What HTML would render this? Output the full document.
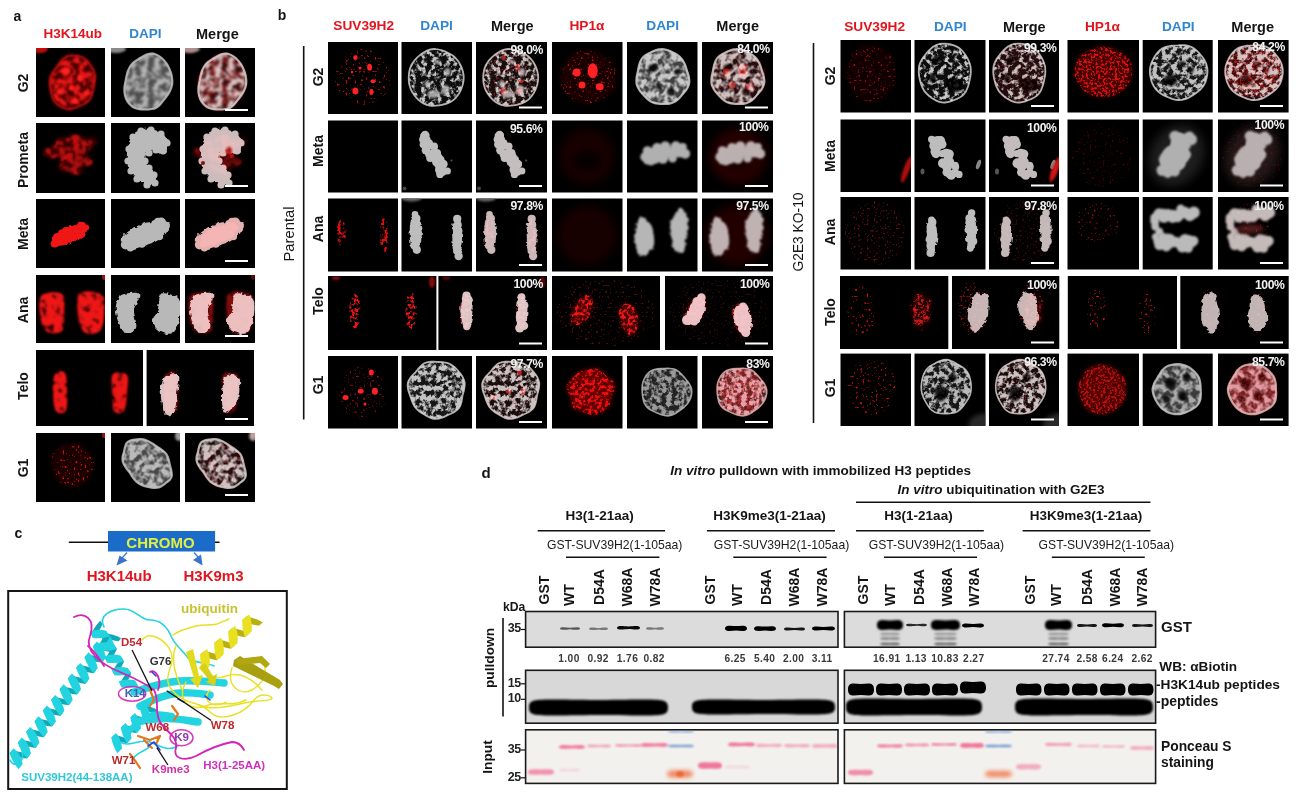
<!DOCTYPE html>
<html><head><meta charset="utf-8"><style>
html,body{margin:0;padding:0;background:#fff;}
#fig{filter:blur(0.35px);position:relative;width:1299px;height:801px;overflow:hidden;background:#fff;font-family:'Liberation Sans', sans-serif;}
.t{position:absolute;white-space:nowrap;line-height:1;}
svg{position:absolute;left:0;top:0;}
</style></head><body><div id="fig">
<svg width="1299" height="801" viewBox="0 0 1299 801">
<defs>
<filter id="b05" x="-20%" y="-20%" width="140%" height="140%"><feGaussianBlur stdDeviation="0.5"/></filter>
<filter id="b1" x="-30%" y="-30%" width="160%" height="160%"><feGaussianBlur stdDeviation="1"/></filter>
<filter id="b2" x="-50%" y="-50%" width="200%" height="200%"><feGaussianBlur stdDeviation="2"/></filter>
<filter id="b3" x="-50%" y="-50%" width="200%" height="200%"><feGaussianBlur stdDeviation="3"/></filter>
<filter id="b5" x="-50%" y="-50%" width="200%" height="200%"><feGaussianBlur stdDeviation="5"/></filter>
<filter id="net1" filterUnits="userSpaceOnUse" x="-20" y="-20" width="160" height="120"><feTurbulence type="fractalNoise" baseFrequency="0.13" numOctaves="3" seed="7" result="n"/><feColorMatrix in="n" type="matrix" values="0 0 0 0 0 0 0 0 0 0 0 0 0 0 0 5 0 0 0 -2.05" result="m"/><feComposite in="SourceGraphic" in2="m" operator="in" result="c"/><feGaussianBlur in="c" stdDeviation="0.45"/></filter>
<filter id="nts1" filterUnits="userSpaceOnUse" x="-20" y="-20" width="160" height="120"><feTurbulence type="fractalNoise" baseFrequency="0.16" numOctaves="2" seed="5" result="n"/><feColorMatrix in="n" type="matrix" values="0 0 0 0 0 0 0 0 0 0 0 0 0 0 0 3.5 0 0 0 -1.2" result="m"/><feComposite in="SourceGraphic" in2="m" operator="in" result="c"/><feGaussianBlur in="c" stdDeviation="0.5"/></filter>
<filter id="spk1" filterUnits="userSpaceOnUse" x="-20" y="-20" width="160" height="120"><feTurbulence type="fractalNoise" baseFrequency="0.45" numOctaves="1" seed="3" result="n"/><feColorMatrix in="n" type="matrix" values="0 0 0 0 0 0 0 0 0 0 0 0 0 0 0 8 0 0 0 -4.9" result="m"/><feComposite in="SourceGraphic" in2="m" operator="in" result="c"/><feGaussianBlur in="c" stdDeviation="0.4"/></filter>
<filter id="spd1" filterUnits="userSpaceOnUse" x="-20" y="-20" width="160" height="120"><feTurbulence type="fractalNoise" baseFrequency="0.3" numOctaves="2" seed="11" result="n"/><feColorMatrix in="n" type="matrix" values="0 0 0 0 0 0 0 0 0 0 0 0 0 0 0 6 0 0 0 -2.8" result="m"/><feComposite in="SourceGraphic" in2="m" operator="in" result="c"/><feGaussianBlur in="c" stdDeviation="0.45"/></filter>
<filter id="nef1" filterUnits="userSpaceOnUse" x="-20" y="-20" width="160" height="120"><feTurbulence type="fractalNoise" baseFrequency="0.2" numOctaves="3" seed="17" result="n"/><feColorMatrix in="n" type="matrix" values="0 0 0 0 0 0 0 0 0 0 0 0 0 0 0 5 0 0 0 -2.0" result="m"/><feComposite in="SourceGraphic" in2="m" operator="in" result="c"/><feGaussianBlur in="c" stdDeviation="0.4"/></filter>
<filter id="nfd1" filterUnits="userSpaceOnUse" x="-20" y="-20" width="160" height="120"><feTurbulence type="fractalNoise" baseFrequency="0.2" numOctaves="3" seed="19" result="n"/><feColorMatrix in="n" type="matrix" values="0 0 0 0 0 0 0 0 0 0 0 0 0 0 0 5 0 0 0 -2.35" result="m"/><feComposite in="SourceGraphic" in2="m" operator="in" result="c"/><feGaussianBlur in="c" stdDeviation="0.4"/></filter>
<filter id="spf1" filterUnits="userSpaceOnUse" x="-20" y="-20" width="160" height="120"><feTurbulence type="fractalNoise" baseFrequency="0.42" numOctaves="2" seed="23" result="n"/><feColorMatrix in="n" type="matrix" values="0 0 0 0 0 0 0 0 0 0 0 0 0 0 0 6 0 0 0 -2.9" result="m"/><feComposite in="SourceGraphic" in2="m" operator="in" result="c"/><feGaussianBlur in="c" stdDeviation="0.4"/></filter>
<filter id="rsm1" filterUnits="userSpaceOnUse" x="-20" y="-20" width="160" height="120"><feTurbulence type="fractalNoise" baseFrequency="0.16" numOctaves="2" seed="29" result="n"/><feColorMatrix in="n" type="matrix" values="0 0 0 0 0 0 0 0 0 0 0 0 0 0 0 4 0 0 0 -1.5" result="m"/><feComposite in="SourceGraphic" in2="m" operator="in" result="c"/><feGaussianBlur in="c" stdDeviation="0.8"/></filter>
<filter id="rsf1" filterUnits="userSpaceOnUse" x="-20" y="-20" width="160" height="120"><feTurbulence type="fractalNoise" baseFrequency="0.16" numOctaves="2" seed="31" result="n"/><feColorMatrix in="n" type="matrix" values="0 0 0 0 0 0 0 0 0 0 0 0 0 0 0 4 0 0 0 -0.9" result="m"/><feComposite in="SourceGraphic" in2="m" operator="in" result="c"/><feGaussianBlur in="c" stdDeviation="0.8"/></filter>
<filter id="net2" filterUnits="userSpaceOnUse" x="-20" y="-20" width="160" height="120"><feTurbulence type="fractalNoise" baseFrequency="0.13" numOctaves="3" seed="14" result="n"/><feColorMatrix in="n" type="matrix" values="0 0 0 0 0 0 0 0 0 0 0 0 0 0 0 5 0 0 0 -2.05" result="m"/><feComposite in="SourceGraphic" in2="m" operator="in" result="c"/><feGaussianBlur in="c" stdDeviation="0.45"/></filter>
<filter id="nts2" filterUnits="userSpaceOnUse" x="-20" y="-20" width="160" height="120"><feTurbulence type="fractalNoise" baseFrequency="0.16" numOctaves="2" seed="10" result="n"/><feColorMatrix in="n" type="matrix" values="0 0 0 0 0 0 0 0 0 0 0 0 0 0 0 3.5 0 0 0 -1.2" result="m"/><feComposite in="SourceGraphic" in2="m" operator="in" result="c"/><feGaussianBlur in="c" stdDeviation="0.5"/></filter>
<filter id="spk2" filterUnits="userSpaceOnUse" x="-20" y="-20" width="160" height="120"><feTurbulence type="fractalNoise" baseFrequency="0.45" numOctaves="1" seed="6" result="n"/><feColorMatrix in="n" type="matrix" values="0 0 0 0 0 0 0 0 0 0 0 0 0 0 0 8 0 0 0 -4.9" result="m"/><feComposite in="SourceGraphic" in2="m" operator="in" result="c"/><feGaussianBlur in="c" stdDeviation="0.4"/></filter>
<filter id="spd2" filterUnits="userSpaceOnUse" x="-20" y="-20" width="160" height="120"><feTurbulence type="fractalNoise" baseFrequency="0.3" numOctaves="2" seed="22" result="n"/><feColorMatrix in="n" type="matrix" values="0 0 0 0 0 0 0 0 0 0 0 0 0 0 0 6 0 0 0 -2.8" result="m"/><feComposite in="SourceGraphic" in2="m" operator="in" result="c"/><feGaussianBlur in="c" stdDeviation="0.45"/></filter>
<filter id="nef2" filterUnits="userSpaceOnUse" x="-20" y="-20" width="160" height="120"><feTurbulence type="fractalNoise" baseFrequency="0.2" numOctaves="3" seed="34" result="n"/><feColorMatrix in="n" type="matrix" values="0 0 0 0 0 0 0 0 0 0 0 0 0 0 0 5 0 0 0 -2.0" result="m"/><feComposite in="SourceGraphic" in2="m" operator="in" result="c"/><feGaussianBlur in="c" stdDeviation="0.4"/></filter>
<filter id="nfd2" filterUnits="userSpaceOnUse" x="-20" y="-20" width="160" height="120"><feTurbulence type="fractalNoise" baseFrequency="0.2" numOctaves="3" seed="38" result="n"/><feColorMatrix in="n" type="matrix" values="0 0 0 0 0 0 0 0 0 0 0 0 0 0 0 5 0 0 0 -2.35" result="m"/><feComposite in="SourceGraphic" in2="m" operator="in" result="c"/><feGaussianBlur in="c" stdDeviation="0.4"/></filter>
<filter id="spf2" filterUnits="userSpaceOnUse" x="-20" y="-20" width="160" height="120"><feTurbulence type="fractalNoise" baseFrequency="0.42" numOctaves="2" seed="46" result="n"/><feColorMatrix in="n" type="matrix" values="0 0 0 0 0 0 0 0 0 0 0 0 0 0 0 6 0 0 0 -2.9" result="m"/><feComposite in="SourceGraphic" in2="m" operator="in" result="c"/><feGaussianBlur in="c" stdDeviation="0.4"/></filter>
<filter id="rsm2" filterUnits="userSpaceOnUse" x="-20" y="-20" width="160" height="120"><feTurbulence type="fractalNoise" baseFrequency="0.16" numOctaves="2" seed="58" result="n"/><feColorMatrix in="n" type="matrix" values="0 0 0 0 0 0 0 0 0 0 0 0 0 0 0 4 0 0 0 -1.5" result="m"/><feComposite in="SourceGraphic" in2="m" operator="in" result="c"/><feGaussianBlur in="c" stdDeviation="0.8"/></filter>
<filter id="rsf2" filterUnits="userSpaceOnUse" x="-20" y="-20" width="160" height="120"><feTurbulence type="fractalNoise" baseFrequency="0.16" numOctaves="2" seed="62" result="n"/><feColorMatrix in="n" type="matrix" values="0 0 0 0 0 0 0 0 0 0 0 0 0 0 0 4 0 0 0 -0.9" result="m"/><feComposite in="SourceGraphic" in2="m" operator="in" result="c"/><feGaussianBlur in="c" stdDeviation="0.8"/></filter>
<filter id="net3" filterUnits="userSpaceOnUse" x="-20" y="-20" width="160" height="120"><feTurbulence type="fractalNoise" baseFrequency="0.13" numOctaves="3" seed="21" result="n"/><feColorMatrix in="n" type="matrix" values="0 0 0 0 0 0 0 0 0 0 0 0 0 0 0 5 0 0 0 -2.05" result="m"/><feComposite in="SourceGraphic" in2="m" operator="in" result="c"/><feGaussianBlur in="c" stdDeviation="0.45"/></filter>
<filter id="nts3" filterUnits="userSpaceOnUse" x="-20" y="-20" width="160" height="120"><feTurbulence type="fractalNoise" baseFrequency="0.16" numOctaves="2" seed="15" result="n"/><feColorMatrix in="n" type="matrix" values="0 0 0 0 0 0 0 0 0 0 0 0 0 0 0 3.5 0 0 0 -1.2" result="m"/><feComposite in="SourceGraphic" in2="m" operator="in" result="c"/><feGaussianBlur in="c" stdDeviation="0.5"/></filter>
<filter id="spk3" filterUnits="userSpaceOnUse" x="-20" y="-20" width="160" height="120"><feTurbulence type="fractalNoise" baseFrequency="0.45" numOctaves="1" seed="9" result="n"/><feColorMatrix in="n" type="matrix" values="0 0 0 0 0 0 0 0 0 0 0 0 0 0 0 8 0 0 0 -4.9" result="m"/><feComposite in="SourceGraphic" in2="m" operator="in" result="c"/><feGaussianBlur in="c" stdDeviation="0.4"/></filter>
<filter id="spd3" filterUnits="userSpaceOnUse" x="-20" y="-20" width="160" height="120"><feTurbulence type="fractalNoise" baseFrequency="0.3" numOctaves="2" seed="33" result="n"/><feColorMatrix in="n" type="matrix" values="0 0 0 0 0 0 0 0 0 0 0 0 0 0 0 6 0 0 0 -2.8" result="m"/><feComposite in="SourceGraphic" in2="m" operator="in" result="c"/><feGaussianBlur in="c" stdDeviation="0.45"/></filter>
<filter id="nef3" filterUnits="userSpaceOnUse" x="-20" y="-20" width="160" height="120"><feTurbulence type="fractalNoise" baseFrequency="0.2" numOctaves="3" seed="51" result="n"/><feColorMatrix in="n" type="matrix" values="0 0 0 0 0 0 0 0 0 0 0 0 0 0 0 5 0 0 0 -2.0" result="m"/><feComposite in="SourceGraphic" in2="m" operator="in" result="c"/><feGaussianBlur in="c" stdDeviation="0.4"/></filter>
<filter id="nfd3" filterUnits="userSpaceOnUse" x="-20" y="-20" width="160" height="120"><feTurbulence type="fractalNoise" baseFrequency="0.2" numOctaves="3" seed="57" result="n"/><feColorMatrix in="n" type="matrix" values="0 0 0 0 0 0 0 0 0 0 0 0 0 0 0 5 0 0 0 -2.35" result="m"/><feComposite in="SourceGraphic" in2="m" operator="in" result="c"/><feGaussianBlur in="c" stdDeviation="0.4"/></filter>
<filter id="spf3" filterUnits="userSpaceOnUse" x="-20" y="-20" width="160" height="120"><feTurbulence type="fractalNoise" baseFrequency="0.42" numOctaves="2" seed="69" result="n"/><feColorMatrix in="n" type="matrix" values="0 0 0 0 0 0 0 0 0 0 0 0 0 0 0 6 0 0 0 -2.9" result="m"/><feComposite in="SourceGraphic" in2="m" operator="in" result="c"/><feGaussianBlur in="c" stdDeviation="0.4"/></filter>
<filter id="rsm3" filterUnits="userSpaceOnUse" x="-20" y="-20" width="160" height="120"><feTurbulence type="fractalNoise" baseFrequency="0.16" numOctaves="2" seed="87" result="n"/><feColorMatrix in="n" type="matrix" values="0 0 0 0 0 0 0 0 0 0 0 0 0 0 0 4 0 0 0 -1.5" result="m"/><feComposite in="SourceGraphic" in2="m" operator="in" result="c"/><feGaussianBlur in="c" stdDeviation="0.8"/></filter>
<filter id="rsf3" filterUnits="userSpaceOnUse" x="-20" y="-20" width="160" height="120"><feTurbulence type="fractalNoise" baseFrequency="0.16" numOctaves="2" seed="93" result="n"/><feColorMatrix in="n" type="matrix" values="0 0 0 0 0 0 0 0 0 0 0 0 0 0 0 4 0 0 0 -0.9" result="m"/><feComposite in="SourceGraphic" in2="m" operator="in" result="c"/><feGaussianBlur in="c" stdDeviation="0.8"/></filter>
<filter id="net4" filterUnits="userSpaceOnUse" x="-20" y="-20" width="160" height="120"><feTurbulence type="fractalNoise" baseFrequency="0.13" numOctaves="3" seed="28" result="n"/><feColorMatrix in="n" type="matrix" values="0 0 0 0 0 0 0 0 0 0 0 0 0 0 0 5 0 0 0 -2.05" result="m"/><feComposite in="SourceGraphic" in2="m" operator="in" result="c"/><feGaussianBlur in="c" stdDeviation="0.45"/></filter>
<filter id="nts4" filterUnits="userSpaceOnUse" x="-20" y="-20" width="160" height="120"><feTurbulence type="fractalNoise" baseFrequency="0.16" numOctaves="2" seed="20" result="n"/><feColorMatrix in="n" type="matrix" values="0 0 0 0 0 0 0 0 0 0 0 0 0 0 0 3.5 0 0 0 -1.2" result="m"/><feComposite in="SourceGraphic" in2="m" operator="in" result="c"/><feGaussianBlur in="c" stdDeviation="0.5"/></filter>
<filter id="spk4" filterUnits="userSpaceOnUse" x="-20" y="-20" width="160" height="120"><feTurbulence type="fractalNoise" baseFrequency="0.45" numOctaves="1" seed="12" result="n"/><feColorMatrix in="n" type="matrix" values="0 0 0 0 0 0 0 0 0 0 0 0 0 0 0 8 0 0 0 -4.9" result="m"/><feComposite in="SourceGraphic" in2="m" operator="in" result="c"/><feGaussianBlur in="c" stdDeviation="0.4"/></filter>
<filter id="spd4" filterUnits="userSpaceOnUse" x="-20" y="-20" width="160" height="120"><feTurbulence type="fractalNoise" baseFrequency="0.3" numOctaves="2" seed="44" result="n"/><feColorMatrix in="n" type="matrix" values="0 0 0 0 0 0 0 0 0 0 0 0 0 0 0 6 0 0 0 -2.8" result="m"/><feComposite in="SourceGraphic" in2="m" operator="in" result="c"/><feGaussianBlur in="c" stdDeviation="0.45"/></filter>
<filter id="nef4" filterUnits="userSpaceOnUse" x="-20" y="-20" width="160" height="120"><feTurbulence type="fractalNoise" baseFrequency="0.2" numOctaves="3" seed="68" result="n"/><feColorMatrix in="n" type="matrix" values="0 0 0 0 0 0 0 0 0 0 0 0 0 0 0 5 0 0 0 -2.0" result="m"/><feComposite in="SourceGraphic" in2="m" operator="in" result="c"/><feGaussianBlur in="c" stdDeviation="0.4"/></filter>
<filter id="nfd4" filterUnits="userSpaceOnUse" x="-20" y="-20" width="160" height="120"><feTurbulence type="fractalNoise" baseFrequency="0.2" numOctaves="3" seed="76" result="n"/><feColorMatrix in="n" type="matrix" values="0 0 0 0 0 0 0 0 0 0 0 0 0 0 0 5 0 0 0 -2.35" result="m"/><feComposite in="SourceGraphic" in2="m" operator="in" result="c"/><feGaussianBlur in="c" stdDeviation="0.4"/></filter>
<filter id="spf4" filterUnits="userSpaceOnUse" x="-20" y="-20" width="160" height="120"><feTurbulence type="fractalNoise" baseFrequency="0.42" numOctaves="2" seed="92" result="n"/><feColorMatrix in="n" type="matrix" values="0 0 0 0 0 0 0 0 0 0 0 0 0 0 0 6 0 0 0 -2.9" result="m"/><feComposite in="SourceGraphic" in2="m" operator="in" result="c"/><feGaussianBlur in="c" stdDeviation="0.4"/></filter>
<filter id="rsm4" filterUnits="userSpaceOnUse" x="-20" y="-20" width="160" height="120"><feTurbulence type="fractalNoise" baseFrequency="0.16" numOctaves="2" seed="116" result="n"/><feColorMatrix in="n" type="matrix" values="0 0 0 0 0 0 0 0 0 0 0 0 0 0 0 4 0 0 0 -1.5" result="m"/><feComposite in="SourceGraphic" in2="m" operator="in" result="c"/><feGaussianBlur in="c" stdDeviation="0.8"/></filter>
<filter id="rsf4" filterUnits="userSpaceOnUse" x="-20" y="-20" width="160" height="120"><feTurbulence type="fractalNoise" baseFrequency="0.16" numOctaves="2" seed="124" result="n"/><feColorMatrix in="n" type="matrix" values="0 0 0 0 0 0 0 0 0 0 0 0 0 0 0 4 0 0 0 -0.9" result="m"/><feComposite in="SourceGraphic" in2="m" operator="in" result="c"/><feGaussianBlur in="c" stdDeviation="0.8"/></filter>
<filter id="net5" filterUnits="userSpaceOnUse" x="-20" y="-20" width="160" height="120"><feTurbulence type="fractalNoise" baseFrequency="0.13" numOctaves="3" seed="35" result="n"/><feColorMatrix in="n" type="matrix" values="0 0 0 0 0 0 0 0 0 0 0 0 0 0 0 5 0 0 0 -2.05" result="m"/><feComposite in="SourceGraphic" in2="m" operator="in" result="c"/><feGaussianBlur in="c" stdDeviation="0.45"/></filter>
<filter id="nts5" filterUnits="userSpaceOnUse" x="-20" y="-20" width="160" height="120"><feTurbulence type="fractalNoise" baseFrequency="0.16" numOctaves="2" seed="25" result="n"/><feColorMatrix in="n" type="matrix" values="0 0 0 0 0 0 0 0 0 0 0 0 0 0 0 3.5 0 0 0 -1.2" result="m"/><feComposite in="SourceGraphic" in2="m" operator="in" result="c"/><feGaussianBlur in="c" stdDeviation="0.5"/></filter>
<filter id="spk5" filterUnits="userSpaceOnUse" x="-20" y="-20" width="160" height="120"><feTurbulence type="fractalNoise" baseFrequency="0.45" numOctaves="1" seed="15" result="n"/><feColorMatrix in="n" type="matrix" values="0 0 0 0 0 0 0 0 0 0 0 0 0 0 0 8 0 0 0 -4.9" result="m"/><feComposite in="SourceGraphic" in2="m" operator="in" result="c"/><feGaussianBlur in="c" stdDeviation="0.4"/></filter>
<filter id="spd5" filterUnits="userSpaceOnUse" x="-20" y="-20" width="160" height="120"><feTurbulence type="fractalNoise" baseFrequency="0.3" numOctaves="2" seed="55" result="n"/><feColorMatrix in="n" type="matrix" values="0 0 0 0 0 0 0 0 0 0 0 0 0 0 0 6 0 0 0 -2.8" result="m"/><feComposite in="SourceGraphic" in2="m" operator="in" result="c"/><feGaussianBlur in="c" stdDeviation="0.45"/></filter>
<filter id="nef5" filterUnits="userSpaceOnUse" x="-20" y="-20" width="160" height="120"><feTurbulence type="fractalNoise" baseFrequency="0.2" numOctaves="3" seed="85" result="n"/><feColorMatrix in="n" type="matrix" values="0 0 0 0 0 0 0 0 0 0 0 0 0 0 0 5 0 0 0 -2.0" result="m"/><feComposite in="SourceGraphic" in2="m" operator="in" result="c"/><feGaussianBlur in="c" stdDeviation="0.4"/></filter>
<filter id="nfd5" filterUnits="userSpaceOnUse" x="-20" y="-20" width="160" height="120"><feTurbulence type="fractalNoise" baseFrequency="0.2" numOctaves="3" seed="95" result="n"/><feColorMatrix in="n" type="matrix" values="0 0 0 0 0 0 0 0 0 0 0 0 0 0 0 5 0 0 0 -2.35" result="m"/><feComposite in="SourceGraphic" in2="m" operator="in" result="c"/><feGaussianBlur in="c" stdDeviation="0.4"/></filter>
<filter id="spf5" filterUnits="userSpaceOnUse" x="-20" y="-20" width="160" height="120"><feTurbulence type="fractalNoise" baseFrequency="0.42" numOctaves="2" seed="115" result="n"/><feColorMatrix in="n" type="matrix" values="0 0 0 0 0 0 0 0 0 0 0 0 0 0 0 6 0 0 0 -2.9" result="m"/><feComposite in="SourceGraphic" in2="m" operator="in" result="c"/><feGaussianBlur in="c" stdDeviation="0.4"/></filter>
<filter id="rsm5" filterUnits="userSpaceOnUse" x="-20" y="-20" width="160" height="120"><feTurbulence type="fractalNoise" baseFrequency="0.16" numOctaves="2" seed="145" result="n"/><feColorMatrix in="n" type="matrix" values="0 0 0 0 0 0 0 0 0 0 0 0 0 0 0 4 0 0 0 -1.5" result="m"/><feComposite in="SourceGraphic" in2="m" operator="in" result="c"/><feGaussianBlur in="c" stdDeviation="0.8"/></filter>
<filter id="rsf5" filterUnits="userSpaceOnUse" x="-20" y="-20" width="160" height="120"><feTurbulence type="fractalNoise" baseFrequency="0.16" numOctaves="2" seed="155" result="n"/><feColorMatrix in="n" type="matrix" values="0 0 0 0 0 0 0 0 0 0 0 0 0 0 0 4 0 0 0 -0.9" result="m"/><feComposite in="SourceGraphic" in2="m" operator="in" result="c"/><feGaussianBlur in="c" stdDeviation="0.8"/></filter>
<filter id="net6" filterUnits="userSpaceOnUse" x="-20" y="-20" width="160" height="120"><feTurbulence type="fractalNoise" baseFrequency="0.13" numOctaves="3" seed="42" result="n"/><feColorMatrix in="n" type="matrix" values="0 0 0 0 0 0 0 0 0 0 0 0 0 0 0 5 0 0 0 -2.05" result="m"/><feComposite in="SourceGraphic" in2="m" operator="in" result="c"/><feGaussianBlur in="c" stdDeviation="0.45"/></filter>
<filter id="nts6" filterUnits="userSpaceOnUse" x="-20" y="-20" width="160" height="120"><feTurbulence type="fractalNoise" baseFrequency="0.16" numOctaves="2" seed="30" result="n"/><feColorMatrix in="n" type="matrix" values="0 0 0 0 0 0 0 0 0 0 0 0 0 0 0 3.5 0 0 0 -1.2" result="m"/><feComposite in="SourceGraphic" in2="m" operator="in" result="c"/><feGaussianBlur in="c" stdDeviation="0.5"/></filter>
<filter id="spk6" filterUnits="userSpaceOnUse" x="-20" y="-20" width="160" height="120"><feTurbulence type="fractalNoise" baseFrequency="0.45" numOctaves="1" seed="18" result="n"/><feColorMatrix in="n" type="matrix" values="0 0 0 0 0 0 0 0 0 0 0 0 0 0 0 8 0 0 0 -4.9" result="m"/><feComposite in="SourceGraphic" in2="m" operator="in" result="c"/><feGaussianBlur in="c" stdDeviation="0.4"/></filter>
<filter id="spd6" filterUnits="userSpaceOnUse" x="-20" y="-20" width="160" height="120"><feTurbulence type="fractalNoise" baseFrequency="0.3" numOctaves="2" seed="66" result="n"/><feColorMatrix in="n" type="matrix" values="0 0 0 0 0 0 0 0 0 0 0 0 0 0 0 6 0 0 0 -2.8" result="m"/><feComposite in="SourceGraphic" in2="m" operator="in" result="c"/><feGaussianBlur in="c" stdDeviation="0.45"/></filter>
<filter id="nef6" filterUnits="userSpaceOnUse" x="-20" y="-20" width="160" height="120"><feTurbulence type="fractalNoise" baseFrequency="0.2" numOctaves="3" seed="102" result="n"/><feColorMatrix in="n" type="matrix" values="0 0 0 0 0 0 0 0 0 0 0 0 0 0 0 5 0 0 0 -2.0" result="m"/><feComposite in="SourceGraphic" in2="m" operator="in" result="c"/><feGaussianBlur in="c" stdDeviation="0.4"/></filter>
<filter id="nfd6" filterUnits="userSpaceOnUse" x="-20" y="-20" width="160" height="120"><feTurbulence type="fractalNoise" baseFrequency="0.2" numOctaves="3" seed="114" result="n"/><feColorMatrix in="n" type="matrix" values="0 0 0 0 0 0 0 0 0 0 0 0 0 0 0 5 0 0 0 -2.35" result="m"/><feComposite in="SourceGraphic" in2="m" operator="in" result="c"/><feGaussianBlur in="c" stdDeviation="0.4"/></filter>
<filter id="spf6" filterUnits="userSpaceOnUse" x="-20" y="-20" width="160" height="120"><feTurbulence type="fractalNoise" baseFrequency="0.42" numOctaves="2" seed="138" result="n"/><feColorMatrix in="n" type="matrix" values="0 0 0 0 0 0 0 0 0 0 0 0 0 0 0 6 0 0 0 -2.9" result="m"/><feComposite in="SourceGraphic" in2="m" operator="in" result="c"/><feGaussianBlur in="c" stdDeviation="0.4"/></filter>
<filter id="rsm6" filterUnits="userSpaceOnUse" x="-20" y="-20" width="160" height="120"><feTurbulence type="fractalNoise" baseFrequency="0.16" numOctaves="2" seed="174" result="n"/><feColorMatrix in="n" type="matrix" values="0 0 0 0 0 0 0 0 0 0 0 0 0 0 0 4 0 0 0 -1.5" result="m"/><feComposite in="SourceGraphic" in2="m" operator="in" result="c"/><feGaussianBlur in="c" stdDeviation="0.8"/></filter>
<filter id="rsf6" filterUnits="userSpaceOnUse" x="-20" y="-20" width="160" height="120"><feTurbulence type="fractalNoise" baseFrequency="0.16" numOctaves="2" seed="186" result="n"/><feColorMatrix in="n" type="matrix" values="0 0 0 0 0 0 0 0 0 0 0 0 0 0 0 4 0 0 0 -0.9" result="m"/><feComposite in="SourceGraphic" in2="m" operator="in" result="c"/><feGaussianBlur in="c" stdDeviation="0.8"/></filter>
<filter id="net7" filterUnits="userSpaceOnUse" x="-20" y="-20" width="160" height="120"><feTurbulence type="fractalNoise" baseFrequency="0.13" numOctaves="3" seed="49" result="n"/><feColorMatrix in="n" type="matrix" values="0 0 0 0 0 0 0 0 0 0 0 0 0 0 0 5 0 0 0 -2.05" result="m"/><feComposite in="SourceGraphic" in2="m" operator="in" result="c"/><feGaussianBlur in="c" stdDeviation="0.45"/></filter>
<filter id="nts7" filterUnits="userSpaceOnUse" x="-20" y="-20" width="160" height="120"><feTurbulence type="fractalNoise" baseFrequency="0.16" numOctaves="2" seed="35" result="n"/><feColorMatrix in="n" type="matrix" values="0 0 0 0 0 0 0 0 0 0 0 0 0 0 0 3.5 0 0 0 -1.2" result="m"/><feComposite in="SourceGraphic" in2="m" operator="in" result="c"/><feGaussianBlur in="c" stdDeviation="0.5"/></filter>
<filter id="spk7" filterUnits="userSpaceOnUse" x="-20" y="-20" width="160" height="120"><feTurbulence type="fractalNoise" baseFrequency="0.45" numOctaves="1" seed="21" result="n"/><feColorMatrix in="n" type="matrix" values="0 0 0 0 0 0 0 0 0 0 0 0 0 0 0 8 0 0 0 -4.9" result="m"/><feComposite in="SourceGraphic" in2="m" operator="in" result="c"/><feGaussianBlur in="c" stdDeviation="0.4"/></filter>
<filter id="spd7" filterUnits="userSpaceOnUse" x="-20" y="-20" width="160" height="120"><feTurbulence type="fractalNoise" baseFrequency="0.3" numOctaves="2" seed="77" result="n"/><feColorMatrix in="n" type="matrix" values="0 0 0 0 0 0 0 0 0 0 0 0 0 0 0 6 0 0 0 -2.8" result="m"/><feComposite in="SourceGraphic" in2="m" operator="in" result="c"/><feGaussianBlur in="c" stdDeviation="0.45"/></filter>
<filter id="nef7" filterUnits="userSpaceOnUse" x="-20" y="-20" width="160" height="120"><feTurbulence type="fractalNoise" baseFrequency="0.2" numOctaves="3" seed="119" result="n"/><feColorMatrix in="n" type="matrix" values="0 0 0 0 0 0 0 0 0 0 0 0 0 0 0 5 0 0 0 -2.0" result="m"/><feComposite in="SourceGraphic" in2="m" operator="in" result="c"/><feGaussianBlur in="c" stdDeviation="0.4"/></filter>
<filter id="nfd7" filterUnits="userSpaceOnUse" x="-20" y="-20" width="160" height="120"><feTurbulence type="fractalNoise" baseFrequency="0.2" numOctaves="3" seed="133" result="n"/><feColorMatrix in="n" type="matrix" values="0 0 0 0 0 0 0 0 0 0 0 0 0 0 0 5 0 0 0 -2.35" result="m"/><feComposite in="SourceGraphic" in2="m" operator="in" result="c"/><feGaussianBlur in="c" stdDeviation="0.4"/></filter>
<filter id="spf7" filterUnits="userSpaceOnUse" x="-20" y="-20" width="160" height="120"><feTurbulence type="fractalNoise" baseFrequency="0.42" numOctaves="2" seed="161" result="n"/><feColorMatrix in="n" type="matrix" values="0 0 0 0 0 0 0 0 0 0 0 0 0 0 0 6 0 0 0 -2.9" result="m"/><feComposite in="SourceGraphic" in2="m" operator="in" result="c"/><feGaussianBlur in="c" stdDeviation="0.4"/></filter>
<filter id="rsm7" filterUnits="userSpaceOnUse" x="-20" y="-20" width="160" height="120"><feTurbulence type="fractalNoise" baseFrequency="0.16" numOctaves="2" seed="203" result="n"/><feColorMatrix in="n" type="matrix" values="0 0 0 0 0 0 0 0 0 0 0 0 0 0 0 4 0 0 0 -1.5" result="m"/><feComposite in="SourceGraphic" in2="m" operator="in" result="c"/><feGaussianBlur in="c" stdDeviation="0.8"/></filter>
<filter id="rsf7" filterUnits="userSpaceOnUse" x="-20" y="-20" width="160" height="120"><feTurbulence type="fractalNoise" baseFrequency="0.16" numOctaves="2" seed="217" result="n"/><feColorMatrix in="n" type="matrix" values="0 0 0 0 0 0 0 0 0 0 0 0 0 0 0 4 0 0 0 -0.9" result="m"/><feComposite in="SourceGraphic" in2="m" operator="in" result="c"/><feGaussianBlur in="c" stdDeviation="0.8"/></filter>
<filter id="net8" filterUnits="userSpaceOnUse" x="-20" y="-20" width="160" height="120"><feTurbulence type="fractalNoise" baseFrequency="0.13" numOctaves="3" seed="56" result="n"/><feColorMatrix in="n" type="matrix" values="0 0 0 0 0 0 0 0 0 0 0 0 0 0 0 5 0 0 0 -2.05" result="m"/><feComposite in="SourceGraphic" in2="m" operator="in" result="c"/><feGaussianBlur in="c" stdDeviation="0.45"/></filter>
<filter id="nts8" filterUnits="userSpaceOnUse" x="-20" y="-20" width="160" height="120"><feTurbulence type="fractalNoise" baseFrequency="0.16" numOctaves="2" seed="40" result="n"/><feColorMatrix in="n" type="matrix" values="0 0 0 0 0 0 0 0 0 0 0 0 0 0 0 3.5 0 0 0 -1.2" result="m"/><feComposite in="SourceGraphic" in2="m" operator="in" result="c"/><feGaussianBlur in="c" stdDeviation="0.5"/></filter>
<filter id="spk8" filterUnits="userSpaceOnUse" x="-20" y="-20" width="160" height="120"><feTurbulence type="fractalNoise" baseFrequency="0.45" numOctaves="1" seed="24" result="n"/><feColorMatrix in="n" type="matrix" values="0 0 0 0 0 0 0 0 0 0 0 0 0 0 0 8 0 0 0 -4.9" result="m"/><feComposite in="SourceGraphic" in2="m" operator="in" result="c"/><feGaussianBlur in="c" stdDeviation="0.4"/></filter>
<filter id="spd8" filterUnits="userSpaceOnUse" x="-20" y="-20" width="160" height="120"><feTurbulence type="fractalNoise" baseFrequency="0.3" numOctaves="2" seed="88" result="n"/><feColorMatrix in="n" type="matrix" values="0 0 0 0 0 0 0 0 0 0 0 0 0 0 0 6 0 0 0 -2.8" result="m"/><feComposite in="SourceGraphic" in2="m" operator="in" result="c"/><feGaussianBlur in="c" stdDeviation="0.45"/></filter>
<filter id="nef8" filterUnits="userSpaceOnUse" x="-20" y="-20" width="160" height="120"><feTurbulence type="fractalNoise" baseFrequency="0.2" numOctaves="3" seed="136" result="n"/><feColorMatrix in="n" type="matrix" values="0 0 0 0 0 0 0 0 0 0 0 0 0 0 0 5 0 0 0 -2.0" result="m"/><feComposite in="SourceGraphic" in2="m" operator="in" result="c"/><feGaussianBlur in="c" stdDeviation="0.4"/></filter>
<filter id="nfd8" filterUnits="userSpaceOnUse" x="-20" y="-20" width="160" height="120"><feTurbulence type="fractalNoise" baseFrequency="0.2" numOctaves="3" seed="152" result="n"/><feColorMatrix in="n" type="matrix" values="0 0 0 0 0 0 0 0 0 0 0 0 0 0 0 5 0 0 0 -2.35" result="m"/><feComposite in="SourceGraphic" in2="m" operator="in" result="c"/><feGaussianBlur in="c" stdDeviation="0.4"/></filter>
<filter id="spf8" filterUnits="userSpaceOnUse" x="-20" y="-20" width="160" height="120"><feTurbulence type="fractalNoise" baseFrequency="0.42" numOctaves="2" seed="184" result="n"/><feColorMatrix in="n" type="matrix" values="0 0 0 0 0 0 0 0 0 0 0 0 0 0 0 6 0 0 0 -2.9" result="m"/><feComposite in="SourceGraphic" in2="m" operator="in" result="c"/><feGaussianBlur in="c" stdDeviation="0.4"/></filter>
<filter id="rsm8" filterUnits="userSpaceOnUse" x="-20" y="-20" width="160" height="120"><feTurbulence type="fractalNoise" baseFrequency="0.16" numOctaves="2" seed="232" result="n"/><feColorMatrix in="n" type="matrix" values="0 0 0 0 0 0 0 0 0 0 0 0 0 0 0 4 0 0 0 -1.5" result="m"/><feComposite in="SourceGraphic" in2="m" operator="in" result="c"/><feGaussianBlur in="c" stdDeviation="0.8"/></filter>
<filter id="rsf8" filterUnits="userSpaceOnUse" x="-20" y="-20" width="160" height="120"><feTurbulence type="fractalNoise" baseFrequency="0.16" numOctaves="2" seed="248" result="n"/><feColorMatrix in="n" type="matrix" values="0 0 0 0 0 0 0 0 0 0 0 0 0 0 0 4 0 0 0 -0.9" result="m"/><feComposite in="SourceGraphic" in2="m" operator="in" result="c"/><feGaussianBlur in="c" stdDeviation="0.8"/></filter>
<filter id="lump1" x="-30%" y="-30%" width="160%" height="160%"><feTurbulence type="fractalNoise" baseFrequency="0.22" numOctaves="2" seed="13" result="n"/><feDisplacementMap in="SourceGraphic" in2="n" scale="5" xChannelSelector="R" yChannelSelector="G" result="d"/><feGaussianBlur in="d" stdDeviation="0.5"/></filter>
<filter id="lump2" x="-30%" y="-30%" width="160%" height="160%"><feTurbulence type="fractalNoise" baseFrequency="0.22" numOctaves="2" seed="26" result="n"/><feDisplacementMap in="SourceGraphic" in2="n" scale="5" xChannelSelector="R" yChannelSelector="G" result="d"/><feGaussianBlur in="d" stdDeviation="0.5"/></filter>
<filter id="lump3" x="-30%" y="-30%" width="160%" height="160%"><feTurbulence type="fractalNoise" baseFrequency="0.22" numOctaves="2" seed="39" result="n"/><feDisplacementMap in="SourceGraphic" in2="n" scale="5" xChannelSelector="R" yChannelSelector="G" result="d"/><feGaussianBlur in="d" stdDeviation="0.5"/></filter>
<filter id="lump4" x="-30%" y="-30%" width="160%" height="160%"><feTurbulence type="fractalNoise" baseFrequency="0.22" numOctaves="2" seed="52" result="n"/><feDisplacementMap in="SourceGraphic" in2="n" scale="5" xChannelSelector="R" yChannelSelector="G" result="d"/><feGaussianBlur in="d" stdDeviation="0.5"/></filter>
</defs>
<line x1="303.7" y1="46.0" x2="303.7" y2="419.5" stroke="#111" stroke-width="1.6"/>
<line x1="813.5" y1="43.0" x2="813.5" y2="423.0" stroke="#111" stroke-width="1.6"/>
<line x1="68.8" y1="542.3" x2="219.6" y2="542.3" stroke="#111" stroke-width="1.6"/>
<rect x="108.0" y="531.0" width="107.1" height="20.5" fill="#1a6cc8" />
<rect x="8.2" y="591.0" width="278.6" height="198.0" fill="none" stroke="#151515" stroke-width="2"/>
<line x1="856.0" y1="502.3" x2="1150.4" y2="502.3" stroke="#111" stroke-width="1.6"/>
<line x1="537.7" y1="530.7" x2="665.0" y2="530.7" stroke="#111" stroke-width="1.6"/>
<line x1="707.0" y1="530.7" x2="835.0" y2="530.7" stroke="#111" stroke-width="1.6"/>
<line x1="856.0" y1="530.7" x2="983.8" y2="530.7" stroke="#111" stroke-width="1.6"/>
<line x1="1022.6" y1="530.7" x2="1150.4" y2="530.7" stroke="#111" stroke-width="1.6"/>
<line x1="566.0" y1="557.2" x2="659.4" y2="557.2" stroke="#111" stroke-width="1.6"/>
<line x1="733.3" y1="557.2" x2="826.6" y2="557.2" stroke="#111" stroke-width="1.6"/>
<line x1="884.0" y1="557.2" x2="977.0" y2="557.2" stroke="#111" stroke-width="1.6"/>
<line x1="1051.9" y1="557.2" x2="1144.8" y2="557.2" stroke="#111" stroke-width="1.6"/>
<rect x="525.6" y="611.5" width="312.4" height="35.7" fill="#dcdcdc" stroke="#1a1a1a" stroke-width="1.6"/>
<rect x="525.6" y="670.3" width="312.4" height="52.9" fill="#d8d8d8" stroke="#1a1a1a" stroke-width="1.6"/>
<rect x="525.6" y="729.8" width="312.4" height="53.6" fill="#f3f1ee" stroke="#1a1a1a" stroke-width="1.6"/>
<rect x="844.4" y="611.5" width="311.2" height="35.7" fill="#dcdcdc" stroke="#1a1a1a" stroke-width="1.6"/>
<rect x="844.4" y="670.3" width="311.2" height="52.9" fill="#d8d8d8" stroke="#1a1a1a" stroke-width="1.6"/>
<rect x="844.4" y="729.8" width="311.2" height="53.6" fill="#f3f1ee" stroke="#1a1a1a" stroke-width="1.6"/>
<line x1="521.0" y1="629.5" x2="525.0" y2="629.5" stroke="#111" stroke-width="1.2"/>
<line x1="521.0" y1="683.8" x2="525.0" y2="683.8" stroke="#111" stroke-width="1.2"/>
<line x1="521.0" y1="699.3" x2="525.0" y2="699.3" stroke="#111" stroke-width="1.2"/>
<line x1="521.0" y1="750.0" x2="525.0" y2="750.0" stroke="#111" stroke-width="1.2"/>
<line x1="521.0" y1="777.8" x2="525.0" y2="777.8" stroke="#111" stroke-width="1.2"/>
<line x1="503.0" y1="618.0" x2="503.0" y2="716.4" stroke="#111" stroke-width="1.6"/>
<rect x="36.0" y="48.0" width="69.0" height="69.0" fill="#000"/>
<clipPath id="q1"><rect x="0" y="0" width="69.0" height="69.0"/></clipPath>
<g transform="translate(36.0,48.0)"><g clip-path="url(#q1)">
<ellipse cx="4.0" cy="1.0" rx="8.0" ry="4.0" transform="rotate(0 4.0 1.0)" fill="#c01010" filter="url(#b1)"/>
<path d="M57.3,40.1C56.9,42.0 56.7,44.1 56.0,46.1C55.4,48.0 54.6,50.2 53.4,51.7C52.2,53.3 50.5,54.5 48.9,55.5C47.4,56.5 45.6,57.0 44.0,57.7C42.4,58.4 40.9,59.1 39.3,59.7C37.7,60.2 36.1,60.9 34.4,61.0C32.8,61.2 31.1,61.0 29.5,60.6C27.9,60.2 26.4,59.4 25.0,58.7C23.5,57.9 22.0,57.0 20.7,55.8C19.5,54.7 18.3,53.2 17.4,51.6C16.6,50.0 16.1,48.1 15.6,46.2C15.2,44.4 14.9,42.5 14.6,40.6C14.3,38.7 13.9,36.7 13.9,34.8C13.9,32.8 14.1,30.6 14.8,28.7C15.4,26.8 16.6,25.0 17.7,23.4C18.8,21.7 20.0,20.4 21.2,18.8C22.3,17.3 23.2,15.6 24.4,14.1C25.6,12.6 27.0,10.9 28.5,9.8C30.0,8.8 31.8,8.1 33.5,7.8C35.2,7.4 36.9,7.5 38.6,7.7C40.3,7.8 41.9,8.0 43.5,8.4C45.1,8.9 46.7,9.4 48.0,10.3C49.4,11.2 50.6,12.5 51.8,13.8C52.9,15.1 53.9,16.5 54.9,18.0C55.8,19.4 56.9,20.9 57.6,22.6C58.3,24.3 58.8,26.3 58.9,28.2C59.1,30.2 58.7,32.3 58.4,34.3C58.2,36.2 57.7,38.1 57.3,40.1Z" fill="#700000" filter="url(#b2)" opacity="0.6" />
<path d="M57.3,40.1C56.9,42.0 56.7,44.1 56.0,46.1C55.4,48.0 54.6,50.2 53.4,51.7C52.2,53.3 50.5,54.5 48.9,55.5C47.4,56.5 45.6,57.0 44.0,57.7C42.4,58.4 40.9,59.1 39.3,59.7C37.7,60.2 36.1,60.9 34.4,61.0C32.8,61.2 31.1,61.0 29.5,60.6C27.9,60.2 26.4,59.4 25.0,58.7C23.5,57.9 22.0,57.0 20.7,55.8C19.5,54.7 18.3,53.2 17.4,51.6C16.6,50.0 16.1,48.1 15.6,46.2C15.2,44.4 14.9,42.5 14.6,40.6C14.3,38.7 13.9,36.7 13.9,34.8C13.9,32.8 14.1,30.6 14.8,28.7C15.4,26.8 16.6,25.0 17.7,23.4C18.8,21.7 20.0,20.4 21.2,18.8C22.3,17.3 23.2,15.6 24.4,14.1C25.6,12.6 27.0,10.9 28.5,9.8C30.0,8.8 31.8,8.1 33.5,7.8C35.2,7.4 36.9,7.5 38.6,7.7C40.3,7.8 41.9,8.0 43.5,8.4C45.1,8.9 46.7,9.4 48.0,10.3C49.4,11.2 50.6,12.5 51.8,13.8C52.9,15.1 53.9,16.5 54.9,18.0C55.8,19.4 56.9,20.9 57.6,22.6C58.3,24.3 58.8,26.3 58.9,28.2C59.1,30.2 58.7,32.3 58.4,34.3C58.2,36.2 57.7,38.1 57.3,40.1Z" fill="#e81414" filter="url(#rsm1)" />
<ellipse cx="30.0" cy="23.0" rx="4.5" ry="4.0" transform="rotate(0 30.0 23.0)" fill="#ff2020" filter="url(#b1)"/>
<ellipse cx="44.0" cy="30.0" rx="3.0" ry="3.5" transform="rotate(0 44.0 30.0)" fill="#ff2020" filter="url(#b1)"/>
<ellipse cx="24.0" cy="44.0" rx="3.0" ry="3.0" transform="rotate(0 24.0 44.0)" fill="#ff2020" filter="url(#b1)"/>
<ellipse cx="39.0" cy="53.0" rx="3.0" ry="2.5" transform="rotate(0 39.0 53.0)" fill="#ff2020" filter="url(#b1)"/>
<ellipse cx="50.0" cy="45.0" rx="2.5" ry="2.0" transform="rotate(0 50.0 45.0)" fill="#ff2020" filter="url(#b1)"/>
<ellipse cx="35.0" cy="40.0" rx="2.5" ry="2.5" transform="rotate(0 35.0 40.0)" fill="#ff2020" filter="url(#b1)"/>
<path d="M57.3,40.1C56.9,42.0 56.7,44.1 56.0,46.1C55.4,48.0 54.6,50.2 53.4,51.7C52.2,53.3 50.5,54.5 48.9,55.5C47.4,56.5 45.6,57.0 44.0,57.7C42.4,58.4 40.9,59.1 39.3,59.7C37.7,60.2 36.1,60.9 34.4,61.0C32.8,61.2 31.1,61.0 29.5,60.6C27.9,60.2 26.4,59.4 25.0,58.7C23.5,57.9 22.0,57.0 20.7,55.8C19.5,54.7 18.3,53.2 17.4,51.6C16.6,50.0 16.1,48.1 15.6,46.2C15.2,44.4 14.9,42.5 14.6,40.6C14.3,38.7 13.9,36.7 13.9,34.8C13.9,32.8 14.1,30.6 14.8,28.7C15.4,26.8 16.6,25.0 17.7,23.4C18.8,21.7 20.0,20.4 21.2,18.8C22.3,17.3 23.2,15.6 24.4,14.1C25.6,12.6 27.0,10.9 28.5,9.8C30.0,8.8 31.8,8.1 33.5,7.8C35.2,7.4 36.9,7.5 38.6,7.7C40.3,7.8 41.9,8.0 43.5,8.4C45.1,8.9 46.7,9.4 48.0,10.3C49.4,11.2 50.6,12.5 51.8,13.8C52.9,15.1 53.9,16.5 54.9,18.0C55.8,19.4 56.9,20.9 57.6,22.6C58.3,24.3 58.8,26.3 58.9,28.2C59.1,30.2 58.7,32.3 58.4,34.3C58.2,36.2 57.7,38.1 57.3,40.1Z" fill="none" filter="url(#b1)" stroke="#c81010" stroke-width="2"/>
</g></g>
<rect x="111.0" y="48.0" width="69.0" height="69.0" fill="#000"/>
<clipPath id="q2"><rect x="0" y="0" width="69.0" height="69.0"/></clipPath>
<g transform="translate(111.0,48.0)"><g clip-path="url(#q2)">
<ellipse cx="5.0" cy="1.0" rx="10.0" ry="4.0" transform="rotate(0 5.0 1.0)" fill="#8a8a8a" filter="url(#b1)"/>
<path d="M59.1,42.5C58.2,44.5 56.9,46.2 55.7,48.0C54.5,49.7 53.3,51.3 52.0,52.9C50.7,54.5 49.5,56.3 47.9,57.6C46.4,58.9 44.6,60.0 42.9,60.6C41.2,61.3 39.3,61.4 37.6,61.5C35.8,61.6 34.2,61.4 32.5,61.4C30.8,61.3 29.1,61.3 27.4,60.9C25.7,60.6 24.0,60.1 22.5,59.3C20.9,58.4 19.5,57.2 18.3,55.8C17.1,54.4 16.1,52.8 15.3,51.0C14.5,49.2 13.9,47.2 13.6,45.2C13.4,43.2 13.4,41.0 13.6,39.0C13.8,36.9 14.3,34.9 14.7,32.9C15.0,30.8 15.3,28.8 15.9,26.8C16.4,24.8 16.9,22.6 17.9,20.7C18.8,18.8 20.1,17.0 21.5,15.5C22.9,14.1 24.7,13.0 26.3,11.9C27.9,10.8 29.5,9.9 31.2,9.0C32.9,8.0 34.6,7.0 36.4,6.4C38.2,5.8 40.1,5.5 41.9,5.6C43.6,5.8 45.3,6.5 46.9,7.4C48.4,8.2 49.8,9.4 51.1,10.5C52.4,11.7 53.6,13.0 54.6,14.4C55.7,15.8 56.7,17.3 57.5,18.9C58.3,20.6 59.0,22.3 59.6,24.1C60.2,26.0 60.8,27.9 61.0,29.9C61.3,31.9 61.4,34.2 61.1,36.3C60.8,38.4 60.0,40.6 59.1,42.5Z" fill="#505050" filter="url(#b05)" />
<path d="M59.1,42.5C58.2,44.5 56.9,46.2 55.7,48.0C54.5,49.7 53.3,51.3 52.0,52.9C50.7,54.5 49.5,56.3 47.9,57.6C46.4,58.9 44.6,60.0 42.9,60.6C41.2,61.3 39.3,61.4 37.6,61.5C35.8,61.6 34.2,61.4 32.5,61.4C30.8,61.3 29.1,61.3 27.4,60.9C25.7,60.6 24.0,60.1 22.5,59.3C20.9,58.4 19.5,57.2 18.3,55.8C17.1,54.4 16.1,52.8 15.3,51.0C14.5,49.2 13.9,47.2 13.6,45.2C13.4,43.2 13.4,41.0 13.6,39.0C13.8,36.9 14.3,34.9 14.7,32.9C15.0,30.8 15.3,28.8 15.9,26.8C16.4,24.8 16.9,22.6 17.9,20.7C18.8,18.8 20.1,17.0 21.5,15.5C22.9,14.1 24.7,13.0 26.3,11.9C27.9,10.8 29.5,9.9 31.2,9.0C32.9,8.0 34.6,7.0 36.4,6.4C38.2,5.8 40.1,5.5 41.9,5.6C43.6,5.8 45.3,6.5 46.9,7.4C48.4,8.2 49.8,9.4 51.1,10.5C52.4,11.7 53.6,13.0 54.6,14.4C55.7,15.8 56.7,17.3 57.5,18.9C58.3,20.6 59.0,22.3 59.6,24.1C60.2,26.0 60.8,27.9 61.0,29.9C61.3,31.9 61.4,34.2 61.1,36.3C60.8,38.4 60.0,40.6 59.1,42.5Z" fill="#b4b4b4" filter="url(#rsm2)" />
<path d="M59.1,42.5C58.2,44.5 56.9,46.2 55.7,48.0C54.5,49.7 53.3,51.3 52.0,52.9C50.7,54.5 49.5,56.3 47.9,57.6C46.4,58.9 44.6,60.0 42.9,60.6C41.2,61.3 39.3,61.4 37.6,61.5C35.8,61.6 34.2,61.4 32.5,61.4C30.8,61.3 29.1,61.3 27.4,60.9C25.7,60.6 24.0,60.1 22.5,59.3C20.9,58.4 19.5,57.2 18.3,55.8C17.1,54.4 16.1,52.8 15.3,51.0C14.5,49.2 13.9,47.2 13.6,45.2C13.4,43.2 13.4,41.0 13.6,39.0C13.8,36.9 14.3,34.9 14.7,32.9C15.0,30.8 15.3,28.8 15.9,26.8C16.4,24.8 16.9,22.6 17.9,20.7C18.8,18.8 20.1,17.0 21.5,15.5C22.9,14.1 24.7,13.0 26.3,11.9C27.9,10.8 29.5,9.9 31.2,9.0C32.9,8.0 34.6,7.0 36.4,6.4C38.2,5.8 40.1,5.5 41.9,5.6C43.6,5.8 45.3,6.5 46.9,7.4C48.4,8.2 49.8,9.4 51.1,10.5C52.4,11.7 53.6,13.0 54.6,14.4C55.7,15.8 56.7,17.3 57.5,18.9C58.3,20.6 59.0,22.3 59.6,24.1C60.2,26.0 60.8,27.9 61.0,29.9C61.3,31.9 61.4,34.2 61.1,36.3C60.8,38.4 60.0,40.6 59.1,42.5Z" fill="none" filter="url(#b05)" stroke="#c0c0c0" stroke-width="2.2" opacity="0.85"/>
</g></g>
<rect x="185.0" y="48.0" width="70.0" height="69.0" fill="#000"/>
<clipPath id="q3"><rect x="0" y="0" width="70.0" height="69.0"/></clipPath>
<g transform="translate(185.0,48.0)"><g clip-path="url(#q3)">
<ellipse cx="5.0" cy="1.0" rx="10.0" ry="4.0" transform="rotate(0 5.0 1.0)" fill="#8a8a8a" filter="url(#b1)"/>
<path d="M59.1,42.5C58.2,44.5 56.9,46.2 55.7,48.0C54.5,49.7 53.3,51.3 52.0,52.9C50.7,54.5 49.5,56.3 47.9,57.6C46.4,58.9 44.6,60.0 42.9,60.6C41.2,61.3 39.3,61.4 37.6,61.5C35.8,61.6 34.2,61.4 32.5,61.4C30.8,61.3 29.1,61.3 27.4,60.9C25.7,60.6 24.0,60.1 22.5,59.3C20.9,58.4 19.5,57.2 18.3,55.8C17.1,54.4 16.1,52.8 15.3,51.0C14.5,49.2 13.9,47.2 13.6,45.2C13.4,43.2 13.4,41.0 13.6,39.0C13.8,36.9 14.3,34.9 14.7,32.9C15.0,30.8 15.3,28.8 15.9,26.8C16.4,24.8 16.9,22.6 17.9,20.7C18.8,18.8 20.1,17.0 21.5,15.5C22.9,14.1 24.7,13.0 26.3,11.9C27.9,10.8 29.5,9.9 31.2,9.0C32.9,8.0 34.6,7.0 36.4,6.4C38.2,5.8 40.1,5.5 41.9,5.6C43.6,5.8 45.3,6.5 46.9,7.4C48.4,8.2 49.8,9.4 51.1,10.5C52.4,11.7 53.6,13.0 54.6,14.4C55.7,15.8 56.7,17.3 57.5,18.9C58.3,20.6 59.0,22.3 59.6,24.1C60.2,26.0 60.8,27.9 61.0,29.9C61.3,31.9 61.4,34.2 61.1,36.3C60.8,38.4 60.0,40.6 59.1,42.5Z" fill="#141010" filter="url(#b05)" />
<path d="M59.1,42.5C58.2,44.5 56.9,46.2 55.7,48.0C54.5,49.7 53.3,51.3 52.0,52.9C50.7,54.5 49.5,56.3 47.9,57.6C46.4,58.9 44.6,60.0 42.9,60.6C41.2,61.3 39.3,61.4 37.6,61.5C35.8,61.6 34.2,61.4 32.5,61.4C30.8,61.3 29.1,61.3 27.4,60.9C25.7,60.6 24.0,60.1 22.5,59.3C20.9,58.4 19.5,57.2 18.3,55.8C17.1,54.4 16.1,52.8 15.3,51.0C14.5,49.2 13.9,47.2 13.6,45.2C13.4,43.2 13.4,41.0 13.6,39.0C13.8,36.9 14.3,34.9 14.7,32.9C15.0,30.8 15.3,28.8 15.9,26.8C16.4,24.8 16.9,22.6 17.9,20.7C18.8,18.8 20.1,17.0 21.5,15.5C22.9,14.1 24.7,13.0 26.3,11.9C27.9,10.8 29.5,9.9 31.2,9.0C32.9,8.0 34.6,7.0 36.4,6.4C38.2,5.8 40.1,5.5 41.9,5.6C43.6,5.8 45.3,6.5 46.9,7.4C48.4,8.2 49.8,9.4 51.1,10.5C52.4,11.7 53.6,13.0 54.6,14.4C55.7,15.8 56.7,17.3 57.5,18.9C58.3,20.6 59.0,22.3 59.6,24.1C60.2,26.0 60.8,27.9 61.0,29.9C61.3,31.9 61.4,34.2 61.1,36.3C60.8,38.4 60.0,40.6 59.1,42.5Z" fill="#ccc0c0" filter="url(#rsm2)" />
<path d="M59.1,42.5C58.2,44.5 56.9,46.2 55.7,48.0C54.5,49.7 53.3,51.3 52.0,52.9C50.7,54.5 49.5,56.3 47.9,57.6C46.4,58.9 44.6,60.0 42.9,60.6C41.2,61.3 39.3,61.4 37.6,61.5C35.8,61.6 34.2,61.4 32.5,61.4C30.8,61.3 29.1,61.3 27.4,60.9C25.7,60.6 24.0,60.1 22.5,59.3C20.9,58.4 19.5,57.2 18.3,55.8C17.1,54.4 16.1,52.8 15.3,51.0C14.5,49.2 13.9,47.2 13.6,45.2C13.4,43.2 13.4,41.0 13.6,39.0C13.8,36.9 14.3,34.9 14.7,32.9C15.0,30.8 15.3,28.8 15.9,26.8C16.4,24.8 16.9,22.6 17.9,20.7C18.8,18.8 20.1,17.0 21.5,15.5C22.9,14.1 24.7,13.0 26.3,11.9C27.9,10.8 29.5,9.9 31.2,9.0C32.9,8.0 34.6,7.0 36.4,6.4C38.2,5.8 40.1,5.5 41.9,5.6C43.6,5.8 45.3,6.5 46.9,7.4C48.4,8.2 49.8,9.4 51.1,10.5C52.4,11.7 53.6,13.0 54.6,14.4C55.7,15.8 56.7,17.3 57.5,18.9C58.3,20.6 59.0,22.3 59.6,24.1C60.2,26.0 60.8,27.9 61.0,29.9C61.3,31.9 61.4,34.2 61.1,36.3C60.8,38.4 60.0,40.6 59.1,42.5Z" fill="none" filter="url(#b05)" stroke="#d8cccc" stroke-width="2.2" opacity="0.85"/>
<g style="mix-blend-mode:screen" opacity="0.45">
<ellipse cx="4.0" cy="1.0" rx="8.0" ry="4.0" transform="rotate(0 4.0 1.0)" fill="#c01010" filter="url(#b1)"/>
<path d="M57.3,40.1C56.9,42.0 56.7,44.1 56.0,46.1C55.4,48.0 54.6,50.2 53.4,51.7C52.2,53.3 50.5,54.5 48.9,55.5C47.4,56.5 45.6,57.0 44.0,57.7C42.4,58.4 40.9,59.1 39.3,59.7C37.7,60.2 36.1,60.9 34.4,61.0C32.8,61.2 31.1,61.0 29.5,60.6C27.9,60.2 26.4,59.4 25.0,58.7C23.5,57.9 22.0,57.0 20.7,55.8C19.5,54.7 18.3,53.2 17.4,51.6C16.6,50.0 16.1,48.1 15.6,46.2C15.2,44.4 14.9,42.5 14.6,40.6C14.3,38.7 13.9,36.7 13.9,34.8C13.9,32.8 14.1,30.6 14.8,28.7C15.4,26.8 16.6,25.0 17.7,23.4C18.8,21.7 20.0,20.4 21.2,18.8C22.3,17.3 23.2,15.6 24.4,14.1C25.6,12.6 27.0,10.9 28.5,9.8C30.0,8.8 31.8,8.1 33.5,7.8C35.2,7.4 36.9,7.5 38.6,7.7C40.3,7.8 41.9,8.0 43.5,8.4C45.1,8.9 46.7,9.4 48.0,10.3C49.4,11.2 50.6,12.5 51.8,13.8C52.9,15.1 53.9,16.5 54.9,18.0C55.8,19.4 56.9,20.9 57.6,22.6C58.3,24.3 58.8,26.3 58.9,28.2C59.1,30.2 58.7,32.3 58.4,34.3C58.2,36.2 57.7,38.1 57.3,40.1Z" fill="#700000" filter="url(#b2)" opacity="0.6" />
<path d="M57.3,40.1C56.9,42.0 56.7,44.1 56.0,46.1C55.4,48.0 54.6,50.2 53.4,51.7C52.2,53.3 50.5,54.5 48.9,55.5C47.4,56.5 45.6,57.0 44.0,57.7C42.4,58.4 40.9,59.1 39.3,59.7C37.7,60.2 36.1,60.9 34.4,61.0C32.8,61.2 31.1,61.0 29.5,60.6C27.9,60.2 26.4,59.4 25.0,58.7C23.5,57.9 22.0,57.0 20.7,55.8C19.5,54.7 18.3,53.2 17.4,51.6C16.6,50.0 16.1,48.1 15.6,46.2C15.2,44.4 14.9,42.5 14.6,40.6C14.3,38.7 13.9,36.7 13.9,34.8C13.9,32.8 14.1,30.6 14.8,28.7C15.4,26.8 16.6,25.0 17.7,23.4C18.8,21.7 20.0,20.4 21.2,18.8C22.3,17.3 23.2,15.6 24.4,14.1C25.6,12.6 27.0,10.9 28.5,9.8C30.0,8.8 31.8,8.1 33.5,7.8C35.2,7.4 36.9,7.5 38.6,7.7C40.3,7.8 41.9,8.0 43.5,8.4C45.1,8.9 46.7,9.4 48.0,10.3C49.4,11.2 50.6,12.5 51.8,13.8C52.9,15.1 53.9,16.5 54.9,18.0C55.8,19.4 56.9,20.9 57.6,22.6C58.3,24.3 58.8,26.3 58.9,28.2C59.1,30.2 58.7,32.3 58.4,34.3C58.2,36.2 57.7,38.1 57.3,40.1Z" fill="#e81414" filter="url(#rsm1)" />
<ellipse cx="30.0" cy="23.0" rx="4.5" ry="4.0" transform="rotate(0 30.0 23.0)" fill="#ff2020" filter="url(#b1)"/>
<ellipse cx="44.0" cy="30.0" rx="3.0" ry="3.5" transform="rotate(0 44.0 30.0)" fill="#ff2020" filter="url(#b1)"/>
<ellipse cx="24.0" cy="44.0" rx="3.0" ry="3.0" transform="rotate(0 24.0 44.0)" fill="#ff2020" filter="url(#b1)"/>
<ellipse cx="39.0" cy="53.0" rx="3.0" ry="2.5" transform="rotate(0 39.0 53.0)" fill="#ff2020" filter="url(#b1)"/>
<ellipse cx="50.0" cy="45.0" rx="2.5" ry="2.0" transform="rotate(0 50.0 45.0)" fill="#ff2020" filter="url(#b1)"/>
<ellipse cx="35.0" cy="40.0" rx="2.5" ry="2.5" transform="rotate(0 35.0 40.0)" fill="#ff2020" filter="url(#b1)"/>
<path d="M57.3,40.1C56.9,42.0 56.7,44.1 56.0,46.1C55.4,48.0 54.6,50.2 53.4,51.7C52.2,53.3 50.5,54.5 48.9,55.5C47.4,56.5 45.6,57.0 44.0,57.7C42.4,58.4 40.9,59.1 39.3,59.7C37.7,60.2 36.1,60.9 34.4,61.0C32.8,61.2 31.1,61.0 29.5,60.6C27.9,60.2 26.4,59.4 25.0,58.7C23.5,57.9 22.0,57.0 20.7,55.8C19.5,54.7 18.3,53.2 17.4,51.6C16.6,50.0 16.1,48.1 15.6,46.2C15.2,44.4 14.9,42.5 14.6,40.6C14.3,38.7 13.9,36.7 13.9,34.8C13.9,32.8 14.1,30.6 14.8,28.7C15.4,26.8 16.6,25.0 17.7,23.4C18.8,21.7 20.0,20.4 21.2,18.8C22.3,17.3 23.2,15.6 24.4,14.1C25.6,12.6 27.0,10.9 28.5,9.8C30.0,8.8 31.8,8.1 33.5,7.8C35.2,7.4 36.9,7.5 38.6,7.7C40.3,7.8 41.9,8.0 43.5,8.4C45.1,8.9 46.7,9.4 48.0,10.3C49.4,11.2 50.6,12.5 51.8,13.8C52.9,15.1 53.9,16.5 54.9,18.0C55.8,19.4 56.9,20.9 57.6,22.6C58.3,24.3 58.8,26.3 58.9,28.2C59.1,30.2 58.7,32.3 58.4,34.3C58.2,36.2 57.7,38.1 57.3,40.1Z" fill="none" filter="url(#b1)" stroke="#c81010" stroke-width="2"/>
</g>
</g></g>
<rect x="36.0" y="123.0" width="69.0" height="70.0" fill="#000"/>
<clipPath id="q4"><rect x="0" y="0" width="69.0" height="70.0"/></clipPath>
<g transform="translate(36.0,123.0)"><g clip-path="url(#q4)">
<path d="M48.8,30.0C48.6,31.2 51.6,32.0 52.9,33.5C54.2,35.0 56.7,37.5 56.7,39.0C56.7,40.5 54.4,41.5 53.0,42.3C51.6,43.1 49.5,42.9 48.3,44.0C47.1,45.0 46.9,47.0 45.8,48.3C44.6,49.6 43.1,51.5 41.5,51.8C39.9,52.1 37.7,50.7 36.0,50.2C34.3,49.6 33.0,48.7 31.4,48.4C29.7,48.1 27.6,49.0 26.2,48.4C24.9,47.7 23.4,46.2 23.2,44.5C23.0,42.8 24.8,39.6 24.8,38.1C24.8,36.6 25.1,36.2 23.1,35.6C21.2,35.0 16.0,35.6 13.3,34.7C10.6,33.8 7.1,31.6 6.8,30.0C6.6,28.4 9.9,26.3 11.9,25.0C13.9,23.8 17.5,23.6 18.8,22.5C20.2,21.5 19.6,20.0 20.2,18.6C20.7,17.2 20.9,15.0 22.1,14.2C23.3,13.5 25.9,14.0 27.5,14.1C29.2,14.2 30.7,15.1 32.1,14.7C33.6,14.4 34.6,12.7 36.0,12.2C37.4,11.6 39.3,11.0 40.7,11.3C42.1,11.6 43.0,13.5 44.5,14.1C45.9,14.7 47.2,14.8 49.4,14.8C51.6,14.9 55.7,13.7 57.7,14.4C59.6,15.1 61.5,17.1 61.0,19.1C60.4,21.1 56.2,24.4 54.2,26.2C52.2,28.1 49.1,28.8 48.8,30.0Z" fill="#500000" filter="url(#b2)" opacity="0.7" />
<path d="M48.8,30.0C48.6,31.2 51.6,32.0 52.9,33.5C54.2,35.0 56.7,37.5 56.7,39.0C56.7,40.5 54.4,41.5 53.0,42.3C51.6,43.1 49.5,42.9 48.3,44.0C47.1,45.0 46.9,47.0 45.8,48.3C44.6,49.6 43.1,51.5 41.5,51.8C39.9,52.1 37.7,50.7 36.0,50.2C34.3,49.6 33.0,48.7 31.4,48.4C29.7,48.1 27.6,49.0 26.2,48.4C24.9,47.7 23.4,46.2 23.2,44.5C23.0,42.8 24.8,39.6 24.8,38.1C24.8,36.6 25.1,36.2 23.1,35.6C21.2,35.0 16.0,35.6 13.3,34.7C10.6,33.8 7.1,31.6 6.8,30.0C6.6,28.4 9.9,26.3 11.9,25.0C13.9,23.8 17.5,23.6 18.8,22.5C20.2,21.5 19.6,20.0 20.2,18.6C20.7,17.2 20.9,15.0 22.1,14.2C23.3,13.5 25.9,14.0 27.5,14.1C29.2,14.2 30.7,15.1 32.1,14.7C33.6,14.4 34.6,12.7 36.0,12.2C37.4,11.6 39.3,11.0 40.7,11.3C42.1,11.6 43.0,13.5 44.5,14.1C45.9,14.7 47.2,14.8 49.4,14.8C51.6,14.9 55.7,13.7 57.7,14.4C59.6,15.1 61.5,17.1 61.0,19.1C60.4,21.1 56.2,24.4 54.2,26.2C52.2,28.1 49.1,28.8 48.8,30.0Z" fill="#c01010" filter="url(#rsm3)" />
</g></g>
<rect x="111.0" y="123.0" width="69.0" height="70.0" fill="#000"/>
<clipPath id="q5"><rect x="0" y="0" width="69.0" height="70.0"/></clipPath>
<g transform="translate(111.0,123.0)"><g clip-path="url(#q5)">
<path d="M19,17 C22,7 34,4 42,6 C52,9 58,15 57,24 C57,30 52,32 47,29 C43,26 39,26 37,29 C33,34 33,40 38,44 C44,48 46,56 42,61 C36,63 26,58 21,50 C14,40 15,27 19,17Z" fill="#bababa" filter="url(#lump2)" />
<ellipse cx="22.0" cy="14.0" rx="3.6" ry="3.6" transform="rotate(0 22.0 14.0)" fill="#bababa" filter="url(#b05)"/>
<ellipse cx="30.0" cy="8.0" rx="3.6" ry="3.6" transform="rotate(0 30.0 8.0)" fill="#bababa" filter="url(#b05)"/>
<ellipse cx="40.0" cy="7.0" rx="3.6" ry="3.6" transform="rotate(0 40.0 7.0)" fill="#bababa" filter="url(#b05)"/>
<ellipse cx="50.0" cy="11.0" rx="3.6" ry="3.6" transform="rotate(0 50.0 11.0)" fill="#bababa" filter="url(#b05)"/>
<ellipse cx="56.0" cy="20.0" rx="3.6" ry="3.6" transform="rotate(0 56.0 20.0)" fill="#bababa" filter="url(#b05)"/>
<ellipse cx="52.0" cy="28.0" rx="3.6" ry="3.6" transform="rotate(0 52.0 28.0)" fill="#bababa" filter="url(#b05)"/>
<ellipse cx="45.0" cy="27.0" rx="3.6" ry="3.6" transform="rotate(0 45.0 27.0)" fill="#bababa" filter="url(#b05)"/>
<ellipse cx="38.0" cy="30.0" rx="3.6" ry="3.6" transform="rotate(0 38.0 30.0)" fill="#bababa" filter="url(#b05)"/>
<ellipse cx="34.0" cy="38.0" rx="3.6" ry="3.6" transform="rotate(0 34.0 38.0)" fill="#bababa" filter="url(#b05)"/>
<ellipse cx="38.0" cy="45.0" rx="3.6" ry="3.6" transform="rotate(0 38.0 45.0)" fill="#bababa" filter="url(#b05)"/>
<ellipse cx="43.0" cy="52.0" rx="3.6" ry="3.6" transform="rotate(0 43.0 52.0)" fill="#bababa" filter="url(#b05)"/>
<ellipse cx="44.0" cy="60.0" rx="3.6" ry="3.6" transform="rotate(0 44.0 60.0)" fill="#bababa" filter="url(#b05)"/>
<ellipse cx="36.0" cy="62.0" rx="3.6" ry="3.6" transform="rotate(0 36.0 62.0)" fill="#bababa" filter="url(#b05)"/>
<ellipse cx="26.0" cy="56.0" rx="3.6" ry="3.6" transform="rotate(0 26.0 56.0)" fill="#bababa" filter="url(#b05)"/>
<ellipse cx="20.0" cy="48.0" rx="3.6" ry="3.6" transform="rotate(0 20.0 48.0)" fill="#bababa" filter="url(#b05)"/>
<ellipse cx="17.0" cy="38.0" rx="3.6" ry="3.6" transform="rotate(0 17.0 38.0)" fill="#bababa" filter="url(#b05)"/>
<ellipse cx="18.0" cy="26.0" rx="3.6" ry="3.6" transform="rotate(0 18.0 26.0)" fill="#bababa" filter="url(#b05)"/>
</g></g>
<rect x="185.0" y="123.0" width="70.0" height="70.0" fill="#000"/>
<clipPath id="q6"><rect x="0" y="0" width="70.0" height="70.0"/></clipPath>
<g transform="translate(185.0,123.0)"><g clip-path="url(#q6)">
<path d="M19,17 C22,7 34,4 42,6 C52,9 58,15 57,24 C57,30 52,32 47,29 C43,26 39,26 37,29 C33,34 33,40 38,44 C44,48 46,56 42,61 C36,63 26,58 21,50 C14,40 15,27 19,17Z" fill="#ccbcbc" filter="url(#lump2)" />
<ellipse cx="22.0" cy="14.0" rx="3.6" ry="3.6" transform="rotate(0 22.0 14.0)" fill="#ccbcbc" filter="url(#b05)"/>
<ellipse cx="30.0" cy="8.0" rx="3.6" ry="3.6" transform="rotate(0 30.0 8.0)" fill="#ccbcbc" filter="url(#b05)"/>
<ellipse cx="40.0" cy="7.0" rx="3.6" ry="3.6" transform="rotate(0 40.0 7.0)" fill="#ccbcbc" filter="url(#b05)"/>
<ellipse cx="50.0" cy="11.0" rx="3.6" ry="3.6" transform="rotate(0 50.0 11.0)" fill="#ccbcbc" filter="url(#b05)"/>
<ellipse cx="56.0" cy="20.0" rx="3.6" ry="3.6" transform="rotate(0 56.0 20.0)" fill="#ccbcbc" filter="url(#b05)"/>
<ellipse cx="52.0" cy="28.0" rx="3.6" ry="3.6" transform="rotate(0 52.0 28.0)" fill="#ccbcbc" filter="url(#b05)"/>
<ellipse cx="45.0" cy="27.0" rx="3.6" ry="3.6" transform="rotate(0 45.0 27.0)" fill="#ccbcbc" filter="url(#b05)"/>
<ellipse cx="38.0" cy="30.0" rx="3.6" ry="3.6" transform="rotate(0 38.0 30.0)" fill="#ccbcbc" filter="url(#b05)"/>
<ellipse cx="34.0" cy="38.0" rx="3.6" ry="3.6" transform="rotate(0 34.0 38.0)" fill="#ccbcbc" filter="url(#b05)"/>
<ellipse cx="38.0" cy="45.0" rx="3.6" ry="3.6" transform="rotate(0 38.0 45.0)" fill="#ccbcbc" filter="url(#b05)"/>
<ellipse cx="43.0" cy="52.0" rx="3.6" ry="3.6" transform="rotate(0 43.0 52.0)" fill="#ccbcbc" filter="url(#b05)"/>
<ellipse cx="44.0" cy="60.0" rx="3.6" ry="3.6" transform="rotate(0 44.0 60.0)" fill="#ccbcbc" filter="url(#b05)"/>
<ellipse cx="36.0" cy="62.0" rx="3.6" ry="3.6" transform="rotate(0 36.0 62.0)" fill="#ccbcbc" filter="url(#b05)"/>
<ellipse cx="26.0" cy="56.0" rx="3.6" ry="3.6" transform="rotate(0 26.0 56.0)" fill="#ccbcbc" filter="url(#b05)"/>
<ellipse cx="20.0" cy="48.0" rx="3.6" ry="3.6" transform="rotate(0 20.0 48.0)" fill="#ccbcbc" filter="url(#b05)"/>
<ellipse cx="17.0" cy="38.0" rx="3.6" ry="3.6" transform="rotate(0 17.0 38.0)" fill="#ccbcbc" filter="url(#b05)"/>
<ellipse cx="18.0" cy="26.0" rx="3.6" ry="3.6" transform="rotate(0 18.0 26.0)" fill="#ccbcbc" filter="url(#b05)"/>
<ellipse cx="44.0" cy="28.0" rx="3.0" ry="4.0" transform="rotate(0 44.0 28.0)" fill="#901010" filter="url(#b1)"/>
<ellipse cx="47.0" cy="33.0" rx="2.5" ry="2.0" transform="rotate(0 47.0 33.0)" fill="#901010" filter="url(#b05)"/>
<ellipse cx="18.0" cy="40.0" rx="2.0" ry="2.0" transform="rotate(0 18.0 40.0)" fill="#901010" filter="url(#b05)"/>
<g style="mix-blend-mode:screen" opacity="0.65">
<path d="M48.8,30.0C48.6,31.2 51.6,32.0 52.9,33.5C54.2,35.0 56.7,37.5 56.7,39.0C56.7,40.5 54.4,41.5 53.0,42.3C51.6,43.1 49.5,42.9 48.3,44.0C47.1,45.0 46.9,47.0 45.8,48.3C44.6,49.6 43.1,51.5 41.5,51.8C39.9,52.1 37.7,50.7 36.0,50.2C34.3,49.6 33.0,48.7 31.4,48.4C29.7,48.1 27.6,49.0 26.2,48.4C24.9,47.7 23.4,46.2 23.2,44.5C23.0,42.8 24.8,39.6 24.8,38.1C24.8,36.6 25.1,36.2 23.1,35.6C21.2,35.0 16.0,35.6 13.3,34.7C10.6,33.8 7.1,31.6 6.8,30.0C6.6,28.4 9.9,26.3 11.9,25.0C13.9,23.8 17.5,23.6 18.8,22.5C20.2,21.5 19.6,20.0 20.2,18.6C20.7,17.2 20.9,15.0 22.1,14.2C23.3,13.5 25.9,14.0 27.5,14.1C29.2,14.2 30.7,15.1 32.1,14.7C33.6,14.4 34.6,12.7 36.0,12.2C37.4,11.6 39.3,11.0 40.7,11.3C42.1,11.6 43.0,13.5 44.5,14.1C45.9,14.7 47.2,14.8 49.4,14.8C51.6,14.9 55.7,13.7 57.7,14.4C59.6,15.1 61.5,17.1 61.0,19.1C60.4,21.1 56.2,24.4 54.2,26.2C52.2,28.1 49.1,28.8 48.8,30.0Z" fill="#500000" filter="url(#b2)" opacity="0.7" />
<path d="M48.8,30.0C48.6,31.2 51.6,32.0 52.9,33.5C54.2,35.0 56.7,37.5 56.7,39.0C56.7,40.5 54.4,41.5 53.0,42.3C51.6,43.1 49.5,42.9 48.3,44.0C47.1,45.0 46.9,47.0 45.8,48.3C44.6,49.6 43.1,51.5 41.5,51.8C39.9,52.1 37.7,50.7 36.0,50.2C34.3,49.6 33.0,48.7 31.4,48.4C29.7,48.1 27.6,49.0 26.2,48.4C24.9,47.7 23.4,46.2 23.2,44.5C23.0,42.8 24.8,39.6 24.8,38.1C24.8,36.6 25.1,36.2 23.1,35.6C21.2,35.0 16.0,35.6 13.3,34.7C10.6,33.8 7.1,31.6 6.8,30.0C6.6,28.4 9.9,26.3 11.9,25.0C13.9,23.8 17.5,23.6 18.8,22.5C20.2,21.5 19.6,20.0 20.2,18.6C20.7,17.2 20.9,15.0 22.1,14.2C23.3,13.5 25.9,14.0 27.5,14.1C29.2,14.2 30.7,15.1 32.1,14.7C33.6,14.4 34.6,12.7 36.0,12.2C37.4,11.6 39.3,11.0 40.7,11.3C42.1,11.6 43.0,13.5 44.5,14.1C45.9,14.7 47.2,14.8 49.4,14.8C51.6,14.9 55.7,13.7 57.7,14.4C59.6,15.1 61.5,17.1 61.0,19.1C60.4,21.1 56.2,24.4 54.2,26.2C52.2,28.1 49.1,28.8 48.8,30.0Z" fill="#c01010" filter="url(#rsm3)" />
</g>
</g></g>
<rect x="36.0" y="199.0" width="69.0" height="69.0" fill="#000"/>
<clipPath id="q7"><rect x="0" y="0" width="69.0" height="69.0"/></clipPath>
<g transform="translate(36.0,199.0)"><g clip-path="url(#q7)">
<path d="M52.1,27.9C52.4,28.4 52.5,29.0 52.4,29.6C52.4,30.2 52.2,30.8 52.0,31.5C51.7,32.1 51.4,32.8 51.0,33.5C50.6,34.2 50.1,35.0 49.4,35.7C48.8,36.4 48.0,37.2 47.1,37.9C46.2,38.6 45.1,39.3 44.0,39.9C42.9,40.5 41.6,41.1 40.5,41.6C39.4,42.1 38.2,42.5 37.1,42.9C36.0,43.4 34.9,43.8 33.8,44.2C32.7,44.6 31.6,45.0 30.5,45.3C29.4,45.7 28.2,46.1 27.1,46.3C26.0,46.5 24.9,46.7 23.9,46.7C23.0,46.7 22.1,46.6 21.4,46.4C20.7,46.2 20.2,45.9 19.7,45.6C19.2,45.3 18.8,44.9 18.4,44.6C18.0,44.2 17.6,43.9 17.2,43.5C16.9,43.1 16.5,42.7 16.3,42.2C16.1,41.7 15.9,41.1 16.0,40.5C16.2,39.9 16.4,39.2 16.9,38.5C17.4,37.8 18.0,37.0 18.8,36.3C19.5,35.6 20.3,34.9 21.2,34.2C22.1,33.4 23.0,32.7 24.0,32.1C25.0,31.4 26.0,30.7 27.1,30.1C28.2,29.5 29.4,28.9 30.6,28.4C31.8,27.9 33.1,27.5 34.2,27.2C35.3,26.9 36.5,26.8 37.5,26.7C38.5,26.6 39.4,26.6 40.3,26.6C41.2,26.6 42.0,26.6 42.9,26.6C43.7,26.5 44.6,26.5 45.5,26.4C46.4,26.4 47.4,26.3 48.3,26.4C49.2,26.5 50.0,26.6 50.7,26.8C51.3,27.1 51.8,27.5 52.1,27.9Z" fill="#f01818" filter="url(#lump4)" />
<g filter="url(#b05)" opacity="1">
<circle cx="18.4" cy="44.7" r="3.7" fill="#f01818"/>
<circle cx="19.4" cy="44.5" r="3.8" fill="#f01818"/>
<circle cx="20.6" cy="37.8" r="3.5" fill="#f01818"/>
<circle cx="23.1" cy="40.9" r="3.9" fill="#f01818"/>
<circle cx="24.3" cy="39.6" r="3.9" fill="#f01818"/>
<circle cx="25.6" cy="37.1" r="3.0" fill="#f01818"/>
<circle cx="25.7" cy="33.8" r="3.4" fill="#f01818"/>
<circle cx="30.0" cy="36.8" r="3.8" fill="#f01818"/>
<circle cx="32.8" cy="37.2" r="3.5" fill="#f01818"/>
<circle cx="29.9" cy="32.0" r="4.0" fill="#f01818"/>
<circle cx="32.9" cy="32.7" r="3.8" fill="#f01818"/>
<circle cx="35.4" cy="30.4" r="3.0" fill="#f01818"/>
<circle cx="36.5" cy="31.9" r="2.5" fill="#f01818"/>
<circle cx="39.2" cy="31.1" r="3.1" fill="#f01818"/>
<circle cx="39.0" cy="28.6" r="2.5" fill="#f01818"/>
<circle cx="45.7" cy="34.0" r="3.3" fill="#f01818"/>
<circle cx="42.5" cy="27.6" r="2.7" fill="#f01818"/>
<circle cx="44.3" cy="25.6" r="2.9" fill="#f01818"/>
<circle cx="46.4" cy="26.4" r="3.5" fill="#f01818"/>
<circle cx="50.2" cy="28.4" r="3.0" fill="#f01818"/>
</g>
</g></g>
<rect x="111.0" y="199.0" width="69.0" height="69.0" fill="#000"/>
<clipPath id="q8"><rect x="0" y="0" width="69.0" height="69.0"/></clipPath>
<g transform="translate(111.0,199.0)"><g clip-path="url(#q8)">
<path d="M58.6,24.5C59.0,25.2 58.9,26.2 58.6,27.1C58.4,28.0 57.7,29.1 57.0,30.1C56.4,31.0 55.6,32.0 54.9,32.9C54.2,33.9 53.6,34.8 52.8,35.7C52.0,36.6 51.3,37.6 50.3,38.5C49.3,39.4 48.1,40.4 46.9,41.2C45.6,42.0 44.1,42.8 42.6,43.4C41.2,44.0 39.6,44.5 38.2,45.0C36.8,45.5 35.5,45.8 34.1,46.3C32.7,46.8 31.4,47.2 30.0,47.7C28.6,48.2 27.1,48.8 25.6,49.2C24.1,49.5 22.6,49.9 21.3,50.0C20.0,50.0 18.7,49.9 17.8,49.6C16.9,49.2 16.4,48.6 15.9,48.1C15.3,47.5 15.2,46.8 14.8,46.3C14.4,45.7 14.0,45.2 13.5,44.6C13.0,44.1 12.3,43.6 11.8,43.0C11.3,42.4 10.7,41.8 10.6,41.0C10.4,40.2 10.5,39.3 11.0,38.3C11.5,37.4 12.4,36.3 13.5,35.3C14.5,34.3 16.0,33.3 17.3,32.4C18.6,31.5 20.0,30.7 21.4,29.9C22.7,29.1 24.0,28.3 25.4,27.6C26.7,26.8 28.1,26.1 29.5,25.5C30.9,24.8 32.5,24.2 33.9,23.9C35.3,23.5 36.8,23.3 38.0,23.2C39.3,23.1 40.4,23.2 41.5,23.3C42.6,23.3 43.5,23.4 44.6,23.4C45.7,23.4 46.8,23.3 48.1,23.2C49.4,23.1 50.9,22.8 52.3,22.8C53.6,22.8 55.2,22.8 56.3,23.1C57.3,23.3 58.2,23.9 58.6,24.5Z" fill="#b8b8b8" filter="url(#lump1)" />
<g filter="url(#b05)" opacity="1">
<circle cx="14.5" cy="45.7" r="4.7" fill="#b8b8b8"/>
<circle cx="19.4" cy="48.7" r="3.7" fill="#b8b8b8"/>
<circle cx="18.5" cy="41.1" r="3.6" fill="#b8b8b8"/>
<circle cx="18.6" cy="42.6" r="3.3" fill="#b8b8b8"/>
<circle cx="21.7" cy="42.9" r="4.6" fill="#b8b8b8"/>
<circle cx="21.5" cy="33.8" r="3.1" fill="#b8b8b8"/>
<circle cx="25.1" cy="40.4" r="4.7" fill="#b8b8b8"/>
<circle cx="30.9" cy="44.5" r="4.2" fill="#b8b8b8"/>
<circle cx="28.2" cy="34.4" r="3.6" fill="#b8b8b8"/>
<circle cx="30.6" cy="37.7" r="4.2" fill="#b8b8b8"/>
<circle cx="32.5" cy="34.3" r="3.8" fill="#b8b8b8"/>
<circle cx="36.3" cy="40.0" r="4.2" fill="#b8b8b8"/>
<circle cx="39.6" cy="38.5" r="3.6" fill="#b8b8b8"/>
<circle cx="36.3" cy="30.7" r="4.8" fill="#b8b8b8"/>
<circle cx="40.9" cy="30.8" r="4.6" fill="#b8b8b8"/>
<circle cx="44.6" cy="37.2" r="3.2" fill="#b8b8b8"/>
<circle cx="48.3" cy="37.5" r="3.8" fill="#b8b8b8"/>
<circle cx="43.9" cy="24.6" r="3.6" fill="#b8b8b8"/>
<circle cx="46.3" cy="26.5" r="3.1" fill="#b8b8b8"/>
<circle cx="47.1" cy="22.7" r="4.0" fill="#b8b8b8"/>
<circle cx="50.2" cy="23.5" r="4.9" fill="#b8b8b8"/>
<circle cx="53.8" cy="27.2" r="4.8" fill="#b8b8b8"/>
</g>
</g></g>
<rect x="185.0" y="199.0" width="70.0" height="69.0" fill="#000"/>
<clipPath id="q9"><rect x="0" y="0" width="70.0" height="69.0"/></clipPath>
<g transform="translate(185.0,199.0)"><g clip-path="url(#q9)">
<path d="M58.6,24.5C59.0,25.2 58.9,26.2 58.6,27.1C58.4,28.0 57.7,29.1 57.0,30.1C56.4,31.0 55.6,32.0 54.9,32.9C54.2,33.9 53.6,34.8 52.8,35.7C52.0,36.6 51.3,37.6 50.3,38.5C49.3,39.4 48.1,40.4 46.9,41.2C45.6,42.0 44.1,42.8 42.6,43.4C41.2,44.0 39.6,44.5 38.2,45.0C36.8,45.5 35.5,45.8 34.1,46.3C32.7,46.8 31.4,47.2 30.0,47.7C28.6,48.2 27.1,48.8 25.6,49.2C24.1,49.5 22.6,49.9 21.3,50.0C20.0,50.0 18.7,49.9 17.8,49.6C16.9,49.2 16.4,48.6 15.9,48.1C15.3,47.5 15.2,46.8 14.8,46.3C14.4,45.7 14.0,45.2 13.5,44.6C13.0,44.1 12.3,43.6 11.8,43.0C11.3,42.4 10.7,41.8 10.6,41.0C10.4,40.2 10.5,39.3 11.0,38.3C11.5,37.4 12.4,36.3 13.5,35.3C14.5,34.3 16.0,33.3 17.3,32.4C18.6,31.5 20.0,30.7 21.4,29.9C22.7,29.1 24.0,28.3 25.4,27.6C26.7,26.8 28.1,26.1 29.5,25.5C30.9,24.8 32.5,24.2 33.9,23.9C35.3,23.5 36.8,23.3 38.0,23.2C39.3,23.1 40.4,23.2 41.5,23.3C42.6,23.3 43.5,23.4 44.6,23.4C45.7,23.4 46.8,23.3 48.1,23.2C49.4,23.1 50.9,22.8 52.3,22.8C53.6,22.8 55.2,22.8 56.3,23.1C57.3,23.3 58.2,23.9 58.6,24.5Z" fill="#e4b0b0" filter="url(#lump1)" />
<g filter="url(#b05)" opacity="1">
<circle cx="14.5" cy="45.7" r="4.7" fill="#e4b0b0"/>
<circle cx="19.4" cy="48.7" r="3.7" fill="#e4b0b0"/>
<circle cx="18.5" cy="41.1" r="3.6" fill="#e4b0b0"/>
<circle cx="18.6" cy="42.6" r="3.3" fill="#e4b0b0"/>
<circle cx="21.7" cy="42.9" r="4.6" fill="#e4b0b0"/>
<circle cx="21.5" cy="33.8" r="3.1" fill="#e4b0b0"/>
<circle cx="25.1" cy="40.4" r="4.7" fill="#e4b0b0"/>
<circle cx="30.9" cy="44.5" r="4.2" fill="#e4b0b0"/>
<circle cx="28.2" cy="34.4" r="3.6" fill="#e4b0b0"/>
<circle cx="30.6" cy="37.7" r="4.2" fill="#e4b0b0"/>
<circle cx="32.5" cy="34.3" r="3.8" fill="#e4b0b0"/>
<circle cx="36.3" cy="40.0" r="4.2" fill="#e4b0b0"/>
<circle cx="39.6" cy="38.5" r="3.6" fill="#e4b0b0"/>
<circle cx="36.3" cy="30.7" r="4.8" fill="#e4b0b0"/>
<circle cx="40.9" cy="30.8" r="4.6" fill="#e4b0b0"/>
<circle cx="44.6" cy="37.2" r="3.2" fill="#e4b0b0"/>
<circle cx="48.3" cy="37.5" r="3.8" fill="#e4b0b0"/>
<circle cx="43.9" cy="24.6" r="3.6" fill="#e4b0b0"/>
<circle cx="46.3" cy="26.5" r="3.1" fill="#e4b0b0"/>
<circle cx="47.1" cy="22.7" r="4.0" fill="#e4b0b0"/>
<circle cx="50.2" cy="23.5" r="4.9" fill="#e4b0b0"/>
<circle cx="53.8" cy="27.2" r="4.8" fill="#e4b0b0"/>
</g>
<g style="mix-blend-mode:screen" opacity="0.65">
<path d="M52.1,27.9C52.4,28.4 52.5,29.0 52.4,29.6C52.4,30.2 52.2,30.8 52.0,31.5C51.7,32.1 51.4,32.8 51.0,33.5C50.6,34.2 50.1,35.0 49.4,35.7C48.8,36.4 48.0,37.2 47.1,37.9C46.2,38.6 45.1,39.3 44.0,39.9C42.9,40.5 41.6,41.1 40.5,41.6C39.4,42.1 38.2,42.5 37.1,42.9C36.0,43.4 34.9,43.8 33.8,44.2C32.7,44.6 31.6,45.0 30.5,45.3C29.4,45.7 28.2,46.1 27.1,46.3C26.0,46.5 24.9,46.7 23.9,46.7C23.0,46.7 22.1,46.6 21.4,46.4C20.7,46.2 20.2,45.9 19.7,45.6C19.2,45.3 18.8,44.9 18.4,44.6C18.0,44.2 17.6,43.9 17.2,43.5C16.9,43.1 16.5,42.7 16.3,42.2C16.1,41.7 15.9,41.1 16.0,40.5C16.2,39.9 16.4,39.2 16.9,38.5C17.4,37.8 18.0,37.0 18.8,36.3C19.5,35.6 20.3,34.9 21.2,34.2C22.1,33.4 23.0,32.7 24.0,32.1C25.0,31.4 26.0,30.7 27.1,30.1C28.2,29.5 29.4,28.9 30.6,28.4C31.8,27.9 33.1,27.5 34.2,27.2C35.3,26.9 36.5,26.8 37.5,26.7C38.5,26.6 39.4,26.6 40.3,26.6C41.2,26.6 42.0,26.6 42.9,26.6C43.7,26.5 44.6,26.5 45.5,26.4C46.4,26.4 47.4,26.3 48.3,26.4C49.2,26.5 50.0,26.6 50.7,26.8C51.3,27.1 51.8,27.5 52.1,27.9Z" fill="#f01818" filter="url(#lump4)" />
<g filter="url(#b05)" opacity="1">
<circle cx="18.4" cy="44.7" r="3.7" fill="#f01818"/>
<circle cx="19.4" cy="44.5" r="3.8" fill="#f01818"/>
<circle cx="20.6" cy="37.8" r="3.5" fill="#f01818"/>
<circle cx="23.1" cy="40.9" r="3.9" fill="#f01818"/>
<circle cx="24.3" cy="39.6" r="3.9" fill="#f01818"/>
<circle cx="25.6" cy="37.1" r="3.0" fill="#f01818"/>
<circle cx="25.7" cy="33.8" r="3.4" fill="#f01818"/>
<circle cx="30.0" cy="36.8" r="3.8" fill="#f01818"/>
<circle cx="32.8" cy="37.2" r="3.5" fill="#f01818"/>
<circle cx="29.9" cy="32.0" r="4.0" fill="#f01818"/>
<circle cx="32.9" cy="32.7" r="3.8" fill="#f01818"/>
<circle cx="35.4" cy="30.4" r="3.0" fill="#f01818"/>
<circle cx="36.5" cy="31.9" r="2.5" fill="#f01818"/>
<circle cx="39.2" cy="31.1" r="3.1" fill="#f01818"/>
<circle cx="39.0" cy="28.6" r="2.5" fill="#f01818"/>
<circle cx="45.7" cy="34.0" r="3.3" fill="#f01818"/>
<circle cx="42.5" cy="27.6" r="2.7" fill="#f01818"/>
<circle cx="44.3" cy="25.6" r="2.9" fill="#f01818"/>
<circle cx="46.4" cy="26.4" r="3.5" fill="#f01818"/>
<circle cx="50.2" cy="28.4" r="3.0" fill="#f01818"/>
</g>
</g>
</g></g>
<rect x="36.0" y="275.0" width="69.0" height="68.0" fill="#000"/>
<clipPath id="q10"><rect x="0" y="0" width="69.0" height="68.0"/></clipPath>
<g transform="translate(36.0,275.0)"><g clip-path="url(#q10)">
<ellipse cx="16.0" cy="38.0" rx="12.0" ry="19.0" transform="rotate(0 16.0 38.0)" fill="#600000" opacity="0.6" filter="url(#b2)"/>
<ellipse cx="55.0" cy="37.0" rx="14.0" ry="20.0" transform="rotate(0 55.0 37.0)" fill="#600000" opacity="0.6" filter="url(#b2)"/>
<path d="M6.0,20.0C9.7,16.8 22.3,16.0 26.0,19.0C29.7,22.0 28.0,31.8 28.0,38.0C28.0,44.2 29.0,53.0 26.0,56.0C23.0,59.0 13.7,59.0 10.0,56.0C6.3,53.0 4.7,44.0 4.0,38.0C3.3,32.0 2.3,23.2 6.0,20.0Z" fill="#f01818" filter="url(#rsf1)" />
<path d="M44.0,18.0C48.0,15.0 62.0,16.7 66.0,20.0C70.0,23.3 68.3,32.0 68.0,38.0C67.7,44.0 67.3,52.8 64.0,56.0C60.7,59.2 51.7,60.0 48.0,57.0C44.3,54.0 42.7,44.5 42.0,38.0C41.3,31.5 40.0,21.0 44.0,18.0Z" fill="#f01818" filter="url(#rsf2)" />
<ellipse cx="68.0" cy="2.0" rx="2.0" ry="3.0" transform="rotate(0 68.0 2.0)" fill="#a01010"/>
</g></g>
<rect x="111.0" y="275.0" width="69.0" height="68.0" fill="#000"/>
<clipPath id="q11"><rect x="0" y="0" width="69.0" height="68.0"/></clipPath>
<g transform="translate(111.0,275.0)"><g clip-path="url(#q11)">
<path d="M9.0,21.0C12.8,18.0 25.7,16.7 28.0,19.0C30.3,21.3 23.5,29.3 23.0,35.0C22.5,40.7 26.7,49.3 25.0,53.0C23.3,56.7 16.3,59.7 13.0,57.0C9.7,54.3 5.7,43.0 5.0,37.0C4.3,31.0 5.2,24.0 9.0,21.0Z" fill="#b8b8b8" filter="url(#lump1)" />
<path d="M49.0,19.0C52.3,17.0 63.7,19.7 67.0,23.0C70.3,26.3 69.7,33.3 69.0,39.0C68.3,44.7 66.3,54.0 63.0,57.0C59.7,60.0 52.7,58.7 49.0,57.0C45.3,55.3 41.3,50.7 41.0,47.0C40.7,43.3 45.7,39.7 47.0,35.0C48.3,30.3 45.7,21.0 49.0,19.0Z" fill="#b8b8b8" filter="url(#lump2)" />
</g></g>
<rect x="185.0" y="275.0" width="70.0" height="68.0" fill="#000"/>
<clipPath id="q12"><rect x="0" y="0" width="70.0" height="68.0"/></clipPath>
<g transform="translate(185.0,275.0)"><g clip-path="url(#q12)">
<path d="M9.0,21.0C12.8,18.0 25.7,16.7 28.0,19.0C30.3,21.3 23.5,29.3 23.0,35.0C22.5,40.7 26.7,49.3 25.0,53.0C23.3,56.7 16.3,59.7 13.0,57.0C9.7,54.3 5.7,43.0 5.0,37.0C4.3,31.0 5.2,24.0 9.0,21.0Z" fill="#dcbcbc" filter="url(#lump1)" />
<path d="M49.0,19.0C52.3,17.0 63.7,19.7 67.0,23.0C70.3,26.3 69.7,33.3 69.0,39.0C68.3,44.7 66.3,54.0 63.0,57.0C59.7,60.0 52.7,58.7 49.0,57.0C45.3,55.3 41.3,50.7 41.0,47.0C40.7,43.3 45.7,39.7 47.0,35.0C48.3,30.3 45.7,21.0 49.0,19.0Z" fill="#dcbcbc" filter="url(#lump2)" />
<g style="mix-blend-mode:screen" opacity="0.55">
<ellipse cx="16.0" cy="38.0" rx="12.0" ry="19.0" transform="rotate(0 16.0 38.0)" fill="#600000" opacity="0.6" filter="url(#b2)"/>
<ellipse cx="55.0" cy="37.0" rx="14.0" ry="20.0" transform="rotate(0 55.0 37.0)" fill="#600000" opacity="0.6" filter="url(#b2)"/>
<path d="M6.0,20.0C9.7,16.8 22.3,16.0 26.0,19.0C29.7,22.0 28.0,31.8 28.0,38.0C28.0,44.2 29.0,53.0 26.0,56.0C23.0,59.0 13.7,59.0 10.0,56.0C6.3,53.0 4.7,44.0 4.0,38.0C3.3,32.0 2.3,23.2 6.0,20.0Z" fill="#f01818" filter="url(#rsf1)" />
<path d="M44.0,18.0C48.0,15.0 62.0,16.7 66.0,20.0C70.0,23.3 68.3,32.0 68.0,38.0C67.7,44.0 67.3,52.8 64.0,56.0C60.7,59.2 51.7,60.0 48.0,57.0C44.3,54.0 42.7,44.5 42.0,38.0C41.3,31.5 40.0,21.0 44.0,18.0Z" fill="#f01818" filter="url(#rsf2)" />
<ellipse cx="68.0" cy="2.0" rx="2.0" ry="3.0" transform="rotate(0 68.0 2.0)" fill="#a01010"/>
</g>
</g></g>
<rect x="36.0" y="350.0" width="107.0" height="76.0" fill="#000"/>
<clipPath id="q13"><rect x="0" y="0" width="107.0" height="76.0"/></clipPath>
<g transform="translate(36.0,350.0)"><g clip-path="url(#q13)">
<ellipse cx="24.0" cy="42.0" rx="6.0" ry="18.0" transform="rotate(0 24.0 42.0)" fill="#500000" opacity="0.6" filter="url(#b2)"/>
<ellipse cx="84.0" cy="42.0" rx="7.0" ry="18.0" transform="rotate(0 84.0 42.0)" fill="#500000" opacity="0.6" filter="url(#b2)"/>
<path d="M19.0,24.0C21.0,20.8 27.0,20.0 29.0,23.0C31.0,26.0 30.8,35.7 31.0,42.0C31.2,48.3 31.8,57.8 30.0,61.0C28.2,64.2 22.2,64.2 20.0,61.0C17.8,57.8 17.2,48.2 17.0,42.0C16.8,35.8 17.0,27.2 19.0,24.0Z" fill="#f01818" filter="url(#rsf3)" />
<path d="M77.0,24.0C79.5,21.2 88.7,22.0 91.0,25.0C93.3,28.0 91.5,36.0 91.0,42.0C90.5,48.0 90.2,57.8 88.0,61.0C85.8,64.2 80.0,64.2 78.0,61.0C76.0,57.8 76.2,48.2 76.0,42.0C75.8,35.8 74.5,26.8 77.0,24.0Z" fill="#f01818" filter="url(#rsf4)" />
</g></g>
<rect x="146.6" y="350.0" width="107.4" height="76.0" fill="#000"/>
<clipPath id="q14"><rect x="0" y="0" width="107.4" height="76.0"/></clipPath>
<g transform="translate(146.6,350.0)"><g clip-path="url(#q14)">
<path d="M23.4,24.0C26.4,22.3 31.2,22.7 32.4,26.0C33.6,29.3 31.2,38.0 30.4,44.0C29.6,50.0 29.6,58.8 27.4,62.0C25.2,65.2 19.6,67.3 17.4,63.0C15.2,58.7 13.4,42.5 14.4,36.0C15.4,29.5 20.4,25.7 23.4,24.0Z" fill="#dcc0c0" filter="url(#lump3)" />
<path d="M79.4,26.0C82.1,23.3 89.1,25.0 91.4,28.0C93.7,31.0 94.4,39.0 93.4,44.0C92.4,49.0 88.1,54.8 85.4,58.0C82.7,61.2 79.1,65.3 77.4,63.0C75.7,60.7 75.1,50.2 75.4,44.0C75.7,37.8 76.7,28.7 79.4,26.0Z" fill="#dcc0c0" filter="url(#lump4)" />
<g style="mix-blend-mode:screen" opacity="0.5">
<ellipse cx="24.0" cy="42.0" rx="6.0" ry="18.0" transform="rotate(0 24.0 42.0)" fill="#500000" opacity="0.6" filter="url(#b2)"/>
<ellipse cx="84.0" cy="42.0" rx="7.0" ry="18.0" transform="rotate(0 84.0 42.0)" fill="#500000" opacity="0.6" filter="url(#b2)"/>
<path d="M19.0,24.0C21.0,20.8 27.0,20.0 29.0,23.0C31.0,26.0 30.8,35.7 31.0,42.0C31.2,48.3 31.8,57.8 30.0,61.0C28.2,64.2 22.2,64.2 20.0,61.0C17.8,57.8 17.2,48.2 17.0,42.0C16.8,35.8 17.0,27.2 19.0,24.0Z" fill="#f01818" filter="url(#rsf3)" />
<path d="M77.0,24.0C79.5,21.2 88.7,22.0 91.0,25.0C93.3,28.0 91.5,36.0 91.0,42.0C90.5,48.0 90.2,57.8 88.0,61.0C85.8,64.2 80.0,64.2 78.0,61.0C76.0,57.8 76.2,48.2 76.0,42.0C75.8,35.8 74.5,26.8 77.0,24.0Z" fill="#f01818" filter="url(#rsf4)" />
</g>
</g></g>
<rect x="36.0" y="433.0" width="69.0" height="69.0" fill="#000"/>
<clipPath id="q15"><rect x="0" y="0" width="69.0" height="69.0"/></clipPath>
<g transform="translate(36.0,433.0)"><g clip-path="url(#q15)">
<path d="M52.8,20.2C53.9,21.5 55.1,22.7 56.0,24.1C56.8,25.6 57.7,27.2 58.0,28.8C58.3,30.4 58.0,32.3 57.6,33.8C57.3,35.4 56.5,36.9 56.0,38.4C55.4,39.9 54.9,41.3 54.3,42.7C53.6,44.1 53.0,45.6 52.0,46.8C51.1,48.0 49.9,49.1 48.6,50.0C47.3,50.9 45.9,51.6 44.5,52.2C43.0,52.9 41.5,53.5 40.0,53.8C38.4,54.1 36.7,54.2 35.1,54.0C33.5,53.8 32.0,53.1 30.4,52.5C28.9,52.0 27.5,51.2 26.1,50.5C24.7,49.7 23.1,49.0 21.8,48.0C20.5,47.0 19.3,45.7 18.4,44.3C17.6,42.9 17.2,41.2 16.8,39.6C16.4,38.0 16.3,36.5 16.0,34.9C15.7,33.3 15.2,31.8 15.0,30.2C14.8,28.6 14.5,26.8 14.8,25.2C15.0,23.6 15.8,22.0 16.6,20.7C17.4,19.3 18.6,18.1 19.8,17.0C20.9,15.9 22.1,14.8 23.4,14.0C24.7,13.1 26.1,12.3 27.5,11.7C29.0,11.2 30.6,11.0 32.2,10.9C33.7,10.7 35.3,10.7 36.8,10.8C38.4,10.9 40.1,10.9 41.6,11.2C43.2,11.6 44.8,12.2 46.1,13.1C47.5,14.0 48.6,15.3 49.7,16.5C50.9,17.7 51.8,18.9 52.8,20.2Z" fill="#500000" filter="url(#b2)" opacity="0.35" />
<path d="M52.8,20.2C53.9,21.5 55.1,22.7 56.0,24.1C56.8,25.6 57.7,27.2 58.0,28.8C58.3,30.4 58.0,32.3 57.6,33.8C57.3,35.4 56.5,36.9 56.0,38.4C55.4,39.9 54.9,41.3 54.3,42.7C53.6,44.1 53.0,45.6 52.0,46.8C51.1,48.0 49.9,49.1 48.6,50.0C47.3,50.9 45.9,51.6 44.5,52.2C43.0,52.9 41.5,53.5 40.0,53.8C38.4,54.1 36.7,54.2 35.1,54.0C33.5,53.8 32.0,53.1 30.4,52.5C28.9,52.0 27.5,51.2 26.1,50.5C24.7,49.7 23.1,49.0 21.8,48.0C20.5,47.0 19.3,45.7 18.4,44.3C17.6,42.9 17.2,41.2 16.8,39.6C16.4,38.0 16.3,36.5 16.0,34.9C15.7,33.3 15.2,31.8 15.0,30.2C14.8,28.6 14.5,26.8 14.8,25.2C15.0,23.6 15.8,22.0 16.6,20.7C17.4,19.3 18.6,18.1 19.8,17.0C20.9,15.9 22.1,14.8 23.4,14.0C24.7,13.1 26.1,12.3 27.5,11.7C29.0,11.2 30.6,11.0 32.2,10.9C33.7,10.7 35.3,10.7 36.8,10.8C38.4,10.9 40.1,10.9 41.6,11.2C43.2,11.6 44.8,12.2 46.1,13.1C47.5,14.0 48.6,15.3 49.7,16.5C50.9,17.7 51.8,18.9 52.8,20.2Z" fill="#e01010" filter="url(#spk8)" />
<ellipse cx="68.0" cy="2.0" rx="2.0" ry="3.0" transform="rotate(0 68.0 2.0)" fill="#a01010"/>
</g></g>
<rect x="111.0" y="433.0" width="69.0" height="69.0" fill="#000"/>
<clipPath id="q16"><rect x="0" y="0" width="69.0" height="69.0"/></clipPath>
<g transform="translate(111.0,433.0)"><g clip-path="url(#q16)">
<ellipse cx="68.0" cy="3.0" rx="4.0" ry="5.0" transform="rotate(0 68.0 3.0)" fill="#999" filter="url(#b1)"/>
<path d="M50.2,16.3C51.9,17.6 53.7,19.1 55.0,20.7C56.2,22.4 57.0,24.5 57.6,26.3C58.2,28.1 58.3,29.9 58.8,31.8C59.2,33.6 59.8,35.3 60.2,37.1C60.5,38.9 61.0,41.0 60.8,42.6C60.6,44.2 59.8,45.7 58.8,46.9C57.9,48.1 56.4,48.8 55.2,49.7C54.0,50.6 52.9,51.5 51.7,52.3C50.4,53.1 49.2,54.0 47.7,54.4C46.2,54.8 44.4,54.9 42.7,54.8C40.9,54.7 39.1,54.3 37.3,53.9C35.5,53.5 33.6,53.1 31.7,52.4C29.9,51.6 27.9,50.7 26.3,49.4C24.6,48.1 23.2,46.2 21.9,44.6C20.6,42.9 19.7,41.1 18.6,39.5C17.4,37.8 16.0,36.3 14.9,34.6C13.8,32.9 12.5,31.0 12.0,29.2C11.4,27.4 11.4,25.5 11.6,23.8C11.7,22.1 12.5,20.7 12.9,19.2C13.3,17.7 13.5,16.1 13.9,14.6C14.4,13.1 14.7,11.3 15.6,10.1C16.5,8.9 17.9,8.0 19.4,7.4C20.8,6.8 22.6,6.7 24.3,6.5C25.9,6.3 27.6,6.1 29.3,6.2C31.1,6.3 32.9,6.5 34.7,7.1C36.5,7.6 38.3,8.7 40.0,9.7C41.8,10.7 43.3,11.9 45.0,13.0C46.7,14.1 48.6,15.0 50.2,16.3Z" fill="#484848" filter="url(#b05)" />
<path d="M50.2,16.3C51.9,17.6 53.7,19.1 55.0,20.7C56.2,22.4 57.0,24.5 57.6,26.3C58.2,28.1 58.3,29.9 58.8,31.8C59.2,33.6 59.8,35.3 60.2,37.1C60.5,38.9 61.0,41.0 60.8,42.6C60.6,44.2 59.8,45.7 58.8,46.9C57.9,48.1 56.4,48.8 55.2,49.7C54.0,50.6 52.9,51.5 51.7,52.3C50.4,53.1 49.2,54.0 47.7,54.4C46.2,54.8 44.4,54.9 42.7,54.8C40.9,54.7 39.1,54.3 37.3,53.9C35.5,53.5 33.6,53.1 31.7,52.4C29.9,51.6 27.9,50.7 26.3,49.4C24.6,48.1 23.2,46.2 21.9,44.6C20.6,42.9 19.7,41.1 18.6,39.5C17.4,37.8 16.0,36.3 14.9,34.6C13.8,32.9 12.5,31.0 12.0,29.2C11.4,27.4 11.4,25.5 11.6,23.8C11.7,22.1 12.5,20.7 12.9,19.2C13.3,17.7 13.5,16.1 13.9,14.6C14.4,13.1 14.7,11.3 15.6,10.1C16.5,8.9 17.9,8.0 19.4,7.4C20.8,6.8 22.6,6.7 24.3,6.5C25.9,6.3 27.6,6.1 29.3,6.2C31.1,6.3 32.9,6.5 34.7,7.1C36.5,7.6 38.3,8.7 40.0,9.7C41.8,10.7 43.3,11.9 45.0,13.0C46.7,14.1 48.6,15.0 50.2,16.3Z" fill="#bababa" filter="url(#nts2)" />
<path d="M50.2,16.3C51.9,17.6 53.7,19.1 55.0,20.7C56.2,22.4 57.0,24.5 57.6,26.3C58.2,28.1 58.3,29.9 58.8,31.8C59.2,33.6 59.8,35.3 60.2,37.1C60.5,38.9 61.0,41.0 60.8,42.6C60.6,44.2 59.8,45.7 58.8,46.9C57.9,48.1 56.4,48.8 55.2,49.7C54.0,50.6 52.9,51.5 51.7,52.3C50.4,53.1 49.2,54.0 47.7,54.4C46.2,54.8 44.4,54.9 42.7,54.8C40.9,54.7 39.1,54.3 37.3,53.9C35.5,53.5 33.6,53.1 31.7,52.4C29.9,51.6 27.9,50.7 26.3,49.4C24.6,48.1 23.2,46.2 21.9,44.6C20.6,42.9 19.7,41.1 18.6,39.5C17.4,37.8 16.0,36.3 14.9,34.6C13.8,32.9 12.5,31.0 12.0,29.2C11.4,27.4 11.4,25.5 11.6,23.8C11.7,22.1 12.5,20.7 12.9,19.2C13.3,17.7 13.5,16.1 13.9,14.6C14.4,13.1 14.7,11.3 15.6,10.1C16.5,8.9 17.9,8.0 19.4,7.4C20.8,6.8 22.6,6.7 24.3,6.5C25.9,6.3 27.6,6.1 29.3,6.2C31.1,6.3 32.9,6.5 34.7,7.1C36.5,7.6 38.3,8.7 40.0,9.7C41.8,10.7 43.3,11.9 45.0,13.0C46.7,14.1 48.6,15.0 50.2,16.3Z" fill="none" filter="url(#b05)" stroke="#c4c4c4" stroke-width="2.2" opacity="0.85"/>
</g></g>
<rect x="185.0" y="433.0" width="70.0" height="69.0" fill="#000"/>
<clipPath id="q17"><rect x="0" y="0" width="70.0" height="69.0"/></clipPath>
<g transform="translate(185.0,433.0)"><g clip-path="url(#q17)">
<ellipse cx="68.0" cy="3.0" rx="4.0" ry="5.0" transform="rotate(0 68.0 3.0)" fill="#a99" filter="url(#b1)"/>
<path d="M50.2,16.3C51.9,17.6 53.7,19.1 55.0,20.7C56.2,22.4 57.0,24.5 57.6,26.3C58.2,28.1 58.3,29.9 58.8,31.8C59.2,33.6 59.8,35.3 60.2,37.1C60.5,38.9 61.0,41.0 60.8,42.6C60.6,44.2 59.8,45.7 58.8,46.9C57.9,48.1 56.4,48.8 55.2,49.7C54.0,50.6 52.9,51.5 51.7,52.3C50.4,53.1 49.2,54.0 47.7,54.4C46.2,54.8 44.4,54.9 42.7,54.8C40.9,54.7 39.1,54.3 37.3,53.9C35.5,53.5 33.6,53.1 31.7,52.4C29.9,51.6 27.9,50.7 26.3,49.4C24.6,48.1 23.2,46.2 21.9,44.6C20.6,42.9 19.7,41.1 18.6,39.5C17.4,37.8 16.0,36.3 14.9,34.6C13.8,32.9 12.5,31.0 12.0,29.2C11.4,27.4 11.4,25.5 11.6,23.8C11.7,22.1 12.5,20.7 12.9,19.2C13.3,17.7 13.5,16.1 13.9,14.6C14.4,13.1 14.7,11.3 15.6,10.1C16.5,8.9 17.9,8.0 19.4,7.4C20.8,6.8 22.6,6.7 24.3,6.5C25.9,6.3 27.6,6.1 29.3,6.2C31.1,6.3 32.9,6.5 34.7,7.1C36.5,7.6 38.3,8.7 40.0,9.7C41.8,10.7 43.3,11.9 45.0,13.0C46.7,14.1 48.6,15.0 50.2,16.3Z" fill="#141010" filter="url(#b05)" />
<path d="M50.2,16.3C51.9,17.6 53.7,19.1 55.0,20.7C56.2,22.4 57.0,24.5 57.6,26.3C58.2,28.1 58.3,29.9 58.8,31.8C59.2,33.6 59.8,35.3 60.2,37.1C60.5,38.9 61.0,41.0 60.8,42.6C60.6,44.2 59.8,45.7 58.8,46.9C57.9,48.1 56.4,48.8 55.2,49.7C54.0,50.6 52.9,51.5 51.7,52.3C50.4,53.1 49.2,54.0 47.7,54.4C46.2,54.8 44.4,54.9 42.7,54.8C40.9,54.7 39.1,54.3 37.3,53.9C35.5,53.5 33.6,53.1 31.7,52.4C29.9,51.6 27.9,50.7 26.3,49.4C24.6,48.1 23.2,46.2 21.9,44.6C20.6,42.9 19.7,41.1 18.6,39.5C17.4,37.8 16.0,36.3 14.9,34.6C13.8,32.9 12.5,31.0 12.0,29.2C11.4,27.4 11.4,25.5 11.6,23.8C11.7,22.1 12.5,20.7 12.9,19.2C13.3,17.7 13.5,16.1 13.9,14.6C14.4,13.1 14.7,11.3 15.6,10.1C16.5,8.9 17.9,8.0 19.4,7.4C20.8,6.8 22.6,6.7 24.3,6.5C25.9,6.3 27.6,6.1 29.3,6.2C31.1,6.3 32.9,6.5 34.7,7.1C36.5,7.6 38.3,8.7 40.0,9.7C41.8,10.7 43.3,11.9 45.0,13.0C46.7,14.1 48.6,15.0 50.2,16.3Z" fill="#ccc0c0" filter="url(#nts2)" />
<path d="M50.2,16.3C51.9,17.6 53.7,19.1 55.0,20.7C56.2,22.4 57.0,24.5 57.6,26.3C58.2,28.1 58.3,29.9 58.8,31.8C59.2,33.6 59.8,35.3 60.2,37.1C60.5,38.9 61.0,41.0 60.8,42.6C60.6,44.2 59.8,45.7 58.8,46.9C57.9,48.1 56.4,48.8 55.2,49.7C54.0,50.6 52.9,51.5 51.7,52.3C50.4,53.1 49.2,54.0 47.7,54.4C46.2,54.8 44.4,54.9 42.7,54.8C40.9,54.7 39.1,54.3 37.3,53.9C35.5,53.5 33.6,53.1 31.7,52.4C29.9,51.6 27.9,50.7 26.3,49.4C24.6,48.1 23.2,46.2 21.9,44.6C20.6,42.9 19.7,41.1 18.6,39.5C17.4,37.8 16.0,36.3 14.9,34.6C13.8,32.9 12.5,31.0 12.0,29.2C11.4,27.4 11.4,25.5 11.6,23.8C11.7,22.1 12.5,20.7 12.9,19.2C13.3,17.7 13.5,16.1 13.9,14.6C14.4,13.1 14.7,11.3 15.6,10.1C16.5,8.9 17.9,8.0 19.4,7.4C20.8,6.8 22.6,6.7 24.3,6.5C25.9,6.3 27.6,6.1 29.3,6.2C31.1,6.3 32.9,6.5 34.7,7.1C36.5,7.6 38.3,8.7 40.0,9.7C41.8,10.7 43.3,11.9 45.0,13.0C46.7,14.1 48.6,15.0 50.2,16.3Z" fill="none" filter="url(#b05)" stroke="#d8cccc" stroke-width="2.2" opacity="0.85"/>
<g style="mix-blend-mode:screen" opacity="0.65">
<path d="M52.8,20.2C53.9,21.5 55.1,22.7 56.0,24.1C56.8,25.6 57.7,27.2 58.0,28.8C58.3,30.4 58.0,32.3 57.6,33.8C57.3,35.4 56.5,36.9 56.0,38.4C55.4,39.9 54.9,41.3 54.3,42.7C53.6,44.1 53.0,45.6 52.0,46.8C51.1,48.0 49.9,49.1 48.6,50.0C47.3,50.9 45.9,51.6 44.5,52.2C43.0,52.9 41.5,53.5 40.0,53.8C38.4,54.1 36.7,54.2 35.1,54.0C33.5,53.8 32.0,53.1 30.4,52.5C28.9,52.0 27.5,51.2 26.1,50.5C24.7,49.7 23.1,49.0 21.8,48.0C20.5,47.0 19.3,45.7 18.4,44.3C17.6,42.9 17.2,41.2 16.8,39.6C16.4,38.0 16.3,36.5 16.0,34.9C15.7,33.3 15.2,31.8 15.0,30.2C14.8,28.6 14.5,26.8 14.8,25.2C15.0,23.6 15.8,22.0 16.6,20.7C17.4,19.3 18.6,18.1 19.8,17.0C20.9,15.9 22.1,14.8 23.4,14.0C24.7,13.1 26.1,12.3 27.5,11.7C29.0,11.2 30.6,11.0 32.2,10.9C33.7,10.7 35.3,10.7 36.8,10.8C38.4,10.9 40.1,10.9 41.6,11.2C43.2,11.6 44.8,12.2 46.1,13.1C47.5,14.0 48.6,15.3 49.7,16.5C50.9,17.7 51.8,18.9 52.8,20.2Z" fill="#500000" filter="url(#b2)" opacity="0.35" />
<path d="M52.8,20.2C53.9,21.5 55.1,22.7 56.0,24.1C56.8,25.6 57.7,27.2 58.0,28.8C58.3,30.4 58.0,32.3 57.6,33.8C57.3,35.4 56.5,36.9 56.0,38.4C55.4,39.9 54.9,41.3 54.3,42.7C53.6,44.1 53.0,45.6 52.0,46.8C51.1,48.0 49.9,49.1 48.6,50.0C47.3,50.9 45.9,51.6 44.5,52.2C43.0,52.9 41.5,53.5 40.0,53.8C38.4,54.1 36.7,54.2 35.1,54.0C33.5,53.8 32.0,53.1 30.4,52.5C28.9,52.0 27.5,51.2 26.1,50.5C24.7,49.7 23.1,49.0 21.8,48.0C20.5,47.0 19.3,45.7 18.4,44.3C17.6,42.9 17.2,41.2 16.8,39.6C16.4,38.0 16.3,36.5 16.0,34.9C15.7,33.3 15.2,31.8 15.0,30.2C14.8,28.6 14.5,26.8 14.8,25.2C15.0,23.6 15.8,22.0 16.6,20.7C17.4,19.3 18.6,18.1 19.8,17.0C20.9,15.9 22.1,14.8 23.4,14.0C24.7,13.1 26.1,12.3 27.5,11.7C29.0,11.2 30.6,11.0 32.2,10.9C33.7,10.7 35.3,10.7 36.8,10.8C38.4,10.9 40.1,10.9 41.6,11.2C43.2,11.6 44.8,12.2 46.1,13.1C47.5,14.0 48.6,15.3 49.7,16.5C50.9,17.7 51.8,18.9 52.8,20.2Z" fill="#e01010" filter="url(#spk8)" />
<ellipse cx="68.0" cy="2.0" rx="2.0" ry="3.0" transform="rotate(0 68.0 2.0)" fill="#a01010"/>
</g>
</g></g>
<rect x="328.0" y="42.0" width="70.0" height="72.0" fill="#000"/>
<clipPath id="q18"><rect x="0" y="0" width="70.0" height="72.0"/></clipPath>
<g transform="translate(328.0,42.0)"><g clip-path="url(#q18)">
<path d="M62.4,35.0C62.5,37.1 63.0,39.2 62.8,41.4C62.7,43.5 62.4,45.8 61.4,47.7C60.5,49.6 58.8,51.3 57.2,52.7C55.6,54.1 53.7,55.1 51.9,56.2C50.2,57.3 48.6,58.5 46.8,59.5C45.0,60.5 43.2,61.6 41.2,62.1C39.2,62.7 37.1,63.0 35.0,63.0C32.9,63.0 30.8,62.7 28.8,62.3C26.7,61.9 24.6,61.4 22.7,60.6C20.7,59.8 18.8,58.7 17.2,57.3C15.7,55.9 14.4,54.1 13.2,52.4C12.0,50.7 11.1,48.8 10.1,47.0C9.1,45.2 7.9,43.3 7.3,41.3C6.7,39.3 6.2,37.1 6.4,35.0C6.5,32.9 7.5,30.8 8.2,28.9C9.0,27.0 10.1,25.3 11.0,23.4C11.8,21.6 12.4,19.6 13.4,17.8C14.4,16.0 15.5,13.9 17.0,12.4C18.5,11.0 20.5,9.8 22.5,9.0C24.4,8.2 26.6,7.9 28.7,7.5C30.8,7.2 32.9,7.0 35.0,7.0C37.1,7.0 39.2,7.2 41.2,7.7C43.2,8.2 45.1,9.2 47.0,10.2C48.8,11.1 50.5,12.3 52.1,13.5C53.8,14.7 55.6,15.9 57.0,17.5C58.4,19.0 59.7,20.8 60.5,22.7C61.3,24.6 61.6,26.8 61.9,28.9C62.2,30.9 62.2,32.9 62.4,35.0Z" fill="#c01010" filter="url(#spk1)" />
<ellipse cx="27.4" cy="15.6" rx="2.2" ry="2.5" transform="rotate(0 27.4 15.6)" fill="#ff2020" filter="url(#b05)"/>
<ellipse cx="41.6" cy="25.2" rx="2.5" ry="3.5" transform="rotate(0 41.6 25.2)" fill="#ff2020" filter="url(#b05)"/>
<ellipse cx="45.0" cy="39.3" rx="2.5" ry="2.0" transform="rotate(0 45.0 39.3)" fill="#ff2020" filter="url(#b05)"/>
<ellipse cx="27.4" cy="49.0" rx="3.0" ry="3.5" transform="rotate(0 27.4 49.0)" fill="#ff2020" filter="url(#b05)"/>
<ellipse cx="43.3" cy="50.0" rx="2.0" ry="3.0" transform="rotate(0 43.3 50.0)" fill="#ff2020" filter="url(#b05)"/>
<ellipse cx="32.0" cy="26.0" rx="1.5" ry="1.5" transform="rotate(0 32.0 26.0)" fill="#ff2020" filter="url(#b05)"/>
<ellipse cx="24.0" cy="30.0" rx="1.2" ry="1.2" transform="rotate(0 24.0 30.0)" fill="#ff2020" filter="url(#b05)"/>
</g></g>
<rect x="401.5" y="42.0" width="70.5" height="72.0" fill="#000"/>
<clipPath id="q19"><rect x="0" y="0" width="70.5" height="72.0"/></clipPath>
<g transform="translate(401.5,42.0)"><g clip-path="url(#q19)">
<path d="M62.2,35.8C62.2,37.9 61.9,40.1 61.4,42.1C60.9,44.2 60.1,46.2 59.3,48.1C58.4,50.0 57.4,51.9 56.1,53.5C54.9,55.2 53.4,56.9 51.8,58.1C50.2,59.4 48.3,60.4 46.4,61.2C44.5,61.9 42.5,62.4 40.5,62.8C38.5,63.2 36.5,63.5 34.5,63.7C32.5,63.8 30.4,63.9 28.3,63.6C26.3,63.3 24.2,62.7 22.4,61.7C20.5,60.8 18.8,59.5 17.2,58.1C15.7,56.7 14.2,55.1 13.0,53.5C11.7,51.8 10.6,50.0 9.7,48.1C8.8,46.2 8.2,44.1 7.7,42.1C7.3,40.0 7.2,37.9 7.2,35.8C7.2,33.7 7.4,31.6 7.8,29.5C8.2,27.5 8.8,25.4 9.7,23.5C10.6,21.6 11.8,19.9 13.1,18.2C14.4,16.6 15.9,15.2 17.5,13.9C19.1,12.5 20.7,11.2 22.5,10.2C24.3,9.1 26.2,8.1 28.2,7.6C30.2,7.1 32.4,6.9 34.5,7.1C36.6,7.2 38.6,7.8 40.6,8.4C42.5,9.1 44.4,9.8 46.2,10.7C48.1,11.6 49.9,12.6 51.5,13.8C53.1,15.1 54.7,16.6 56.0,18.2C57.3,19.8 58.3,21.6 59.2,23.5C60.1,25.4 60.9,27.4 61.4,29.5C61.9,31.5 62.2,33.7 62.2,35.8Z" fill="#101010" filter="url(#b05)" />
<path d="M62.2,35.8C62.2,37.9 61.9,40.1 61.4,42.1C60.9,44.2 60.1,46.2 59.3,48.1C58.4,50.0 57.4,51.9 56.1,53.5C54.9,55.2 53.4,56.9 51.8,58.1C50.2,59.4 48.3,60.4 46.4,61.2C44.5,61.9 42.5,62.4 40.5,62.8C38.5,63.2 36.5,63.5 34.5,63.7C32.5,63.8 30.4,63.9 28.3,63.6C26.3,63.3 24.2,62.7 22.4,61.7C20.5,60.8 18.8,59.5 17.2,58.1C15.7,56.7 14.2,55.1 13.0,53.5C11.7,51.8 10.6,50.0 9.7,48.1C8.8,46.2 8.2,44.1 7.7,42.1C7.3,40.0 7.2,37.9 7.2,35.8C7.2,33.7 7.4,31.6 7.8,29.5C8.2,27.5 8.8,25.4 9.7,23.5C10.6,21.6 11.8,19.9 13.1,18.2C14.4,16.6 15.9,15.2 17.5,13.9C19.1,12.5 20.7,11.2 22.5,10.2C24.3,9.1 26.2,8.1 28.2,7.6C30.2,7.1 32.4,6.9 34.5,7.1C36.6,7.2 38.6,7.8 40.6,8.4C42.5,9.1 44.4,9.8 46.2,10.7C48.1,11.6 49.9,12.6 51.5,13.8C53.1,15.1 54.7,16.6 56.0,18.2C57.3,19.8 58.3,21.6 59.2,23.5C60.1,25.4 60.9,27.4 61.4,29.5C61.9,31.5 62.2,33.7 62.2,35.8Z" fill="#c4c4c4" filter="url(#nfd1)" />
<path d="M62.2,35.8C62.2,37.9 61.9,40.1 61.4,42.1C60.9,44.2 60.1,46.2 59.3,48.1C58.4,50.0 57.4,51.9 56.1,53.5C54.9,55.2 53.4,56.9 51.8,58.1C50.2,59.4 48.3,60.4 46.4,61.2C44.5,61.9 42.5,62.4 40.5,62.8C38.5,63.2 36.5,63.5 34.5,63.7C32.5,63.8 30.4,63.9 28.3,63.6C26.3,63.3 24.2,62.7 22.4,61.7C20.5,60.8 18.8,59.5 17.2,58.1C15.7,56.7 14.2,55.1 13.0,53.5C11.7,51.8 10.6,50.0 9.7,48.1C8.8,46.2 8.2,44.1 7.7,42.1C7.3,40.0 7.2,37.9 7.2,35.8C7.2,33.7 7.4,31.6 7.8,29.5C8.2,27.5 8.8,25.4 9.7,23.5C10.6,21.6 11.8,19.9 13.1,18.2C14.4,16.6 15.9,15.2 17.5,13.9C19.1,12.5 20.7,11.2 22.5,10.2C24.3,9.1 26.2,8.1 28.2,7.6C30.2,7.1 32.4,6.9 34.5,7.1C36.6,7.2 38.6,7.8 40.6,8.4C42.5,9.1 44.4,9.8 46.2,10.7C48.1,11.6 49.9,12.6 51.5,13.8C53.1,15.1 54.7,16.6 56.0,18.2C57.3,19.8 58.3,21.6 59.2,23.5C60.1,25.4 60.9,27.4 61.4,29.5C61.9,31.5 62.2,33.7 62.2,35.8Z" fill="none" filter="url(#b05)" stroke="#cfcfcf" stroke-width="1.8" opacity="0.85"/>
<ellipse cx="32.0" cy="52.0" rx="6.0" ry="4.0" transform="rotate(0 32.0 52.0)" fill="#c8c8c8" opacity="0.8" filter="url(#b1)"/>
<ellipse cx="44.0" cy="48.0" rx="4.0" ry="5.0" transform="rotate(0 44.0 48.0)" fill="#c8c8c8" opacity="0.8" filter="url(#b1)"/>
<ellipse cx="26.0" cy="42.0" rx="3.0" ry="3.0" transform="rotate(0 26.0 42.0)" fill="#c8c8c8" opacity="0.8" filter="url(#b1)"/>
<ellipse cx="46.0" cy="30.0" rx="3.0" ry="4.0" transform="rotate(0 46.0 30.0)" fill="#c8c8c8" opacity="0.8" filter="url(#b1)"/>
<ellipse cx="36.0" cy="20.0" rx="3.0" ry="2.0" transform="rotate(0 36.0 20.0)" fill="#c8c8c8" opacity="0.8" filter="url(#b1)"/>
</g></g>
<rect x="476.0" y="42.0" width="71.0" height="72.0" fill="#000"/>
<clipPath id="q20"><rect x="0" y="0" width="71.0" height="72.0"/></clipPath>
<g transform="translate(476.0,42.0)"><g clip-path="url(#q20)">
<path d="M62.2,35.8C62.2,37.9 61.9,40.1 61.4,42.1C60.9,44.2 60.1,46.2 59.3,48.1C58.4,50.0 57.4,51.9 56.1,53.5C54.9,55.2 53.4,56.9 51.8,58.1C50.2,59.4 48.3,60.4 46.4,61.2C44.5,61.9 42.5,62.4 40.5,62.8C38.5,63.2 36.5,63.5 34.5,63.7C32.5,63.8 30.4,63.9 28.3,63.6C26.3,63.3 24.2,62.7 22.4,61.7C20.5,60.8 18.8,59.5 17.2,58.1C15.7,56.7 14.2,55.1 13.0,53.5C11.7,51.8 10.6,50.0 9.7,48.1C8.8,46.2 8.2,44.1 7.7,42.1C7.3,40.0 7.2,37.9 7.2,35.8C7.2,33.7 7.4,31.6 7.8,29.5C8.2,27.5 8.8,25.4 9.7,23.5C10.6,21.6 11.8,19.9 13.1,18.2C14.4,16.6 15.9,15.2 17.5,13.9C19.1,12.5 20.7,11.2 22.5,10.2C24.3,9.1 26.2,8.1 28.2,7.6C30.2,7.1 32.4,6.9 34.5,7.1C36.6,7.2 38.6,7.8 40.6,8.4C42.5,9.1 44.4,9.8 46.2,10.7C48.1,11.6 49.9,12.6 51.5,13.8C53.1,15.1 54.7,16.6 56.0,18.2C57.3,19.8 58.3,21.6 59.2,23.5C60.1,25.4 60.9,27.4 61.4,29.5C61.9,31.5 62.2,33.7 62.2,35.8Z" fill="#141010" filter="url(#b05)" />
<path d="M62.2,35.8C62.2,37.9 61.9,40.1 61.4,42.1C60.9,44.2 60.1,46.2 59.3,48.1C58.4,50.0 57.4,51.9 56.1,53.5C54.9,55.2 53.4,56.9 51.8,58.1C50.2,59.4 48.3,60.4 46.4,61.2C44.5,61.9 42.5,62.4 40.5,62.8C38.5,63.2 36.5,63.5 34.5,63.7C32.5,63.8 30.4,63.9 28.3,63.6C26.3,63.3 24.2,62.7 22.4,61.7C20.5,60.8 18.8,59.5 17.2,58.1C15.7,56.7 14.2,55.1 13.0,53.5C11.7,51.8 10.6,50.0 9.7,48.1C8.8,46.2 8.2,44.1 7.7,42.1C7.3,40.0 7.2,37.9 7.2,35.8C7.2,33.7 7.4,31.6 7.8,29.5C8.2,27.5 8.8,25.4 9.7,23.5C10.6,21.6 11.8,19.9 13.1,18.2C14.4,16.6 15.9,15.2 17.5,13.9C19.1,12.5 20.7,11.2 22.5,10.2C24.3,9.1 26.2,8.1 28.2,7.6C30.2,7.1 32.4,6.9 34.5,7.1C36.6,7.2 38.6,7.8 40.6,8.4C42.5,9.1 44.4,9.8 46.2,10.7C48.1,11.6 49.9,12.6 51.5,13.8C53.1,15.1 54.7,16.6 56.0,18.2C57.3,19.8 58.3,21.6 59.2,23.5C60.1,25.4 60.9,27.4 61.4,29.5C61.9,31.5 62.2,33.7 62.2,35.8Z" fill="#ccc0c0" filter="url(#nfd1)" />
<path d="M62.2,35.8C62.2,37.9 61.9,40.1 61.4,42.1C60.9,44.2 60.1,46.2 59.3,48.1C58.4,50.0 57.4,51.9 56.1,53.5C54.9,55.2 53.4,56.9 51.8,58.1C50.2,59.4 48.3,60.4 46.4,61.2C44.5,61.9 42.5,62.4 40.5,62.8C38.5,63.2 36.5,63.5 34.5,63.7C32.5,63.8 30.4,63.9 28.3,63.6C26.3,63.3 24.2,62.7 22.4,61.7C20.5,60.8 18.8,59.5 17.2,58.1C15.7,56.7 14.2,55.1 13.0,53.5C11.7,51.8 10.6,50.0 9.7,48.1C8.8,46.2 8.2,44.1 7.7,42.1C7.3,40.0 7.2,37.9 7.2,35.8C7.2,33.7 7.4,31.6 7.8,29.5C8.2,27.5 8.8,25.4 9.7,23.5C10.6,21.6 11.8,19.9 13.1,18.2C14.4,16.6 15.9,15.2 17.5,13.9C19.1,12.5 20.7,11.2 22.5,10.2C24.3,9.1 26.2,8.1 28.2,7.6C30.2,7.1 32.4,6.9 34.5,7.1C36.6,7.2 38.6,7.8 40.6,8.4C42.5,9.1 44.4,9.8 46.2,10.7C48.1,11.6 49.9,12.6 51.5,13.8C53.1,15.1 54.7,16.6 56.0,18.2C57.3,19.8 58.3,21.6 59.2,23.5C60.1,25.4 60.9,27.4 61.4,29.5C61.9,31.5 62.2,33.7 62.2,35.8Z" fill="none" filter="url(#b05)" stroke="#d8cccc" stroke-width="1.8" opacity="0.85"/>
<ellipse cx="32.0" cy="52.0" rx="6.0" ry="4.0" transform="rotate(0 32.0 52.0)" fill="#d8c8c8" opacity="0.8" filter="url(#b1)"/>
<ellipse cx="44.0" cy="48.0" rx="4.0" ry="5.0" transform="rotate(0 44.0 48.0)" fill="#d8c8c8" opacity="0.8" filter="url(#b1)"/>
<ellipse cx="26.0" cy="42.0" rx="3.0" ry="3.0" transform="rotate(0 26.0 42.0)" fill="#d8c8c8" opacity="0.8" filter="url(#b1)"/>
<ellipse cx="46.0" cy="30.0" rx="3.0" ry="4.0" transform="rotate(0 46.0 30.0)" fill="#d8c8c8" opacity="0.8" filter="url(#b1)"/>
<ellipse cx="36.0" cy="20.0" rx="3.0" ry="2.0" transform="rotate(0 36.0 20.0)" fill="#d8c8c8" opacity="0.8" filter="url(#b1)"/>
<g style="mix-blend-mode:screen" opacity="0.65">
<path d="M62.4,35.0C62.5,37.1 63.0,39.2 62.8,41.4C62.7,43.5 62.4,45.8 61.4,47.7C60.5,49.6 58.8,51.3 57.2,52.7C55.6,54.1 53.7,55.1 51.9,56.2C50.2,57.3 48.6,58.5 46.8,59.5C45.0,60.5 43.2,61.6 41.2,62.1C39.2,62.7 37.1,63.0 35.0,63.0C32.9,63.0 30.8,62.7 28.8,62.3C26.7,61.9 24.6,61.4 22.7,60.6C20.7,59.8 18.8,58.7 17.2,57.3C15.7,55.9 14.4,54.1 13.2,52.4C12.0,50.7 11.1,48.8 10.1,47.0C9.1,45.2 7.9,43.3 7.3,41.3C6.7,39.3 6.2,37.1 6.4,35.0C6.5,32.9 7.5,30.8 8.2,28.9C9.0,27.0 10.1,25.3 11.0,23.4C11.8,21.6 12.4,19.6 13.4,17.8C14.4,16.0 15.5,13.9 17.0,12.4C18.5,11.0 20.5,9.8 22.5,9.0C24.4,8.2 26.6,7.9 28.7,7.5C30.8,7.2 32.9,7.0 35.0,7.0C37.1,7.0 39.2,7.2 41.2,7.7C43.2,8.2 45.1,9.2 47.0,10.2C48.8,11.1 50.5,12.3 52.1,13.5C53.8,14.7 55.6,15.9 57.0,17.5C58.4,19.0 59.7,20.8 60.5,22.7C61.3,24.6 61.6,26.8 61.9,28.9C62.2,30.9 62.2,32.9 62.4,35.0Z" fill="#c01010" filter="url(#spk1)" />
<ellipse cx="27.4" cy="15.6" rx="2.2" ry="2.5" transform="rotate(0 27.4 15.6)" fill="#ff2020" filter="url(#b05)"/>
<ellipse cx="41.6" cy="25.2" rx="2.5" ry="3.5" transform="rotate(0 41.6 25.2)" fill="#ff2020" filter="url(#b05)"/>
<ellipse cx="45.0" cy="39.3" rx="2.5" ry="2.0" transform="rotate(0 45.0 39.3)" fill="#ff2020" filter="url(#b05)"/>
<ellipse cx="27.4" cy="49.0" rx="3.0" ry="3.5" transform="rotate(0 27.4 49.0)" fill="#ff2020" filter="url(#b05)"/>
<ellipse cx="43.3" cy="50.0" rx="2.0" ry="3.0" transform="rotate(0 43.3 50.0)" fill="#ff2020" filter="url(#b05)"/>
<ellipse cx="32.0" cy="26.0" rx="1.5" ry="1.5" transform="rotate(0 32.0 26.0)" fill="#ff2020" filter="url(#b05)"/>
<ellipse cx="24.0" cy="30.0" rx="1.2" ry="1.2" transform="rotate(0 24.0 30.0)" fill="#ff2020" filter="url(#b05)"/>
</g>
</g></g>
<rect x="552.0" y="42.0" width="70.5" height="72.0" fill="#000"/>
<clipPath id="q21"><rect x="0" y="0" width="70.5" height="72.0"/></clipPath>
<g transform="translate(552.0,42.0)"><g clip-path="url(#q21)">
<path d="M63.4,35.0C63.5,37.0 64.0,39.0 63.8,41.0C63.7,43.0 63.4,45.3 62.4,47.0C61.5,48.8 59.8,50.4 58.2,51.8C56.6,53.1 54.7,54.0 52.9,55.1C51.2,56.2 49.6,57.2 47.8,58.2C46.0,59.1 44.2,60.1 42.2,60.7C40.2,61.2 38.1,61.5 36.0,61.5C33.9,61.5 31.8,61.2 29.8,60.8C27.7,60.5 25.6,60.0 23.7,59.2C21.7,58.5 19.8,57.4 18.2,56.1C16.7,54.8 15.4,53.1 14.2,51.4C13.0,49.8 12.1,48.1 11.1,46.4C10.1,44.6 8.9,42.9 8.3,41.0C7.7,39.1 7.2,37.0 7.4,35.0C7.5,33.0 8.5,31.0 9.2,29.2C10.0,27.4 11.1,25.8 12.0,24.0C12.8,22.3 13.4,20.5 14.4,18.7C15.4,17.0 16.5,15.0 18.0,13.6C19.5,12.3 21.5,11.2 23.5,10.4C25.4,9.6 27.6,9.3 29.7,9.0C31.8,8.7 33.9,8.5 36.0,8.5C38.1,8.5 40.2,8.7 42.2,9.2C44.2,9.7 46.1,10.6 48.0,11.5C49.8,12.4 51.5,13.5 53.1,14.7C54.8,15.8 56.6,16.9 58.0,18.4C59.4,19.8 60.7,21.6 61.5,23.4C62.3,25.2 62.6,27.3 62.9,29.2C63.2,31.1 63.2,33.0 63.4,35.0Z" fill="#300000" filter="url(#b2)" opacity="0.5" />
<path d="M63.4,35.0C63.5,37.0 64.0,39.0 63.8,41.0C63.7,43.0 63.4,45.3 62.4,47.0C61.5,48.8 59.8,50.4 58.2,51.8C56.6,53.1 54.7,54.0 52.9,55.1C51.2,56.2 49.6,57.2 47.8,58.2C46.0,59.1 44.2,60.1 42.2,60.7C40.2,61.2 38.1,61.5 36.0,61.5C33.9,61.5 31.8,61.2 29.8,60.8C27.7,60.5 25.6,60.0 23.7,59.2C21.7,58.5 19.8,57.4 18.2,56.1C16.7,54.8 15.4,53.1 14.2,51.4C13.0,49.8 12.1,48.1 11.1,46.4C10.1,44.6 8.9,42.9 8.3,41.0C7.7,39.1 7.2,37.0 7.4,35.0C7.5,33.0 8.5,31.0 9.2,29.2C10.0,27.4 11.1,25.8 12.0,24.0C12.8,22.3 13.4,20.5 14.4,18.7C15.4,17.0 16.5,15.0 18.0,13.6C19.5,12.3 21.5,11.2 23.5,10.4C25.4,9.6 27.6,9.3 29.7,9.0C31.8,8.7 33.9,8.5 36.0,8.5C38.1,8.5 40.2,8.7 42.2,9.2C44.2,9.7 46.1,10.6 48.0,11.5C49.8,12.4 51.5,13.5 53.1,14.7C54.8,15.8 56.6,16.9 58.0,18.4C59.4,19.8 60.7,21.6 61.5,23.4C62.3,25.2 62.6,27.3 62.9,29.2C63.2,31.1 63.2,33.0 63.4,35.0Z" fill="#c01010" filter="url(#spk2)" />
<ellipse cx="40.7" cy="28.7" rx="5.0" ry="7.5" transform="rotate(0 40.7 28.7)" fill="#ff2020" filter="url(#b05)"/>
<ellipse cx="24.7" cy="30.5" rx="4.0" ry="4.0" transform="rotate(0 24.7 30.5)" fill="#ff2020" filter="url(#b05)"/>
<ellipse cx="30.0" cy="43.0" rx="3.5" ry="3.5" transform="rotate(0 30.0 43.0)" fill="#ff2020" filter="url(#b05)"/>
<ellipse cx="47.7" cy="44.7" rx="4.0" ry="3.5" transform="rotate(0 47.7 44.7)" fill="#ff2020" filter="url(#b05)"/>
</g></g>
<rect x="627.0" y="42.0" width="70.5" height="72.0" fill="#000"/>
<clipPath id="q22"><rect x="0" y="0" width="70.5" height="72.0"/></clipPath>
<g transform="translate(627.0,42.0)"><g clip-path="url(#q22)">
<path d="M59.9,28.5C60.5,30.4 61.3,32.3 61.7,34.3C62.1,36.4 62.5,38.7 62.3,40.7C62.0,42.7 61.0,44.8 60.1,46.5C59.1,48.3 57.6,49.8 56.4,51.3C55.1,52.8 53.9,54.3 52.6,55.7C51.2,57.1 49.8,58.6 48.1,59.6C46.4,60.5 44.5,61.2 42.6,61.6C40.7,62.0 38.8,61.9 36.8,62.0C34.9,62.0 33.0,62.0 31.0,61.7C29.1,61.4 27.1,61.0 25.3,60.2C23.5,59.4 21.8,58.1 20.3,56.8C18.8,55.5 17.4,54.0 16.1,52.5C14.7,51.0 13.2,49.5 12.2,47.7C11.1,45.9 10.1,43.9 9.6,41.9C9.2,39.9 9.4,37.7 9.6,35.6C9.8,33.6 10.4,31.7 10.8,29.8C11.2,27.8 11.4,25.9 11.9,23.9C12.4,22.0 12.9,19.9 13.9,18.2C14.9,16.4 16.4,14.9 17.9,13.7C19.5,12.5 21.3,11.6 23.1,10.8C24.8,9.9 26.5,9.0 28.4,8.4C30.2,7.8 32.2,7.2 34.1,7.2C36.1,7.1 38.1,7.5 40.0,8.0C41.9,8.5 43.7,9.4 45.5,10.3C47.3,11.1 49.1,12.0 50.7,13.2C52.3,14.3 53.9,15.7 55.1,17.3C56.3,18.9 57.2,20.9 58.0,22.8C58.8,24.6 59.2,26.5 59.9,28.5Z" fill="#404040" filter="url(#b05)" />
<path d="M59.9,28.5C60.5,30.4 61.3,32.3 61.7,34.3C62.1,36.4 62.5,38.7 62.3,40.7C62.0,42.7 61.0,44.8 60.1,46.5C59.1,48.3 57.6,49.8 56.4,51.3C55.1,52.8 53.9,54.3 52.6,55.7C51.2,57.1 49.8,58.6 48.1,59.6C46.4,60.5 44.5,61.2 42.6,61.6C40.7,62.0 38.8,61.9 36.8,62.0C34.9,62.0 33.0,62.0 31.0,61.7C29.1,61.4 27.1,61.0 25.3,60.2C23.5,59.4 21.8,58.1 20.3,56.8C18.8,55.5 17.4,54.0 16.1,52.5C14.7,51.0 13.2,49.5 12.2,47.7C11.1,45.9 10.1,43.9 9.6,41.9C9.2,39.9 9.4,37.7 9.6,35.6C9.8,33.6 10.4,31.7 10.8,29.8C11.2,27.8 11.4,25.9 11.9,23.9C12.4,22.0 12.9,19.9 13.9,18.2C14.9,16.4 16.4,14.9 17.9,13.7C19.5,12.5 21.3,11.6 23.1,10.8C24.8,9.9 26.5,9.0 28.4,8.4C30.2,7.8 32.2,7.2 34.1,7.2C36.1,7.1 38.1,7.5 40.0,8.0C41.9,8.5 43.7,9.4 45.5,10.3C47.3,11.1 49.1,12.0 50.7,13.2C52.3,14.3 53.9,15.7 55.1,17.3C56.3,18.9 57.2,20.9 58.0,22.8C58.8,24.6 59.2,26.5 59.9,28.5Z" fill="#c8c8c8" filter="url(#nts2)" />
<ellipse cx="26.0" cy="26.0" rx="5.0" ry="4.0" transform="rotate(0 26.0 26.0)" fill="#000" opacity="0.85" filter="url(#b1)"/>
<ellipse cx="44.0" cy="50.0" rx="4.0" ry="4.0" transform="rotate(0 44.0 50.0)" fill="#000" opacity="0.85" filter="url(#b1)"/>
<ellipse cx="32.0" cy="44.0" rx="3.0" ry="3.0" transform="rotate(0 32.0 44.0)" fill="#000" opacity="0.85" filter="url(#b1)"/>
<ellipse cx="50.0" cy="30.0" rx="3.0" ry="3.0" transform="rotate(0 50.0 30.0)" fill="#000" opacity="0.85" filter="url(#b1)"/>
<path d="M59.9,28.5C60.5,30.4 61.3,32.3 61.7,34.3C62.1,36.4 62.5,38.7 62.3,40.7C62.0,42.7 61.0,44.8 60.1,46.5C59.1,48.3 57.6,49.8 56.4,51.3C55.1,52.8 53.9,54.3 52.6,55.7C51.2,57.1 49.8,58.6 48.1,59.6C46.4,60.5 44.5,61.2 42.6,61.6C40.7,62.0 38.8,61.9 36.8,62.0C34.9,62.0 33.0,62.0 31.0,61.7C29.1,61.4 27.1,61.0 25.3,60.2C23.5,59.4 21.8,58.1 20.3,56.8C18.8,55.5 17.4,54.0 16.1,52.5C14.7,51.0 13.2,49.5 12.2,47.7C11.1,45.9 10.1,43.9 9.6,41.9C9.2,39.9 9.4,37.7 9.6,35.6C9.8,33.6 10.4,31.7 10.8,29.8C11.2,27.8 11.4,25.9 11.9,23.9C12.4,22.0 12.9,19.9 13.9,18.2C14.9,16.4 16.4,14.9 17.9,13.7C19.5,12.5 21.3,11.6 23.1,10.8C24.8,9.9 26.5,9.0 28.4,8.4C30.2,7.8 32.2,7.2 34.1,7.2C36.1,7.1 38.1,7.5 40.0,8.0C41.9,8.5 43.7,9.4 45.5,10.3C47.3,11.1 49.1,12.0 50.7,13.2C52.3,14.3 53.9,15.7 55.1,17.3C56.3,18.9 57.2,20.9 58.0,22.8C58.8,24.6 59.2,26.5 59.9,28.5Z" fill="none" filter="url(#b05)" stroke="#cfcfcf" stroke-width="2.2" opacity="0.85"/>
</g></g>
<rect x="702.0" y="42.0" width="71.0" height="72.0" fill="#000"/>
<clipPath id="q23"><rect x="0" y="0" width="71.0" height="72.0"/></clipPath>
<g transform="translate(702.0,42.0)"><g clip-path="url(#q23)">
<path d="M59.9,28.5C60.5,30.4 61.3,32.3 61.7,34.3C62.1,36.4 62.5,38.7 62.3,40.7C62.0,42.7 61.0,44.8 60.1,46.5C59.1,48.3 57.6,49.8 56.4,51.3C55.1,52.8 53.9,54.3 52.6,55.7C51.2,57.1 49.8,58.6 48.1,59.6C46.4,60.5 44.5,61.2 42.6,61.6C40.7,62.0 38.8,61.9 36.8,62.0C34.9,62.0 33.0,62.0 31.0,61.7C29.1,61.4 27.1,61.0 25.3,60.2C23.5,59.4 21.8,58.1 20.3,56.8C18.8,55.5 17.4,54.0 16.1,52.5C14.7,51.0 13.2,49.5 12.2,47.7C11.1,45.9 10.1,43.9 9.6,41.9C9.2,39.9 9.4,37.7 9.6,35.6C9.8,33.6 10.4,31.7 10.8,29.8C11.2,27.8 11.4,25.9 11.9,23.9C12.4,22.0 12.9,19.9 13.9,18.2C14.9,16.4 16.4,14.9 17.9,13.7C19.5,12.5 21.3,11.6 23.1,10.8C24.8,9.9 26.5,9.0 28.4,8.4C30.2,7.8 32.2,7.2 34.1,7.2C36.1,7.1 38.1,7.5 40.0,8.0C41.9,8.5 43.7,9.4 45.5,10.3C47.3,11.1 49.1,12.0 50.7,13.2C52.3,14.3 53.9,15.7 55.1,17.3C56.3,18.9 57.2,20.9 58.0,22.8C58.8,24.6 59.2,26.5 59.9,28.5Z" fill="#141010" filter="url(#b05)" />
<path d="M59.9,28.5C60.5,30.4 61.3,32.3 61.7,34.3C62.1,36.4 62.5,38.7 62.3,40.7C62.0,42.7 61.0,44.8 60.1,46.5C59.1,48.3 57.6,49.8 56.4,51.3C55.1,52.8 53.9,54.3 52.6,55.7C51.2,57.1 49.8,58.6 48.1,59.6C46.4,60.5 44.5,61.2 42.6,61.6C40.7,62.0 38.8,61.9 36.8,62.0C34.9,62.0 33.0,62.0 31.0,61.7C29.1,61.4 27.1,61.0 25.3,60.2C23.5,59.4 21.8,58.1 20.3,56.8C18.8,55.5 17.4,54.0 16.1,52.5C14.7,51.0 13.2,49.5 12.2,47.7C11.1,45.9 10.1,43.9 9.6,41.9C9.2,39.9 9.4,37.7 9.6,35.6C9.8,33.6 10.4,31.7 10.8,29.8C11.2,27.8 11.4,25.9 11.9,23.9C12.4,22.0 12.9,19.9 13.9,18.2C14.9,16.4 16.4,14.9 17.9,13.7C19.5,12.5 21.3,11.6 23.1,10.8C24.8,9.9 26.5,9.0 28.4,8.4C30.2,7.8 32.2,7.2 34.1,7.2C36.1,7.1 38.1,7.5 40.0,8.0C41.9,8.5 43.7,9.4 45.5,10.3C47.3,11.1 49.1,12.0 50.7,13.2C52.3,14.3 53.9,15.7 55.1,17.3C56.3,18.9 57.2,20.9 58.0,22.8C58.8,24.6 59.2,26.5 59.9,28.5Z" fill="#ccc0c0" filter="url(#nts2)" />
<ellipse cx="26.0" cy="26.0" rx="5.0" ry="4.0" transform="rotate(0 26.0 26.0)" fill="#000" opacity="0.85" filter="url(#b1)"/>
<ellipse cx="44.0" cy="50.0" rx="4.0" ry="4.0" transform="rotate(0 44.0 50.0)" fill="#000" opacity="0.85" filter="url(#b1)"/>
<ellipse cx="32.0" cy="44.0" rx="3.0" ry="3.0" transform="rotate(0 32.0 44.0)" fill="#000" opacity="0.85" filter="url(#b1)"/>
<ellipse cx="50.0" cy="30.0" rx="3.0" ry="3.0" transform="rotate(0 50.0 30.0)" fill="#000" opacity="0.85" filter="url(#b1)"/>
<path d="M59.9,28.5C60.5,30.4 61.3,32.3 61.7,34.3C62.1,36.4 62.5,38.7 62.3,40.7C62.0,42.7 61.0,44.8 60.1,46.5C59.1,48.3 57.6,49.8 56.4,51.3C55.1,52.8 53.9,54.3 52.6,55.7C51.2,57.1 49.8,58.6 48.1,59.6C46.4,60.5 44.5,61.2 42.6,61.6C40.7,62.0 38.8,61.9 36.8,62.0C34.9,62.0 33.0,62.0 31.0,61.7C29.1,61.4 27.1,61.0 25.3,60.2C23.5,59.4 21.8,58.1 20.3,56.8C18.8,55.5 17.4,54.0 16.1,52.5C14.7,51.0 13.2,49.5 12.2,47.7C11.1,45.9 10.1,43.9 9.6,41.9C9.2,39.9 9.4,37.7 9.6,35.6C9.8,33.6 10.4,31.7 10.8,29.8C11.2,27.8 11.4,25.9 11.9,23.9C12.4,22.0 12.9,19.9 13.9,18.2C14.9,16.4 16.4,14.9 17.9,13.7C19.5,12.5 21.3,11.6 23.1,10.8C24.8,9.9 26.5,9.0 28.4,8.4C30.2,7.8 32.2,7.2 34.1,7.2C36.1,7.1 38.1,7.5 40.0,8.0C41.9,8.5 43.7,9.4 45.5,10.3C47.3,11.1 49.1,12.0 50.7,13.2C52.3,14.3 53.9,15.7 55.1,17.3C56.3,18.9 57.2,20.9 58.0,22.8C58.8,24.6 59.2,26.5 59.9,28.5Z" fill="none" filter="url(#b05)" stroke="#d8cccc" stroke-width="2.2" opacity="0.85"/>
<g style="mix-blend-mode:screen" opacity="0.65">
<path d="M63.4,35.0C63.5,37.0 64.0,39.0 63.8,41.0C63.7,43.0 63.4,45.3 62.4,47.0C61.5,48.8 59.8,50.4 58.2,51.8C56.6,53.1 54.7,54.0 52.9,55.1C51.2,56.2 49.6,57.2 47.8,58.2C46.0,59.1 44.2,60.1 42.2,60.7C40.2,61.2 38.1,61.5 36.0,61.5C33.9,61.5 31.8,61.2 29.8,60.8C27.7,60.5 25.6,60.0 23.7,59.2C21.7,58.5 19.8,57.4 18.2,56.1C16.7,54.8 15.4,53.1 14.2,51.4C13.0,49.8 12.1,48.1 11.1,46.4C10.1,44.6 8.9,42.9 8.3,41.0C7.7,39.1 7.2,37.0 7.4,35.0C7.5,33.0 8.5,31.0 9.2,29.2C10.0,27.4 11.1,25.8 12.0,24.0C12.8,22.3 13.4,20.5 14.4,18.7C15.4,17.0 16.5,15.0 18.0,13.6C19.5,12.3 21.5,11.2 23.5,10.4C25.4,9.6 27.6,9.3 29.7,9.0C31.8,8.7 33.9,8.5 36.0,8.5C38.1,8.5 40.2,8.7 42.2,9.2C44.2,9.7 46.1,10.6 48.0,11.5C49.8,12.4 51.5,13.5 53.1,14.7C54.8,15.8 56.6,16.9 58.0,18.4C59.4,19.8 60.7,21.6 61.5,23.4C62.3,25.2 62.6,27.3 62.9,29.2C63.2,31.1 63.2,33.0 63.4,35.0Z" fill="#300000" filter="url(#b2)" opacity="0.5" />
<path d="M63.4,35.0C63.5,37.0 64.0,39.0 63.8,41.0C63.7,43.0 63.4,45.3 62.4,47.0C61.5,48.8 59.8,50.4 58.2,51.8C56.6,53.1 54.7,54.0 52.9,55.1C51.2,56.2 49.6,57.2 47.8,58.2C46.0,59.1 44.2,60.1 42.2,60.7C40.2,61.2 38.1,61.5 36.0,61.5C33.9,61.5 31.8,61.2 29.8,60.8C27.7,60.5 25.6,60.0 23.7,59.2C21.7,58.5 19.8,57.4 18.2,56.1C16.7,54.8 15.4,53.1 14.2,51.4C13.0,49.8 12.1,48.1 11.1,46.4C10.1,44.6 8.9,42.9 8.3,41.0C7.7,39.1 7.2,37.0 7.4,35.0C7.5,33.0 8.5,31.0 9.2,29.2C10.0,27.4 11.1,25.8 12.0,24.0C12.8,22.3 13.4,20.5 14.4,18.7C15.4,17.0 16.5,15.0 18.0,13.6C19.5,12.3 21.5,11.2 23.5,10.4C25.4,9.6 27.6,9.3 29.7,9.0C31.8,8.7 33.9,8.5 36.0,8.5C38.1,8.5 40.2,8.7 42.2,9.2C44.2,9.7 46.1,10.6 48.0,11.5C49.8,12.4 51.5,13.5 53.1,14.7C54.8,15.8 56.6,16.9 58.0,18.4C59.4,19.8 60.7,21.6 61.5,23.4C62.3,25.2 62.6,27.3 62.9,29.2C63.2,31.1 63.2,33.0 63.4,35.0Z" fill="#c01010" filter="url(#spk2)" />
<ellipse cx="40.7" cy="28.7" rx="5.0" ry="7.5" transform="rotate(0 40.7 28.7)" fill="#ff2020" filter="url(#b05)"/>
<ellipse cx="24.7" cy="30.5" rx="4.0" ry="4.0" transform="rotate(0 24.7 30.5)" fill="#ff2020" filter="url(#b05)"/>
<ellipse cx="30.0" cy="43.0" rx="3.5" ry="3.5" transform="rotate(0 30.0 43.0)" fill="#ff2020" filter="url(#b05)"/>
<ellipse cx="47.7" cy="44.7" rx="4.0" ry="3.5" transform="rotate(0 47.7 44.7)" fill="#ff2020" filter="url(#b05)"/>
</g>
</g></g>
<rect x="328.0" y="120.5" width="70.0" height="72.0" fill="#000"/>
<clipPath id="q24"><rect x="0" y="0" width="70.0" height="72.0"/></clipPath>
<g transform="translate(328.0,120.5)"><g clip-path="url(#q24)">
</g></g>
<rect x="401.5" y="120.5" width="70.5" height="72.0" fill="#000"/>
<clipPath id="q25"><rect x="0" y="0" width="70.5" height="72.0"/></clipPath>
<g transform="translate(401.5,120.5)"><g clip-path="url(#q25)">
<g filter="url(#b05)" opacity="1">
<circle cx="23.6" cy="14.5" r="4.3" fill="#bdbdbd"/>
<circle cx="22.4" cy="15.9" r="3.9" fill="#bdbdbd"/>
<circle cx="24.3" cy="15.3" r="3.7" fill="#bdbdbd"/>
<circle cx="21.3" cy="19.1" r="3.7" fill="#bdbdbd"/>
<circle cx="25.5" cy="18.9" r="3.5" fill="#bdbdbd"/>
<circle cx="21.7" cy="24.1" r="3.6" fill="#bdbdbd"/>
<circle cx="27.4" cy="22.8" r="4.1" fill="#bdbdbd"/>
<circle cx="25.2" cy="23.9" r="3.7" fill="#bdbdbd"/>
<circle cx="25.4" cy="27.7" r="3.3" fill="#bdbdbd"/>
<circle cx="27.5" cy="25.6" r="3.5" fill="#bdbdbd"/>
<circle cx="24.4" cy="29.6" r="4.3" fill="#bdbdbd"/>
<circle cx="32.5" cy="25.9" r="4.0" fill="#bdbdbd"/>
<circle cx="27.6" cy="33.8" r="4.0" fill="#bdbdbd"/>
<circle cx="31.3" cy="32.6" r="3.8" fill="#bdbdbd"/>
<circle cx="35.4" cy="32.4" r="4.0" fill="#bdbdbd"/>
<circle cx="35.5" cy="33.6" r="4.1" fill="#bdbdbd"/>
<circle cx="28.8" cy="37.4" r="4.1" fill="#bdbdbd"/>
<circle cx="33.2" cy="37.6" r="4.4" fill="#bdbdbd"/>
<circle cx="36.9" cy="36.8" r="4.0" fill="#bdbdbd"/>
<circle cx="38.9" cy="39.3" r="4.1" fill="#bdbdbd"/>
<circle cx="34.5" cy="41.8" r="3.8" fill="#bdbdbd"/>
<circle cx="37.1" cy="44.0" r="4.4" fill="#bdbdbd"/>
<circle cx="41.5" cy="43.2" r="4.3" fill="#bdbdbd"/>
<circle cx="41.9" cy="44.0" r="3.9" fill="#bdbdbd"/>
<circle cx="42.7" cy="43.6" r="3.3" fill="#bdbdbd"/>
<circle cx="36.8" cy="49.2" r="3.3" fill="#bdbdbd"/>
<circle cx="38.0" cy="51.0" r="3.6" fill="#bdbdbd"/>
<circle cx="41.2" cy="51.3" r="4.1" fill="#bdbdbd"/>
<circle cx="38.5" cy="53.9" r="3.7" fill="#bdbdbd"/>
<circle cx="45.9" cy="50.4" r="3.5" fill="#bdbdbd"/>
</g>
<ellipse cx="3.0" cy="68.0" rx="2.0" ry="2.0" transform="rotate(0 3.0 68.0)" fill="#444"/>
<ellipse cx="50.0" cy="40.0" rx="1.0" ry="1.0" transform="rotate(0 50.0 40.0)" fill="#555"/>
</g></g>
<rect x="476.0" y="120.5" width="71.0" height="72.0" fill="#000"/>
<clipPath id="q26"><rect x="0" y="0" width="71.0" height="72.0"/></clipPath>
<g transform="translate(476.0,120.5)"><g clip-path="url(#q26)">
<g filter="url(#b05)" opacity="1">
<circle cx="23.6" cy="14.5" r="4.3" fill="#c4bebe"/>
<circle cx="22.4" cy="15.9" r="3.9" fill="#c4bebe"/>
<circle cx="24.3" cy="15.3" r="3.7" fill="#c4bebe"/>
<circle cx="21.3" cy="19.1" r="3.7" fill="#c4bebe"/>
<circle cx="25.5" cy="18.9" r="3.5" fill="#c4bebe"/>
<circle cx="21.7" cy="24.1" r="3.6" fill="#c4bebe"/>
<circle cx="27.4" cy="22.8" r="4.1" fill="#c4bebe"/>
<circle cx="25.2" cy="23.9" r="3.7" fill="#c4bebe"/>
<circle cx="25.4" cy="27.7" r="3.3" fill="#c4bebe"/>
<circle cx="27.5" cy="25.6" r="3.5" fill="#c4bebe"/>
<circle cx="24.4" cy="29.6" r="4.3" fill="#c4bebe"/>
<circle cx="32.5" cy="25.9" r="4.0" fill="#c4bebe"/>
<circle cx="27.6" cy="33.8" r="4.0" fill="#c4bebe"/>
<circle cx="31.3" cy="32.6" r="3.8" fill="#c4bebe"/>
<circle cx="35.4" cy="32.4" r="4.0" fill="#c4bebe"/>
<circle cx="35.5" cy="33.6" r="4.1" fill="#c4bebe"/>
<circle cx="28.8" cy="37.4" r="4.1" fill="#c4bebe"/>
<circle cx="33.2" cy="37.6" r="4.4" fill="#c4bebe"/>
<circle cx="36.9" cy="36.8" r="4.0" fill="#c4bebe"/>
<circle cx="38.9" cy="39.3" r="4.1" fill="#c4bebe"/>
<circle cx="34.5" cy="41.8" r="3.8" fill="#c4bebe"/>
<circle cx="37.1" cy="44.0" r="4.4" fill="#c4bebe"/>
<circle cx="41.5" cy="43.2" r="4.3" fill="#c4bebe"/>
<circle cx="41.9" cy="44.0" r="3.9" fill="#c4bebe"/>
<circle cx="42.7" cy="43.6" r="3.3" fill="#c4bebe"/>
<circle cx="36.8" cy="49.2" r="3.3" fill="#c4bebe"/>
<circle cx="38.0" cy="51.0" r="3.6" fill="#c4bebe"/>
<circle cx="41.2" cy="51.3" r="4.1" fill="#c4bebe"/>
<circle cx="38.5" cy="53.9" r="3.7" fill="#c4bebe"/>
<circle cx="45.9" cy="50.4" r="3.5" fill="#c4bebe"/>
</g>
<ellipse cx="3.0" cy="68.0" rx="2.0" ry="2.0" transform="rotate(0 3.0 68.0)" fill="#444"/>
<ellipse cx="50.0" cy="40.0" rx="1.0" ry="1.0" transform="rotate(0 50.0 40.0)" fill="#555"/>
<g style="mix-blend-mode:screen" opacity="0.65">
</g>
</g></g>
<rect x="552.0" y="120.5" width="70.5" height="72.0" fill="#000"/>
<clipPath id="q27"><rect x="0" y="0" width="70.5" height="72.0"/></clipPath>
<g transform="translate(552.0,120.5)"><g clip-path="url(#q27)">
<ellipse cx="35.0" cy="36.0" rx="27.0" ry="28.0" transform="rotate(0 35.0 36.0)" fill="#300000" opacity="0.5" filter="url(#b5)"/>
<ellipse cx="35.0" cy="40.0" rx="14.0" ry="10.0" transform="rotate(0 35.0 40.0)" fill="#000" opacity="0.7" filter="url(#b3)"/>
</g></g>
<rect x="627.0" y="120.5" width="70.5" height="72.0" fill="#000"/>
<clipPath id="q28"><rect x="0" y="0" width="70.5" height="72.0"/></clipPath>
<g transform="translate(627.0,120.5)"><g clip-path="url(#q28)">
<g filter="url(#b1)" opacity="1">
<circle cx="18.2" cy="36.4" r="4.9" fill="#b0b0b0"/>
<circle cx="21.0" cy="39.2" r="5.1" fill="#b0b0b0"/>
<circle cx="20.5" cy="30.4" r="4.7" fill="#b0b0b0"/>
<circle cx="24.0" cy="39.8" r="5.1" fill="#b0b0b0"/>
<circle cx="25.4" cy="31.7" r="4.3" fill="#b0b0b0"/>
<circle cx="28.4" cy="38.9" r="4.3" fill="#b0b0b0"/>
<circle cx="29.1" cy="31.2" r="4.9" fill="#b0b0b0"/>
<circle cx="30.1" cy="27.5" r="5.0" fill="#b0b0b0"/>
<circle cx="32.8" cy="34.9" r="5.4" fill="#b0b0b0"/>
<circle cx="35.9" cy="38.1" r="5.2" fill="#b0b0b0"/>
<circle cx="35.5" cy="29.4" r="5.0" fill="#b0b0b0"/>
<circle cx="38.3" cy="26.0" r="5.2" fill="#b0b0b0"/>
<circle cx="41.2" cy="31.4" r="4.8" fill="#b0b0b0"/>
<circle cx="41.8" cy="32.8" r="4.2" fill="#b0b0b0"/>
<circle cx="45.6" cy="37.6" r="4.3" fill="#b0b0b0"/>
<circle cx="45.9" cy="32.8" r="5.3" fill="#b0b0b0"/>
<circle cx="47.3" cy="30.3" r="4.9" fill="#b0b0b0"/>
<circle cx="48.8" cy="25.9" r="5.1" fill="#b0b0b0"/>
<circle cx="52.7" cy="32.3" r="4.8" fill="#b0b0b0"/>
<circle cx="52.9" cy="30.9" r="4.7" fill="#b0b0b0"/>
<circle cx="55.7" cy="26.6" r="4.1" fill="#b0b0b0"/>
<circle cx="58.2" cy="33.3" r="5.0" fill="#b0b0b0"/>
</g>
</g></g>
<rect x="702.0" y="120.5" width="71.0" height="72.0" fill="#000"/>
<clipPath id="q29"><rect x="0" y="0" width="71.0" height="72.0"/></clipPath>
<g transform="translate(702.0,120.5)"><g clip-path="url(#q29)">
<ellipse cx="37.0" cy="36.0" rx="30.0" ry="28.0" transform="rotate(0 37.0 36.0)" fill="#280000" opacity="0.6" filter="url(#b5)"/>
<g filter="url(#b1)" opacity="1">
<circle cx="18.2" cy="36.4" r="4.9" fill="#b8b0b0"/>
<circle cx="21.0" cy="39.2" r="5.1" fill="#b8b0b0"/>
<circle cx="20.5" cy="30.4" r="4.7" fill="#b8b0b0"/>
<circle cx="24.0" cy="39.8" r="5.1" fill="#b8b0b0"/>
<circle cx="25.4" cy="31.7" r="4.3" fill="#b8b0b0"/>
<circle cx="28.4" cy="38.9" r="4.3" fill="#b8b0b0"/>
<circle cx="29.1" cy="31.2" r="4.9" fill="#b8b0b0"/>
<circle cx="30.1" cy="27.5" r="5.0" fill="#b8b0b0"/>
<circle cx="32.8" cy="34.9" r="5.4" fill="#b8b0b0"/>
<circle cx="35.9" cy="38.1" r="5.2" fill="#b8b0b0"/>
<circle cx="35.5" cy="29.4" r="5.0" fill="#b8b0b0"/>
<circle cx="38.3" cy="26.0" r="5.2" fill="#b8b0b0"/>
<circle cx="41.2" cy="31.4" r="4.8" fill="#b8b0b0"/>
<circle cx="41.8" cy="32.8" r="4.2" fill="#b8b0b0"/>
<circle cx="45.6" cy="37.6" r="4.3" fill="#b8b0b0"/>
<circle cx="45.9" cy="32.8" r="5.3" fill="#b8b0b0"/>
<circle cx="47.3" cy="30.3" r="4.9" fill="#b8b0b0"/>
<circle cx="48.8" cy="25.9" r="5.1" fill="#b8b0b0"/>
<circle cx="52.7" cy="32.3" r="4.8" fill="#b8b0b0"/>
<circle cx="52.9" cy="30.9" r="4.7" fill="#b8b0b0"/>
<circle cx="55.7" cy="26.6" r="4.1" fill="#b8b0b0"/>
<circle cx="58.2" cy="33.3" r="5.0" fill="#b8b0b0"/>
</g>
<g style="mix-blend-mode:screen" opacity="0.65">
<ellipse cx="35.0" cy="36.0" rx="27.0" ry="28.0" transform="rotate(0 35.0 36.0)" fill="#300000" opacity="0.5" filter="url(#b5)"/>
<ellipse cx="35.0" cy="40.0" rx="14.0" ry="10.0" transform="rotate(0 35.0 40.0)" fill="#000" opacity="0.7" filter="url(#b3)"/>
</g>
</g></g>
<rect x="328.0" y="198.5" width="70.0" height="73.0" fill="#000"/>
<clipPath id="q30"><rect x="0" y="0" width="70.0" height="73.0"/></clipPath>
<g transform="translate(328.0,198.5)"><g clip-path="url(#q30)">
<path d="M18.2,34.0C18.1,35.0 17.9,36.0 17.8,36.9C17.7,37.9 17.6,38.7 17.4,39.7C17.3,40.6 17.3,41.7 17.1,42.6C16.9,43.4 16.7,44.3 16.4,44.8C16.1,45.3 15.7,45.4 15.4,45.7C15.1,45.9 14.7,46.0 14.4,46.2C14.1,46.5 13.8,46.9 13.5,47.1C13.2,47.4 12.8,47.6 12.5,47.6C12.1,47.5 11.8,47.3 11.4,46.8C11.1,46.4 10.8,45.8 10.5,45.2C10.3,44.5 10.0,43.6 9.9,42.7C9.7,41.8 9.6,40.7 9.6,39.7C9.5,38.7 9.5,37.7 9.4,36.8C9.4,35.8 9.3,35.0 9.2,34.0C9.1,33.0 9.0,31.9 9.0,30.9C9.0,29.9 9.2,28.8 9.3,28.0C9.5,27.1 9.8,26.5 10.1,25.8C10.3,25.0 10.5,24.4 10.8,23.7C11.0,23.0 11.2,22.0 11.5,21.3C11.7,20.7 12.1,20.1 12.4,19.9C12.8,19.7 13.2,19.9 13.5,20.1C13.8,20.4 14.2,20.9 14.5,21.3C14.8,21.7 15.1,22.1 15.3,22.5C15.6,23.0 15.9,23.5 16.1,24.0C16.4,24.6 16.6,25.2 16.9,25.9C17.2,26.5 17.4,27.2 17.7,28.0C17.9,28.8 18.1,29.8 18.2,30.8C18.3,31.8 18.3,33.0 18.2,34.0Z" fill="#e01010" filter="url(#spd3)" />
<path d="M61.3,37.0C61.3,38.3 61.1,39.7 61.0,41.0C60.8,42.2 60.7,43.4 60.5,44.5C60.4,45.7 60.2,46.9 60.0,47.9C59.8,48.9 59.5,49.7 59.2,50.4C59.0,51.0 58.6,51.4 58.3,51.9C58.1,52.5 57.8,53.2 57.5,53.8C57.2,54.3 56.8,55.1 56.5,55.3C56.2,55.4 55.8,55.1 55.5,54.6C55.2,54.1 54.9,53.1 54.6,52.4C54.3,51.7 54.0,51.2 53.7,50.5C53.4,49.9 53.0,49.4 52.8,48.5C52.6,47.5 52.4,46.2 52.3,44.9C52.2,43.6 52.3,42.1 52.3,40.8C52.3,39.4 52.3,38.3 52.3,37.0C52.3,35.7 52.2,34.4 52.2,33.2C52.2,31.9 52.3,30.5 52.4,29.4C52.5,28.2 52.8,27.1 53.0,26.1C53.2,25.0 53.4,24.0 53.6,23.0C53.9,22.0 54.1,20.9 54.4,20.4C54.8,19.8 55.1,19.7 55.5,19.6C55.8,19.6 56.2,20.1 56.5,20.3C56.8,20.4 57.1,20.4 57.5,20.5C57.8,20.6 58.2,20.4 58.5,20.8C58.8,21.3 59.1,22.2 59.3,23.2C59.6,24.1 59.7,25.5 59.8,26.6C60.0,27.7 60.2,28.7 60.4,29.7C60.6,30.8 60.9,31.8 61.0,33.0C61.2,34.2 61.3,35.7 61.3,37.0Z" fill="#e01010" filter="url(#spd4)" />
</g></g>
<rect x="401.5" y="198.5" width="70.5" height="73.0" fill="#000"/>
<clipPath id="q31"><rect x="0" y="0" width="70.5" height="73.0"/></clipPath>
<g transform="translate(401.5,198.5)"><g clip-path="url(#q31)">
<ellipse cx="10.0" cy="0.0" rx="10.0" ry="3.0" transform="rotate(0 10.0 0.0)" fill="#666" filter="url(#b1)"/>
<path d="M20.3,33.5C20.4,34.7 20.3,36.0 20.3,37.2C20.2,38.5 20.0,39.7 19.9,40.8C19.7,41.9 19.5,43.0 19.3,44.0C19.0,45.1 18.8,46.0 18.4,46.8C18.1,47.6 17.8,48.4 17.4,48.9C17.1,49.4 16.7,49.7 16.3,49.9C15.9,50.1 15.5,50.1 15.1,50.1C14.7,50.1 14.4,50.0 14.0,50.0C13.6,50.0 13.3,50.0 12.9,49.9C12.5,49.9 12.1,49.9 11.8,49.8C11.4,49.6 10.9,49.4 10.6,48.9C10.2,48.5 9.8,47.8 9.5,47.0C9.2,46.1 9.0,45.0 8.8,43.9C8.6,42.9 8.5,41.6 8.4,40.4C8.3,39.3 8.3,38.1 8.3,36.9C8.2,35.8 8.2,34.6 8.2,33.5C8.2,32.4 8.2,31.2 8.3,30.1C8.3,28.9 8.4,27.8 8.5,26.7C8.6,25.6 8.8,24.5 9.0,23.5C9.2,22.5 9.5,21.5 9.7,20.7C10.0,19.8 10.3,19.0 10.6,18.3C10.9,17.5 11.3,16.8 11.6,16.2C12.0,15.6 12.4,15.1 12.8,14.7C13.2,14.4 13.6,14.2 14.0,14.3C14.4,14.4 14.8,14.8 15.2,15.3C15.6,15.8 15.9,16.6 16.2,17.4C16.5,18.1 16.8,19.1 17.0,19.9C17.3,20.7 17.5,21.5 17.8,22.2C18.0,23.0 18.3,23.6 18.5,24.4C18.8,25.2 19.1,25.9 19.4,26.8C19.6,27.8 19.9,28.8 20.0,29.9C20.2,31.0 20.3,32.3 20.3,33.5Z" fill="#bdbdbd" filter="url(#lump4)" />
<path d="M61.6,38.7C61.7,39.9 61.6,41.3 61.5,42.5C61.4,43.7 61.2,44.9 61.1,45.9C60.9,47.0 60.6,47.9 60.4,48.9C60.2,49.9 60.0,50.9 59.8,52.0C59.6,53.0 59.5,54.3 59.2,55.3C59.0,56.4 58.7,57.6 58.4,58.3C58.0,59.1 57.6,59.7 57.2,59.8C56.8,60.0 56.4,59.7 56.0,59.2C55.6,58.8 55.3,57.9 54.9,57.1C54.6,56.4 54.4,55.5 54.1,54.8C53.8,54.1 53.5,53.5 53.3,52.9C53.0,52.2 52.7,51.8 52.4,51.1C52.2,50.4 51.9,49.6 51.7,48.7C51.4,47.8 51.3,46.7 51.1,45.7C51.0,44.6 51.0,43.4 50.9,42.2C50.9,41.0 50.8,39.9 50.8,38.7C50.7,37.5 50.7,36.3 50.6,35.0C50.6,33.7 50.5,32.3 50.6,30.9C50.6,29.5 50.7,28.0 50.8,26.8C51.0,25.5 51.3,24.3 51.6,23.5C51.9,22.6 52.3,22.1 52.7,21.8C53.1,21.4 53.5,21.4 53.9,21.3C54.3,21.2 54.6,21.3 55.0,21.1C55.3,21.0 55.7,20.8 56.0,20.6C56.3,20.5 56.7,20.2 57.1,20.2C57.4,20.2 57.8,20.4 58.1,20.8C58.5,21.2 58.8,22.0 59.1,22.8C59.3,23.7 59.5,24.8 59.7,25.8C59.9,26.8 60.1,27.9 60.2,28.9C60.4,29.9 60.6,30.9 60.8,31.9C60.9,32.9 61.2,33.9 61.3,35.1C61.4,36.2 61.6,37.5 61.6,38.7Z" fill="#bdbdbd" filter="url(#lump1)" />
<g filter="url(#b05)" opacity="1">
<circle cx="13.5" cy="15.9" r="3.3" fill="#bdbdbd"/>
<circle cx="14.9" cy="20.1" r="4.1" fill="#bdbdbd"/>
<circle cx="13.9" cy="24.5" r="3.3" fill="#bdbdbd"/>
<circle cx="13.4" cy="28.2" r="3.8" fill="#bdbdbd"/>
<circle cx="14.2" cy="34.2" r="3.7" fill="#bdbdbd"/>
<circle cx="15.0" cy="36.9" r="3.3" fill="#bdbdbd"/>
<circle cx="13.9" cy="41.0" r="3.8" fill="#bdbdbd"/>
<circle cx="13.0" cy="46.9" r="4.0" fill="#bdbdbd"/>
<circle cx="15.3" cy="51.3" r="4.1" fill="#bdbdbd"/>
</g>
<g filter="url(#b05)" opacity="1">
<circle cx="55.7" cy="20.4" r="4.1" fill="#bdbdbd"/>
<circle cx="56.3" cy="26.4" r="4.0" fill="#bdbdbd"/>
<circle cx="54.4" cy="31.1" r="3.2" fill="#bdbdbd"/>
<circle cx="56.9" cy="35.6" r="4.0" fill="#bdbdbd"/>
<circle cx="55.7" cy="37.7" r="3.6" fill="#bdbdbd"/>
<circle cx="55.1" cy="43.8" r="4.0" fill="#bdbdbd"/>
<circle cx="54.9" cy="48.7" r="3.8" fill="#bdbdbd"/>
<circle cx="55.3" cy="52.3" r="3.8" fill="#bdbdbd"/>
<circle cx="57.1" cy="57.6" r="4.2" fill="#bdbdbd"/>
</g>
</g></g>
<rect x="476.0" y="198.5" width="71.0" height="73.0" fill="#000"/>
<clipPath id="q32"><rect x="0" y="0" width="71.0" height="73.0"/></clipPath>
<g transform="translate(476.0,198.5)"><g clip-path="url(#q32)">
<ellipse cx="10.0" cy="0.0" rx="10.0" ry="3.0" transform="rotate(0 10.0 0.0)" fill="#666" filter="url(#b1)"/>
<path d="M20.3,33.5C20.4,34.7 20.3,36.0 20.3,37.2C20.2,38.5 20.0,39.7 19.9,40.8C19.7,41.9 19.5,43.0 19.3,44.0C19.0,45.1 18.8,46.0 18.4,46.8C18.1,47.6 17.8,48.4 17.4,48.9C17.1,49.4 16.7,49.7 16.3,49.9C15.9,50.1 15.5,50.1 15.1,50.1C14.7,50.1 14.4,50.0 14.0,50.0C13.6,50.0 13.3,50.0 12.9,49.9C12.5,49.9 12.1,49.9 11.8,49.8C11.4,49.6 10.9,49.4 10.6,48.9C10.2,48.5 9.8,47.8 9.5,47.0C9.2,46.1 9.0,45.0 8.8,43.9C8.6,42.9 8.5,41.6 8.4,40.4C8.3,39.3 8.3,38.1 8.3,36.9C8.2,35.8 8.2,34.6 8.2,33.5C8.2,32.4 8.2,31.2 8.3,30.1C8.3,28.9 8.4,27.8 8.5,26.7C8.6,25.6 8.8,24.5 9.0,23.5C9.2,22.5 9.5,21.5 9.7,20.7C10.0,19.8 10.3,19.0 10.6,18.3C10.9,17.5 11.3,16.8 11.6,16.2C12.0,15.6 12.4,15.1 12.8,14.7C13.2,14.4 13.6,14.2 14.0,14.3C14.4,14.4 14.8,14.8 15.2,15.3C15.6,15.8 15.9,16.6 16.2,17.4C16.5,18.1 16.8,19.1 17.0,19.9C17.3,20.7 17.5,21.5 17.8,22.2C18.0,23.0 18.3,23.6 18.5,24.4C18.8,25.2 19.1,25.9 19.4,26.8C19.6,27.8 19.9,28.8 20.0,29.9C20.2,31.0 20.3,32.3 20.3,33.5Z" fill="#ccb8b8" filter="url(#lump4)" />
<path d="M61.6,38.7C61.7,39.9 61.6,41.3 61.5,42.5C61.4,43.7 61.2,44.9 61.1,45.9C60.9,47.0 60.6,47.9 60.4,48.9C60.2,49.9 60.0,50.9 59.8,52.0C59.6,53.0 59.5,54.3 59.2,55.3C59.0,56.4 58.7,57.6 58.4,58.3C58.0,59.1 57.6,59.7 57.2,59.8C56.8,60.0 56.4,59.7 56.0,59.2C55.6,58.8 55.3,57.9 54.9,57.1C54.6,56.4 54.4,55.5 54.1,54.8C53.8,54.1 53.5,53.5 53.3,52.9C53.0,52.2 52.7,51.8 52.4,51.1C52.2,50.4 51.9,49.6 51.7,48.7C51.4,47.8 51.3,46.7 51.1,45.7C51.0,44.6 51.0,43.4 50.9,42.2C50.9,41.0 50.8,39.9 50.8,38.7C50.7,37.5 50.7,36.3 50.6,35.0C50.6,33.7 50.5,32.3 50.6,30.9C50.6,29.5 50.7,28.0 50.8,26.8C51.0,25.5 51.3,24.3 51.6,23.5C51.9,22.6 52.3,22.1 52.7,21.8C53.1,21.4 53.5,21.4 53.9,21.3C54.3,21.2 54.6,21.3 55.0,21.1C55.3,21.0 55.7,20.8 56.0,20.6C56.3,20.5 56.7,20.2 57.1,20.2C57.4,20.2 57.8,20.4 58.1,20.8C58.5,21.2 58.8,22.0 59.1,22.8C59.3,23.7 59.5,24.8 59.7,25.8C59.9,26.8 60.1,27.9 60.2,28.9C60.4,29.9 60.6,30.9 60.8,31.9C60.9,32.9 61.2,33.9 61.3,35.1C61.4,36.2 61.6,37.5 61.6,38.7Z" fill="#ccb8b8" filter="url(#lump1)" />
<g filter="url(#b05)" opacity="1">
<circle cx="13.5" cy="15.9" r="3.3" fill="#ccb8b8"/>
<circle cx="14.9" cy="20.1" r="4.1" fill="#ccb8b8"/>
<circle cx="13.9" cy="24.5" r="3.3" fill="#ccb8b8"/>
<circle cx="13.4" cy="28.2" r="3.8" fill="#ccb8b8"/>
<circle cx="14.2" cy="34.2" r="3.7" fill="#ccb8b8"/>
<circle cx="15.0" cy="36.9" r="3.3" fill="#ccb8b8"/>
<circle cx="13.9" cy="41.0" r="3.8" fill="#ccb8b8"/>
<circle cx="13.0" cy="46.9" r="4.0" fill="#ccb8b8"/>
<circle cx="15.3" cy="51.3" r="4.1" fill="#ccb8b8"/>
</g>
<g filter="url(#b05)" opacity="1">
<circle cx="55.7" cy="20.4" r="4.1" fill="#ccb8b8"/>
<circle cx="56.3" cy="26.4" r="4.0" fill="#ccb8b8"/>
<circle cx="54.4" cy="31.1" r="3.2" fill="#ccb8b8"/>
<circle cx="56.9" cy="35.6" r="4.0" fill="#ccb8b8"/>
<circle cx="55.7" cy="37.7" r="3.6" fill="#ccb8b8"/>
<circle cx="55.1" cy="43.8" r="4.0" fill="#ccb8b8"/>
<circle cx="54.9" cy="48.7" r="3.8" fill="#ccb8b8"/>
<circle cx="55.3" cy="52.3" r="3.8" fill="#ccb8b8"/>
<circle cx="57.1" cy="57.6" r="4.2" fill="#ccb8b8"/>
</g>
<g style="mix-blend-mode:screen" opacity="0.65">
<path d="M18.2,34.0C18.1,35.0 17.9,36.0 17.8,36.9C17.7,37.9 17.6,38.7 17.4,39.7C17.3,40.6 17.3,41.7 17.1,42.6C16.9,43.4 16.7,44.3 16.4,44.8C16.1,45.3 15.7,45.4 15.4,45.7C15.1,45.9 14.7,46.0 14.4,46.2C14.1,46.5 13.8,46.9 13.5,47.1C13.2,47.4 12.8,47.6 12.5,47.6C12.1,47.5 11.8,47.3 11.4,46.8C11.1,46.4 10.8,45.8 10.5,45.2C10.3,44.5 10.0,43.6 9.9,42.7C9.7,41.8 9.6,40.7 9.6,39.7C9.5,38.7 9.5,37.7 9.4,36.8C9.4,35.8 9.3,35.0 9.2,34.0C9.1,33.0 9.0,31.9 9.0,30.9C9.0,29.9 9.2,28.8 9.3,28.0C9.5,27.1 9.8,26.5 10.1,25.8C10.3,25.0 10.5,24.4 10.8,23.7C11.0,23.0 11.2,22.0 11.5,21.3C11.7,20.7 12.1,20.1 12.4,19.9C12.8,19.7 13.2,19.9 13.5,20.1C13.8,20.4 14.2,20.9 14.5,21.3C14.8,21.7 15.1,22.1 15.3,22.5C15.6,23.0 15.9,23.5 16.1,24.0C16.4,24.6 16.6,25.2 16.9,25.9C17.2,26.5 17.4,27.2 17.7,28.0C17.9,28.8 18.1,29.8 18.2,30.8C18.3,31.8 18.3,33.0 18.2,34.0Z" fill="#e01010" filter="url(#spd3)" />
<path d="M61.3,37.0C61.3,38.3 61.1,39.7 61.0,41.0C60.8,42.2 60.7,43.4 60.5,44.5C60.4,45.7 60.2,46.9 60.0,47.9C59.8,48.9 59.5,49.7 59.2,50.4C59.0,51.0 58.6,51.4 58.3,51.9C58.1,52.5 57.8,53.2 57.5,53.8C57.2,54.3 56.8,55.1 56.5,55.3C56.2,55.4 55.8,55.1 55.5,54.6C55.2,54.1 54.9,53.1 54.6,52.4C54.3,51.7 54.0,51.2 53.7,50.5C53.4,49.9 53.0,49.4 52.8,48.5C52.6,47.5 52.4,46.2 52.3,44.9C52.2,43.6 52.3,42.1 52.3,40.8C52.3,39.4 52.3,38.3 52.3,37.0C52.3,35.7 52.2,34.4 52.2,33.2C52.2,31.9 52.3,30.5 52.4,29.4C52.5,28.2 52.8,27.1 53.0,26.1C53.2,25.0 53.4,24.0 53.6,23.0C53.9,22.0 54.1,20.9 54.4,20.4C54.8,19.8 55.1,19.7 55.5,19.6C55.8,19.6 56.2,20.1 56.5,20.3C56.8,20.4 57.1,20.4 57.5,20.5C57.8,20.6 58.2,20.4 58.5,20.8C58.8,21.3 59.1,22.2 59.3,23.2C59.6,24.1 59.7,25.5 59.8,26.6C60.0,27.7 60.2,28.7 60.4,29.7C60.6,30.8 60.9,31.8 61.0,33.0C61.2,34.2 61.3,35.7 61.3,37.0Z" fill="#e01010" filter="url(#spd4)" />
</g>
</g></g>
<rect x="552.0" y="198.5" width="70.5" height="73.0" fill="#000"/>
<clipPath id="q33"><rect x="0" y="0" width="70.5" height="73.0"/></clipPath>
<g transform="translate(552.0,198.5)"><g clip-path="url(#q33)">
<ellipse cx="35.0" cy="37.0" rx="30.0" ry="30.0" transform="rotate(0 35.0 37.0)" fill="#280000" opacity="0.6" filter="url(#b5)"/>
</g></g>
<rect x="627.0" y="198.5" width="70.5" height="73.0" fill="#000"/>
<clipPath id="q34"><rect x="0" y="0" width="70.5" height="73.0"/></clipPath>
<g transform="translate(627.0,198.5)"><g clip-path="url(#q34)">
<g filter="url(#b1)">
<path d="M26.9,38.5C27.1,39.7 27.2,41.0 27.2,42.3C27.3,43.6 27.2,45.0 27.0,46.2C26.8,47.5 26.4,48.7 26.0,49.7C25.5,50.6 24.8,51.3 24.2,51.9C23.6,52.5 22.9,52.8 22.3,53.2C21.7,53.6 21.1,53.9 20.5,54.4C20.0,54.8 19.5,55.5 18.9,56.0C18.3,56.6 17.7,57.4 17.0,57.8C16.3,58.2 15.6,58.6 14.9,58.5C14.2,58.4 13.4,58.0 12.8,57.3C12.2,56.7 11.7,55.6 11.2,54.6C10.8,53.6 10.5,52.3 10.1,51.3C9.8,50.2 9.6,49.1 9.3,48.1C9.0,47.1 8.7,46.2 8.4,45.1C8.1,44.1 7.9,43.0 7.7,41.9C7.6,40.8 7.5,39.6 7.5,38.5C7.6,37.4 7.7,36.2 7.9,35.1C8.0,34.0 8.2,33.0 8.4,31.9C8.6,30.8 8.7,29.7 8.9,28.4C9.1,27.2 9.2,25.8 9.5,24.5C9.8,23.2 10.1,21.8 10.6,20.7C11.1,19.7 11.8,18.7 12.5,18.2C13.2,17.8 14.0,17.7 14.8,17.9C15.6,18.1 16.3,18.8 17.0,19.5C17.7,20.1 18.2,20.9 18.8,21.6C19.4,22.2 19.9,22.7 20.4,23.2C20.9,23.7 21.5,24.0 22.0,24.5C22.6,25.0 23.2,25.4 23.7,26.1C24.2,26.7 24.7,27.6 25.1,28.5C25.4,29.4 25.7,30.5 25.9,31.6C26.2,32.7 26.3,33.8 26.5,35.0C26.6,36.1 26.8,37.3 26.9,38.5Z" fill="#b6b6b6" filter="url(#lump2)" />
</g>
<g filter="url(#b1)">
<path d="M61.0,32.0C60.7,33.3 60.2,34.5 59.9,35.6C59.6,36.7 59.3,37.6 59.1,38.7C59.0,39.8 58.9,41.0 58.8,42.3C58.7,43.6 58.6,45.1 58.4,46.5C58.2,47.9 58.0,49.4 57.6,50.5C57.2,51.7 56.6,52.6 56.1,53.2C55.5,53.8 54.8,54.0 54.2,54.2C53.6,54.3 53.0,54.2 52.4,54.2C51.8,54.1 51.2,54.1 50.6,53.9C50.0,53.8 49.3,53.7 48.7,53.3C48.1,52.9 47.5,52.4 47.0,51.5C46.5,50.6 46.0,49.4 45.7,48.2C45.3,46.9 45.1,45.3 45.0,43.9C44.8,42.5 44.8,41.1 44.6,39.7C44.5,38.4 44.4,37.2 44.2,35.9C44.0,34.6 43.7,33.4 43.6,32.0C43.4,30.6 43.2,29.1 43.2,27.6C43.2,26.2 43.3,24.6 43.6,23.3C43.9,22.0 44.4,20.8 44.9,19.9C45.4,19.0 46.0,18.5 46.5,17.9C47.0,17.3 47.6,16.9 48.0,16.3C48.5,15.7 48.9,15.0 49.3,14.2C49.8,13.4 50.2,12.4 50.7,11.6C51.2,10.8 51.8,10.0 52.4,9.6C53.0,9.2 53.7,9.1 54.3,9.3C54.9,9.5 55.5,10.1 56.1,10.7C56.6,11.4 57.2,12.2 57.7,13.1C58.2,13.9 58.7,14.7 59.2,15.7C59.7,16.6 60.2,17.6 60.6,18.8C61.0,20.0 61.4,21.4 61.6,22.8C61.8,24.3 61.9,26.0 61.8,27.5C61.7,29.1 61.3,30.7 61.0,32.0Z" fill="#b6b6b6" filter="url(#lump3)" />
</g>
</g></g>
<rect x="702.0" y="198.5" width="71.0" height="73.0" fill="#000"/>
<clipPath id="q35"><rect x="0" y="0" width="71.0" height="73.0"/></clipPath>
<g transform="translate(702.0,198.5)"><g clip-path="url(#q35)">
<ellipse cx="35.0" cy="37.0" rx="32.0" ry="30.0" transform="rotate(0 35.0 37.0)" fill="#240000" opacity="0.6" filter="url(#b5)"/>
<g filter="url(#b1)">
<path d="M26.9,38.5C27.1,39.7 27.2,41.0 27.2,42.3C27.3,43.6 27.2,45.0 27.0,46.2C26.8,47.5 26.4,48.7 26.0,49.7C25.5,50.6 24.8,51.3 24.2,51.9C23.6,52.5 22.9,52.8 22.3,53.2C21.7,53.6 21.1,53.9 20.5,54.4C20.0,54.8 19.5,55.5 18.9,56.0C18.3,56.6 17.7,57.4 17.0,57.8C16.3,58.2 15.6,58.6 14.9,58.5C14.2,58.4 13.4,58.0 12.8,57.3C12.2,56.7 11.7,55.6 11.2,54.6C10.8,53.6 10.5,52.3 10.1,51.3C9.8,50.2 9.6,49.1 9.3,48.1C9.0,47.1 8.7,46.2 8.4,45.1C8.1,44.1 7.9,43.0 7.7,41.9C7.6,40.8 7.5,39.6 7.5,38.5C7.6,37.4 7.7,36.2 7.9,35.1C8.0,34.0 8.2,33.0 8.4,31.9C8.6,30.8 8.7,29.7 8.9,28.4C9.1,27.2 9.2,25.8 9.5,24.5C9.8,23.2 10.1,21.8 10.6,20.7C11.1,19.7 11.8,18.7 12.5,18.2C13.2,17.8 14.0,17.7 14.8,17.9C15.6,18.1 16.3,18.8 17.0,19.5C17.7,20.1 18.2,20.9 18.8,21.6C19.4,22.2 19.9,22.7 20.4,23.2C20.9,23.7 21.5,24.0 22.0,24.5C22.6,25.0 23.2,25.4 23.7,26.1C24.2,26.7 24.7,27.6 25.1,28.5C25.4,29.4 25.7,30.5 25.9,31.6C26.2,32.7 26.3,33.8 26.5,35.0C26.6,36.1 26.8,37.3 26.9,38.5Z" fill="#bcb2b2" filter="url(#lump2)" />
</g>
<g filter="url(#b1)">
<path d="M61.0,32.0C60.7,33.3 60.2,34.5 59.9,35.6C59.6,36.7 59.3,37.6 59.1,38.7C59.0,39.8 58.9,41.0 58.8,42.3C58.7,43.6 58.6,45.1 58.4,46.5C58.2,47.9 58.0,49.4 57.6,50.5C57.2,51.7 56.6,52.6 56.1,53.2C55.5,53.8 54.8,54.0 54.2,54.2C53.6,54.3 53.0,54.2 52.4,54.2C51.8,54.1 51.2,54.1 50.6,53.9C50.0,53.8 49.3,53.7 48.7,53.3C48.1,52.9 47.5,52.4 47.0,51.5C46.5,50.6 46.0,49.4 45.7,48.2C45.3,46.9 45.1,45.3 45.0,43.9C44.8,42.5 44.8,41.1 44.6,39.7C44.5,38.4 44.4,37.2 44.2,35.9C44.0,34.6 43.7,33.4 43.6,32.0C43.4,30.6 43.2,29.1 43.2,27.6C43.2,26.2 43.3,24.6 43.6,23.3C43.9,22.0 44.4,20.8 44.9,19.9C45.4,19.0 46.0,18.5 46.5,17.9C47.0,17.3 47.6,16.9 48.0,16.3C48.5,15.7 48.9,15.0 49.3,14.2C49.8,13.4 50.2,12.4 50.7,11.6C51.2,10.8 51.8,10.0 52.4,9.6C53.0,9.2 53.7,9.1 54.3,9.3C54.9,9.5 55.5,10.1 56.1,10.7C56.6,11.4 57.2,12.2 57.7,13.1C58.2,13.9 58.7,14.7 59.2,15.7C59.7,16.6 60.2,17.6 60.6,18.8C61.0,20.0 61.4,21.4 61.6,22.8C61.8,24.3 61.9,26.0 61.8,27.5C61.7,29.1 61.3,30.7 61.0,32.0Z" fill="#bcb2b2" filter="url(#lump3)" />
</g>
<g style="mix-blend-mode:screen" opacity="0.65">
<ellipse cx="35.0" cy="37.0" rx="30.0" ry="30.0" transform="rotate(0 35.0 37.0)" fill="#280000" opacity="0.6" filter="url(#b5)"/>
</g>
</g></g>
<rect x="328.0" y="276.0" width="108.4" height="74.0" fill="#000"/>
<clipPath id="q36"><rect x="0" y="0" width="108.4" height="74.0"/></clipPath>
<g transform="translate(328.0,276.0)"><g clip-path="url(#q36)">
<path d="M32.3,35.0C32.2,36.3 32.1,37.4 32.0,38.7C32.0,39.9 32.1,41.4 32.0,42.7C32.0,44.1 31.9,45.7 31.6,46.8C31.4,47.8 30.9,48.5 30.5,49.1C30.1,49.6 29.7,49.7 29.3,50.2C28.9,50.7 28.6,51.5 28.2,52.0C27.8,52.5 27.4,53.2 27.0,53.3C26.6,53.3 26.1,52.7 25.8,52.1C25.4,51.5 25.1,50.4 24.8,49.8C24.4,49.1 24.1,48.8 23.7,48.1C23.4,47.5 22.9,47.0 22.6,46.1C22.3,45.2 22.1,43.9 22.0,42.7C21.8,41.5 21.7,40.2 21.6,38.9C21.5,37.6 21.3,36.3 21.3,35.0C21.2,33.7 21.2,32.1 21.3,30.9C21.5,29.6 21.8,28.5 22.1,27.5C22.4,26.5 22.8,25.9 23.0,24.9C23.3,24.0 23.4,22.8 23.7,21.7C23.9,20.7 24.2,19.3 24.5,18.6C24.9,18.0 25.4,17.9 25.8,17.8C26.2,17.8 26.6,18.2 27.0,18.3C27.4,18.3 27.8,18.0 28.2,18.0C28.6,18.0 29.1,17.8 29.5,18.2C29.9,18.7 30.3,19.8 30.6,20.8C30.8,21.8 31.0,23.1 31.2,24.3C31.5,25.4 31.7,26.4 31.9,27.5C32.1,28.7 32.3,29.9 32.4,31.1C32.4,32.4 32.3,33.7 32.3,35.0Z" fill="#f01515" filter="url(#spd5)" />
<path d="M88.6,35.5C88.6,36.9 88.6,38.4 88.5,39.7C88.4,41.1 88.3,42.5 88.1,43.7C87.8,44.8 87.5,45.8 87.1,46.6C86.8,47.5 86.5,48.0 86.2,48.8C85.9,49.7 85.6,50.7 85.3,51.7C85.0,52.7 84.7,54.1 84.3,54.6C83.9,55.2 83.4,55.2 83.0,55.0C82.6,54.7 82.2,53.7 81.8,53.1C81.4,52.5 81.1,52.0 80.7,51.6C80.3,51.1 79.8,51.0 79.5,50.3C79.1,49.7 78.7,48.7 78.5,47.5C78.3,46.4 78.2,44.8 78.1,43.5C78.0,42.1 77.9,40.8 77.8,39.5C77.8,38.1 77.7,36.8 77.6,35.5C77.6,34.2 77.7,32.8 77.8,31.5C77.9,30.2 78.0,28.9 78.1,27.6C78.3,26.3 78.4,24.9 78.5,23.6C78.7,22.3 79.0,20.8 79.3,19.9C79.6,19.0 80.1,18.6 80.5,18.4C81.0,18.2 81.4,18.6 81.8,18.5C82.3,18.5 82.6,18.2 83.0,18.0C83.4,17.7 83.8,17.0 84.3,17.0C84.7,17.1 85.1,17.5 85.5,18.3C85.8,19.0 86.1,20.4 86.3,21.4C86.6,22.5 86.8,23.5 87.1,24.5C87.4,25.5 87.7,26.3 88.0,27.4C88.2,28.6 88.4,29.9 88.6,31.2C88.7,32.6 88.7,34.1 88.6,35.5Z" fill="#f01515" filter="url(#spd6)" />
<ellipse cx="8.0" cy="2.0" rx="4.0" ry="2.0" transform="rotate(0 8.0 2.0)" fill="#801010" filter="url(#b1)"/>
<ellipse cx="104.0" cy="6.0" rx="3.0" ry="6.0" transform="rotate(0 104.0 6.0)" fill="#801010" filter="url(#b1)"/>
</g></g>
<rect x="438.4" y="276.0" width="108.6" height="74.0" fill="#000"/>
<clipPath id="q37"><rect x="0" y="0" width="108.6" height="74.0"/></clipPath>
<g transform="translate(438.4,276.0)"><g clip-path="url(#q37)">
<path d="M34.0,35.0C33.9,36.1 33.9,37.1 33.8,38.2C33.7,39.2 33.7,40.3 33.5,41.2C33.4,42.2 33.2,43.2 33.0,44.1C32.8,45.0 32.5,45.8 32.2,46.5C32.0,47.2 31.6,47.7 31.3,48.2C31.0,48.8 30.7,49.2 30.4,49.8C30.0,50.3 29.7,50.8 29.3,51.3C29.0,51.7 28.6,52.3 28.2,52.6C27.8,52.8 27.4,53.1 26.9,52.9C26.5,52.8 26.1,52.5 25.7,51.9C25.4,51.4 25.0,50.5 24.7,49.7C24.4,48.9 24.2,47.9 24.0,47.0C23.7,46.1 23.5,45.2 23.3,44.2C23.1,43.3 22.9,42.4 22.7,41.5C22.5,40.5 22.3,39.5 22.2,38.4C22.1,37.3 22.0,36.1 22.0,35.0C22.0,33.9 22.1,32.7 22.2,31.6C22.4,30.6 22.6,29.6 22.8,28.6C23.0,27.7 23.2,26.9 23.4,26.0C23.7,25.1 23.9,24.3 24.1,23.5C24.4,22.7 24.6,21.9 24.9,21.2C25.2,20.5 25.6,19.8 25.9,19.4C26.3,19.0 26.7,18.7 27.0,18.6C27.4,18.4 27.8,18.5 28.2,18.6C28.6,18.7 28.9,18.9 29.3,19.1C29.7,19.2 30.1,19.4 30.5,19.6C30.9,19.8 31.3,19.9 31.7,20.3C32.1,20.7 32.5,21.1 32.8,21.9C33.2,22.6 33.5,23.5 33.7,24.5C33.9,25.6 34.1,26.8 34.1,28.0C34.2,29.2 34.2,30.5 34.2,31.6C34.1,32.8 34.1,33.9 34.0,35.0Z" fill="#dcc4c4" filter="url(#lump2)" />
<path d="M88.9,37.0C89.0,38.1 89.0,39.4 88.9,40.5C88.9,41.7 88.7,42.8 88.5,43.8C88.3,44.7 88.0,45.5 87.7,46.2C87.4,46.9 87.0,47.3 86.7,47.9C86.4,48.4 86.1,48.8 85.9,49.3C85.6,49.8 85.4,50.5 85.1,51.1C84.8,51.7 84.5,52.5 84.2,53.1C83.9,53.6 83.6,54.2 83.2,54.5C82.8,54.7 82.4,54.7 82.1,54.6C81.7,54.4 81.3,54.0 81.0,53.5C80.6,53.0 80.3,52.4 80.0,51.7C79.7,51.1 79.4,50.4 79.1,49.6C78.8,48.9 78.5,48.1 78.3,47.1C78.1,46.2 77.9,45.1 77.7,44.0C77.6,42.9 77.6,41.6 77.6,40.4C77.6,39.3 77.8,38.1 77.9,37.0C78.0,35.9 78.2,35.0 78.3,34.0C78.4,33.0 78.5,32.1 78.6,31.2C78.7,30.2 78.8,29.2 78.9,28.1C79.0,27.1 79.1,25.9 79.3,25.0C79.5,24.0 79.7,23.0 80.0,22.3C80.3,21.7 80.7,21.2 81.0,20.9C81.4,20.6 81.8,20.5 82.1,20.5C82.5,20.5 82.8,20.6 83.2,20.6C83.6,20.7 83.9,20.7 84.2,20.8C84.6,20.9 85.0,20.9 85.3,21.1C85.7,21.4 86.1,21.7 86.4,22.2C86.7,22.8 87.0,23.6 87.3,24.4C87.5,25.3 87.7,26.4 87.9,27.4C88.0,28.4 88.2,29.4 88.3,30.5C88.4,31.5 88.5,32.6 88.6,33.7C88.7,34.7 88.9,35.9 88.9,37.0Z" fill="#dcc4c4" filter="url(#lump3)" />
<g filter="url(#b05)" opacity="1">
<circle cx="28.1" cy="19.5" r="4.1" fill="#dcc4c4"/>
<circle cx="27.0" cy="22.9" r="3.6" fill="#dcc4c4"/>
<circle cx="28.0" cy="26.3" r="3.7" fill="#dcc4c4"/>
<circle cx="29.0" cy="31.4" r="4.3" fill="#dcc4c4"/>
<circle cx="26.5" cy="34.3" r="4.4" fill="#dcc4c4"/>
<circle cx="29.3" cy="38.4" r="3.5" fill="#dcc4c4"/>
<circle cx="29.2" cy="42.4" r="4.0" fill="#dcc4c4"/>
<circle cx="28.8" cy="48.5" r="4.2" fill="#dcc4c4"/>
<circle cx="28.4" cy="50.6" r="3.7" fill="#dcc4c4"/>
</g>
<g filter="url(#b05)" opacity="1">
<circle cx="83.1" cy="21.2" r="3.9" fill="#dcc4c4"/>
<circle cx="83.6" cy="25.8" r="3.6" fill="#dcc4c4"/>
<circle cx="85.5" cy="29.4" r="4.5" fill="#dcc4c4"/>
<circle cx="85.4" cy="33.6" r="3.7" fill="#dcc4c4"/>
<circle cx="81.8" cy="38.4" r="4.1" fill="#dcc4c4"/>
<circle cx="81.6" cy="40.7" r="4.3" fill="#dcc4c4"/>
<circle cx="81.9" cy="43.7" r="3.8" fill="#dcc4c4"/>
<circle cx="85.5" cy="49.8" r="4.3" fill="#dcc4c4"/>
<circle cx="81.3" cy="52.0" r="4.5" fill="#dcc4c4"/>
</g>
<g style="mix-blend-mode:screen" opacity="0.65">
<path d="M32.3,35.0C32.2,36.3 32.1,37.4 32.0,38.7C32.0,39.9 32.1,41.4 32.0,42.7C32.0,44.1 31.9,45.7 31.6,46.8C31.4,47.8 30.9,48.5 30.5,49.1C30.1,49.6 29.7,49.7 29.3,50.2C28.9,50.7 28.6,51.5 28.2,52.0C27.8,52.5 27.4,53.2 27.0,53.3C26.6,53.3 26.1,52.7 25.8,52.1C25.4,51.5 25.1,50.4 24.8,49.8C24.4,49.1 24.1,48.8 23.7,48.1C23.4,47.5 22.9,47.0 22.6,46.1C22.3,45.2 22.1,43.9 22.0,42.7C21.8,41.5 21.7,40.2 21.6,38.9C21.5,37.6 21.3,36.3 21.3,35.0C21.2,33.7 21.2,32.1 21.3,30.9C21.5,29.6 21.8,28.5 22.1,27.5C22.4,26.5 22.8,25.9 23.0,24.9C23.3,24.0 23.4,22.8 23.7,21.7C23.9,20.7 24.2,19.3 24.5,18.6C24.9,18.0 25.4,17.9 25.8,17.8C26.2,17.8 26.6,18.2 27.0,18.3C27.4,18.3 27.8,18.0 28.2,18.0C28.6,18.0 29.1,17.8 29.5,18.2C29.9,18.7 30.3,19.8 30.6,20.8C30.8,21.8 31.0,23.1 31.2,24.3C31.5,25.4 31.7,26.4 31.9,27.5C32.1,28.7 32.3,29.9 32.4,31.1C32.4,32.4 32.3,33.7 32.3,35.0Z" fill="#f01515" filter="url(#spd5)" />
<path d="M88.6,35.5C88.6,36.9 88.6,38.4 88.5,39.7C88.4,41.1 88.3,42.5 88.1,43.7C87.8,44.8 87.5,45.8 87.1,46.6C86.8,47.5 86.5,48.0 86.2,48.8C85.9,49.7 85.6,50.7 85.3,51.7C85.0,52.7 84.7,54.1 84.3,54.6C83.9,55.2 83.4,55.2 83.0,55.0C82.6,54.7 82.2,53.7 81.8,53.1C81.4,52.5 81.1,52.0 80.7,51.6C80.3,51.1 79.8,51.0 79.5,50.3C79.1,49.7 78.7,48.7 78.5,47.5C78.3,46.4 78.2,44.8 78.1,43.5C78.0,42.1 77.9,40.8 77.8,39.5C77.8,38.1 77.7,36.8 77.6,35.5C77.6,34.2 77.7,32.8 77.8,31.5C77.9,30.2 78.0,28.9 78.1,27.6C78.3,26.3 78.4,24.9 78.5,23.6C78.7,22.3 79.0,20.8 79.3,19.9C79.6,19.0 80.1,18.6 80.5,18.4C81.0,18.2 81.4,18.6 81.8,18.5C82.3,18.5 82.6,18.2 83.0,18.0C83.4,17.7 83.8,17.0 84.3,17.0C84.7,17.1 85.1,17.5 85.5,18.3C85.8,19.0 86.1,20.4 86.3,21.4C86.6,22.5 86.8,23.5 87.1,24.5C87.4,25.5 87.7,26.3 88.0,27.4C88.2,28.6 88.4,29.9 88.6,31.2C88.7,32.6 88.7,34.1 88.6,35.5Z" fill="#f01515" filter="url(#spd6)" />
<ellipse cx="8.0" cy="2.0" rx="4.0" ry="2.0" transform="rotate(0 8.0 2.0)" fill="#801010" filter="url(#b1)"/>
<ellipse cx="104.0" cy="6.0" rx="3.0" ry="6.0" transform="rotate(0 104.0 6.0)" fill="#801010" filter="url(#b1)"/>
</g>
</g></g>
<rect x="552.0" y="276.0" width="108.0" height="74.0" fill="#000"/>
<clipPath id="q38"><rect x="0" y="0" width="108.0" height="74.0"/></clipPath>
<g transform="translate(552.0,276.0)"><g clip-path="url(#q38)">
<path d="M102.9,37.0C103.2,39.5 104.0,42.1 103.7,44.7C103.4,47.3 102.9,50.2 101.2,52.5C99.5,54.8 96.5,56.8 93.7,58.5C90.8,60.2 87.3,61.4 84.2,62.8C81.1,64.1 78.2,65.5 75.0,66.7C71.9,67.9 68.6,69.2 65.1,70.0C61.6,70.7 57.7,70.9 54.0,71.0C50.3,71.0 46.5,70.6 42.9,70.1C39.2,69.7 35.4,69.1 32.0,68.1C28.5,67.1 25.1,65.7 22.3,64.1C19.4,62.4 17.2,60.2 15.1,58.1C13.0,56.0 11.3,53.8 9.5,51.6C7.7,49.3 5.6,47.1 4.5,44.7C3.4,42.3 2.6,39.5 2.9,37.0C3.2,34.5 4.8,31.9 6.2,29.6C7.6,27.2 9.5,25.2 11.1,23.0C12.6,20.7 13.7,18.3 15.5,16.1C17.3,13.9 19.2,11.4 21.9,9.6C24.6,7.8 28.2,6.4 31.7,5.4C35.1,4.5 39.1,4.1 42.8,3.7C46.5,3.2 50.3,2.9 54.0,3.0C57.7,3.0 61.6,3.2 65.1,3.8C68.7,4.5 72.1,5.7 75.4,6.8C78.6,8.0 81.6,9.4 84.6,10.9C87.6,12.4 90.8,13.8 93.3,15.7C95.8,17.6 98.1,19.8 99.6,22.1C101.0,24.4 101.4,27.1 102.0,29.5C102.6,32.0 102.6,34.5 102.9,37.0Z" fill="#501010" filter="url(#spk6)" />
<path d="M37.8,38.7C37.4,39.9 36.7,41.2 35.9,42.2C35.2,43.2 34.2,43.9 33.4,44.6C32.5,45.3 31.7,45.8 30.9,46.3C30.1,46.8 29.3,47.5 28.6,47.9C27.8,48.3 27.0,48.6 26.3,48.7C25.6,48.9 25.0,48.8 24.3,48.9C23.6,48.9 22.9,49.1 22.2,49.0C21.5,49.0 20.6,49.0 20.1,48.6C19.6,48.2 19.3,47.3 19.1,46.5C19.0,45.6 19.2,44.4 19.2,43.4C19.2,42.4 19.2,41.4 19.3,40.4C19.3,39.4 19.2,38.4 19.5,37.3C19.7,36.2 20.2,34.9 20.7,33.8C21.3,32.7 22.2,31.7 22.8,30.7C23.5,29.8 24.1,28.9 24.7,27.9C25.4,26.9 25.9,25.8 26.6,24.8C27.2,23.7 28.0,22.7 28.8,21.9C29.6,21.1 30.5,20.6 31.3,20.1C32.2,19.6 33.0,19.3 33.8,19.0C34.6,18.8 35.4,18.5 36.1,18.7C36.7,18.8 37.3,19.3 37.7,19.9C38.1,20.4 38.3,21.3 38.6,22.0C38.9,22.6 39.3,23.1 39.6,23.7C40.0,24.3 40.5,24.8 40.7,25.6C40.8,26.4 40.8,27.4 40.7,28.5C40.5,29.5 40.0,30.8 39.7,31.9C39.4,33.0 39.1,34.0 38.8,35.1C38.5,36.3 38.3,37.6 37.8,38.7Z" fill="#c01010" filter="url(#b2)" opacity="0.4" />
<path d="M37.8,38.7C37.4,39.9 36.7,41.2 35.9,42.2C35.2,43.2 34.2,43.9 33.4,44.6C32.5,45.3 31.7,45.8 30.9,46.3C30.1,46.8 29.3,47.5 28.6,47.9C27.8,48.3 27.0,48.6 26.3,48.7C25.6,48.9 25.0,48.8 24.3,48.9C23.6,48.9 22.9,49.1 22.2,49.0C21.5,49.0 20.6,49.0 20.1,48.6C19.6,48.2 19.3,47.3 19.1,46.5C19.0,45.6 19.2,44.4 19.2,43.4C19.2,42.4 19.2,41.4 19.3,40.4C19.3,39.4 19.2,38.4 19.5,37.3C19.7,36.2 20.2,34.9 20.7,33.8C21.3,32.7 22.2,31.7 22.8,30.7C23.5,29.8 24.1,28.9 24.7,27.9C25.4,26.9 25.9,25.8 26.6,24.8C27.2,23.7 28.0,22.7 28.8,21.9C29.6,21.1 30.5,20.6 31.3,20.1C32.2,19.6 33.0,19.3 33.8,19.0C34.6,18.8 35.4,18.5 36.1,18.7C36.7,18.8 37.3,19.3 37.7,19.9C38.1,20.4 38.3,21.3 38.6,22.0C38.9,22.6 39.3,23.1 39.6,23.7C40.0,24.3 40.5,24.8 40.7,25.6C40.8,26.4 40.8,27.4 40.7,28.5C40.5,29.5 40.0,30.8 39.7,31.9C39.4,33.0 39.1,34.0 38.8,35.1C38.5,36.3 38.3,37.6 37.8,38.7Z" fill="#f01515" filter="url(#spd7)" />
<path d="M86.3,41.0C86.5,42.2 86.4,43.6 86.3,44.7C86.2,45.8 85.7,46.6 85.5,47.6C85.3,48.6 85.3,49.5 85.2,50.6C85.2,51.7 85.3,53.1 85.2,54.2C85.0,55.2 84.6,56.3 84.1,56.9C83.6,57.5 82.9,57.7 82.2,58.0C81.6,58.3 81.0,58.5 80.4,58.8C79.7,59.0 79.1,59.5 78.4,59.5C77.6,59.5 76.8,59.1 76.1,58.6C75.4,58.0 74.8,56.9 74.2,56.1C73.5,55.3 73.0,54.5 72.4,53.7C71.8,52.9 71.2,52.2 70.7,51.3C70.2,50.4 69.8,49.2 69.4,48.1C69.1,47.0 69.0,45.9 68.7,44.8C68.4,43.6 68.0,42.6 67.6,41.3C67.3,40.1 66.8,38.6 66.7,37.4C66.7,36.2 66.9,34.9 67.3,34.0C67.7,33.1 68.5,32.6 69.0,32.0C69.5,31.4 70.0,30.9 70.5,30.3C71.0,29.7 71.3,28.8 71.8,28.3C72.4,27.8 73.0,27.5 73.7,27.5C74.4,27.5 75.1,27.9 75.8,28.1C76.5,28.4 77.1,28.5 77.8,28.7C78.5,28.9 79.2,28.9 79.9,29.3C80.7,29.7 81.4,30.5 82.0,31.3C82.6,32.1 83.1,33.3 83.6,34.3C84.2,35.4 84.7,36.4 85.1,37.5C85.6,38.6 86.1,39.8 86.3,41.0Z" fill="#c01010" filter="url(#b2)" opacity="0.4" />
<path d="M86.3,41.0C86.5,42.2 86.4,43.6 86.3,44.7C86.2,45.8 85.7,46.6 85.5,47.6C85.3,48.6 85.3,49.5 85.2,50.6C85.2,51.7 85.3,53.1 85.2,54.2C85.0,55.2 84.6,56.3 84.1,56.9C83.6,57.5 82.9,57.7 82.2,58.0C81.6,58.3 81.0,58.5 80.4,58.8C79.7,59.0 79.1,59.5 78.4,59.5C77.6,59.5 76.8,59.1 76.1,58.6C75.4,58.0 74.8,56.9 74.2,56.1C73.5,55.3 73.0,54.5 72.4,53.7C71.8,52.9 71.2,52.2 70.7,51.3C70.2,50.4 69.8,49.2 69.4,48.1C69.1,47.0 69.0,45.9 68.7,44.8C68.4,43.6 68.0,42.6 67.6,41.3C67.3,40.1 66.8,38.6 66.7,37.4C66.7,36.2 66.9,34.9 67.3,34.0C67.7,33.1 68.5,32.6 69.0,32.0C69.5,31.4 70.0,30.9 70.5,30.3C71.0,29.7 71.3,28.8 71.8,28.3C72.4,27.8 73.0,27.5 73.7,27.5C74.4,27.5 75.1,27.9 75.8,28.1C76.5,28.4 77.1,28.5 77.8,28.7C78.5,28.9 79.2,28.9 79.9,29.3C80.7,29.7 81.4,30.5 82.0,31.3C82.6,32.1 83.1,33.3 83.6,34.3C84.2,35.4 84.7,36.4 85.1,37.5C85.6,38.6 86.1,39.8 86.3,41.0Z" fill="#f01515" filter="url(#spd8)" />
</g></g>
<rect x="665.0" y="276.0" width="108.0" height="74.0" fill="#000"/>
<clipPath id="q39"><rect x="0" y="0" width="108.0" height="74.0"/></clipPath>
<g transform="translate(665.0,276.0)"><g clip-path="url(#q39)">
<path d="M38.2,38.9C37.9,39.8 37.4,40.8 36.9,41.6C36.3,42.5 35.7,43.3 35.0,44.0C34.4,44.6 33.6,45.2 33.0,45.6C32.3,46.0 31.7,46.3 31.0,46.6C30.4,46.9 29.8,47.2 29.2,47.5C28.5,47.8 27.9,48.2 27.3,48.4C26.6,48.7 25.9,49.1 25.3,49.2C24.7,49.3 24.0,49.3 23.5,49.0C23.1,48.8 22.7,48.3 22.4,47.7C22.1,47.2 22.0,46.4 21.9,45.6C21.8,44.9 21.9,44.1 21.8,43.4C21.8,42.7 21.7,42.0 21.7,41.3C21.6,40.6 21.5,39.9 21.6,39.1C21.6,38.3 21.6,37.5 21.8,36.6C21.9,35.7 22.2,34.8 22.6,33.9C23.0,33.0 23.5,32.1 23.9,31.3C24.4,30.4 25.0,29.6 25.5,28.8C26.1,28.0 26.6,27.3 27.2,26.5C27.7,25.7 28.3,24.8 29.0,24.0C29.6,23.3 30.3,22.5 31.0,22.0C31.7,21.4 32.4,21.0 33.1,20.8C33.8,20.6 34.4,20.7 34.9,20.9C35.5,21.0 35.9,21.5 36.3,21.8C36.7,22.1 37.1,22.5 37.5,22.9C37.8,23.2 38.2,23.4 38.6,23.7C39.0,24.0 39.5,24.2 39.9,24.6C40.2,25.0 40.6,25.4 40.8,26.0C41.0,26.6 41.1,27.4 41.1,28.2C41.1,29.0 40.9,29.9 40.8,30.8C40.6,31.6 40.3,32.5 40.0,33.4C39.8,34.3 39.5,35.2 39.2,36.1C38.9,37.0 38.6,37.9 38.2,38.9Z" fill="#e6c0c4" filter="url(#lump2)" />
<path d="M86.3,40.8C86.5,41.8 86.6,42.7 86.7,43.7C86.8,44.6 87.0,45.6 87.0,46.5C87.0,47.4 87.0,48.3 86.9,49.2C86.9,50.1 86.7,50.9 86.5,51.6C86.3,52.4 86.0,53.0 85.6,53.6C85.3,54.2 84.9,54.7 84.5,55.2C84.1,55.7 83.7,56.1 83.3,56.5C82.9,56.9 82.4,57.4 81.9,57.6C81.4,57.9 80.9,58.1 80.3,58.2C79.7,58.2 79.1,58.0 78.5,57.7C77.9,57.4 77.2,56.9 76.7,56.3C76.1,55.7 75.6,55.0 75.1,54.3C74.6,53.6 74.1,52.9 73.6,52.2C73.2,51.5 72.7,50.9 72.2,50.2C71.8,49.5 71.2,48.7 70.8,47.9C70.3,47.1 69.8,46.2 69.5,45.3C69.1,44.3 68.8,43.3 68.6,42.3C68.5,41.3 68.4,40.2 68.4,39.3C68.4,38.3 68.5,37.4 68.7,36.5C68.8,35.7 69.0,34.8 69.2,34.1C69.5,33.3 69.7,32.6 70.1,32.0C70.4,31.4 70.8,30.8 71.2,30.4C71.7,30.0 72.2,29.7 72.7,29.5C73.2,29.4 73.8,29.4 74.4,29.4C74.9,29.4 75.5,29.6 76.0,29.7C76.5,29.8 77.0,29.9 77.6,30.0C78.1,30.0 78.7,30.1 79.3,30.2C79.9,30.4 80.5,30.5 81.1,30.9C81.8,31.3 82.4,31.8 83.0,32.4C83.6,33.1 84.1,34.0 84.6,34.8C85.0,35.7 85.4,36.8 85.7,37.8C85.9,38.8 86.1,39.8 86.3,40.8Z" fill="#e6c0c4" filter="url(#lump3)" />
<g filter="url(#b05)" opacity="1">
<circle cx="36.4" cy="21.5" r="4.3" fill="#e6c0c4"/>
<circle cx="32.1" cy="25.5" r="4.5" fill="#e6c0c4"/>
<circle cx="33.7" cy="29.1" r="4.3" fill="#e6c0c4"/>
<circle cx="30.7" cy="31.2" r="4.0" fill="#e6c0c4"/>
<circle cx="33.6" cy="36.2" r="4.7" fill="#e6c0c4"/>
<circle cx="31.4" cy="38.1" r="3.8" fill="#e6c0c4"/>
<circle cx="29.3" cy="38.3" r="4.0" fill="#e6c0c4"/>
<circle cx="30.5" cy="41.3" r="4.8" fill="#e6c0c4"/>
<circle cx="29.3" cy="45.7" r="3.7" fill="#e6c0c4"/>
<circle cx="22.0" cy="44.1" r="5.0" fill="#e6c0c4"/>
</g>
<g filter="url(#b05)" opacity="1">
<circle cx="78.0" cy="30.4" r="3.9" fill="#e6c0c4"/>
<circle cx="78.9" cy="32.4" r="4.6" fill="#e6c0c4"/>
<circle cx="78.2" cy="34.0" r="4.6" fill="#e6c0c4"/>
<circle cx="78.0" cy="39.6" r="5.0" fill="#e6c0c4"/>
<circle cx="80.0" cy="42.2" r="3.8" fill="#e6c0c4"/>
<circle cx="77.1" cy="45.8" r="4.9" fill="#e6c0c4"/>
<circle cx="78.4" cy="46.0" r="4.1" fill="#e6c0c4"/>
<circle cx="78.3" cy="50.4" r="4.5" fill="#e6c0c4"/>
<circle cx="77.5" cy="52.5" r="4.5" fill="#e6c0c4"/>
<circle cx="80.8" cy="56.5" r="4.5" fill="#e6c0c4"/>
</g>
<g style="mix-blend-mode:screen" opacity="0.65">
<path d="M102.9,37.0C103.2,39.5 104.0,42.1 103.7,44.7C103.4,47.3 102.9,50.2 101.2,52.5C99.5,54.8 96.5,56.8 93.7,58.5C90.8,60.2 87.3,61.4 84.2,62.8C81.1,64.1 78.2,65.5 75.0,66.7C71.9,67.9 68.6,69.2 65.1,70.0C61.6,70.7 57.7,70.9 54.0,71.0C50.3,71.0 46.5,70.6 42.9,70.1C39.2,69.7 35.4,69.1 32.0,68.1C28.5,67.1 25.1,65.7 22.3,64.1C19.4,62.4 17.2,60.2 15.1,58.1C13.0,56.0 11.3,53.8 9.5,51.6C7.7,49.3 5.6,47.1 4.5,44.7C3.4,42.3 2.6,39.5 2.9,37.0C3.2,34.5 4.8,31.9 6.2,29.6C7.6,27.2 9.5,25.2 11.1,23.0C12.6,20.7 13.7,18.3 15.5,16.1C17.3,13.9 19.2,11.4 21.9,9.6C24.6,7.8 28.2,6.4 31.7,5.4C35.1,4.5 39.1,4.1 42.8,3.7C46.5,3.2 50.3,2.9 54.0,3.0C57.7,3.0 61.6,3.2 65.1,3.8C68.7,4.5 72.1,5.7 75.4,6.8C78.6,8.0 81.6,9.4 84.6,10.9C87.6,12.4 90.8,13.8 93.3,15.7C95.8,17.6 98.1,19.8 99.6,22.1C101.0,24.4 101.4,27.1 102.0,29.5C102.6,32.0 102.6,34.5 102.9,37.0Z" fill="#501010" filter="url(#spk6)" />
<path d="M37.8,38.7C37.4,39.9 36.7,41.2 35.9,42.2C35.2,43.2 34.2,43.9 33.4,44.6C32.5,45.3 31.7,45.8 30.9,46.3C30.1,46.8 29.3,47.5 28.6,47.9C27.8,48.3 27.0,48.6 26.3,48.7C25.6,48.9 25.0,48.8 24.3,48.9C23.6,48.9 22.9,49.1 22.2,49.0C21.5,49.0 20.6,49.0 20.1,48.6C19.6,48.2 19.3,47.3 19.1,46.5C19.0,45.6 19.2,44.4 19.2,43.4C19.2,42.4 19.2,41.4 19.3,40.4C19.3,39.4 19.2,38.4 19.5,37.3C19.7,36.2 20.2,34.9 20.7,33.8C21.3,32.7 22.2,31.7 22.8,30.7C23.5,29.8 24.1,28.9 24.7,27.9C25.4,26.9 25.9,25.8 26.6,24.8C27.2,23.7 28.0,22.7 28.8,21.9C29.6,21.1 30.5,20.6 31.3,20.1C32.2,19.6 33.0,19.3 33.8,19.0C34.6,18.8 35.4,18.5 36.1,18.7C36.7,18.8 37.3,19.3 37.7,19.9C38.1,20.4 38.3,21.3 38.6,22.0C38.9,22.6 39.3,23.1 39.6,23.7C40.0,24.3 40.5,24.8 40.7,25.6C40.8,26.4 40.8,27.4 40.7,28.5C40.5,29.5 40.0,30.8 39.7,31.9C39.4,33.0 39.1,34.0 38.8,35.1C38.5,36.3 38.3,37.6 37.8,38.7Z" fill="#c01010" filter="url(#b2)" opacity="0.4" />
<path d="M37.8,38.7C37.4,39.9 36.7,41.2 35.9,42.2C35.2,43.2 34.2,43.9 33.4,44.6C32.5,45.3 31.7,45.8 30.9,46.3C30.1,46.8 29.3,47.5 28.6,47.9C27.8,48.3 27.0,48.6 26.3,48.7C25.6,48.9 25.0,48.8 24.3,48.9C23.6,48.9 22.9,49.1 22.2,49.0C21.5,49.0 20.6,49.0 20.1,48.6C19.6,48.2 19.3,47.3 19.1,46.5C19.0,45.6 19.2,44.4 19.2,43.4C19.2,42.4 19.2,41.4 19.3,40.4C19.3,39.4 19.2,38.4 19.5,37.3C19.7,36.2 20.2,34.9 20.7,33.8C21.3,32.7 22.2,31.7 22.8,30.7C23.5,29.8 24.1,28.9 24.7,27.9C25.4,26.9 25.9,25.8 26.6,24.8C27.2,23.7 28.0,22.7 28.8,21.9C29.6,21.1 30.5,20.6 31.3,20.1C32.2,19.6 33.0,19.3 33.8,19.0C34.6,18.8 35.4,18.5 36.1,18.7C36.7,18.8 37.3,19.3 37.7,19.9C38.1,20.4 38.3,21.3 38.6,22.0C38.9,22.6 39.3,23.1 39.6,23.7C40.0,24.3 40.5,24.8 40.7,25.6C40.8,26.4 40.8,27.4 40.7,28.5C40.5,29.5 40.0,30.8 39.7,31.9C39.4,33.0 39.1,34.0 38.8,35.1C38.5,36.3 38.3,37.6 37.8,38.7Z" fill="#f01515" filter="url(#spd7)" />
<path d="M86.3,41.0C86.5,42.2 86.4,43.6 86.3,44.7C86.2,45.8 85.7,46.6 85.5,47.6C85.3,48.6 85.3,49.5 85.2,50.6C85.2,51.7 85.3,53.1 85.2,54.2C85.0,55.2 84.6,56.3 84.1,56.9C83.6,57.5 82.9,57.7 82.2,58.0C81.6,58.3 81.0,58.5 80.4,58.8C79.7,59.0 79.1,59.5 78.4,59.5C77.6,59.5 76.8,59.1 76.1,58.6C75.4,58.0 74.8,56.9 74.2,56.1C73.5,55.3 73.0,54.5 72.4,53.7C71.8,52.9 71.2,52.2 70.7,51.3C70.2,50.4 69.8,49.2 69.4,48.1C69.1,47.0 69.0,45.9 68.7,44.8C68.4,43.6 68.0,42.6 67.6,41.3C67.3,40.1 66.8,38.6 66.7,37.4C66.7,36.2 66.9,34.9 67.3,34.0C67.7,33.1 68.5,32.6 69.0,32.0C69.5,31.4 70.0,30.9 70.5,30.3C71.0,29.7 71.3,28.8 71.8,28.3C72.4,27.8 73.0,27.5 73.7,27.5C74.4,27.5 75.1,27.9 75.8,28.1C76.5,28.4 77.1,28.5 77.8,28.7C78.5,28.9 79.2,28.9 79.9,29.3C80.7,29.7 81.4,30.5 82.0,31.3C82.6,32.1 83.1,33.3 83.6,34.3C84.2,35.4 84.7,36.4 85.1,37.5C85.6,38.6 86.1,39.8 86.3,41.0Z" fill="#c01010" filter="url(#b2)" opacity="0.4" />
<path d="M86.3,41.0C86.5,42.2 86.4,43.6 86.3,44.7C86.2,45.8 85.7,46.6 85.5,47.6C85.3,48.6 85.3,49.5 85.2,50.6C85.2,51.7 85.3,53.1 85.2,54.2C85.0,55.2 84.6,56.3 84.1,56.9C83.6,57.5 82.9,57.7 82.2,58.0C81.6,58.3 81.0,58.5 80.4,58.8C79.7,59.0 79.1,59.5 78.4,59.5C77.6,59.5 76.8,59.1 76.1,58.6C75.4,58.0 74.8,56.9 74.2,56.1C73.5,55.3 73.0,54.5 72.4,53.7C71.8,52.9 71.2,52.2 70.7,51.3C70.2,50.4 69.8,49.2 69.4,48.1C69.1,47.0 69.0,45.9 68.7,44.8C68.4,43.6 68.0,42.6 67.6,41.3C67.3,40.1 66.8,38.6 66.7,37.4C66.7,36.2 66.9,34.9 67.3,34.0C67.7,33.1 68.5,32.6 69.0,32.0C69.5,31.4 70.0,30.9 70.5,30.3C71.0,29.7 71.3,28.8 71.8,28.3C72.4,27.8 73.0,27.5 73.7,27.5C74.4,27.5 75.1,27.9 75.8,28.1C76.5,28.4 77.1,28.5 77.8,28.7C78.5,28.9 79.2,28.9 79.9,29.3C80.7,29.7 81.4,30.5 82.0,31.3C82.6,32.1 83.1,33.3 83.6,34.3C84.2,35.4 84.7,36.4 85.1,37.5C85.6,38.6 86.1,39.8 86.3,41.0Z" fill="#f01515" filter="url(#spd8)" />
</g>
</g></g>
<rect x="328.0" y="356.0" width="70.0" height="72.5" fill="#000"/>
<clipPath id="q40"><rect x="0" y="0" width="70.0" height="72.5"/></clipPath>
<g transform="translate(328.0,356.0)"><g clip-path="url(#q40)">
<path d="M57.5,36.0C57.6,37.9 58.0,39.9 57.8,41.9C57.7,43.9 57.5,46.1 56.7,47.8C55.9,49.6 54.4,51.1 53.0,52.5C51.7,53.8 50.0,54.7 48.5,55.7C47.0,56.8 45.6,57.8 44.1,58.7C42.6,59.6 41.0,60.7 39.3,61.2C37.6,61.7 35.8,62.0 34.0,62.0C32.2,62.0 30.4,61.7 28.7,61.3C26.9,61.0 25.1,60.6 23.4,59.8C21.8,59.0 20.1,58.0 18.8,56.7C17.4,55.4 16.4,53.7 15.3,52.1C14.3,50.5 13.5,48.9 12.6,47.1C11.8,45.4 10.8,43.7 10.2,41.9C9.7,40.0 9.3,37.9 9.5,36.0C9.6,34.1 10.4,32.1 11.1,30.3C11.7,28.5 12.7,27.0 13.4,25.3C14.2,23.5 14.7,21.7 15.5,20.0C16.4,18.3 17.3,16.4 18.6,15.1C19.9,13.7 21.6,12.6 23.3,11.9C24.9,11.1 26.8,10.8 28.6,10.5C30.4,10.2 32.2,10.0 34.0,10.0C35.8,10.0 37.6,10.2 39.3,10.6C41.1,11.1 42.7,12.0 44.3,12.9C45.8,13.8 47.3,14.9 48.7,16.0C50.1,17.2 51.7,18.3 52.9,19.7C54.1,21.1 55.2,22.8 55.9,24.6C56.6,26.4 56.8,28.4 57.0,30.3C57.3,32.2 57.3,34.1 57.5,36.0Z" fill="#901010" filter="url(#spk3)" />
<ellipse cx="43.3" cy="16.6" rx="2.5" ry="3.0" transform="rotate(0 43.3 16.6)" fill="#ff2020" filter="url(#b05)"/>
<ellipse cx="32.7" cy="35.3" rx="3.0" ry="2.5" transform="rotate(0 32.7 35.3)" fill="#ff2020" filter="url(#b05)"/>
<ellipse cx="46.9" cy="35.3" rx="3.0" ry="3.5" transform="rotate(0 46.9 35.3)" fill="#ff2020" filter="url(#b05)"/>
<ellipse cx="17.5" cy="41.4" rx="3.0" ry="2.5" transform="rotate(0 17.5 41.4)" fill="#ff2020" filter="url(#b05)"/>
<ellipse cx="37.0" cy="48.0" rx="1.5" ry="1.5" transform="rotate(0 37.0 48.0)" fill="#ff2020" filter="url(#b05)"/>
</g></g>
<rect x="401.5" y="356.0" width="70.5" height="72.5" fill="#000"/>
<clipPath id="q41"><rect x="0" y="0" width="70.5" height="72.5"/></clipPath>
<g transform="translate(401.5,356.0)"><g clip-path="url(#q41)">
<path d="M62.6,33.5C62.2,35.6 61.5,37.5 61.0,39.5C60.6,41.5 60.6,43.6 60.0,45.7C59.5,47.7 58.9,50.1 57.7,51.8C56.5,53.5 54.7,54.9 52.9,56.1C51.1,57.2 49.0,57.8 47.1,58.7C45.2,59.6 43.4,60.6 41.4,61.3C39.4,62.0 37.3,62.9 35.2,62.9C33.1,63.0 30.8,62.5 28.9,61.8C26.9,61.1 25.0,59.9 23.2,58.8C21.4,57.8 19.6,56.8 18.0,55.5C16.4,54.2 14.7,52.8 13.5,51.1C12.2,49.5 11.4,47.5 10.6,45.5C9.8,43.6 9.3,41.7 8.6,39.7C8.0,37.7 7.0,35.6 6.6,33.5C6.2,31.4 5.9,28.9 6.4,26.8C6.9,24.7 8.3,22.7 9.6,20.9C10.8,19.2 12.5,17.8 13.9,16.3C15.3,14.7 16.5,13.0 18.0,11.5C19.5,10.0 21.0,8.3 22.8,7.3C24.7,6.4 26.9,6.0 29.0,5.7C31.0,5.5 33.1,5.9 35.2,5.9C37.3,6.0 39.3,6.0 41.3,6.2C43.4,6.5 45.6,6.7 47.5,7.5C49.4,8.3 51.3,9.6 52.9,10.9C54.5,12.3 55.9,14.0 57.2,15.6C58.6,17.3 60.1,18.9 61.1,20.8C62.1,22.7 63.0,24.9 63.2,27.0C63.5,29.1 63.0,31.4 62.6,33.5Z" fill="#161616" filter="url(#b05)" />
<path d="M62.6,33.5C62.2,35.6 61.5,37.5 61.0,39.5C60.6,41.5 60.6,43.6 60.0,45.7C59.5,47.7 58.9,50.1 57.7,51.8C56.5,53.5 54.7,54.9 52.9,56.1C51.1,57.2 49.0,57.8 47.1,58.7C45.2,59.6 43.4,60.6 41.4,61.3C39.4,62.0 37.3,62.9 35.2,62.9C33.1,63.0 30.8,62.5 28.9,61.8C26.9,61.1 25.0,59.9 23.2,58.8C21.4,57.8 19.6,56.8 18.0,55.5C16.4,54.2 14.7,52.8 13.5,51.1C12.2,49.5 11.4,47.5 10.6,45.5C9.8,43.6 9.3,41.7 8.6,39.7C8.0,37.7 7.0,35.6 6.6,33.5C6.2,31.4 5.9,28.9 6.4,26.8C6.9,24.7 8.3,22.7 9.6,20.9C10.8,19.2 12.5,17.8 13.9,16.3C15.3,14.7 16.5,13.0 18.0,11.5C19.5,10.0 21.0,8.3 22.8,7.3C24.7,6.4 26.9,6.0 29.0,5.7C31.0,5.5 33.1,5.9 35.2,5.9C37.3,6.0 39.3,6.0 41.3,6.2C43.4,6.5 45.6,6.7 47.5,7.5C49.4,8.3 51.3,9.6 52.9,10.9C54.5,12.3 55.9,14.0 57.2,15.6C58.6,17.3 60.1,18.9 61.1,20.8C62.1,22.7 63.0,24.9 63.2,27.0C63.5,29.1 63.0,31.4 62.6,33.5Z" fill="#c4c4c4" filter="url(#nef3)" />
<path d="M62.6,33.5C62.2,35.6 61.5,37.5 61.0,39.5C60.6,41.5 60.6,43.6 60.0,45.7C59.5,47.7 58.9,50.1 57.7,51.8C56.5,53.5 54.7,54.9 52.9,56.1C51.1,57.2 49.0,57.8 47.1,58.7C45.2,59.6 43.4,60.6 41.4,61.3C39.4,62.0 37.3,62.9 35.2,62.9C33.1,63.0 30.8,62.5 28.9,61.8C26.9,61.1 25.0,59.9 23.2,58.8C21.4,57.8 19.6,56.8 18.0,55.5C16.4,54.2 14.7,52.8 13.5,51.1C12.2,49.5 11.4,47.5 10.6,45.5C9.8,43.6 9.3,41.7 8.6,39.7C8.0,37.7 7.0,35.6 6.6,33.5C6.2,31.4 5.9,28.9 6.4,26.8C6.9,24.7 8.3,22.7 9.6,20.9C10.8,19.2 12.5,17.8 13.9,16.3C15.3,14.7 16.5,13.0 18.0,11.5C19.5,10.0 21.0,8.3 22.8,7.3C24.7,6.4 26.9,6.0 29.0,5.7C31.0,5.5 33.1,5.9 35.2,5.9C37.3,6.0 39.3,6.0 41.3,6.2C43.4,6.5 45.6,6.7 47.5,7.5C49.4,8.3 51.3,9.6 52.9,10.9C54.5,12.3 55.9,14.0 57.2,15.6C58.6,17.3 60.1,18.9 61.1,20.8C62.1,22.7 63.0,24.9 63.2,27.0C63.5,29.1 63.0,31.4 62.6,33.5Z" fill="none" filter="url(#b05)" stroke="#cfcfcf" stroke-width="1.8" opacity="0.85"/>
</g></g>
<rect x="476.0" y="356.0" width="71.0" height="72.5" fill="#000"/>
<clipPath id="q42"><rect x="0" y="0" width="71.0" height="72.5"/></clipPath>
<g transform="translate(476.0,356.0)"><g clip-path="url(#q42)">
<path d="M62.6,33.5C62.2,35.6 61.5,37.5 61.0,39.5C60.6,41.5 60.6,43.6 60.0,45.7C59.5,47.7 58.9,50.1 57.7,51.8C56.5,53.5 54.7,54.9 52.9,56.1C51.1,57.2 49.0,57.8 47.1,58.7C45.2,59.6 43.4,60.6 41.4,61.3C39.4,62.0 37.3,62.9 35.2,62.9C33.1,63.0 30.8,62.5 28.9,61.8C26.9,61.1 25.0,59.9 23.2,58.8C21.4,57.8 19.6,56.8 18.0,55.5C16.4,54.2 14.7,52.8 13.5,51.1C12.2,49.5 11.4,47.5 10.6,45.5C9.8,43.6 9.3,41.7 8.6,39.7C8.0,37.7 7.0,35.6 6.6,33.5C6.2,31.4 5.9,28.9 6.4,26.8C6.9,24.7 8.3,22.7 9.6,20.9C10.8,19.2 12.5,17.8 13.9,16.3C15.3,14.7 16.5,13.0 18.0,11.5C19.5,10.0 21.0,8.3 22.8,7.3C24.7,6.4 26.9,6.0 29.0,5.7C31.0,5.5 33.1,5.9 35.2,5.9C37.3,6.0 39.3,6.0 41.3,6.2C43.4,6.5 45.6,6.7 47.5,7.5C49.4,8.3 51.3,9.6 52.9,10.9C54.5,12.3 55.9,14.0 57.2,15.6C58.6,17.3 60.1,18.9 61.1,20.8C62.1,22.7 63.0,24.9 63.2,27.0C63.5,29.1 63.0,31.4 62.6,33.5Z" fill="#141010" filter="url(#b05)" />
<path d="M62.6,33.5C62.2,35.6 61.5,37.5 61.0,39.5C60.6,41.5 60.6,43.6 60.0,45.7C59.5,47.7 58.9,50.1 57.7,51.8C56.5,53.5 54.7,54.9 52.9,56.1C51.1,57.2 49.0,57.8 47.1,58.7C45.2,59.6 43.4,60.6 41.4,61.3C39.4,62.0 37.3,62.9 35.2,62.9C33.1,63.0 30.8,62.5 28.9,61.8C26.9,61.1 25.0,59.9 23.2,58.8C21.4,57.8 19.6,56.8 18.0,55.5C16.4,54.2 14.7,52.8 13.5,51.1C12.2,49.5 11.4,47.5 10.6,45.5C9.8,43.6 9.3,41.7 8.6,39.7C8.0,37.7 7.0,35.6 6.6,33.5C6.2,31.4 5.9,28.9 6.4,26.8C6.9,24.7 8.3,22.7 9.6,20.9C10.8,19.2 12.5,17.8 13.9,16.3C15.3,14.7 16.5,13.0 18.0,11.5C19.5,10.0 21.0,8.3 22.8,7.3C24.7,6.4 26.9,6.0 29.0,5.7C31.0,5.5 33.1,5.9 35.2,5.9C37.3,6.0 39.3,6.0 41.3,6.2C43.4,6.5 45.6,6.7 47.5,7.5C49.4,8.3 51.3,9.6 52.9,10.9C54.5,12.3 55.9,14.0 57.2,15.6C58.6,17.3 60.1,18.9 61.1,20.8C62.1,22.7 63.0,24.9 63.2,27.0C63.5,29.1 63.0,31.4 62.6,33.5Z" fill="#ccc0c0" filter="url(#nef3)" />
<path d="M62.6,33.5C62.2,35.6 61.5,37.5 61.0,39.5C60.6,41.5 60.6,43.6 60.0,45.7C59.5,47.7 58.9,50.1 57.7,51.8C56.5,53.5 54.7,54.9 52.9,56.1C51.1,57.2 49.0,57.8 47.1,58.7C45.2,59.6 43.4,60.6 41.4,61.3C39.4,62.0 37.3,62.9 35.2,62.9C33.1,63.0 30.8,62.5 28.9,61.8C26.9,61.1 25.0,59.9 23.2,58.8C21.4,57.8 19.6,56.8 18.0,55.5C16.4,54.2 14.7,52.8 13.5,51.1C12.2,49.5 11.4,47.5 10.6,45.5C9.8,43.6 9.3,41.7 8.6,39.7C8.0,37.7 7.0,35.6 6.6,33.5C6.2,31.4 5.9,28.9 6.4,26.8C6.9,24.7 8.3,22.7 9.6,20.9C10.8,19.2 12.5,17.8 13.9,16.3C15.3,14.7 16.5,13.0 18.0,11.5C19.5,10.0 21.0,8.3 22.8,7.3C24.7,6.4 26.9,6.0 29.0,5.7C31.0,5.5 33.1,5.9 35.2,5.9C37.3,6.0 39.3,6.0 41.3,6.2C43.4,6.5 45.6,6.7 47.5,7.5C49.4,8.3 51.3,9.6 52.9,10.9C54.5,12.3 55.9,14.0 57.2,15.6C58.6,17.3 60.1,18.9 61.1,20.8C62.1,22.7 63.0,24.9 63.2,27.0C63.5,29.1 63.0,31.4 62.6,33.5Z" fill="none" filter="url(#b05)" stroke="#d8cccc" stroke-width="1.8" opacity="0.85"/>
<g style="mix-blend-mode:screen" opacity="0.65">
<path d="M57.5,36.0C57.6,37.9 58.0,39.9 57.8,41.9C57.7,43.9 57.5,46.1 56.7,47.8C55.9,49.6 54.4,51.1 53.0,52.5C51.7,53.8 50.0,54.7 48.5,55.7C47.0,56.8 45.6,57.8 44.1,58.7C42.6,59.6 41.0,60.7 39.3,61.2C37.6,61.7 35.8,62.0 34.0,62.0C32.2,62.0 30.4,61.7 28.7,61.3C26.9,61.0 25.1,60.6 23.4,59.8C21.8,59.0 20.1,58.0 18.8,56.7C17.4,55.4 16.4,53.7 15.3,52.1C14.3,50.5 13.5,48.9 12.6,47.1C11.8,45.4 10.8,43.7 10.2,41.9C9.7,40.0 9.3,37.9 9.5,36.0C9.6,34.1 10.4,32.1 11.1,30.3C11.7,28.5 12.7,27.0 13.4,25.3C14.2,23.5 14.7,21.7 15.5,20.0C16.4,18.3 17.3,16.4 18.6,15.1C19.9,13.7 21.6,12.6 23.3,11.9C24.9,11.1 26.8,10.8 28.6,10.5C30.4,10.2 32.2,10.0 34.0,10.0C35.8,10.0 37.6,10.2 39.3,10.6C41.1,11.1 42.7,12.0 44.3,12.9C45.8,13.8 47.3,14.9 48.7,16.0C50.1,17.2 51.7,18.3 52.9,19.7C54.1,21.1 55.2,22.8 55.9,24.6C56.6,26.4 56.8,28.4 57.0,30.3C57.3,32.2 57.3,34.1 57.5,36.0Z" fill="#901010" filter="url(#spk3)" />
<ellipse cx="43.3" cy="16.6" rx="2.5" ry="3.0" transform="rotate(0 43.3 16.6)" fill="#ff2020" filter="url(#b05)"/>
<ellipse cx="32.7" cy="35.3" rx="3.0" ry="2.5" transform="rotate(0 32.7 35.3)" fill="#ff2020" filter="url(#b05)"/>
<ellipse cx="46.9" cy="35.3" rx="3.0" ry="3.5" transform="rotate(0 46.9 35.3)" fill="#ff2020" filter="url(#b05)"/>
<ellipse cx="17.5" cy="41.4" rx="3.0" ry="2.5" transform="rotate(0 17.5 41.4)" fill="#ff2020" filter="url(#b05)"/>
<ellipse cx="37.0" cy="48.0" rx="1.5" ry="1.5" transform="rotate(0 37.0 48.0)" fill="#ff2020" filter="url(#b05)"/>
</g>
</g></g>
<rect x="552.0" y="356.0" width="70.5" height="72.5" fill="#000"/>
<clipPath id="q43"><rect x="0" y="0" width="70.5" height="72.5"/></clipPath>
<g transform="translate(552.0,356.0)"><g clip-path="url(#q43)">
<path d="M61.7,35.5C61.2,37.2 60.2,38.6 59.7,40.2C59.2,41.8 59.3,43.4 58.9,45.1C58.5,46.7 58.1,48.6 57.2,50.0C56.3,51.4 54.9,52.6 53.5,53.7C52.2,54.8 50.7,55.7 49.1,56.5C47.6,57.4 46.0,58.4 44.3,58.8C42.6,59.2 40.7,59.2 39.0,59.0C37.3,58.7 35.7,57.6 34.1,57.1C32.5,56.5 31.0,56.1 29.3,55.6C27.7,55.1 25.6,55.0 24.1,54.2C22.6,53.3 21.2,51.9 20.4,50.3C19.6,48.8 19.7,46.6 19.4,45.0C19.0,43.3 18.9,41.8 18.3,40.2C17.7,38.6 16.3,37.2 15.7,35.5C15.2,33.8 14.6,31.7 14.8,30.0C15.1,28.3 16.4,26.6 17.4,25.1C18.5,23.7 20.0,22.6 21.2,21.3C22.5,20.1 23.5,18.8 24.8,17.7C26.2,16.7 27.6,15.7 29.2,15.1C30.7,14.4 32.4,14.3 34.1,14.0C35.7,13.6 37.3,13.2 39.0,13.0C40.7,12.7 42.6,12.0 44.3,12.2C46.0,12.4 47.9,13.2 49.3,14.2C50.7,15.1 51.6,16.9 52.8,18.2C54.0,19.4 55.0,20.5 56.4,21.7C57.7,22.8 59.7,23.6 60.8,25.0C61.9,26.4 63.0,28.2 63.1,30.0C63.3,31.7 62.3,33.8 61.7,35.5Z" fill="#a00000" filter="url(#b2)" opacity="0.6" />
<path d="M61.7,35.5C61.2,37.2 60.2,38.6 59.7,40.2C59.2,41.8 59.3,43.4 58.9,45.1C58.5,46.7 58.1,48.6 57.2,50.0C56.3,51.4 54.9,52.6 53.5,53.7C52.2,54.8 50.7,55.7 49.1,56.5C47.6,57.4 46.0,58.4 44.3,58.8C42.6,59.2 40.7,59.2 39.0,59.0C37.3,58.7 35.7,57.6 34.1,57.1C32.5,56.5 31.0,56.1 29.3,55.6C27.7,55.1 25.6,55.0 24.1,54.2C22.6,53.3 21.2,51.9 20.4,50.3C19.6,48.8 19.7,46.6 19.4,45.0C19.0,43.3 18.9,41.8 18.3,40.2C17.7,38.6 16.3,37.2 15.7,35.5C15.2,33.8 14.6,31.7 14.8,30.0C15.1,28.3 16.4,26.6 17.4,25.1C18.5,23.7 20.0,22.6 21.2,21.3C22.5,20.1 23.5,18.8 24.8,17.7C26.2,16.7 27.6,15.7 29.2,15.1C30.7,14.4 32.4,14.3 34.1,14.0C35.7,13.6 37.3,13.2 39.0,13.0C40.7,12.7 42.6,12.0 44.3,12.2C46.0,12.4 47.9,13.2 49.3,14.2C50.7,15.1 51.6,16.9 52.8,18.2C54.0,19.4 55.0,20.5 56.4,21.7C57.7,22.8 59.7,23.6 60.8,25.0C61.9,26.4 63.0,28.2 63.1,30.0C63.3,31.7 62.3,33.8 61.7,35.5Z" fill="#f01010" filter="url(#spd1)" />
</g></g>
<rect x="627.0" y="356.0" width="70.5" height="72.5" fill="#000"/>
<clipPath id="q44"><rect x="0" y="0" width="70.5" height="72.5"/></clipPath>
<g transform="translate(627.0,356.0)"><g clip-path="url(#q44)">
<path d="M62.7,44.1C61.9,45.7 60.9,47.2 59.8,48.6C58.7,49.9 57.4,51.0 56.0,52.2C54.7,53.3 53.3,54.2 51.9,55.2C50.4,56.2 49.0,57.4 47.4,58.1C45.7,58.9 43.9,59.6 42.0,59.8C40.2,60.0 38.2,59.6 36.4,59.2C34.5,58.8 32.8,58.0 31.1,57.3C29.3,56.6 27.6,56.0 25.9,55.1C24.2,54.3 22.4,53.4 21.0,52.2C19.6,51.0 18.4,49.4 17.5,47.7C16.7,46.1 16.4,44.2 16.0,42.5C15.6,40.7 15.5,39.0 15.3,37.3C15.2,35.6 15.0,33.9 15.1,32.2C15.1,30.5 15.3,28.7 15.7,27.0C16.2,25.3 16.8,23.6 17.6,22.1C18.4,20.5 19.4,18.9 20.7,17.6C21.9,16.3 23.5,15.1 25.2,14.3C26.8,13.6 28.8,13.2 30.6,12.9C32.5,12.6 34.3,12.7 36.1,12.6C38.0,12.5 39.7,12.3 41.6,12.4C43.4,12.5 45.4,12.5 47.1,13.1C48.9,13.7 50.6,14.8 52.1,15.9C53.5,17.0 54.7,18.5 55.9,19.8C57.1,21.2 58.3,22.5 59.4,23.9C60.6,25.3 61.9,26.7 62.7,28.3C63.6,29.9 64.3,31.8 64.6,33.5C64.9,35.3 64.8,37.3 64.4,39.0C64.1,40.8 63.5,42.5 62.7,44.1Z" fill="#202020" filter="url(#b05)" />
<path d="M62.7,44.1C61.9,45.7 60.9,47.2 59.8,48.6C58.7,49.9 57.4,51.0 56.0,52.2C54.7,53.3 53.3,54.2 51.9,55.2C50.4,56.2 49.0,57.4 47.4,58.1C45.7,58.9 43.9,59.6 42.0,59.8C40.2,60.0 38.2,59.6 36.4,59.2C34.5,58.8 32.8,58.0 31.1,57.3C29.3,56.6 27.6,56.0 25.9,55.1C24.2,54.3 22.4,53.4 21.0,52.2C19.6,51.0 18.4,49.4 17.5,47.7C16.7,46.1 16.4,44.2 16.0,42.5C15.6,40.7 15.5,39.0 15.3,37.3C15.2,35.6 15.0,33.9 15.1,32.2C15.1,30.5 15.3,28.7 15.7,27.0C16.2,25.3 16.8,23.6 17.6,22.1C18.4,20.5 19.4,18.9 20.7,17.6C21.9,16.3 23.5,15.1 25.2,14.3C26.8,13.6 28.8,13.2 30.6,12.9C32.5,12.6 34.3,12.7 36.1,12.6C38.0,12.5 39.7,12.3 41.6,12.4C43.4,12.5 45.4,12.5 47.1,13.1C48.9,13.7 50.6,14.8 52.1,15.9C53.5,17.0 54.7,18.5 55.9,19.8C57.1,21.2 58.3,22.5 59.4,23.9C60.6,25.3 61.9,26.7 62.7,28.3C63.6,29.9 64.3,31.8 64.6,33.5C64.9,35.3 64.8,37.3 64.4,39.0C64.1,40.8 63.5,42.5 62.7,44.1Z" fill="#9a9a9a" filter="url(#nef4)" />
<path d="M62.7,44.1C61.9,45.7 60.9,47.2 59.8,48.6C58.7,49.9 57.4,51.0 56.0,52.2C54.7,53.3 53.3,54.2 51.9,55.2C50.4,56.2 49.0,57.4 47.4,58.1C45.7,58.9 43.9,59.6 42.0,59.8C40.2,60.0 38.2,59.6 36.4,59.2C34.5,58.8 32.8,58.0 31.1,57.3C29.3,56.6 27.6,56.0 25.9,55.1C24.2,54.3 22.4,53.4 21.0,52.2C19.6,51.0 18.4,49.4 17.5,47.7C16.7,46.1 16.4,44.2 16.0,42.5C15.6,40.7 15.5,39.0 15.3,37.3C15.2,35.6 15.0,33.9 15.1,32.2C15.1,30.5 15.3,28.7 15.7,27.0C16.2,25.3 16.8,23.6 17.6,22.1C18.4,20.5 19.4,18.9 20.7,17.6C21.9,16.3 23.5,15.1 25.2,14.3C26.8,13.6 28.8,13.2 30.6,12.9C32.5,12.6 34.3,12.7 36.1,12.6C38.0,12.5 39.7,12.3 41.6,12.4C43.4,12.5 45.4,12.5 47.1,13.1C48.9,13.7 50.6,14.8 52.1,15.9C53.5,17.0 54.7,18.5 55.9,19.8C57.1,21.2 58.3,22.5 59.4,23.9C60.6,25.3 61.9,26.7 62.7,28.3C63.6,29.9 64.3,31.8 64.6,33.5C64.9,35.3 64.8,37.3 64.4,39.0C64.1,40.8 63.5,42.5 62.7,44.1Z" fill="none" filter="url(#b05)" stroke="#b8b8b8" stroke-width="1.6" opacity="0.85"/>
</g></g>
<rect x="702.0" y="356.0" width="71.0" height="72.5" fill="#000"/>
<clipPath id="q45"><rect x="0" y="0" width="71.0" height="72.5"/></clipPath>
<g transform="translate(702.0,356.0)"><g clip-path="url(#q45)">
<path d="M62.7,44.1C61.9,45.7 60.9,47.2 59.8,48.6C58.7,49.9 57.4,51.0 56.0,52.2C54.7,53.3 53.3,54.2 51.9,55.2C50.4,56.2 49.0,57.4 47.4,58.1C45.7,58.9 43.9,59.6 42.0,59.8C40.2,60.0 38.2,59.6 36.4,59.2C34.5,58.8 32.8,58.0 31.1,57.3C29.3,56.6 27.6,56.0 25.9,55.1C24.2,54.3 22.4,53.4 21.0,52.2C19.6,51.0 18.4,49.4 17.5,47.7C16.7,46.1 16.4,44.2 16.0,42.5C15.6,40.7 15.5,39.0 15.3,37.3C15.2,35.6 15.0,33.9 15.1,32.2C15.1,30.5 15.3,28.7 15.7,27.0C16.2,25.3 16.8,23.6 17.6,22.1C18.4,20.5 19.4,18.9 20.7,17.6C21.9,16.3 23.5,15.1 25.2,14.3C26.8,13.6 28.8,13.2 30.6,12.9C32.5,12.6 34.3,12.7 36.1,12.6C38.0,12.5 39.7,12.3 41.6,12.4C43.4,12.5 45.4,12.5 47.1,13.1C48.9,13.7 50.6,14.8 52.1,15.9C53.5,17.0 54.7,18.5 55.9,19.8C57.1,21.2 58.3,22.5 59.4,23.9C60.6,25.3 61.9,26.7 62.7,28.3C63.6,29.9 64.3,31.8 64.6,33.5C64.9,35.3 64.8,37.3 64.4,39.0C64.1,40.8 63.5,42.5 62.7,44.1Z" fill="#3a2020" filter="url(#b05)" />
<path d="M62.7,44.1C61.9,45.7 60.9,47.2 59.8,48.6C58.7,49.9 57.4,51.0 56.0,52.2C54.7,53.3 53.3,54.2 51.9,55.2C50.4,56.2 49.0,57.4 47.4,58.1C45.7,58.9 43.9,59.6 42.0,59.8C40.2,60.0 38.2,59.6 36.4,59.2C34.5,58.8 32.8,58.0 31.1,57.3C29.3,56.6 27.6,56.0 25.9,55.1C24.2,54.3 22.4,53.4 21.0,52.2C19.6,51.0 18.4,49.4 17.5,47.7C16.7,46.1 16.4,44.2 16.0,42.5C15.6,40.7 15.5,39.0 15.3,37.3C15.2,35.6 15.0,33.9 15.1,32.2C15.1,30.5 15.3,28.7 15.7,27.0C16.2,25.3 16.8,23.6 17.6,22.1C18.4,20.5 19.4,18.9 20.7,17.6C21.9,16.3 23.5,15.1 25.2,14.3C26.8,13.6 28.8,13.2 30.6,12.9C32.5,12.6 34.3,12.7 36.1,12.6C38.0,12.5 39.7,12.3 41.6,12.4C43.4,12.5 45.4,12.5 47.1,13.1C48.9,13.7 50.6,14.8 52.1,15.9C53.5,17.0 54.7,18.5 55.9,19.8C57.1,21.2 58.3,22.5 59.4,23.9C60.6,25.3 61.9,26.7 62.7,28.3C63.6,29.9 64.3,31.8 64.6,33.5C64.9,35.3 64.8,37.3 64.4,39.0C64.1,40.8 63.5,42.5 62.7,44.1Z" fill="#d8a0a8" filter="url(#nef4)" />
<path d="M62.7,44.1C61.9,45.7 60.9,47.2 59.8,48.6C58.7,49.9 57.4,51.0 56.0,52.2C54.7,53.3 53.3,54.2 51.9,55.2C50.4,56.2 49.0,57.4 47.4,58.1C45.7,58.9 43.9,59.6 42.0,59.8C40.2,60.0 38.2,59.6 36.4,59.2C34.5,58.8 32.8,58.0 31.1,57.3C29.3,56.6 27.6,56.0 25.9,55.1C24.2,54.3 22.4,53.4 21.0,52.2C19.6,51.0 18.4,49.4 17.5,47.7C16.7,46.1 16.4,44.2 16.0,42.5C15.6,40.7 15.5,39.0 15.3,37.3C15.2,35.6 15.0,33.9 15.1,32.2C15.1,30.5 15.3,28.7 15.7,27.0C16.2,25.3 16.8,23.6 17.6,22.1C18.4,20.5 19.4,18.9 20.7,17.6C21.9,16.3 23.5,15.1 25.2,14.3C26.8,13.6 28.8,13.2 30.6,12.9C32.5,12.6 34.3,12.7 36.1,12.6C38.0,12.5 39.7,12.3 41.6,12.4C43.4,12.5 45.4,12.5 47.1,13.1C48.9,13.7 50.6,14.8 52.1,15.9C53.5,17.0 54.7,18.5 55.9,19.8C57.1,21.2 58.3,22.5 59.4,23.9C60.6,25.3 61.9,26.7 62.7,28.3C63.6,29.9 64.3,31.8 64.6,33.5C64.9,35.3 64.8,37.3 64.4,39.0C64.1,40.8 63.5,42.5 62.7,44.1Z" fill="none" filter="url(#b05)" stroke="#d8b0b0" stroke-width="1.6" opacity="0.85"/>
<g style="mix-blend-mode:screen" opacity="0.65">
<path d="M61.7,35.5C61.2,37.2 60.2,38.6 59.7,40.2C59.2,41.8 59.3,43.4 58.9,45.1C58.5,46.7 58.1,48.6 57.2,50.0C56.3,51.4 54.9,52.6 53.5,53.7C52.2,54.8 50.7,55.7 49.1,56.5C47.6,57.4 46.0,58.4 44.3,58.8C42.6,59.2 40.7,59.2 39.0,59.0C37.3,58.7 35.7,57.6 34.1,57.1C32.5,56.5 31.0,56.1 29.3,55.6C27.7,55.1 25.6,55.0 24.1,54.2C22.6,53.3 21.2,51.9 20.4,50.3C19.6,48.8 19.7,46.6 19.4,45.0C19.0,43.3 18.9,41.8 18.3,40.2C17.7,38.6 16.3,37.2 15.7,35.5C15.2,33.8 14.6,31.7 14.8,30.0C15.1,28.3 16.4,26.6 17.4,25.1C18.5,23.7 20.0,22.6 21.2,21.3C22.5,20.1 23.5,18.8 24.8,17.7C26.2,16.7 27.6,15.7 29.2,15.1C30.7,14.4 32.4,14.3 34.1,14.0C35.7,13.6 37.3,13.2 39.0,13.0C40.7,12.7 42.6,12.0 44.3,12.2C46.0,12.4 47.9,13.2 49.3,14.2C50.7,15.1 51.6,16.9 52.8,18.2C54.0,19.4 55.0,20.5 56.4,21.7C57.7,22.8 59.7,23.6 60.8,25.0C61.9,26.4 63.0,28.2 63.1,30.0C63.3,31.7 62.3,33.8 61.7,35.5Z" fill="#a00000" filter="url(#b2)" opacity="0.6" />
<path d="M61.7,35.5C61.2,37.2 60.2,38.6 59.7,40.2C59.2,41.8 59.3,43.4 58.9,45.1C58.5,46.7 58.1,48.6 57.2,50.0C56.3,51.4 54.9,52.6 53.5,53.7C52.2,54.8 50.7,55.7 49.1,56.5C47.6,57.4 46.0,58.4 44.3,58.8C42.6,59.2 40.7,59.2 39.0,59.0C37.3,58.7 35.7,57.6 34.1,57.1C32.5,56.5 31.0,56.1 29.3,55.6C27.7,55.1 25.6,55.0 24.1,54.2C22.6,53.3 21.2,51.9 20.4,50.3C19.6,48.8 19.7,46.6 19.4,45.0C19.0,43.3 18.9,41.8 18.3,40.2C17.7,38.6 16.3,37.2 15.7,35.5C15.2,33.8 14.6,31.7 14.8,30.0C15.1,28.3 16.4,26.6 17.4,25.1C18.5,23.7 20.0,22.6 21.2,21.3C22.5,20.1 23.5,18.8 24.8,17.7C26.2,16.7 27.6,15.7 29.2,15.1C30.7,14.4 32.4,14.3 34.1,14.0C35.7,13.6 37.3,13.2 39.0,13.0C40.7,12.7 42.6,12.0 44.3,12.2C46.0,12.4 47.9,13.2 49.3,14.2C50.7,15.1 51.6,16.9 52.8,18.2C54.0,19.4 55.0,20.5 56.4,21.7C57.7,22.8 59.7,23.6 60.8,25.0C61.9,26.4 63.0,28.2 63.1,30.0C63.3,31.7 62.3,33.8 61.7,35.5Z" fill="#f01010" filter="url(#spd1)" />
</g>
</g></g>
<rect x="840.5" y="40.0" width="70.5" height="72.5" fill="#000"/>
<clipPath id="q46"><rect x="0" y="0" width="70.5" height="72.5"/></clipPath>
<g transform="translate(840.5,40.0)"><g clip-path="url(#q46)">
<path d="M55.0,33.0C55.1,35.1 55.5,37.3 55.3,39.5C55.2,41.7 54.9,44.1 54.1,46.0C53.3,48.0 51.8,49.7 50.3,51.2C48.9,52.6 47.2,53.6 45.6,54.8C44.1,55.9 42.6,57.1 41.0,58.1C39.4,59.1 37.8,60.2 36.0,60.8C34.3,61.4 32.3,61.7 30.5,61.7C28.7,61.7 26.8,61.4 24.9,61.0C23.1,60.6 21.2,60.1 19.5,59.3C17.8,58.4 16.0,57.3 14.6,55.8C13.2,54.4 12.1,52.6 11.1,50.8C10.0,49.0 9.1,47.2 8.2,45.3C7.4,43.4 6.3,41.5 5.8,39.5C5.2,37.4 4.8,35.1 5.0,33.0C5.1,30.9 5.9,28.7 6.6,26.7C7.3,24.8 8.3,23.0 9.0,21.1C9.8,19.2 10.3,17.3 11.2,15.4C12.1,13.5 13.1,11.4 14.4,9.9C15.8,8.4 17.6,7.2 19.3,6.4C21.1,5.5 23.0,5.2 24.9,4.9C26.8,4.5 28.6,4.3 30.5,4.3C32.4,4.3 34.3,4.5 36.1,5.0C37.8,5.6 39.6,6.5 41.2,7.5C42.8,8.5 44.3,9.7 45.8,11.0C47.3,12.2 48.9,13.4 50.1,15.0C51.4,16.6 52.6,18.5 53.3,20.4C54.0,22.3 54.2,24.6 54.5,26.7C54.8,28.8 54.8,30.9 55.0,33.0Z" fill="#200000" filter="url(#b2)" opacity="0.5" />
<path d="M55.0,33.0C55.1,35.1 55.5,37.3 55.3,39.5C55.2,41.7 54.9,44.1 54.1,46.0C53.3,48.0 51.8,49.7 50.3,51.2C48.9,52.6 47.2,53.6 45.6,54.8C44.1,55.9 42.6,57.1 41.0,58.1C39.4,59.1 37.8,60.2 36.0,60.8C34.3,61.4 32.3,61.7 30.5,61.7C28.7,61.7 26.8,61.4 24.9,61.0C23.1,60.6 21.2,60.1 19.5,59.3C17.8,58.4 16.0,57.3 14.6,55.8C13.2,54.4 12.1,52.6 11.1,50.8C10.0,49.0 9.1,47.2 8.2,45.3C7.4,43.4 6.3,41.5 5.8,39.5C5.2,37.4 4.8,35.1 5.0,33.0C5.1,30.9 5.9,28.7 6.6,26.7C7.3,24.8 8.3,23.0 9.0,21.1C9.8,19.2 10.3,17.3 11.2,15.4C12.1,13.5 13.1,11.4 14.4,9.9C15.8,8.4 17.6,7.2 19.3,6.4C21.1,5.5 23.0,5.2 24.9,4.9C26.8,4.5 28.6,4.3 30.5,4.3C32.4,4.3 34.3,4.5 36.1,5.0C37.8,5.6 39.6,6.5 41.2,7.5C42.8,8.5 44.3,9.7 45.8,11.0C47.3,12.2 48.9,13.4 50.1,15.0C51.4,16.6 52.6,18.5 53.3,20.4C54.0,22.3 54.2,24.6 54.5,26.7C54.8,28.8 54.8,30.9 55.0,33.0Z" fill="#a01010" filter="url(#spk4)" />
</g></g>
<rect x="914.5" y="40.0" width="71.0" height="72.5" fill="#000"/>
<clipPath id="q47"><rect x="0" y="0" width="71.0" height="72.5"/></clipPath>
<g transform="translate(914.5,40.0)"><g clip-path="url(#q47)">
<path d="M56.3,33.0C56.2,35.2 55.8,37.3 55.3,39.4C54.9,41.5 54.5,43.6 53.8,45.7C53.1,47.7 52.4,49.9 51.2,51.7C50.1,53.5 48.6,55.1 47.0,56.4C45.4,57.7 43.5,58.5 41.7,59.3C39.9,60.2 38.1,60.8 36.2,61.3C34.4,61.9 32.4,62.4 30.5,62.5C28.6,62.6 26.6,62.4 24.7,61.8C22.8,61.3 21.0,60.3 19.3,59.3C17.6,58.3 15.9,57.2 14.4,55.8C12.9,54.5 11.4,53.0 10.1,51.4C8.9,49.7 7.9,47.7 7.1,45.7C6.3,43.8 5.8,41.6 5.3,39.5C4.8,37.4 4.4,35.2 4.3,33.0C4.2,30.8 4.2,28.5 4.6,26.3C5.1,24.2 5.9,22.0 6.9,20.2C7.9,18.3 9.3,16.7 10.6,15.0C11.8,13.4 13.1,11.9 14.6,10.4C16.0,9.0 17.5,7.4 19.2,6.4C20.8,5.3 22.8,4.5 24.7,4.0C26.5,3.6 28.6,3.6 30.5,3.7C32.4,3.8 34.4,4.1 36.3,4.5C38.1,4.9 40.1,5.5 41.8,6.4C43.6,7.3 45.3,8.5 46.8,9.9C48.3,11.2 49.6,13.0 50.8,14.7C52.0,16.4 53.1,18.3 53.9,20.2C54.8,22.2 55.6,24.3 56.0,26.4C56.4,28.5 56.4,30.8 56.3,33.0Z" fill="#101010" filter="url(#b05)" />
<path d="M56.3,33.0C56.2,35.2 55.8,37.3 55.3,39.4C54.9,41.5 54.5,43.6 53.8,45.7C53.1,47.7 52.4,49.9 51.2,51.7C50.1,53.5 48.6,55.1 47.0,56.4C45.4,57.7 43.5,58.5 41.7,59.3C39.9,60.2 38.1,60.8 36.2,61.3C34.4,61.9 32.4,62.4 30.5,62.5C28.6,62.6 26.6,62.4 24.7,61.8C22.8,61.3 21.0,60.3 19.3,59.3C17.6,58.3 15.9,57.2 14.4,55.8C12.9,54.5 11.4,53.0 10.1,51.4C8.9,49.7 7.9,47.7 7.1,45.7C6.3,43.8 5.8,41.6 5.3,39.5C4.8,37.4 4.4,35.2 4.3,33.0C4.2,30.8 4.2,28.5 4.6,26.3C5.1,24.2 5.9,22.0 6.9,20.2C7.9,18.3 9.3,16.7 10.6,15.0C11.8,13.4 13.1,11.9 14.6,10.4C16.0,9.0 17.5,7.4 19.2,6.4C20.8,5.3 22.8,4.5 24.7,4.0C26.5,3.6 28.6,3.6 30.5,3.7C32.4,3.8 34.4,4.1 36.3,4.5C38.1,4.9 40.1,5.5 41.8,6.4C43.6,7.3 45.3,8.5 46.8,9.9C48.3,11.2 49.6,13.0 50.8,14.7C52.0,16.4 53.1,18.3 53.9,20.2C54.8,22.2 55.6,24.3 56.0,26.4C56.4,28.5 56.4,30.8 56.3,33.0Z" fill="#c8c8c8" filter="url(#nfd5)" />
<ellipse cx="40.0" cy="45.0" rx="9.0" ry="7.0" transform="rotate(20 40.0 45.0)" fill="#000" opacity="0.85" filter="url(#b1)"/>
<ellipse cx="22.0" cy="20.0" rx="5.0" ry="4.0" transform="rotate(0 22.0 20.0)" fill="#000" opacity="0.85" filter="url(#b1)"/>
<ellipse cx="18.0" cy="38.0" rx="4.0" ry="5.0" transform="rotate(0 18.0 38.0)" fill="#000" opacity="0.85" filter="url(#b1)"/>
<path d="M56.3,33.0C56.2,35.2 55.8,37.3 55.3,39.4C54.9,41.5 54.5,43.6 53.8,45.7C53.1,47.7 52.4,49.9 51.2,51.7C50.1,53.5 48.6,55.1 47.0,56.4C45.4,57.7 43.5,58.5 41.7,59.3C39.9,60.2 38.1,60.8 36.2,61.3C34.4,61.9 32.4,62.4 30.5,62.5C28.6,62.6 26.6,62.4 24.7,61.8C22.8,61.3 21.0,60.3 19.3,59.3C17.6,58.3 15.9,57.2 14.4,55.8C12.9,54.5 11.4,53.0 10.1,51.4C8.9,49.7 7.9,47.7 7.1,45.7C6.3,43.8 5.8,41.6 5.3,39.5C4.8,37.4 4.4,35.2 4.3,33.0C4.2,30.8 4.2,28.5 4.6,26.3C5.1,24.2 5.9,22.0 6.9,20.2C7.9,18.3 9.3,16.7 10.6,15.0C11.8,13.4 13.1,11.9 14.6,10.4C16.0,9.0 17.5,7.4 19.2,6.4C20.8,5.3 22.8,4.5 24.7,4.0C26.5,3.6 28.6,3.6 30.5,3.7C32.4,3.8 34.4,4.1 36.3,4.5C38.1,4.9 40.1,5.5 41.8,6.4C43.6,7.3 45.3,8.5 46.8,9.9C48.3,11.2 49.6,13.0 50.8,14.7C52.0,16.4 53.1,18.3 53.9,20.2C54.8,22.2 55.6,24.3 56.0,26.4C56.4,28.5 56.4,30.8 56.3,33.0Z" fill="none" filter="url(#b05)" stroke="#cfcfcf" stroke-width="1.8" opacity="0.85"/>
</g></g>
<rect x="989.0" y="40.0" width="70.0" height="72.5" fill="#000"/>
<clipPath id="q48"><rect x="0" y="0" width="70.0" height="72.5"/></clipPath>
<g transform="translate(989.0,40.0)"><g clip-path="url(#q48)">
<path d="M56.3,33.0C56.2,35.2 55.8,37.3 55.3,39.4C54.9,41.5 54.5,43.6 53.8,45.7C53.1,47.7 52.4,49.9 51.2,51.7C50.1,53.5 48.6,55.1 47.0,56.4C45.4,57.7 43.5,58.5 41.7,59.3C39.9,60.2 38.1,60.8 36.2,61.3C34.4,61.9 32.4,62.4 30.5,62.5C28.6,62.6 26.6,62.4 24.7,61.8C22.8,61.3 21.0,60.3 19.3,59.3C17.6,58.3 15.9,57.2 14.4,55.8C12.9,54.5 11.4,53.0 10.1,51.4C8.9,49.7 7.9,47.7 7.1,45.7C6.3,43.8 5.8,41.6 5.3,39.5C4.8,37.4 4.4,35.2 4.3,33.0C4.2,30.8 4.2,28.5 4.6,26.3C5.1,24.2 5.9,22.0 6.9,20.2C7.9,18.3 9.3,16.7 10.6,15.0C11.8,13.4 13.1,11.9 14.6,10.4C16.0,9.0 17.5,7.4 19.2,6.4C20.8,5.3 22.8,4.5 24.7,4.0C26.5,3.6 28.6,3.6 30.5,3.7C32.4,3.8 34.4,4.1 36.3,4.5C38.1,4.9 40.1,5.5 41.8,6.4C43.6,7.3 45.3,8.5 46.8,9.9C48.3,11.2 49.6,13.0 50.8,14.7C52.0,16.4 53.1,18.3 53.9,20.2C54.8,22.2 55.6,24.3 56.0,26.4C56.4,28.5 56.4,30.8 56.3,33.0Z" fill="#141010" filter="url(#b05)" />
<path d="M56.3,33.0C56.2,35.2 55.8,37.3 55.3,39.4C54.9,41.5 54.5,43.6 53.8,45.7C53.1,47.7 52.4,49.9 51.2,51.7C50.1,53.5 48.6,55.1 47.0,56.4C45.4,57.7 43.5,58.5 41.7,59.3C39.9,60.2 38.1,60.8 36.2,61.3C34.4,61.9 32.4,62.4 30.5,62.5C28.6,62.6 26.6,62.4 24.7,61.8C22.8,61.3 21.0,60.3 19.3,59.3C17.6,58.3 15.9,57.2 14.4,55.8C12.9,54.5 11.4,53.0 10.1,51.4C8.9,49.7 7.9,47.7 7.1,45.7C6.3,43.8 5.8,41.6 5.3,39.5C4.8,37.4 4.4,35.2 4.3,33.0C4.2,30.8 4.2,28.5 4.6,26.3C5.1,24.2 5.9,22.0 6.9,20.2C7.9,18.3 9.3,16.7 10.6,15.0C11.8,13.4 13.1,11.9 14.6,10.4C16.0,9.0 17.5,7.4 19.2,6.4C20.8,5.3 22.8,4.5 24.7,4.0C26.5,3.6 28.6,3.6 30.5,3.7C32.4,3.8 34.4,4.1 36.3,4.5C38.1,4.9 40.1,5.5 41.8,6.4C43.6,7.3 45.3,8.5 46.8,9.9C48.3,11.2 49.6,13.0 50.8,14.7C52.0,16.4 53.1,18.3 53.9,20.2C54.8,22.2 55.6,24.3 56.0,26.4C56.4,28.5 56.4,30.8 56.3,33.0Z" fill="#ccc0c0" filter="url(#nfd5)" />
<ellipse cx="40.0" cy="45.0" rx="9.0" ry="7.0" transform="rotate(20 40.0 45.0)" fill="#000" opacity="0.85" filter="url(#b1)"/>
<ellipse cx="22.0" cy="20.0" rx="5.0" ry="4.0" transform="rotate(0 22.0 20.0)" fill="#000" opacity="0.85" filter="url(#b1)"/>
<ellipse cx="18.0" cy="38.0" rx="4.0" ry="5.0" transform="rotate(0 18.0 38.0)" fill="#000" opacity="0.85" filter="url(#b1)"/>
<path d="M56.3,33.0C56.2,35.2 55.8,37.3 55.3,39.4C54.9,41.5 54.5,43.6 53.8,45.7C53.1,47.7 52.4,49.9 51.2,51.7C50.1,53.5 48.6,55.1 47.0,56.4C45.4,57.7 43.5,58.5 41.7,59.3C39.9,60.2 38.1,60.8 36.2,61.3C34.4,61.9 32.4,62.4 30.5,62.5C28.6,62.6 26.6,62.4 24.7,61.8C22.8,61.3 21.0,60.3 19.3,59.3C17.6,58.3 15.9,57.2 14.4,55.8C12.9,54.5 11.4,53.0 10.1,51.4C8.9,49.7 7.9,47.7 7.1,45.7C6.3,43.8 5.8,41.6 5.3,39.5C4.8,37.4 4.4,35.2 4.3,33.0C4.2,30.8 4.2,28.5 4.6,26.3C5.1,24.2 5.9,22.0 6.9,20.2C7.9,18.3 9.3,16.7 10.6,15.0C11.8,13.4 13.1,11.9 14.6,10.4C16.0,9.0 17.5,7.4 19.2,6.4C20.8,5.3 22.8,4.5 24.7,4.0C26.5,3.6 28.6,3.6 30.5,3.7C32.4,3.8 34.4,4.1 36.3,4.5C38.1,4.9 40.1,5.5 41.8,6.4C43.6,7.3 45.3,8.5 46.8,9.9C48.3,11.2 49.6,13.0 50.8,14.7C52.0,16.4 53.1,18.3 53.9,20.2C54.8,22.2 55.6,24.3 56.0,26.4C56.4,28.5 56.4,30.8 56.3,33.0Z" fill="none" filter="url(#b05)" stroke="#d8cccc" stroke-width="1.8" opacity="0.85"/>
<g style="mix-blend-mode:screen" opacity="0.65">
<path d="M55.0,33.0C55.1,35.1 55.5,37.3 55.3,39.5C55.2,41.7 54.9,44.1 54.1,46.0C53.3,48.0 51.8,49.7 50.3,51.2C48.9,52.6 47.2,53.6 45.6,54.8C44.1,55.9 42.6,57.1 41.0,58.1C39.4,59.1 37.8,60.2 36.0,60.8C34.3,61.4 32.3,61.7 30.5,61.7C28.7,61.7 26.8,61.4 24.9,61.0C23.1,60.6 21.2,60.1 19.5,59.3C17.8,58.4 16.0,57.3 14.6,55.8C13.2,54.4 12.1,52.6 11.1,50.8C10.0,49.0 9.1,47.2 8.2,45.3C7.4,43.4 6.3,41.5 5.8,39.5C5.2,37.4 4.8,35.1 5.0,33.0C5.1,30.9 5.9,28.7 6.6,26.7C7.3,24.8 8.3,23.0 9.0,21.1C9.8,19.2 10.3,17.3 11.2,15.4C12.1,13.5 13.1,11.4 14.4,9.9C15.8,8.4 17.6,7.2 19.3,6.4C21.1,5.5 23.0,5.2 24.9,4.9C26.8,4.5 28.6,4.3 30.5,4.3C32.4,4.3 34.3,4.5 36.1,5.0C37.8,5.6 39.6,6.5 41.2,7.5C42.8,8.5 44.3,9.7 45.8,11.0C47.3,12.2 48.9,13.4 50.1,15.0C51.4,16.6 52.6,18.5 53.3,20.4C54.0,22.3 54.2,24.6 54.5,26.7C54.8,28.8 54.8,30.9 55.0,33.0Z" fill="#200000" filter="url(#b2)" opacity="0.5" />
<path d="M55.0,33.0C55.1,35.1 55.5,37.3 55.3,39.5C55.2,41.7 54.9,44.1 54.1,46.0C53.3,48.0 51.8,49.7 50.3,51.2C48.9,52.6 47.2,53.6 45.6,54.8C44.1,55.9 42.6,57.1 41.0,58.1C39.4,59.1 37.8,60.2 36.0,60.8C34.3,61.4 32.3,61.7 30.5,61.7C28.7,61.7 26.8,61.4 24.9,61.0C23.1,60.6 21.2,60.1 19.5,59.3C17.8,58.4 16.0,57.3 14.6,55.8C13.2,54.4 12.1,52.6 11.1,50.8C10.0,49.0 9.1,47.2 8.2,45.3C7.4,43.4 6.3,41.5 5.8,39.5C5.2,37.4 4.8,35.1 5.0,33.0C5.1,30.9 5.9,28.7 6.6,26.7C7.3,24.8 8.3,23.0 9.0,21.1C9.8,19.2 10.3,17.3 11.2,15.4C12.1,13.5 13.1,11.4 14.4,9.9C15.8,8.4 17.6,7.2 19.3,6.4C21.1,5.5 23.0,5.2 24.9,4.9C26.8,4.5 28.6,4.3 30.5,4.3C32.4,4.3 34.3,4.5 36.1,5.0C37.8,5.6 39.6,6.5 41.2,7.5C42.8,8.5 44.3,9.7 45.8,11.0C47.3,12.2 48.9,13.4 50.1,15.0C51.4,16.6 52.6,18.5 53.3,20.4C54.0,22.3 54.2,24.6 54.5,26.7C54.8,28.8 54.8,30.9 55.0,33.0Z" fill="#a01010" filter="url(#spk4)" />
</g>
</g></g>
<rect x="1067.5" y="40.0" width="71.5" height="72.5" fill="#000"/>
<clipPath id="q49"><rect x="0" y="0" width="71.5" height="72.5"/></clipPath>
<g transform="translate(1067.5,40.0)"><g clip-path="url(#q49)">
<path d="M64.6,32.0C64.6,33.9 64.4,35.7 63.9,37.5C63.5,39.3 62.6,41.1 61.7,42.7C60.7,44.4 59.4,45.9 58.1,47.4C56.8,48.8 55.4,50.3 53.8,51.5C52.3,52.8 50.5,54.0 48.5,54.8C46.6,55.6 44.4,56.1 42.3,56.5C40.2,56.8 38.0,56.7 35.8,56.7C33.6,56.7 31.5,56.7 29.3,56.5C27.2,56.2 24.9,55.9 22.9,55.1C20.9,54.3 19.0,53.1 17.5,51.8C15.9,50.5 14.8,48.8 13.6,47.3C12.4,45.7 11.4,44.2 10.4,42.6C9.4,40.9 8.3,39.3 7.7,37.5C7.1,35.8 6.7,33.9 6.6,32.0C6.6,30.1 6.9,28.2 7.4,26.4C7.9,24.6 8.5,22.8 9.4,21.0C10.3,19.3 11.4,17.6 12.8,16.2C14.2,14.7 15.9,13.5 17.7,12.4C19.5,11.4 21.4,10.6 23.4,9.8C25.3,9.0 27.3,8.2 29.4,7.7C31.4,7.2 33.7,6.7 35.8,6.7C37.9,6.7 40.2,7.2 42.2,7.7C44.3,8.3 46.2,9.2 48.1,10.1C50.0,10.9 51.8,11.7 53.6,12.7C55.5,13.7 57.4,14.7 58.9,16.1C60.4,17.5 61.8,19.1 62.6,20.9C63.5,22.6 63.9,24.5 64.2,26.4C64.6,28.3 64.7,30.1 64.6,32.0Z" fill="#700000" filter="url(#b2)" opacity="0.6" />
<path d="M64.6,32.0C64.6,33.9 64.4,35.7 63.9,37.5C63.5,39.3 62.6,41.1 61.7,42.7C60.7,44.4 59.4,45.9 58.1,47.4C56.8,48.8 55.4,50.3 53.8,51.5C52.3,52.8 50.5,54.0 48.5,54.8C46.6,55.6 44.4,56.1 42.3,56.5C40.2,56.8 38.0,56.7 35.8,56.7C33.6,56.7 31.5,56.7 29.3,56.5C27.2,56.2 24.9,55.9 22.9,55.1C20.9,54.3 19.0,53.1 17.5,51.8C15.9,50.5 14.8,48.8 13.6,47.3C12.4,45.7 11.4,44.2 10.4,42.6C9.4,40.9 8.3,39.3 7.7,37.5C7.1,35.8 6.7,33.9 6.6,32.0C6.6,30.1 6.9,28.2 7.4,26.4C7.9,24.6 8.5,22.8 9.4,21.0C10.3,19.3 11.4,17.6 12.8,16.2C14.2,14.7 15.9,13.5 17.7,12.4C19.5,11.4 21.4,10.6 23.4,9.8C25.3,9.0 27.3,8.2 29.4,7.7C31.4,7.2 33.7,6.7 35.8,6.7C37.9,6.7 40.2,7.2 42.2,7.7C44.3,8.3 46.2,9.2 48.1,10.1C50.0,10.9 51.8,11.7 53.6,12.7C55.5,13.7 57.4,14.7 58.9,16.1C60.4,17.5 61.8,19.1 62.6,20.9C63.5,22.6 63.9,24.5 64.2,26.4C64.6,28.3 64.7,30.1 64.6,32.0Z" fill="#e01010" filter="url(#spf2)" />
</g></g>
<rect x="1142.7" y="40.0" width="70.0" height="72.5" fill="#000"/>
<clipPath id="q50"><rect x="0" y="0" width="70.0" height="72.5"/></clipPath>
<g transform="translate(1142.7,40.0)"><g clip-path="url(#q50)">
<path d="M64.8,32.0C64.7,34.1 64.4,36.1 63.9,38.1C63.5,40.1 62.8,42.2 61.8,44.0C60.9,45.8 59.6,47.5 58.2,49.0C56.7,50.5 55.0,51.8 53.4,53.0C51.7,54.3 50.0,55.4 48.1,56.5C46.3,57.5 44.4,58.6 42.3,59.2C40.3,59.9 38.0,60.2 35.8,60.2C33.6,60.1 31.4,59.5 29.4,58.9C27.3,58.2 25.4,57.4 23.5,56.5C21.5,55.6 19.6,54.7 17.9,53.5C16.1,52.3 14.4,50.9 13.1,49.3C11.8,47.7 10.7,45.8 9.9,43.9C9.0,42.1 8.4,40.0 8.0,38.1C7.5,36.1 7.2,34.0 7.2,32.0C7.1,30.0 7.3,27.9 7.8,25.9C8.3,23.9 9.1,22.0 10.0,20.1C10.8,18.3 11.9,16.4 13.1,14.7C14.4,13.1 15.8,11.3 17.4,10.0C19.1,8.7 21.1,7.6 23.1,6.9C25.2,6.2 27.4,5.9 29.5,5.6C31.6,5.3 33.7,5.2 35.8,5.2C37.9,5.1 40.1,4.9 42.2,5.2C44.3,5.5 46.5,6.0 48.5,6.9C50.4,7.8 52.2,9.1 53.8,10.5C55.4,11.8 56.8,13.4 58.1,15.0C59.5,16.6 60.8,18.3 61.8,20.1C62.8,21.9 63.7,23.8 64.1,25.8C64.6,27.8 64.8,29.9 64.8,32.0Z" fill="#161616" filter="url(#b05)" />
<path d="M64.8,32.0C64.7,34.1 64.4,36.1 63.9,38.1C63.5,40.1 62.8,42.2 61.8,44.0C60.9,45.8 59.6,47.5 58.2,49.0C56.7,50.5 55.0,51.8 53.4,53.0C51.7,54.3 50.0,55.4 48.1,56.5C46.3,57.5 44.4,58.6 42.3,59.2C40.3,59.9 38.0,60.2 35.8,60.2C33.6,60.1 31.4,59.5 29.4,58.9C27.3,58.2 25.4,57.4 23.5,56.5C21.5,55.6 19.6,54.7 17.9,53.5C16.1,52.3 14.4,50.9 13.1,49.3C11.8,47.7 10.7,45.8 9.9,43.9C9.0,42.1 8.4,40.0 8.0,38.1C7.5,36.1 7.2,34.0 7.2,32.0C7.1,30.0 7.3,27.9 7.8,25.9C8.3,23.9 9.1,22.0 10.0,20.1C10.8,18.3 11.9,16.4 13.1,14.7C14.4,13.1 15.8,11.3 17.4,10.0C19.1,8.7 21.1,7.6 23.1,6.9C25.2,6.2 27.4,5.9 29.5,5.6C31.6,5.3 33.7,5.2 35.8,5.2C37.9,5.1 40.1,4.9 42.2,5.2C44.3,5.5 46.5,6.0 48.5,6.9C50.4,7.8 52.2,9.1 53.8,10.5C55.4,11.8 56.8,13.4 58.1,15.0C59.5,16.6 60.8,18.3 61.8,20.1C62.8,21.9 63.7,23.8 64.1,25.8C64.6,27.8 64.8,29.9 64.8,32.0Z" fill="#c0c0c0" filter="url(#nef6)" />
<ellipse cx="28.0" cy="40.0" rx="7.0" ry="6.0" transform="rotate(0 28.0 40.0)" fill="#000" opacity="0.85" filter="url(#b1)"/>
<ellipse cx="40.0" cy="24.0" rx="3.0" ry="3.0" transform="rotate(0 40.0 24.0)" fill="#000" opacity="0.85" filter="url(#b1)"/>
<ellipse cx="48.0" cy="30.0" rx="3.0" ry="3.0" transform="rotate(0 48.0 30.0)" fill="#000" opacity="0.85" filter="url(#b1)"/>
<path d="M64.8,32.0C64.7,34.1 64.4,36.1 63.9,38.1C63.5,40.1 62.8,42.2 61.8,44.0C60.9,45.8 59.6,47.5 58.2,49.0C56.7,50.5 55.0,51.8 53.4,53.0C51.7,54.3 50.0,55.4 48.1,56.5C46.3,57.5 44.4,58.6 42.3,59.2C40.3,59.9 38.0,60.2 35.8,60.2C33.6,60.1 31.4,59.5 29.4,58.9C27.3,58.2 25.4,57.4 23.5,56.5C21.5,55.6 19.6,54.7 17.9,53.5C16.1,52.3 14.4,50.9 13.1,49.3C11.8,47.7 10.7,45.8 9.9,43.9C9.0,42.1 8.4,40.0 8.0,38.1C7.5,36.1 7.2,34.0 7.2,32.0C7.1,30.0 7.3,27.9 7.8,25.9C8.3,23.9 9.1,22.0 10.0,20.1C10.8,18.3 11.9,16.4 13.1,14.7C14.4,13.1 15.8,11.3 17.4,10.0C19.1,8.7 21.1,7.6 23.1,6.9C25.2,6.2 27.4,5.9 29.5,5.6C31.6,5.3 33.7,5.2 35.8,5.2C37.9,5.1 40.1,4.9 42.2,5.2C44.3,5.5 46.5,6.0 48.5,6.9C50.4,7.8 52.2,9.1 53.8,10.5C55.4,11.8 56.8,13.4 58.1,15.0C59.5,16.6 60.8,18.3 61.8,20.1C62.8,21.9 63.7,23.8 64.1,25.8C64.6,27.8 64.8,29.9 64.8,32.0Z" fill="none" filter="url(#b05)" stroke="#cfcfcf" stroke-width="1.8" opacity="0.85"/>
</g></g>
<rect x="1218.0" y="40.0" width="70.6" height="72.5" fill="#000"/>
<clipPath id="q51"><rect x="0" y="0" width="70.6" height="72.5"/></clipPath>
<g transform="translate(1218.0,40.0)"><g clip-path="url(#q51)">
<path d="M64.8,32.0C64.7,34.1 64.4,36.1 63.9,38.1C63.5,40.1 62.8,42.2 61.8,44.0C60.9,45.8 59.6,47.5 58.2,49.0C56.7,50.5 55.0,51.8 53.4,53.0C51.7,54.3 50.0,55.4 48.1,56.5C46.3,57.5 44.4,58.6 42.3,59.2C40.3,59.9 38.0,60.2 35.8,60.2C33.6,60.1 31.4,59.5 29.4,58.9C27.3,58.2 25.4,57.4 23.5,56.5C21.5,55.6 19.6,54.7 17.9,53.5C16.1,52.3 14.4,50.9 13.1,49.3C11.8,47.7 10.7,45.8 9.9,43.9C9.0,42.1 8.4,40.0 8.0,38.1C7.5,36.1 7.2,34.0 7.2,32.0C7.1,30.0 7.3,27.9 7.8,25.9C8.3,23.9 9.1,22.0 10.0,20.1C10.8,18.3 11.9,16.4 13.1,14.7C14.4,13.1 15.8,11.3 17.4,10.0C19.1,8.7 21.1,7.6 23.1,6.9C25.2,6.2 27.4,5.9 29.5,5.6C31.6,5.3 33.7,5.2 35.8,5.2C37.9,5.1 40.1,4.9 42.2,5.2C44.3,5.5 46.5,6.0 48.5,6.9C50.4,7.8 52.2,9.1 53.8,10.5C55.4,11.8 56.8,13.4 58.1,15.0C59.5,16.6 60.8,18.3 61.8,20.1C62.8,21.9 63.7,23.8 64.1,25.8C64.6,27.8 64.8,29.9 64.8,32.0Z" fill="#141010" filter="url(#b05)" />
<path d="M64.8,32.0C64.7,34.1 64.4,36.1 63.9,38.1C63.5,40.1 62.8,42.2 61.8,44.0C60.9,45.8 59.6,47.5 58.2,49.0C56.7,50.5 55.0,51.8 53.4,53.0C51.7,54.3 50.0,55.4 48.1,56.5C46.3,57.5 44.4,58.6 42.3,59.2C40.3,59.9 38.0,60.2 35.8,60.2C33.6,60.1 31.4,59.5 29.4,58.9C27.3,58.2 25.4,57.4 23.5,56.5C21.5,55.6 19.6,54.7 17.9,53.5C16.1,52.3 14.4,50.9 13.1,49.3C11.8,47.7 10.7,45.8 9.9,43.9C9.0,42.1 8.4,40.0 8.0,38.1C7.5,36.1 7.2,34.0 7.2,32.0C7.1,30.0 7.3,27.9 7.8,25.9C8.3,23.9 9.1,22.0 10.0,20.1C10.8,18.3 11.9,16.4 13.1,14.7C14.4,13.1 15.8,11.3 17.4,10.0C19.1,8.7 21.1,7.6 23.1,6.9C25.2,6.2 27.4,5.9 29.5,5.6C31.6,5.3 33.7,5.2 35.8,5.2C37.9,5.1 40.1,4.9 42.2,5.2C44.3,5.5 46.5,6.0 48.5,6.9C50.4,7.8 52.2,9.1 53.8,10.5C55.4,11.8 56.8,13.4 58.1,15.0C59.5,16.6 60.8,18.3 61.8,20.1C62.8,21.9 63.7,23.8 64.1,25.8C64.6,27.8 64.8,29.9 64.8,32.0Z" fill="#ccc0c0" filter="url(#nef6)" />
<ellipse cx="28.0" cy="40.0" rx="7.0" ry="6.0" transform="rotate(0 28.0 40.0)" fill="#000" opacity="0.85" filter="url(#b1)"/>
<ellipse cx="40.0" cy="24.0" rx="3.0" ry="3.0" transform="rotate(0 40.0 24.0)" fill="#000" opacity="0.85" filter="url(#b1)"/>
<ellipse cx="48.0" cy="30.0" rx="3.0" ry="3.0" transform="rotate(0 48.0 30.0)" fill="#000" opacity="0.85" filter="url(#b1)"/>
<path d="M64.8,32.0C64.7,34.1 64.4,36.1 63.9,38.1C63.5,40.1 62.8,42.2 61.8,44.0C60.9,45.8 59.6,47.5 58.2,49.0C56.7,50.5 55.0,51.8 53.4,53.0C51.7,54.3 50.0,55.4 48.1,56.5C46.3,57.5 44.4,58.6 42.3,59.2C40.3,59.9 38.0,60.2 35.8,60.2C33.6,60.1 31.4,59.5 29.4,58.9C27.3,58.2 25.4,57.4 23.5,56.5C21.5,55.6 19.6,54.7 17.9,53.5C16.1,52.3 14.4,50.9 13.1,49.3C11.8,47.7 10.7,45.8 9.9,43.9C9.0,42.1 8.4,40.0 8.0,38.1C7.5,36.1 7.2,34.0 7.2,32.0C7.1,30.0 7.3,27.9 7.8,25.9C8.3,23.9 9.1,22.0 10.0,20.1C10.8,18.3 11.9,16.4 13.1,14.7C14.4,13.1 15.8,11.3 17.4,10.0C19.1,8.7 21.1,7.6 23.1,6.9C25.2,6.2 27.4,5.9 29.5,5.6C31.6,5.3 33.7,5.2 35.8,5.2C37.9,5.1 40.1,4.9 42.2,5.2C44.3,5.5 46.5,6.0 48.5,6.9C50.4,7.8 52.2,9.1 53.8,10.5C55.4,11.8 56.8,13.4 58.1,15.0C59.5,16.6 60.8,18.3 61.8,20.1C62.8,21.9 63.7,23.8 64.1,25.8C64.6,27.8 64.8,29.9 64.8,32.0Z" fill="none" filter="url(#b05)" stroke="#d8cccc" stroke-width="1.8" opacity="0.85"/>
<g style="mix-blend-mode:screen" opacity="0.65">
<path d="M64.6,32.0C64.6,33.9 64.4,35.7 63.9,37.5C63.5,39.3 62.6,41.1 61.7,42.7C60.7,44.4 59.4,45.9 58.1,47.4C56.8,48.8 55.4,50.3 53.8,51.5C52.3,52.8 50.5,54.0 48.5,54.8C46.6,55.6 44.4,56.1 42.3,56.5C40.2,56.8 38.0,56.7 35.8,56.7C33.6,56.7 31.5,56.7 29.3,56.5C27.2,56.2 24.9,55.9 22.9,55.1C20.9,54.3 19.0,53.1 17.5,51.8C15.9,50.5 14.8,48.8 13.6,47.3C12.4,45.7 11.4,44.2 10.4,42.6C9.4,40.9 8.3,39.3 7.7,37.5C7.1,35.8 6.7,33.9 6.6,32.0C6.6,30.1 6.9,28.2 7.4,26.4C7.9,24.6 8.5,22.8 9.4,21.0C10.3,19.3 11.4,17.6 12.8,16.2C14.2,14.7 15.9,13.5 17.7,12.4C19.5,11.4 21.4,10.6 23.4,9.8C25.3,9.0 27.3,8.2 29.4,7.7C31.4,7.2 33.7,6.7 35.8,6.7C37.9,6.7 40.2,7.2 42.2,7.7C44.3,8.3 46.2,9.2 48.1,10.1C50.0,10.9 51.8,11.7 53.6,12.7C55.5,13.7 57.4,14.7 58.9,16.1C60.4,17.5 61.8,19.1 62.6,20.9C63.5,22.6 63.9,24.5 64.2,26.4C64.6,28.3 64.7,30.1 64.6,32.0Z" fill="#700000" filter="url(#b2)" opacity="0.6" />
<path d="M64.6,32.0C64.6,33.9 64.4,35.7 63.9,37.5C63.5,39.3 62.6,41.1 61.7,42.7C60.7,44.4 59.4,45.9 58.1,47.4C56.8,48.8 55.4,50.3 53.8,51.5C52.3,52.8 50.5,54.0 48.5,54.8C46.6,55.6 44.4,56.1 42.3,56.5C40.2,56.8 38.0,56.7 35.8,56.7C33.6,56.7 31.5,56.7 29.3,56.5C27.2,56.2 24.9,55.9 22.9,55.1C20.9,54.3 19.0,53.1 17.5,51.8C15.9,50.5 14.8,48.8 13.6,47.3C12.4,45.7 11.4,44.2 10.4,42.6C9.4,40.9 8.3,39.3 7.7,37.5C7.1,35.8 6.7,33.9 6.6,32.0C6.6,30.1 6.9,28.2 7.4,26.4C7.9,24.6 8.5,22.8 9.4,21.0C10.3,19.3 11.4,17.6 12.8,16.2C14.2,14.7 15.9,13.5 17.7,12.4C19.5,11.4 21.4,10.6 23.4,9.8C25.3,9.0 27.3,8.2 29.4,7.7C31.4,7.2 33.7,6.7 35.8,6.7C37.9,6.7 40.2,7.2 42.2,7.7C44.3,8.3 46.2,9.2 48.1,10.1C50.0,10.9 51.8,11.7 53.6,12.7C55.5,13.7 57.4,14.7 58.9,16.1C60.4,17.5 61.8,19.1 62.6,20.9C63.5,22.6 63.9,24.5 64.2,26.4C64.6,28.3 64.7,30.1 64.6,32.0Z" fill="#e01010" filter="url(#spf2)" />
</g>
</g></g>
<rect x="840.5" y="119.5" width="70.5" height="72.5" fill="#000"/>
<clipPath id="q52"><rect x="0" y="0" width="70.5" height="72.5"/></clipPath>
<g transform="translate(840.5,119.5)"><g clip-path="url(#q52)">
<ellipse cx="66.0" cy="50.0" rx="3.0" ry="14.0" transform="rotate(20 66.0 50.0)" fill="#b01010" filter="url(#b1)"/>
</g></g>
<rect x="914.5" y="119.5" width="71.0" height="72.5" fill="#000"/>
<clipPath id="q53"><rect x="0" y="0" width="71.0" height="72.5"/></clipPath>
<g transform="translate(914.5,119.5)"><g clip-path="url(#q53)">
<g filter="url(#b05)" opacity="1">
<circle cx="17.0" cy="19.7" r="3.5" fill="#bdbdbd"/>
<circle cx="19.4" cy="21.5" r="4.5" fill="#bdbdbd"/>
<circle cx="23.2" cy="21.3" r="4.7" fill="#bdbdbd"/>
<circle cx="26.1" cy="21.2" r="4.6" fill="#bdbdbd"/>
<circle cx="19.5" cy="26.4" r="4.7" fill="#bdbdbd"/>
<circle cx="22.7" cy="26.9" r="4.9" fill="#bdbdbd"/>
<circle cx="27.5" cy="24.7" r="4.5" fill="#bdbdbd"/>
<circle cx="20.6" cy="32.1" r="4.6" fill="#bdbdbd"/>
<circle cx="21.9" cy="32.9" r="3.7" fill="#bdbdbd"/>
<circle cx="21.5" cy="34.1" r="4.6" fill="#bdbdbd"/>
<circle cx="27.8" cy="34.1" r="3.6" fill="#bdbdbd"/>
<circle cx="31.5" cy="33.2" r="3.9" fill="#bdbdbd"/>
<circle cx="33.6" cy="34.4" r="4.7" fill="#bdbdbd"/>
<circle cx="35.1" cy="34.5" r="4.3" fill="#bdbdbd"/>
<circle cx="33.8" cy="37.6" r="4.6" fill="#bdbdbd"/>
<circle cx="28.5" cy="43.7" r="5.0" fill="#bdbdbd"/>
<circle cx="32.1" cy="42.5" r="4.0" fill="#bdbdbd"/>
<circle cx="35.7" cy="42.5" r="4.0" fill="#bdbdbd"/>
<circle cx="32.5" cy="47.0" r="5.0" fill="#bdbdbd"/>
<circle cx="40.5" cy="46.1" r="3.9" fill="#bdbdbd"/>
<circle cx="32.3" cy="52.7" r="4.3" fill="#bdbdbd"/>
<circle cx="41.2" cy="47.4" r="3.5" fill="#bdbdbd"/>
<circle cx="35.6" cy="54.9" r="4.4" fill="#bdbdbd"/>
<circle cx="40.5" cy="53.2" r="4.3" fill="#bdbdbd"/>
<circle cx="36.8" cy="55.8" r="4.4" fill="#bdbdbd"/>
<circle cx="44.5" cy="54.9" r="3.6" fill="#bdbdbd"/>
</g>
<ellipse cx="8.0" cy="52.0" rx="2.0" ry="3.0" transform="rotate(0 8.0 52.0)" fill="#555"/>
<ellipse cx="64.0" cy="45.0" rx="2.0" ry="5.0" transform="rotate(20 64.0 45.0)" fill="#888"/>
</g></g>
<rect x="989.0" y="119.5" width="70.0" height="72.5" fill="#000"/>
<clipPath id="q54"><rect x="0" y="0" width="70.0" height="72.5"/></clipPath>
<g transform="translate(989.0,119.5)"><g clip-path="url(#q54)">
<g filter="url(#b05)" opacity="1">
<circle cx="17.0" cy="19.7" r="3.5" fill="#c4bcbc"/>
<circle cx="19.4" cy="21.5" r="4.5" fill="#c4bcbc"/>
<circle cx="23.2" cy="21.3" r="4.7" fill="#c4bcbc"/>
<circle cx="26.1" cy="21.2" r="4.6" fill="#c4bcbc"/>
<circle cx="19.5" cy="26.4" r="4.7" fill="#c4bcbc"/>
<circle cx="22.7" cy="26.9" r="4.9" fill="#c4bcbc"/>
<circle cx="27.5" cy="24.7" r="4.5" fill="#c4bcbc"/>
<circle cx="20.6" cy="32.1" r="4.6" fill="#c4bcbc"/>
<circle cx="21.9" cy="32.9" r="3.7" fill="#c4bcbc"/>
<circle cx="21.5" cy="34.1" r="4.6" fill="#c4bcbc"/>
<circle cx="27.8" cy="34.1" r="3.6" fill="#c4bcbc"/>
<circle cx="31.5" cy="33.2" r="3.9" fill="#c4bcbc"/>
<circle cx="33.6" cy="34.4" r="4.7" fill="#c4bcbc"/>
<circle cx="35.1" cy="34.5" r="4.3" fill="#c4bcbc"/>
<circle cx="33.8" cy="37.6" r="4.6" fill="#c4bcbc"/>
<circle cx="28.5" cy="43.7" r="5.0" fill="#c4bcbc"/>
<circle cx="32.1" cy="42.5" r="4.0" fill="#c4bcbc"/>
<circle cx="35.7" cy="42.5" r="4.0" fill="#c4bcbc"/>
<circle cx="32.5" cy="47.0" r="5.0" fill="#c4bcbc"/>
<circle cx="40.5" cy="46.1" r="3.9" fill="#c4bcbc"/>
<circle cx="32.3" cy="52.7" r="4.3" fill="#c4bcbc"/>
<circle cx="41.2" cy="47.4" r="3.5" fill="#c4bcbc"/>
<circle cx="35.6" cy="54.9" r="4.4" fill="#c4bcbc"/>
<circle cx="40.5" cy="53.2" r="4.3" fill="#c4bcbc"/>
<circle cx="36.8" cy="55.8" r="4.4" fill="#c4bcbc"/>
<circle cx="44.5" cy="54.9" r="3.6" fill="#c4bcbc"/>
</g>
<ellipse cx="8.0" cy="52.0" rx="2.0" ry="3.0" transform="rotate(0 8.0 52.0)" fill="#555"/>
<ellipse cx="64.0" cy="45.0" rx="2.0" ry="5.0" transform="rotate(20 64.0 45.0)" fill="#888"/>
<ellipse cx="66.0" cy="50.0" rx="3.0" ry="12.0" transform="rotate(20 66.0 50.0)" fill="#b01010" filter="url(#b1)"/>
<g style="mix-blend-mode:screen" opacity="0.65">
<ellipse cx="66.0" cy="50.0" rx="3.0" ry="14.0" transform="rotate(20 66.0 50.0)" fill="#b01010" filter="url(#b1)"/>
</g>
</g></g>
<rect x="1067.5" y="119.5" width="71.5" height="72.5" fill="#000"/>
<clipPath id="q55"><rect x="0" y="0" width="71.5" height="72.5"/></clipPath>
<g transform="translate(1067.5,119.5)"><g clip-path="url(#q55)">
<path d="M64.3,36.0C64.5,38.4 65.0,40.8 64.8,43.3C64.6,45.7 64.3,48.4 63.3,50.5C62.3,52.7 60.5,54.6 58.8,56.3C57.1,57.9 55.0,59.0 53.1,60.3C51.3,61.5 49.5,62.8 47.6,64.0C45.7,65.1 43.7,66.3 41.6,67.0C39.5,67.7 37.2,67.9 35.0,68.0C32.8,68.0 30.5,67.6 28.3,67.2C26.1,66.7 23.8,66.2 21.8,65.3C19.7,64.3 17.6,63.0 16.0,61.5C14.3,59.9 12.9,57.8 11.7,55.8C10.4,53.9 9.4,51.8 8.3,49.7C7.2,47.6 6.0,45.5 5.3,43.2C4.6,40.9 4.2,38.4 4.3,36.0C4.5,33.6 5.5,31.2 6.3,29.0C7.1,26.8 8.3,24.9 9.3,22.8C10.2,20.7 10.8,18.4 11.9,16.3C13.0,14.3 14.1,11.9 15.7,10.2C17.3,8.5 19.5,7.2 21.6,6.3C23.7,5.4 26.1,5.0 28.3,4.6C30.5,4.2 32.8,3.9 35.0,4.0C37.2,4.0 39.5,4.2 41.7,4.8C43.8,5.4 45.9,6.5 47.8,7.6C49.8,8.7 51.6,10.0 53.4,11.4C55.2,12.8 57.1,14.2 58.6,15.9C60.1,17.7 61.5,19.8 62.3,22.0C63.2,24.1 63.5,26.6 63.8,29.0C64.1,31.3 64.2,33.6 64.3,36.0Z" fill="#500000" filter="url(#spk5)" />
</g></g>
<rect x="1142.7" y="119.5" width="70.0" height="72.5" fill="#000"/>
<clipPath id="q56"><rect x="0" y="0" width="70.0" height="72.5"/></clipPath>
<g transform="translate(1142.7,119.5)"><g clip-path="url(#q56)">
<ellipse cx="34.0" cy="36.0" rx="26.0" ry="32.0" transform="rotate(30 34.0 36.0)" fill="#333" opacity="0.6" filter="url(#b5)"/>
<g filter="url(#b1)">
<path d="M43.8,40.3C43.2,41.6 42.5,43.1 41.6,44.3C40.8,45.5 39.7,46.6 38.8,47.5C37.8,48.4 36.7,49.0 35.7,49.5C34.7,50.0 33.7,50.2 32.8,50.5C31.9,50.8 31.1,51.0 30.3,51.2C29.5,51.5 28.6,51.8 27.8,52.0C27.0,52.3 26.1,52.6 25.3,52.7C24.5,52.7 23.7,52.7 23.1,52.4C22.4,52.1 21.9,51.6 21.4,51.0C21.0,50.3 20.7,49.5 20.4,48.7C20.2,47.9 20.0,47.0 19.9,46.0C19.7,45.1 19.5,44.2 19.5,43.2C19.4,42.2 19.3,41.1 19.5,39.9C19.6,38.8 19.8,37.5 20.2,36.2C20.6,35.0 21.3,33.6 21.9,32.4C22.5,31.2 23.4,30.0 24.1,28.9C24.9,27.8 25.7,26.7 26.5,25.7C27.2,24.6 28.0,23.5 28.8,22.5C29.6,21.4 30.4,20.2 31.3,19.1C32.3,18.1 33.3,17.0 34.2,16.2C35.2,15.5 36.3,14.8 37.2,14.5C38.2,14.3 39.1,14.3 39.8,14.5C40.6,14.7 41.2,15.2 41.8,15.7C42.4,16.1 42.9,16.7 43.3,17.3C43.8,17.8 44.3,18.3 44.7,18.8C45.2,19.3 45.7,19.8 46.0,20.5C46.4,21.1 46.7,21.9 46.9,22.8C47.1,23.6 47.1,24.6 47.1,25.7C47.1,26.7 46.9,27.8 46.7,29.0C46.6,30.1 46.3,31.3 46.1,32.5C45.8,33.7 45.6,34.9 45.2,36.2C44.8,37.5 44.4,38.9 43.8,40.3Z" fill="#b0b0b0" filter="url(#lump2)" />
</g>
<g filter="url(#b1)" opacity="1">
<circle cx="47.0" cy="16.7" r="4.6" fill="#b0b0b0"/>
<circle cx="44.6" cy="17.5" r="4.4" fill="#b0b0b0"/>
<circle cx="48.5" cy="20.0" r="5.8" fill="#b0b0b0"/>
<circle cx="38.1" cy="19.1" r="4.5" fill="#b0b0b0"/>
<circle cx="35.6" cy="18.4" r="5.6" fill="#b0b0b0"/>
<circle cx="32.3" cy="16.8" r="5.6" fill="#b0b0b0"/>
<circle cx="32.8" cy="21.1" r="4.1" fill="#b0b0b0"/>
<circle cx="35.9" cy="23.3" r="4.7" fill="#b0b0b0"/>
<circle cx="33.8" cy="25.8" r="5.8" fill="#b0b0b0"/>
<circle cx="38.3" cy="28.9" r="5.9" fill="#b0b0b0"/>
<circle cx="44.2" cy="35.2" r="4.2" fill="#b0b0b0"/>
<circle cx="39.8" cy="34.9" r="4.8" fill="#b0b0b0"/>
<circle cx="42.2" cy="38.2" r="4.2" fill="#b0b0b0"/>
<circle cx="30.2" cy="35.0" r="5.2" fill="#b0b0b0"/>
<circle cx="26.1" cy="32.8" r="5.2" fill="#b0b0b0"/>
<circle cx="38.4" cy="43.5" r="4.8" fill="#b0b0b0"/>
<circle cx="30.7" cy="41.5" r="5.8" fill="#b0b0b0"/>
<circle cx="23.0" cy="37.2" r="5.4" fill="#b0b0b0"/>
<circle cx="36.9" cy="46.3" r="4.3" fill="#b0b0b0"/>
<circle cx="21.2" cy="39.9" r="5.1" fill="#b0b0b0"/>
<circle cx="21.2" cy="42.7" r="4.0" fill="#b0b0b0"/>
<circle cx="31.9" cy="51.7" r="5.4" fill="#b0b0b0"/>
<circle cx="27.1" cy="50.5" r="5.8" fill="#b0b0b0"/>
<circle cx="25.1" cy="50.2" r="5.6" fill="#b0b0b0"/>
<circle cx="19.4" cy="50.8" r="5.6" fill="#b0b0b0"/>
<circle cx="25.0" cy="53.8" r="4.6" fill="#b0b0b0"/>
</g>
</g></g>
<rect x="1218.0" y="119.5" width="70.6" height="72.5" fill="#000"/>
<clipPath id="q57"><rect x="0" y="0" width="70.6" height="72.5"/></clipPath>
<g transform="translate(1218.0,119.5)"><g clip-path="url(#q57)">
<ellipse cx="34.0" cy="36.0" rx="26.0" ry="32.0" transform="rotate(30 34.0 36.0)" fill="#3a2828" opacity="0.6" filter="url(#b5)"/>
<g filter="url(#b1)">
<path d="M43.8,40.3C43.2,41.6 42.5,43.1 41.6,44.3C40.8,45.5 39.7,46.6 38.8,47.5C37.8,48.4 36.7,49.0 35.7,49.5C34.7,50.0 33.7,50.2 32.8,50.5C31.9,50.8 31.1,51.0 30.3,51.2C29.5,51.5 28.6,51.8 27.8,52.0C27.0,52.3 26.1,52.6 25.3,52.7C24.5,52.7 23.7,52.7 23.1,52.4C22.4,52.1 21.9,51.6 21.4,51.0C21.0,50.3 20.7,49.5 20.4,48.7C20.2,47.9 20.0,47.0 19.9,46.0C19.7,45.1 19.5,44.2 19.5,43.2C19.4,42.2 19.3,41.1 19.5,39.9C19.6,38.8 19.8,37.5 20.2,36.2C20.6,35.0 21.3,33.6 21.9,32.4C22.5,31.2 23.4,30.0 24.1,28.9C24.9,27.8 25.7,26.7 26.5,25.7C27.2,24.6 28.0,23.5 28.8,22.5C29.6,21.4 30.4,20.2 31.3,19.1C32.3,18.1 33.3,17.0 34.2,16.2C35.2,15.5 36.3,14.8 37.2,14.5C38.2,14.3 39.1,14.3 39.8,14.5C40.6,14.7 41.2,15.2 41.8,15.7C42.4,16.1 42.9,16.7 43.3,17.3C43.8,17.8 44.3,18.3 44.7,18.8C45.2,19.3 45.7,19.8 46.0,20.5C46.4,21.1 46.7,21.9 46.9,22.8C47.1,23.6 47.1,24.6 47.1,25.7C47.1,26.7 46.9,27.8 46.7,29.0C46.6,30.1 46.3,31.3 46.1,32.5C45.8,33.7 45.6,34.9 45.2,36.2C44.8,37.5 44.4,38.9 43.8,40.3Z" fill="#b8b0b0" filter="url(#lump2)" />
</g>
<g filter="url(#b1)" opacity="1">
<circle cx="47.0" cy="16.7" r="4.6" fill="#b8b0b0"/>
<circle cx="44.6" cy="17.5" r="4.4" fill="#b8b0b0"/>
<circle cx="48.5" cy="20.0" r="5.8" fill="#b8b0b0"/>
<circle cx="38.1" cy="19.1" r="4.5" fill="#b8b0b0"/>
<circle cx="35.6" cy="18.4" r="5.6" fill="#b8b0b0"/>
<circle cx="32.3" cy="16.8" r="5.6" fill="#b8b0b0"/>
<circle cx="32.8" cy="21.1" r="4.1" fill="#b8b0b0"/>
<circle cx="35.9" cy="23.3" r="4.7" fill="#b8b0b0"/>
<circle cx="33.8" cy="25.8" r="5.8" fill="#b8b0b0"/>
<circle cx="38.3" cy="28.9" r="5.9" fill="#b8b0b0"/>
<circle cx="44.2" cy="35.2" r="4.2" fill="#b8b0b0"/>
<circle cx="39.8" cy="34.9" r="4.8" fill="#b8b0b0"/>
<circle cx="42.2" cy="38.2" r="4.2" fill="#b8b0b0"/>
<circle cx="30.2" cy="35.0" r="5.2" fill="#b8b0b0"/>
<circle cx="26.1" cy="32.8" r="5.2" fill="#b8b0b0"/>
<circle cx="38.4" cy="43.5" r="4.8" fill="#b8b0b0"/>
<circle cx="30.7" cy="41.5" r="5.8" fill="#b8b0b0"/>
<circle cx="23.0" cy="37.2" r="5.4" fill="#b8b0b0"/>
<circle cx="36.9" cy="46.3" r="4.3" fill="#b8b0b0"/>
<circle cx="21.2" cy="39.9" r="5.1" fill="#b8b0b0"/>
<circle cx="21.2" cy="42.7" r="4.0" fill="#b8b0b0"/>
<circle cx="31.9" cy="51.7" r="5.4" fill="#b8b0b0"/>
<circle cx="27.1" cy="50.5" r="5.8" fill="#b8b0b0"/>
<circle cx="25.1" cy="50.2" r="5.6" fill="#b8b0b0"/>
<circle cx="19.4" cy="50.8" r="5.6" fill="#b8b0b0"/>
<circle cx="25.0" cy="53.8" r="4.6" fill="#b8b0b0"/>
</g>
<g style="mix-blend-mode:screen" opacity="0.65">
<path d="M64.3,36.0C64.5,38.4 65.0,40.8 64.8,43.3C64.6,45.7 64.3,48.4 63.3,50.5C62.3,52.7 60.5,54.6 58.8,56.3C57.1,57.9 55.0,59.0 53.1,60.3C51.3,61.5 49.5,62.8 47.6,64.0C45.7,65.1 43.7,66.3 41.6,67.0C39.5,67.7 37.2,67.9 35.0,68.0C32.8,68.0 30.5,67.6 28.3,67.2C26.1,66.7 23.8,66.2 21.8,65.3C19.7,64.3 17.6,63.0 16.0,61.5C14.3,59.9 12.9,57.8 11.7,55.8C10.4,53.9 9.4,51.8 8.3,49.7C7.2,47.6 6.0,45.5 5.3,43.2C4.6,40.9 4.2,38.4 4.3,36.0C4.5,33.6 5.5,31.2 6.3,29.0C7.1,26.8 8.3,24.9 9.3,22.8C10.2,20.7 10.8,18.4 11.9,16.3C13.0,14.3 14.1,11.9 15.7,10.2C17.3,8.5 19.5,7.2 21.6,6.3C23.7,5.4 26.1,5.0 28.3,4.6C30.5,4.2 32.8,3.9 35.0,4.0C37.2,4.0 39.5,4.2 41.7,4.8C43.8,5.4 45.9,6.5 47.8,7.6C49.8,8.7 51.6,10.0 53.4,11.4C55.2,12.8 57.1,14.2 58.6,15.9C60.1,17.7 61.5,19.8 62.3,22.0C63.2,24.1 63.5,26.6 63.8,29.0C64.1,31.3 64.2,33.6 64.3,36.0Z" fill="#500000" filter="url(#spk5)" />
</g>
</g></g>
<rect x="840.5" y="197.0" width="70.5" height="72.5" fill="#000"/>
<clipPath id="q58"><rect x="0" y="0" width="70.5" height="72.5"/></clipPath>
<g transform="translate(840.5,197.0)"><g clip-path="url(#q58)">
<path d="M64.3,36.0C64.5,38.4 65.0,40.8 64.8,43.3C64.6,45.7 64.3,48.4 63.3,50.5C62.3,52.7 60.5,54.6 58.8,56.3C57.1,57.9 55.0,59.0 53.1,60.3C51.3,61.5 49.5,62.8 47.6,64.0C45.7,65.1 43.7,66.3 41.6,67.0C39.5,67.7 37.2,67.9 35.0,68.0C32.8,68.0 30.5,67.6 28.3,67.2C26.1,66.7 23.8,66.2 21.8,65.3C19.7,64.3 17.6,63.0 16.0,61.5C14.3,59.9 12.9,57.8 11.7,55.8C10.4,53.9 9.4,51.8 8.3,49.7C7.2,47.6 6.0,45.5 5.3,43.2C4.6,40.9 4.2,38.4 4.3,36.0C4.5,33.6 5.5,31.2 6.3,29.0C7.1,26.8 8.3,24.9 9.3,22.8C10.2,20.7 10.8,18.4 11.9,16.3C13.0,14.3 14.1,11.9 15.7,10.2C17.3,8.5 19.5,7.2 21.6,6.3C23.7,5.4 26.1,5.0 28.3,4.6C30.5,4.2 32.8,3.9 35.0,4.0C37.2,4.0 39.5,4.2 41.7,4.8C43.8,5.4 45.9,6.5 47.8,7.6C49.8,8.7 51.6,10.0 53.4,11.4C55.2,12.8 57.1,14.2 58.6,15.9C60.1,17.7 61.5,19.8 62.3,22.0C63.2,24.1 63.5,26.6 63.8,29.0C64.1,31.3 64.2,33.6 64.3,36.0Z" fill="#701010" filter="url(#spk6)" />
</g></g>
<rect x="914.5" y="197.0" width="71.0" height="72.5" fill="#000"/>
<clipPath id="q59"><rect x="0" y="0" width="71.0" height="72.5"/></clipPath>
<g transform="translate(914.5,197.0)"><g clip-path="url(#q59)">
<path d="M23.0,38.8C23.0,40.0 22.9,41.3 22.7,42.4C22.5,43.5 22.3,44.5 22.1,45.4C21.9,46.4 21.7,47.2 21.5,48.2C21.3,49.1 21.1,50.1 20.9,51.0C20.7,52.0 20.5,53.1 20.3,53.9C20.0,54.8 19.7,55.6 19.4,56.2C19.1,56.7 18.7,57.0 18.3,57.1C17.9,57.2 17.6,57.0 17.2,56.9C16.8,56.7 16.5,56.4 16.1,56.2C15.8,56.0 15.4,55.8 15.1,55.5C14.7,55.2 14.3,55.0 14.0,54.5C13.7,54.0 13.3,53.3 13.0,52.4C12.8,51.5 12.6,50.4 12.4,49.2C12.3,48.1 12.3,46.7 12.3,45.5C12.3,44.3 12.3,43.1 12.3,42.0C12.3,40.9 12.3,39.9 12.3,38.8C12.3,37.7 12.2,36.7 12.2,35.5C12.1,34.4 12.1,33.1 12.1,31.9C12.1,30.7 12.2,29.4 12.4,28.3C12.6,27.2 12.8,26.2 13.1,25.4C13.4,24.7 13.8,24.1 14.1,23.5C14.4,23.0 14.8,22.6 15.1,22.2C15.4,21.7 15.8,21.2 16.1,20.9C16.5,20.5 16.8,20.1 17.2,19.9C17.6,19.8 18.0,19.8 18.3,20.1C18.7,20.4 19.1,21.0 19.4,21.8C19.7,22.5 19.9,23.5 20.1,24.4C20.4,25.3 20.6,26.2 20.8,27.1C21.0,27.9 21.2,28.7 21.5,29.5C21.7,30.3 22.0,31.1 22.2,32.0C22.4,32.9 22.7,34.0 22.8,35.1C23.0,36.3 23.0,37.6 23.0,38.8Z" fill="#bdbdbd" filter="url(#lump3)" />
<path d="M62.6,33.9C62.5,35.2 62.2,36.5 62.0,37.6C61.8,38.7 61.5,39.7 61.3,40.7C61.1,41.6 60.9,42.5 60.8,43.5C60.6,44.5 60.5,45.6 60.3,46.5C60.1,47.5 59.9,48.6 59.6,49.5C59.4,50.3 59.0,51.0 58.7,51.5C58.4,51.9 58.0,52.1 57.7,52.2C57.3,52.4 56.9,52.2 56.6,52.2C56.3,52.1 55.9,52.0 55.6,51.9C55.2,51.8 54.8,51.8 54.5,51.5C54.1,51.3 53.7,51.0 53.4,50.4C53.1,49.9 52.7,49.0 52.5,48.1C52.2,47.1 52.1,45.9 51.9,44.7C51.8,43.5 51.7,42.2 51.6,41.0C51.6,39.8 51.5,38.6 51.4,37.4C51.4,36.3 51.2,35.1 51.1,33.9C51.1,32.7 50.9,31.3 50.9,30.0C50.9,28.7 50.9,27.2 51.0,25.9C51.2,24.7 51.4,23.5 51.7,22.5C51.9,21.6 52.3,20.9 52.7,20.3C53.0,19.7 53.4,19.4 53.7,19.0C54.1,18.6 54.4,18.3 54.7,17.9C55.0,17.5 55.3,17.1 55.6,16.7C55.9,16.3 56.3,15.9 56.6,15.7C56.9,15.5 57.3,15.5 57.6,15.7C58.0,15.9 58.3,16.4 58.6,16.9C59.0,17.3 59.2,18.0 59.5,18.7C59.8,19.3 60.1,19.9 60.4,20.6C60.8,21.3 61.1,22.0 61.4,22.8C61.7,23.7 62.0,24.7 62.3,25.8C62.5,26.9 62.7,28.3 62.7,29.7C62.8,31.0 62.7,32.6 62.6,33.9Z" fill="#bdbdbd" filter="url(#lump4)" />
<g filter="url(#b05)" opacity="1">
<circle cx="17.0" cy="23.0" r="3.4" fill="#bdbdbd"/>
<circle cx="17.8" cy="25.2" r="4.1" fill="#bdbdbd"/>
<circle cx="17.7" cy="30.9" r="4.2" fill="#bdbdbd"/>
<circle cx="16.2" cy="33.5" r="4.1" fill="#bdbdbd"/>
<circle cx="15.5" cy="40.2" r="3.3" fill="#bdbdbd"/>
<circle cx="15.3" cy="42.4" r="4.2" fill="#bdbdbd"/>
<circle cx="15.5" cy="48.7" r="3.6" fill="#bdbdbd"/>
<circle cx="17.1" cy="52.5" r="3.4" fill="#bdbdbd"/>
<circle cx="16.1" cy="56.0" r="4.1" fill="#bdbdbd"/>
</g>
<g filter="url(#b05)" opacity="1">
<circle cx="57.1" cy="16.0" r="3.7" fill="#bdbdbd"/>
<circle cx="54.9" cy="21.3" r="4.0" fill="#bdbdbd"/>
<circle cx="54.6" cy="25.3" r="3.7" fill="#bdbdbd"/>
<circle cx="56.4" cy="28.8" r="4.0" fill="#bdbdbd"/>
<circle cx="57.9" cy="35.0" r="4.2" fill="#bdbdbd"/>
<circle cx="57.7" cy="39.0" r="3.3" fill="#bdbdbd"/>
<circle cx="58.9" cy="44.2" r="3.9" fill="#bdbdbd"/>
<circle cx="56.7" cy="48.2" r="3.9" fill="#bdbdbd"/>
<circle cx="55.8" cy="51.3" r="3.4" fill="#bdbdbd"/>
</g>
</g></g>
<rect x="989.0" y="197.0" width="70.0" height="72.5" fill="#000"/>
<clipPath id="q60"><rect x="0" y="0" width="70.0" height="72.5"/></clipPath>
<g transform="translate(989.0,197.0)"><g clip-path="url(#q60)">
<path d="M23.0,38.8C23.0,40.0 22.9,41.3 22.7,42.4C22.5,43.5 22.3,44.5 22.1,45.4C21.9,46.4 21.7,47.2 21.5,48.2C21.3,49.1 21.1,50.1 20.9,51.0C20.7,52.0 20.5,53.1 20.3,53.9C20.0,54.8 19.7,55.6 19.4,56.2C19.1,56.7 18.7,57.0 18.3,57.1C17.9,57.2 17.6,57.0 17.2,56.9C16.8,56.7 16.5,56.4 16.1,56.2C15.8,56.0 15.4,55.8 15.1,55.5C14.7,55.2 14.3,55.0 14.0,54.5C13.7,54.0 13.3,53.3 13.0,52.4C12.8,51.5 12.6,50.4 12.4,49.2C12.3,48.1 12.3,46.7 12.3,45.5C12.3,44.3 12.3,43.1 12.3,42.0C12.3,40.9 12.3,39.9 12.3,38.8C12.3,37.7 12.2,36.7 12.2,35.5C12.1,34.4 12.1,33.1 12.1,31.9C12.1,30.7 12.2,29.4 12.4,28.3C12.6,27.2 12.8,26.2 13.1,25.4C13.4,24.7 13.8,24.1 14.1,23.5C14.4,23.0 14.8,22.6 15.1,22.2C15.4,21.7 15.8,21.2 16.1,20.9C16.5,20.5 16.8,20.1 17.2,19.9C17.6,19.8 18.0,19.8 18.3,20.1C18.7,20.4 19.1,21.0 19.4,21.8C19.7,22.5 19.9,23.5 20.1,24.4C20.4,25.3 20.6,26.2 20.8,27.1C21.0,27.9 21.2,28.7 21.5,29.5C21.7,30.3 22.0,31.1 22.2,32.0C22.4,32.9 22.7,34.0 22.8,35.1C23.0,36.3 23.0,37.6 23.0,38.8Z" fill="#c4b8b8" filter="url(#lump3)" />
<path d="M62.6,33.9C62.5,35.2 62.2,36.5 62.0,37.6C61.8,38.7 61.5,39.7 61.3,40.7C61.1,41.6 60.9,42.5 60.8,43.5C60.6,44.5 60.5,45.6 60.3,46.5C60.1,47.5 59.9,48.6 59.6,49.5C59.4,50.3 59.0,51.0 58.7,51.5C58.4,51.9 58.0,52.1 57.7,52.2C57.3,52.4 56.9,52.2 56.6,52.2C56.3,52.1 55.9,52.0 55.6,51.9C55.2,51.8 54.8,51.8 54.5,51.5C54.1,51.3 53.7,51.0 53.4,50.4C53.1,49.9 52.7,49.0 52.5,48.1C52.2,47.1 52.1,45.9 51.9,44.7C51.8,43.5 51.7,42.2 51.6,41.0C51.6,39.8 51.5,38.6 51.4,37.4C51.4,36.3 51.2,35.1 51.1,33.9C51.1,32.7 50.9,31.3 50.9,30.0C50.9,28.7 50.9,27.2 51.0,25.9C51.2,24.7 51.4,23.5 51.7,22.5C51.9,21.6 52.3,20.9 52.7,20.3C53.0,19.7 53.4,19.4 53.7,19.0C54.1,18.6 54.4,18.3 54.7,17.9C55.0,17.5 55.3,17.1 55.6,16.7C55.9,16.3 56.3,15.9 56.6,15.7C56.9,15.5 57.3,15.5 57.6,15.7C58.0,15.9 58.3,16.4 58.6,16.9C59.0,17.3 59.2,18.0 59.5,18.7C59.8,19.3 60.1,19.9 60.4,20.6C60.8,21.3 61.1,22.0 61.4,22.8C61.7,23.7 62.0,24.7 62.3,25.8C62.5,26.9 62.7,28.3 62.7,29.7C62.8,31.0 62.7,32.6 62.6,33.9Z" fill="#c4b8b8" filter="url(#lump4)" />
<g filter="url(#b05)" opacity="1">
<circle cx="17.0" cy="23.0" r="3.4" fill="#c4b8b8"/>
<circle cx="17.8" cy="25.2" r="4.1" fill="#c4b8b8"/>
<circle cx="17.7" cy="30.9" r="4.2" fill="#c4b8b8"/>
<circle cx="16.2" cy="33.5" r="4.1" fill="#c4b8b8"/>
<circle cx="15.5" cy="40.2" r="3.3" fill="#c4b8b8"/>
<circle cx="15.3" cy="42.4" r="4.2" fill="#c4b8b8"/>
<circle cx="15.5" cy="48.7" r="3.6" fill="#c4b8b8"/>
<circle cx="17.1" cy="52.5" r="3.4" fill="#c4b8b8"/>
<circle cx="16.1" cy="56.0" r="4.1" fill="#c4b8b8"/>
</g>
<g filter="url(#b05)" opacity="1">
<circle cx="57.1" cy="16.0" r="3.7" fill="#c4b8b8"/>
<circle cx="54.9" cy="21.3" r="4.0" fill="#c4b8b8"/>
<circle cx="54.6" cy="25.3" r="3.7" fill="#c4b8b8"/>
<circle cx="56.4" cy="28.8" r="4.0" fill="#c4b8b8"/>
<circle cx="57.9" cy="35.0" r="4.2" fill="#c4b8b8"/>
<circle cx="57.7" cy="39.0" r="3.3" fill="#c4b8b8"/>
<circle cx="58.9" cy="44.2" r="3.9" fill="#c4b8b8"/>
<circle cx="56.7" cy="48.2" r="3.9" fill="#c4b8b8"/>
<circle cx="55.8" cy="51.3" r="3.4" fill="#c4b8b8"/>
</g>
<g style="mix-blend-mode:screen" opacity="0.65">
<path d="M64.3,36.0C64.5,38.4 65.0,40.8 64.8,43.3C64.6,45.7 64.3,48.4 63.3,50.5C62.3,52.7 60.5,54.6 58.8,56.3C57.1,57.9 55.0,59.0 53.1,60.3C51.3,61.5 49.5,62.8 47.6,64.0C45.7,65.1 43.7,66.3 41.6,67.0C39.5,67.7 37.2,67.9 35.0,68.0C32.8,68.0 30.5,67.6 28.3,67.2C26.1,66.7 23.8,66.2 21.8,65.3C19.7,64.3 17.6,63.0 16.0,61.5C14.3,59.9 12.9,57.8 11.7,55.8C10.4,53.9 9.4,51.8 8.3,49.7C7.2,47.6 6.0,45.5 5.3,43.2C4.6,40.9 4.2,38.4 4.3,36.0C4.5,33.6 5.5,31.2 6.3,29.0C7.1,26.8 8.3,24.9 9.3,22.8C10.2,20.7 10.8,18.4 11.9,16.3C13.0,14.3 14.1,11.9 15.7,10.2C17.3,8.5 19.5,7.2 21.6,6.3C23.7,5.4 26.1,5.0 28.3,4.6C30.5,4.2 32.8,3.9 35.0,4.0C37.2,4.0 39.5,4.2 41.7,4.8C43.8,5.4 45.9,6.5 47.8,7.6C49.8,8.7 51.6,10.0 53.4,11.4C55.2,12.8 57.1,14.2 58.6,15.9C60.1,17.7 61.5,19.8 62.3,22.0C63.2,24.1 63.5,26.6 63.8,29.0C64.1,31.3 64.2,33.6 64.3,36.0Z" fill="#701010" filter="url(#spk6)" />
</g>
</g></g>
<rect x="1067.5" y="197.0" width="71.5" height="72.5" fill="#000"/>
<clipPath id="q61"><rect x="0" y="0" width="71.5" height="72.5"/></clipPath>
<g transform="translate(1067.5,197.0)"><g clip-path="url(#q61)">
<path d="M51.5,25.0C51.6,26.5 52.0,28.0 51.9,29.5C51.7,31.1 51.5,32.7 50.8,34.1C50.0,35.4 48.7,36.6 47.5,37.7C46.2,38.7 44.7,39.4 43.3,40.2C41.9,41.0 40.7,41.8 39.3,42.5C37.9,43.2 36.4,44.0 34.9,44.4C33.3,44.8 31.6,45.0 30.0,45.0C28.4,45.0 26.7,44.8 25.1,44.5C23.5,44.2 21.8,43.9 20.3,43.3C18.8,42.7 17.3,41.9 16.0,40.9C14.8,39.9 13.8,38.6 12.9,37.4C12.0,36.2 11.2,34.9 10.4,33.6C9.6,32.3 8.7,30.9 8.2,29.5C7.7,28.1 7.4,26.5 7.5,25.0C7.6,23.5 8.4,22.0 9.0,20.6C9.6,19.3 10.4,18.1 11.1,16.7C11.8,15.4 12.3,14.0 13.1,12.7C13.8,11.4 14.7,9.9 15.9,8.9C17.1,7.8 18.6,7.0 20.2,6.4C21.7,5.9 23.4,5.6 25.1,5.4C26.7,5.1 28.4,5.0 30.0,5.0C31.6,5.0 33.3,5.1 34.9,5.5C36.5,5.9 38.0,6.6 39.4,7.3C40.8,7.9 42.2,8.8 43.5,9.6C44.8,10.5 46.2,11.4 47.3,12.5C48.4,13.6 49.4,14.9 50.1,16.2C50.7,17.6 50.9,19.2 51.1,20.6C51.4,22.1 51.4,23.5 51.5,25.0Z" fill="#901010" filter="url(#spk7)" />
</g></g>
<rect x="1142.7" y="197.0" width="70.0" height="72.5" fill="#000"/>
<clipPath id="q62"><rect x="0" y="0" width="70.0" height="72.5"/></clipPath>
<g transform="translate(1142.7,197.0)"><g clip-path="url(#q62)">
<g filter="url(#b1)" opacity="1">
<circle cx="16.4" cy="16.8" r="5.5" fill="#bababa"/>
<circle cx="19.8" cy="21.0" r="4.4" fill="#bababa"/>
<circle cx="21.9" cy="21.4" r="4.3" fill="#bababa"/>
<circle cx="20.6" cy="15.7" r="4.0" fill="#bababa"/>
<circle cx="25.1" cy="18.3" r="5.9" fill="#bababa"/>
<circle cx="25.5" cy="16.1" r="4.2" fill="#bababa"/>
<circle cx="30.1" cy="17.0" r="4.3" fill="#bababa"/>
<circle cx="29.9" cy="20.5" r="5.4" fill="#bababa"/>
<circle cx="32.0" cy="18.5" r="5.2" fill="#bababa"/>
<circle cx="34.9" cy="20.0" r="5.3" fill="#bababa"/>
<circle cx="38.6" cy="16.4" r="5.7" fill="#bababa"/>
<circle cx="38.0" cy="11.9" r="4.3" fill="#bababa"/>
<circle cx="42.5" cy="14.2" r="4.4" fill="#bababa"/>
<circle cx="44.1" cy="16.5" r="4.6" fill="#bababa"/>
<circle cx="47.0" cy="18.7" r="5.5" fill="#bababa"/>
<circle cx="48.6" cy="16.7" r="4.8" fill="#bababa"/>
<circle cx="49.0" cy="18.4" r="4.4" fill="#bababa"/>
<circle cx="51.1" cy="15.4" r="6.0" fill="#bababa"/>
</g>
<g filter="url(#b1)" opacity="1">
<circle cx="16.7" cy="48.1" r="5.1" fill="#bababa"/>
<circle cx="19.7" cy="40.2" r="4.7" fill="#bababa"/>
<circle cx="22.5" cy="43.8" r="5.9" fill="#bababa"/>
<circle cx="23.6" cy="49.5" r="5.1" fill="#bababa"/>
<circle cx="24.9" cy="41.1" r="4.7" fill="#bababa"/>
<circle cx="27.4" cy="42.1" r="5.1" fill="#bababa"/>
<circle cx="28.5" cy="46.1" r="4.9" fill="#bababa"/>
<circle cx="30.0" cy="44.7" r="5.5" fill="#bababa"/>
<circle cx="31.7" cy="44.9" r="5.1" fill="#bababa"/>
<circle cx="33.6" cy="44.8" r="4.8" fill="#bababa"/>
<circle cx="37.7" cy="46.7" r="5.9" fill="#bababa"/>
<circle cx="39.6" cy="50.0" r="5.5" fill="#bababa"/>
<circle cx="41.4" cy="42.8" r="4.9" fill="#bababa"/>
<circle cx="42.4" cy="42.6" r="5.6" fill="#bababa"/>
<circle cx="45.5" cy="51.2" r="4.6" fill="#bababa"/>
<circle cx="46.2" cy="43.8" r="5.7" fill="#bababa"/>
<circle cx="49.0" cy="46.4" r="4.1" fill="#bababa"/>
<circle cx="50.7" cy="44.0" r="5.0" fill="#bababa"/>
</g>
<g filter="url(#b1)" opacity="1">
<circle cx="12.1" cy="20.7" r="4.5" fill="#bababa"/>
<circle cx="12.1" cy="24.1" r="4.6" fill="#bababa"/>
<circle cx="12.5" cy="29.5" r="3.9" fill="#bababa"/>
<circle cx="16.6" cy="34.7" r="3.9" fill="#bababa"/>
<circle cx="12.7" cy="39.8" r="3.5" fill="#bababa"/>
<circle cx="14.8" cy="43.9" r="4.2" fill="#bababa"/>
</g>
</g></g>
<rect x="1218.0" y="197.0" width="70.6" height="72.5" fill="#000"/>
<clipPath id="q63"><rect x="0" y="0" width="70.6" height="72.5"/></clipPath>
<g transform="translate(1218.0,197.0)"><g clip-path="url(#q63)">
<g filter="url(#b1)" opacity="1">
<circle cx="16.4" cy="16.8" r="5.5" fill="#c4baba"/>
<circle cx="19.8" cy="21.0" r="4.4" fill="#c4baba"/>
<circle cx="21.9" cy="21.4" r="4.3" fill="#c4baba"/>
<circle cx="20.6" cy="15.7" r="4.0" fill="#c4baba"/>
<circle cx="25.1" cy="18.3" r="5.9" fill="#c4baba"/>
<circle cx="25.5" cy="16.1" r="4.2" fill="#c4baba"/>
<circle cx="30.1" cy="17.0" r="4.3" fill="#c4baba"/>
<circle cx="29.9" cy="20.5" r="5.4" fill="#c4baba"/>
<circle cx="32.0" cy="18.5" r="5.2" fill="#c4baba"/>
<circle cx="34.9" cy="20.0" r="5.3" fill="#c4baba"/>
<circle cx="38.6" cy="16.4" r="5.7" fill="#c4baba"/>
<circle cx="38.0" cy="11.9" r="4.3" fill="#c4baba"/>
<circle cx="42.5" cy="14.2" r="4.4" fill="#c4baba"/>
<circle cx="44.1" cy="16.5" r="4.6" fill="#c4baba"/>
<circle cx="47.0" cy="18.7" r="5.5" fill="#c4baba"/>
<circle cx="48.6" cy="16.7" r="4.8" fill="#c4baba"/>
<circle cx="49.0" cy="18.4" r="4.4" fill="#c4baba"/>
<circle cx="51.1" cy="15.4" r="6.0" fill="#c4baba"/>
</g>
<g filter="url(#b1)" opacity="1">
<circle cx="16.7" cy="48.1" r="5.1" fill="#c4baba"/>
<circle cx="19.7" cy="40.2" r="4.7" fill="#c4baba"/>
<circle cx="22.5" cy="43.8" r="5.9" fill="#c4baba"/>
<circle cx="23.6" cy="49.5" r="5.1" fill="#c4baba"/>
<circle cx="24.9" cy="41.1" r="4.7" fill="#c4baba"/>
<circle cx="27.4" cy="42.1" r="5.1" fill="#c4baba"/>
<circle cx="28.5" cy="46.1" r="4.9" fill="#c4baba"/>
<circle cx="30.0" cy="44.7" r="5.5" fill="#c4baba"/>
<circle cx="31.7" cy="44.9" r="5.1" fill="#c4baba"/>
<circle cx="33.6" cy="44.8" r="4.8" fill="#c4baba"/>
<circle cx="37.7" cy="46.7" r="5.9" fill="#c4baba"/>
<circle cx="39.6" cy="50.0" r="5.5" fill="#c4baba"/>
<circle cx="41.4" cy="42.8" r="4.9" fill="#c4baba"/>
<circle cx="42.4" cy="42.6" r="5.6" fill="#c4baba"/>
<circle cx="45.5" cy="51.2" r="4.6" fill="#c4baba"/>
<circle cx="46.2" cy="43.8" r="5.7" fill="#c4baba"/>
<circle cx="49.0" cy="46.4" r="4.1" fill="#c4baba"/>
<circle cx="50.7" cy="44.0" r="5.0" fill="#c4baba"/>
</g>
<g filter="url(#b1)" opacity="1">
<circle cx="12.1" cy="20.7" r="4.5" fill="#c4baba"/>
<circle cx="12.1" cy="24.1" r="4.6" fill="#c4baba"/>
<circle cx="12.5" cy="29.5" r="3.9" fill="#c4baba"/>
<circle cx="16.6" cy="34.7" r="3.9" fill="#c4baba"/>
<circle cx="12.7" cy="39.8" r="3.5" fill="#c4baba"/>
<circle cx="14.8" cy="43.9" r="4.2" fill="#c4baba"/>
</g>
<ellipse cx="32.0" cy="32.0" rx="14.0" ry="5.0" transform="rotate(0 32.0 32.0)" fill="#602020" opacity="0.8" filter="url(#b2)"/>
<g style="mix-blend-mode:screen" opacity="0.65">
<path d="M51.5,25.0C51.6,26.5 52.0,28.0 51.9,29.5C51.7,31.1 51.5,32.7 50.8,34.1C50.0,35.4 48.7,36.6 47.5,37.7C46.2,38.7 44.7,39.4 43.3,40.2C41.9,41.0 40.7,41.8 39.3,42.5C37.9,43.2 36.4,44.0 34.9,44.4C33.3,44.8 31.6,45.0 30.0,45.0C28.4,45.0 26.7,44.8 25.1,44.5C23.5,44.2 21.8,43.9 20.3,43.3C18.8,42.7 17.3,41.9 16.0,40.9C14.8,39.9 13.8,38.6 12.9,37.4C12.0,36.2 11.2,34.9 10.4,33.6C9.6,32.3 8.7,30.9 8.2,29.5C7.7,28.1 7.4,26.5 7.5,25.0C7.6,23.5 8.4,22.0 9.0,20.6C9.6,19.3 10.4,18.1 11.1,16.7C11.8,15.4 12.3,14.0 13.1,12.7C13.8,11.4 14.7,9.9 15.9,8.9C17.1,7.8 18.6,7.0 20.2,6.4C21.7,5.9 23.4,5.6 25.1,5.4C26.7,5.1 28.4,5.0 30.0,5.0C31.6,5.0 33.3,5.1 34.9,5.5C36.5,5.9 38.0,6.6 39.4,7.3C40.8,7.9 42.2,8.8 43.5,9.6C44.8,10.5 46.2,11.4 47.3,12.5C48.4,13.6 49.4,14.9 50.1,16.2C50.7,17.6 50.9,19.2 51.1,20.6C51.4,22.1 51.4,23.5 51.5,25.0Z" fill="#901010" filter="url(#spk7)" />
</g>
</g></g>
<rect x="840.0" y="276.0" width="108.3" height="73.0" fill="#000"/>
<clipPath id="q64"><rect x="0" y="0" width="108.3" height="73.0"/></clipPath>
<g transform="translate(840.0,276.0)"><g clip-path="url(#q64)">
<path d="M34.7,35.5C34.8,37.4 35.0,39.4 34.9,41.4C34.8,43.4 34.7,45.6 34.2,47.3C33.8,49.1 33.0,50.6 32.2,52.0C31.4,53.3 30.5,54.2 29.7,55.2C28.8,56.3 28.0,57.3 27.2,58.2C26.3,59.1 25.4,60.2 24.5,60.7C23.5,61.2 22.5,61.5 21.5,61.5C20.5,61.5 19.5,61.2 18.5,60.8C17.5,60.5 16.5,60.1 15.6,59.3C14.6,58.5 13.7,57.5 12.9,56.2C12.2,54.9 11.6,53.2 11.0,51.6C10.4,50.0 10.0,48.4 9.5,46.6C9.0,44.9 8.4,43.2 8.1,41.4C7.8,39.5 7.6,37.4 7.7,35.5C7.8,33.6 8.2,31.6 8.6,29.8C9.0,28.0 9.5,26.5 9.9,24.8C10.3,23.0 10.6,21.2 11.1,19.5C11.6,17.8 12.1,15.9 12.8,14.6C13.6,13.2 14.5,12.1 15.5,11.4C16.4,10.6 17.5,10.3 18.5,10.0C19.5,9.7 20.5,9.5 21.5,9.5C22.5,9.5 23.5,9.7 24.5,10.1C25.5,10.6 26.4,11.5 27.3,12.4C28.1,13.3 29.0,14.4 29.8,15.5C30.6,16.7 31.4,17.8 32.1,19.2C32.8,20.6 33.4,22.3 33.8,24.1C34.2,25.9 34.3,27.9 34.5,29.8C34.6,31.7 34.6,33.6 34.7,35.5Z" fill="#c81010" filter="url(#spk8)" />
<path d="M91.3,34.6C91.1,36.0 91.0,37.2 91.0,38.6C90.9,40.0 91.2,41.6 91.0,43.0C90.8,44.4 90.3,45.8 89.8,46.8C89.2,47.8 88.3,48.2 87.6,49.0C86.9,49.7 86.3,50.5 85.6,51.3C84.9,52.2 84.3,53.5 83.5,54.0C82.8,54.6 81.8,54.8 81.0,54.7C80.2,54.6 79.3,53.9 78.5,53.5C77.7,53.1 76.9,52.8 76.1,52.3C75.3,51.7 74.4,51.3 73.8,50.3C73.3,49.3 72.9,47.6 72.7,46.2C72.4,44.8 72.5,43.3 72.2,42.0C71.9,40.7 71.4,39.9 70.9,38.6C70.4,37.4 69.5,36.0 69.3,34.6C69.1,33.2 69.2,31.4 69.5,30.0C69.8,28.6 70.7,27.5 71.2,26.4C71.7,25.2 72.1,24.1 72.6,22.8C73.0,21.6 73.3,20.0 73.9,19.0C74.4,17.9 75.3,17.1 76.1,16.7C76.9,16.3 77.8,16.7 78.6,16.6C79.5,16.5 80.2,16.4 81.0,16.3C81.8,16.2 82.7,15.8 83.4,16.0C84.2,16.3 85.0,17.0 85.7,17.7C86.4,18.4 86.9,19.5 87.6,20.2C88.3,21.0 89.1,21.4 89.9,22.3C90.6,23.1 91.6,24.0 92.0,25.3C92.4,26.6 92.5,28.5 92.3,30.1C92.2,31.6 91.5,33.2 91.3,34.6Z" fill="#600000" filter="url(#b2)" opacity="0.3" />
<path d="M91.3,34.6C91.1,36.0 91.0,37.2 91.0,38.6C90.9,40.0 91.2,41.6 91.0,43.0C90.8,44.4 90.3,45.8 89.8,46.8C89.2,47.8 88.3,48.2 87.6,49.0C86.9,49.7 86.3,50.5 85.6,51.3C84.9,52.2 84.3,53.5 83.5,54.0C82.8,54.6 81.8,54.8 81.0,54.7C80.2,54.6 79.3,53.9 78.5,53.5C77.7,53.1 76.9,52.8 76.1,52.3C75.3,51.7 74.4,51.3 73.8,50.3C73.3,49.3 72.9,47.6 72.7,46.2C72.4,44.8 72.5,43.3 72.2,42.0C71.9,40.7 71.4,39.9 70.9,38.6C70.4,37.4 69.5,36.0 69.3,34.6C69.1,33.2 69.2,31.4 69.5,30.0C69.8,28.6 70.7,27.5 71.2,26.4C71.7,25.2 72.1,24.1 72.6,22.8C73.0,21.6 73.3,20.0 73.9,19.0C74.4,17.9 75.3,17.1 76.1,16.7C76.9,16.3 77.8,16.7 78.6,16.6C79.5,16.5 80.2,16.4 81.0,16.3C81.8,16.2 82.7,15.8 83.4,16.0C84.2,16.3 85.0,17.0 85.7,17.7C86.4,18.4 86.9,19.5 87.6,20.2C88.3,21.0 89.1,21.4 89.9,22.3C90.6,23.1 91.6,24.0 92.0,25.3C92.4,26.6 92.5,28.5 92.3,30.1C92.2,31.6 91.5,33.2 91.3,34.6Z" fill="#e01515" filter="url(#spk3)" />
<path d="M88.7,34.6C88.7,35.8 88.9,36.9 89.0,38.3C89.1,39.6 89.5,41.4 89.4,42.7C89.2,44.0 88.7,45.3 88.1,46.0C87.5,46.6 86.5,46.4 85.8,46.6C85.1,46.8 84.5,46.6 84.0,46.9C83.4,47.2 83.1,48.0 82.6,48.4C82.1,48.9 81.6,49.3 81.0,49.6C80.4,49.8 79.9,49.7 79.3,49.8C78.7,49.8 78.0,50.1 77.3,50.0C76.6,49.8 75.8,49.7 75.3,48.9C74.8,48.2 74.4,46.7 74.2,45.4C74.0,44.1 74.2,42.5 74.0,41.3C73.9,40.1 73.6,39.2 73.4,38.1C73.2,37.0 72.7,35.8 72.7,34.6C72.7,33.4 73.0,32.1 73.4,31.1C73.8,30.2 74.6,29.6 75.0,28.8C75.3,27.9 75.5,27.2 75.6,26.0C75.8,24.8 75.6,22.9 75.8,21.6C76.0,20.3 76.5,18.8 77.0,18.0C77.5,17.3 78.4,17.3 79.0,17.2C79.7,17.1 80.4,17.3 81.0,17.6C81.6,17.8 82.3,18.0 82.8,18.6C83.4,19.2 83.8,20.3 84.2,21.1C84.6,22.0 84.8,23.2 85.3,23.9C85.7,24.6 86.2,24.9 86.7,25.4C87.3,26.0 88.1,26.5 88.4,27.4C88.8,28.3 89.0,29.8 89.0,31.0C89.0,32.1 88.7,33.4 88.7,34.6Z" fill="#d01515" filter="url(#spd3)" />
</g></g>
<rect x="952.0" y="276.0" width="107.3" height="73.0" fill="#000"/>
<clipPath id="q65"><rect x="0" y="0" width="107.3" height="73.0"/></clipPath>
<g transform="translate(952.0,276.0)"><g clip-path="url(#q65)">
<path d="M33.7,30.0C33.8,31.8 34.0,33.6 33.9,35.4C33.8,37.3 33.7,39.3 33.2,40.9C32.7,42.5 31.9,44.0 31.1,45.2C30.3,46.4 29.3,47.2 28.5,48.2C27.6,49.2 26.8,50.1 25.9,51.0C25.0,51.8 24.1,52.8 23.1,53.3C22.1,53.8 21.0,54.0 20.0,54.0C19.0,54.0 17.9,53.7 16.9,53.4C15.9,53.1 14.8,52.7 13.8,52.0C12.9,51.2 11.9,50.3 11.1,49.1C10.3,47.9 9.7,46.4 9.1,44.9C8.5,43.4 8.0,41.9 7.5,40.3C7.0,38.7 6.4,37.1 6.1,35.4C5.8,33.7 5.6,31.8 5.7,30.0C5.8,28.2 6.2,26.4 6.6,24.8C7.0,23.1 7.6,21.7 8.0,20.1C8.4,18.5 8.7,16.8 9.2,15.3C9.7,13.7 10.3,11.9 11.0,10.7C11.8,9.4 12.8,8.4 13.7,7.7C14.7,7.0 15.8,6.8 16.9,6.5C17.9,6.2 19.0,6.0 20.0,6.0C21.0,6.0 22.1,6.1 23.1,6.6C24.1,7.1 25.1,7.9 26.0,8.7C26.9,9.5 27.7,10.5 28.6,11.6C29.4,12.6 30.3,13.6 31.0,15.0C31.7,16.3 32.4,17.8 32.8,19.5C33.2,21.1 33.3,23.0 33.4,24.7C33.6,26.5 33.6,28.2 33.7,30.0Z" fill="#b01010" filter="url(#spk1)" />
<path d="M89.7,30.0C89.8,31.6 90.0,33.3 89.9,35.0C89.9,36.7 89.7,38.5 89.3,40.0C88.9,41.5 88.2,42.8 87.5,43.9C86.8,45.0 86.0,45.8 85.3,46.7C84.5,47.6 83.8,48.5 83.1,49.2C82.3,50.0 81.5,50.9 80.7,51.3C79.8,51.8 78.9,52.0 78.0,52.0C77.1,52.0 76.2,51.8 75.3,51.4C74.4,51.1 73.5,50.8 72.7,50.1C71.9,49.5 71.1,48.6 70.4,47.5C69.7,46.4 69.2,45.0 68.7,43.6C68.2,42.3 67.7,40.9 67.3,39.4C66.9,38.0 66.4,36.5 66.1,35.0C65.9,33.4 65.7,31.6 65.7,30.0C65.8,28.4 66.2,26.7 66.5,25.2C66.9,23.7 67.3,22.4 67.7,20.9C68.1,19.5 68.3,17.9 68.8,16.5C69.2,15.0 69.6,13.4 70.3,12.3C70.9,11.1 71.8,10.2 72.6,9.6C73.5,8.9 74.4,8.7 75.3,8.4C76.2,8.2 77.1,8.0 78.0,8.0C78.9,8.0 79.8,8.1 80.7,8.5C81.5,9.0 82.3,9.7 83.1,10.5C83.9,11.2 84.6,12.2 85.3,13.1C86.1,14.1 86.8,15.0 87.4,16.2C88.0,17.4 88.6,18.8 88.9,20.3C89.3,21.8 89.4,23.6 89.5,25.2C89.7,26.8 89.7,28.4 89.7,30.0Z" fill="#b01010" filter="url(#spk2)" />
<path d="M36.2,37.2C36.1,38.6 35.9,40.0 35.6,41.3C35.2,42.6 34.6,43.9 34.1,44.9C33.5,45.9 32.7,46.6 32.1,47.3C31.5,48.0 30.8,48.4 30.2,49.1C29.7,49.7 29.1,50.3 28.6,51.1C28.0,51.9 27.5,52.9 26.9,53.8C26.2,54.6 25.5,55.6 24.8,56.1C24.2,56.5 23.4,56.8 22.8,56.6C22.2,56.5 21.6,55.8 21.1,55.1C20.6,54.4 20.3,53.3 20.0,52.4C19.6,51.5 19.4,50.6 19.0,49.8C18.6,49.1 18.2,48.5 17.8,47.7C17.4,47.0 16.9,46.3 16.5,45.3C16.2,44.4 15.9,43.2 15.8,42.0C15.7,40.7 15.8,39.2 16.0,37.9C16.2,36.5 16.6,35.1 17.0,33.8C17.4,32.5 17.9,31.4 18.2,30.2C18.6,29.0 19.0,27.9 19.3,26.6C19.7,25.4 20.0,24.1 20.5,22.9C21.0,21.7 21.5,20.4 22.1,19.5C22.7,18.6 23.4,17.9 24.1,17.5C24.8,17.2 25.5,17.3 26.1,17.4C26.8,17.5 27.3,17.9 27.9,18.1C28.5,18.3 28.9,18.4 29.5,18.3C30.1,18.3 30.7,17.9 31.4,17.8C32.0,17.6 32.8,17.3 33.5,17.5C34.1,17.6 34.8,18.0 35.3,18.7C35.8,19.4 36.1,20.5 36.3,21.7C36.5,22.9 36.5,24.3 36.5,25.6C36.5,26.9 36.4,28.3 36.4,29.5C36.4,30.8 36.4,32.0 36.4,33.3C36.3,34.6 36.4,35.9 36.2,37.2Z" fill="#c8b6b6" filter="url(#lump4)" />
<path d="M85.2,32.2C85.2,33.3 85.3,34.3 85.4,35.4C85.5,36.5 85.7,37.5 85.8,38.7C85.9,39.8 86.0,41.0 86.0,42.1C85.9,43.2 85.7,44.2 85.4,45.1C85.2,46.0 84.7,46.7 84.3,47.4C83.9,48.1 83.4,48.7 83.0,49.3C82.5,50.0 82.1,50.7 81.6,51.3C81.1,52.0 80.7,52.8 80.1,53.3C79.5,53.8 78.8,54.2 78.0,54.2C77.3,54.2 76.5,53.8 75.8,53.1C75.1,52.4 74.5,51.2 73.9,50.2C73.3,49.1 72.9,47.8 72.5,46.7C72.0,45.6 71.7,44.6 71.3,43.7C70.8,42.8 70.4,42.1 69.8,41.3C69.3,40.5 68.7,39.7 68.2,38.7C67.7,37.7 67.2,36.6 66.8,35.4C66.5,34.3 66.3,32.9 66.3,31.7C66.3,30.6 66.4,29.4 66.6,28.3C66.7,27.2 67.0,26.3 67.2,25.3C67.4,24.3 67.6,23.4 67.9,22.4C68.1,21.4 68.3,20.3 68.6,19.4C68.9,18.5 69.3,17.6 69.8,17.0C70.2,16.4 70.9,16.0 71.5,15.9C72.1,15.7 72.9,16.0 73.5,16.1C74.2,16.3 74.8,16.7 75.4,16.9C76.0,17.2 76.6,17.3 77.2,17.4C77.9,17.5 78.5,17.3 79.3,17.5C80.0,17.7 80.8,17.8 81.5,18.4C82.2,18.9 82.9,19.8 83.5,20.8C84.0,21.9 84.5,23.3 84.7,24.6C85.0,25.9 85.0,27.4 85.1,28.6C85.2,29.9 85.1,31.1 85.2,32.2Z" fill="#c8b6b6" filter="url(#lump1)" />
<g style="mix-blend-mode:screen" opacity="0.65">
<path d="M34.7,35.5C34.8,37.4 35.0,39.4 34.9,41.4C34.8,43.4 34.7,45.6 34.2,47.3C33.8,49.1 33.0,50.6 32.2,52.0C31.4,53.3 30.5,54.2 29.7,55.2C28.8,56.3 28.0,57.3 27.2,58.2C26.3,59.1 25.4,60.2 24.5,60.7C23.5,61.2 22.5,61.5 21.5,61.5C20.5,61.5 19.5,61.2 18.5,60.8C17.5,60.5 16.5,60.1 15.6,59.3C14.6,58.5 13.7,57.5 12.9,56.2C12.2,54.9 11.6,53.2 11.0,51.6C10.4,50.0 10.0,48.4 9.5,46.6C9.0,44.9 8.4,43.2 8.1,41.4C7.8,39.5 7.6,37.4 7.7,35.5C7.8,33.6 8.2,31.6 8.6,29.8C9.0,28.0 9.5,26.5 9.9,24.8C10.3,23.0 10.6,21.2 11.1,19.5C11.6,17.8 12.1,15.9 12.8,14.6C13.6,13.2 14.5,12.1 15.5,11.4C16.4,10.6 17.5,10.3 18.5,10.0C19.5,9.7 20.5,9.5 21.5,9.5C22.5,9.5 23.5,9.7 24.5,10.1C25.5,10.6 26.4,11.5 27.3,12.4C28.1,13.3 29.0,14.4 29.8,15.5C30.6,16.7 31.4,17.8 32.1,19.2C32.8,20.6 33.4,22.3 33.8,24.1C34.2,25.9 34.3,27.9 34.5,29.8C34.6,31.7 34.6,33.6 34.7,35.5Z" fill="#c81010" filter="url(#spk8)" />
<path d="M91.3,34.6C91.1,36.0 91.0,37.2 91.0,38.6C90.9,40.0 91.2,41.6 91.0,43.0C90.8,44.4 90.3,45.8 89.8,46.8C89.2,47.8 88.3,48.2 87.6,49.0C86.9,49.7 86.3,50.5 85.6,51.3C84.9,52.2 84.3,53.5 83.5,54.0C82.8,54.6 81.8,54.8 81.0,54.7C80.2,54.6 79.3,53.9 78.5,53.5C77.7,53.1 76.9,52.8 76.1,52.3C75.3,51.7 74.4,51.3 73.8,50.3C73.3,49.3 72.9,47.6 72.7,46.2C72.4,44.8 72.5,43.3 72.2,42.0C71.9,40.7 71.4,39.9 70.9,38.6C70.4,37.4 69.5,36.0 69.3,34.6C69.1,33.2 69.2,31.4 69.5,30.0C69.8,28.6 70.7,27.5 71.2,26.4C71.7,25.2 72.1,24.1 72.6,22.8C73.0,21.6 73.3,20.0 73.9,19.0C74.4,17.9 75.3,17.1 76.1,16.7C76.9,16.3 77.8,16.7 78.6,16.6C79.5,16.5 80.2,16.4 81.0,16.3C81.8,16.2 82.7,15.8 83.4,16.0C84.2,16.3 85.0,17.0 85.7,17.7C86.4,18.4 86.9,19.5 87.6,20.2C88.3,21.0 89.1,21.4 89.9,22.3C90.6,23.1 91.6,24.0 92.0,25.3C92.4,26.6 92.5,28.5 92.3,30.1C92.2,31.6 91.5,33.2 91.3,34.6Z" fill="#600000" filter="url(#b2)" opacity="0.3" />
<path d="M91.3,34.6C91.1,36.0 91.0,37.2 91.0,38.6C90.9,40.0 91.2,41.6 91.0,43.0C90.8,44.4 90.3,45.8 89.8,46.8C89.2,47.8 88.3,48.2 87.6,49.0C86.9,49.7 86.3,50.5 85.6,51.3C84.9,52.2 84.3,53.5 83.5,54.0C82.8,54.6 81.8,54.8 81.0,54.7C80.2,54.6 79.3,53.9 78.5,53.5C77.7,53.1 76.9,52.8 76.1,52.3C75.3,51.7 74.4,51.3 73.8,50.3C73.3,49.3 72.9,47.6 72.7,46.2C72.4,44.8 72.5,43.3 72.2,42.0C71.9,40.7 71.4,39.9 70.9,38.6C70.4,37.4 69.5,36.0 69.3,34.6C69.1,33.2 69.2,31.4 69.5,30.0C69.8,28.6 70.7,27.5 71.2,26.4C71.7,25.2 72.1,24.1 72.6,22.8C73.0,21.6 73.3,20.0 73.9,19.0C74.4,17.9 75.3,17.1 76.1,16.7C76.9,16.3 77.8,16.7 78.6,16.6C79.5,16.5 80.2,16.4 81.0,16.3C81.8,16.2 82.7,15.8 83.4,16.0C84.2,16.3 85.0,17.0 85.7,17.7C86.4,18.4 86.9,19.5 87.6,20.2C88.3,21.0 89.1,21.4 89.9,22.3C90.6,23.1 91.6,24.0 92.0,25.3C92.4,26.6 92.5,28.5 92.3,30.1C92.2,31.6 91.5,33.2 91.3,34.6Z" fill="#e01515" filter="url(#spk3)" />
<path d="M88.7,34.6C88.7,35.8 88.9,36.9 89.0,38.3C89.1,39.6 89.5,41.4 89.4,42.7C89.2,44.0 88.7,45.3 88.1,46.0C87.5,46.6 86.5,46.4 85.8,46.6C85.1,46.8 84.5,46.6 84.0,46.9C83.4,47.2 83.1,48.0 82.6,48.4C82.1,48.9 81.6,49.3 81.0,49.6C80.4,49.8 79.9,49.7 79.3,49.8C78.7,49.8 78.0,50.1 77.3,50.0C76.6,49.8 75.8,49.7 75.3,48.9C74.8,48.2 74.4,46.7 74.2,45.4C74.0,44.1 74.2,42.5 74.0,41.3C73.9,40.1 73.6,39.2 73.4,38.1C73.2,37.0 72.7,35.8 72.7,34.6C72.7,33.4 73.0,32.1 73.4,31.1C73.8,30.2 74.6,29.6 75.0,28.8C75.3,27.9 75.5,27.2 75.6,26.0C75.8,24.8 75.6,22.9 75.8,21.6C76.0,20.3 76.5,18.8 77.0,18.0C77.5,17.3 78.4,17.3 79.0,17.2C79.7,17.1 80.4,17.3 81.0,17.6C81.6,17.8 82.3,18.0 82.8,18.6C83.4,19.2 83.8,20.3 84.2,21.1C84.6,22.0 84.8,23.2 85.3,23.9C85.7,24.6 86.2,24.9 86.7,25.4C87.3,26.0 88.1,26.5 88.4,27.4C88.8,28.3 89.0,29.8 89.0,31.0C89.0,32.1 88.7,33.4 88.7,34.6Z" fill="#d01515" filter="url(#spd3)" />
</g>
</g></g>
<rect x="1067.8" y="276.0" width="109.2" height="73.0" fill="#000"/>
<clipPath id="q66"><rect x="0" y="0" width="109.2" height="73.0"/></clipPath>
<g transform="translate(1067.8,276.0)"><g clip-path="url(#q66)">
<path d="M39.2,34.6C39.2,36.2 39.4,37.8 39.3,39.4C39.3,41.0 39.2,42.7 38.8,44.1C38.5,45.6 37.8,46.8 37.2,47.9C36.6,49.0 35.9,49.7 35.2,50.5C34.6,51.4 34.0,52.2 33.3,53.0C32.6,53.7 32.0,54.5 31.2,55.0C30.5,55.4 29.7,55.6 28.9,55.6C28.1,55.6 27.3,55.4 26.6,55.1C25.8,54.8 25.0,54.4 24.3,53.8C23.6,53.2 22.8,52.3 22.2,51.3C21.6,50.3 21.2,48.9 20.7,47.6C20.3,46.3 19.9,45.0 19.6,43.6C19.2,42.2 18.7,40.8 18.5,39.3C18.3,37.8 18.1,36.2 18.2,34.6C18.2,33.0 18.6,31.5 18.9,30.0C19.1,28.6 19.6,27.3 19.9,25.9C20.2,24.5 20.4,23.1 20.8,21.7C21.2,20.3 21.6,18.8 22.2,17.7C22.7,16.6 23.5,15.7 24.2,15.1C24.9,14.5 25.8,14.3 26.5,14.0C27.3,13.8 28.1,13.6 28.9,13.6C29.7,13.6 30.5,13.7 31.2,14.1C32.0,14.5 32.7,15.2 33.4,16.0C34.1,16.7 34.7,17.6 35.3,18.5C36.0,19.4 36.6,20.3 37.2,21.4C37.7,22.6 38.2,24.0 38.5,25.4C38.8,26.8 38.9,28.5 39.0,30.0C39.1,31.5 39.1,33.0 39.2,34.6Z" fill="#d01010" filter="url(#spk3)" />
<path d="M87.4,37.5C87.5,39.0 87.6,40.5 87.5,42.0C87.5,43.6 87.4,45.2 87.1,46.6C86.8,47.9 86.3,49.1 85.8,50.2C85.3,51.2 84.7,51.9 84.2,52.7C83.6,53.5 83.1,54.3 82.6,55.0C82.0,55.7 81.4,56.5 80.8,56.9C80.2,57.3 79.5,57.5 78.9,57.5C78.3,57.5 77.6,57.3 77.0,57.0C76.3,56.7 75.7,56.4 75.1,55.8C74.5,55.2 73.9,54.4 73.4,53.4C72.9,52.4 72.5,51.1 72.1,49.9C71.8,48.7 71.5,47.4 71.2,46.1C70.8,44.8 70.5,43.4 70.3,42.0C70.1,40.6 70.0,39.0 70.0,37.5C70.1,36.0 70.3,34.5 70.6,33.1C70.8,31.8 71.2,30.6 71.4,29.2C71.7,27.9 71.9,26.5 72.2,25.2C72.5,23.9 72.8,22.4 73.3,21.4C73.8,20.3 74.4,19.5 75.0,18.9C75.6,18.4 76.3,18.1 77.0,17.9C77.6,17.6 78.3,17.5 78.9,17.5C79.5,17.5 80.2,17.6 80.8,18.0C81.5,18.4 82.1,19.1 82.6,19.8C83.2,20.4 83.7,21.3 84.2,22.1C84.7,23.0 85.3,23.9 85.7,25.0C86.2,26.1 86.6,27.4 86.8,28.7C87.1,30.1 87.2,31.7 87.3,33.1C87.3,34.6 87.4,36.0 87.4,37.5Z" fill="#d01010" filter="url(#spk4)" />
</g></g>
<rect x="1180.3" y="276.0" width="108.4" height="73.0" fill="#000"/>
<clipPath id="q67"><rect x="0" y="0" width="108.4" height="73.0"/></clipPath>
<g transform="translate(1180.3,276.0)"><g clip-path="url(#q67)">
<path d="M38.6,36.5C38.7,37.9 38.7,39.4 38.6,40.8C38.6,42.3 38.3,43.7 38.0,44.9C37.8,46.2 37.4,47.3 37.0,48.4C36.6,49.5 36.2,50.5 35.8,51.5C35.4,52.5 35.1,53.5 34.6,54.4C34.2,55.3 33.7,56.2 33.1,56.8C32.6,57.4 32.0,57.8 31.4,57.9C30.9,58.0 30.2,57.7 29.7,57.3C29.2,56.9 28.6,56.1 28.2,55.5C27.7,54.9 27.3,54.2 26.8,53.7C26.3,53.1 25.9,52.8 25.4,52.3C24.9,51.9 24.3,51.5 23.8,50.9C23.3,50.3 22.7,49.6 22.3,48.6C21.9,47.6 21.5,46.4 21.2,45.1C21.0,43.8 20.9,42.2 20.9,40.8C20.8,39.4 20.9,37.9 21.0,36.5C21.0,35.1 21.1,33.8 21.2,32.4C21.3,31.0 21.4,29.6 21.6,28.3C21.8,26.9 21.9,25.5 22.2,24.3C22.5,23.1 22.9,21.9 23.4,21.0C23.8,20.2 24.4,19.5 24.9,19.0C25.4,18.5 26.0,18.3 26.6,18.0C27.1,17.7 27.6,17.5 28.1,17.2C28.7,16.9 29.2,16.5 29.7,16.3C30.2,16.0 30.8,15.6 31.4,15.6C32.0,15.6 32.6,15.7 33.1,16.2C33.7,16.7 34.2,17.6 34.6,18.6C35.0,19.5 35.3,20.8 35.6,22.0C35.9,23.2 36.1,24.5 36.4,25.6C36.6,26.8 36.8,27.9 37.1,29.0C37.4,30.2 37.7,31.2 37.9,32.5C38.2,33.7 38.5,35.1 38.6,36.5Z" fill="#c0b4b4" filter="url(#lump4)" />
<path d="M86.2,37.5C86.5,38.6 86.8,40.0 86.9,41.2C87.0,42.5 87.0,44.0 86.8,45.2C86.5,46.3 86.1,47.5 85.6,48.4C85.1,49.3 84.5,50.0 83.9,50.6C83.3,51.2 82.7,51.6 82.1,52.1C81.5,52.6 81.0,53.1 80.5,53.6C79.9,54.1 79.4,54.8 78.8,55.2C78.2,55.6 77.5,56.0 76.9,56.1C76.3,56.1 75.6,56.0 75.0,55.7C74.4,55.3 73.8,54.7 73.2,54.1C72.7,53.5 72.2,52.7 71.7,52.0C71.2,51.3 70.8,50.7 70.3,49.9C69.8,49.2 69.2,48.5 68.8,47.6C68.4,46.8 67.9,45.8 67.7,44.7C67.4,43.6 67.3,42.3 67.3,41.1C67.3,39.9 67.5,38.6 67.7,37.5C67.9,36.4 68.2,35.4 68.5,34.4C68.7,33.3 68.9,32.5 69.1,31.4C69.2,30.4 69.3,29.3 69.4,28.1C69.5,26.9 69.6,25.6 69.9,24.4C70.2,23.2 70.5,21.9 71.0,21.0C71.5,20.0 72.1,19.3 72.8,18.9C73.4,18.4 74.2,18.4 74.9,18.4C75.6,18.4 76.2,18.6 76.9,18.8C77.6,19.1 78.2,19.3 78.8,19.6C79.4,19.9 80.0,20.2 80.6,20.7C81.2,21.2 81.8,21.7 82.2,22.5C82.7,23.2 83.1,24.2 83.4,25.2C83.8,26.2 83.9,27.4 84.1,28.4C84.3,29.5 84.4,30.5 84.6,31.5C84.8,32.5 85.0,33.4 85.3,34.4C85.6,35.4 86.0,36.4 86.2,37.5Z" fill="#c0b4b4" filter="url(#lump1)" />
<g style="mix-blend-mode:screen" opacity="0.65">
<path d="M39.2,34.6C39.2,36.2 39.4,37.8 39.3,39.4C39.3,41.0 39.2,42.7 38.8,44.1C38.5,45.6 37.8,46.8 37.2,47.9C36.6,49.0 35.9,49.7 35.2,50.5C34.6,51.4 34.0,52.2 33.3,53.0C32.6,53.7 32.0,54.5 31.2,55.0C30.5,55.4 29.7,55.6 28.9,55.6C28.1,55.6 27.3,55.4 26.6,55.1C25.8,54.8 25.0,54.4 24.3,53.8C23.6,53.2 22.8,52.3 22.2,51.3C21.6,50.3 21.2,48.9 20.7,47.6C20.3,46.3 19.9,45.0 19.6,43.6C19.2,42.2 18.7,40.8 18.5,39.3C18.3,37.8 18.1,36.2 18.2,34.6C18.2,33.0 18.6,31.5 18.9,30.0C19.1,28.6 19.6,27.3 19.9,25.9C20.2,24.5 20.4,23.1 20.8,21.7C21.2,20.3 21.6,18.8 22.2,17.7C22.7,16.6 23.5,15.7 24.2,15.1C24.9,14.5 25.8,14.3 26.5,14.0C27.3,13.8 28.1,13.6 28.9,13.6C29.7,13.6 30.5,13.7 31.2,14.1C32.0,14.5 32.7,15.2 33.4,16.0C34.1,16.7 34.7,17.6 35.3,18.5C36.0,19.4 36.6,20.3 37.2,21.4C37.7,22.6 38.2,24.0 38.5,25.4C38.8,26.8 38.9,28.5 39.0,30.0C39.1,31.5 39.1,33.0 39.2,34.6Z" fill="#d01010" filter="url(#spk3)" />
<path d="M87.4,37.5C87.5,39.0 87.6,40.5 87.5,42.0C87.5,43.6 87.4,45.2 87.1,46.6C86.8,47.9 86.3,49.1 85.8,50.2C85.3,51.2 84.7,51.9 84.2,52.7C83.6,53.5 83.1,54.3 82.6,55.0C82.0,55.7 81.4,56.5 80.8,56.9C80.2,57.3 79.5,57.5 78.9,57.5C78.3,57.5 77.6,57.3 77.0,57.0C76.3,56.7 75.7,56.4 75.1,55.8C74.5,55.2 73.9,54.4 73.4,53.4C72.9,52.4 72.5,51.1 72.1,49.9C71.8,48.7 71.5,47.4 71.2,46.1C70.8,44.8 70.5,43.4 70.3,42.0C70.1,40.6 70.0,39.0 70.0,37.5C70.1,36.0 70.3,34.5 70.6,33.1C70.8,31.8 71.2,30.6 71.4,29.2C71.7,27.9 71.9,26.5 72.2,25.2C72.5,23.9 72.8,22.4 73.3,21.4C73.8,20.3 74.4,19.5 75.0,18.9C75.6,18.4 76.3,18.1 77.0,17.9C77.6,17.6 78.3,17.5 78.9,17.5C79.5,17.5 80.2,17.6 80.8,18.0C81.5,18.4 82.1,19.1 82.6,19.8C83.2,20.4 83.7,21.3 84.2,22.1C84.7,23.0 85.3,23.9 85.7,25.0C86.2,26.1 86.6,27.4 86.8,28.7C87.1,30.1 87.2,31.7 87.3,33.1C87.3,34.6 87.4,36.0 87.4,37.5Z" fill="#d01010" filter="url(#spk4)" />
</g>
</g></g>
<rect x="840.5" y="353.6" width="70.5" height="72.4" fill="#000"/>
<clipPath id="q68"><rect x="0" y="0" width="70.5" height="72.4"/></clipPath>
<g transform="translate(840.5,353.6)"><g clip-path="url(#q68)">
<path d="M56.0,33.5C56.1,35.6 56.5,37.7 56.3,39.8C56.2,41.9 55.9,44.2 55.1,46.1C54.3,48.0 52.8,49.6 51.3,51.0C49.9,52.4 48.2,53.4 46.6,54.5C45.1,55.6 43.6,56.7 42.0,57.7C40.4,58.7 38.8,59.8 37.0,60.3C35.3,60.9 33.3,61.2 31.5,61.2C29.7,61.2 27.8,60.9 25.9,60.5C24.1,60.1 22.2,59.7 20.5,58.8C18.8,58.0 17.0,56.9 15.6,55.6C14.2,54.2 13.1,52.4 12.1,50.7C11.0,49.0 10.1,47.2 9.2,45.4C8.4,43.6 7.3,41.7 6.8,39.8C6.2,37.8 5.8,35.6 6.0,33.5C6.1,31.4 6.9,29.4 7.6,27.5C8.3,25.5 9.3,23.9 10.0,22.1C10.8,20.2 11.3,18.3 12.2,16.5C13.1,14.7 14.1,12.6 15.4,11.2C16.8,9.7 18.6,8.6 20.3,7.8C22.1,7.0 24.0,6.7 25.9,6.3C27.8,6.0 29.6,5.8 31.5,5.8C33.4,5.8 35.3,6.0 37.1,6.5C38.8,7.0 40.6,8.0 42.2,8.9C43.8,9.9 45.3,11.0 46.8,12.2C48.3,13.4 49.9,14.6 51.1,16.1C52.4,17.7 53.6,19.5 54.3,21.3C55.0,23.2 55.2,25.4 55.5,27.4C55.8,29.5 55.8,31.4 56.0,33.5Z" fill="#c81010" filter="url(#spk5)" />
</g></g>
<rect x="914.5" y="353.6" width="71.0" height="72.4" fill="#000"/>
<clipPath id="q69"><rect x="0" y="0" width="71.0" height="72.4"/></clipPath>
<g transform="translate(914.5,353.6)"><g clip-path="url(#q69)">
<path d="M56.7,33.5C56.7,35.5 56.5,37.6 56.1,39.6C55.6,41.5 54.7,43.4 53.8,45.1C52.9,46.8 51.8,48.4 50.6,50.0C49.5,51.5 48.4,53.2 47.0,54.5C45.7,55.9 44.1,57.2 42.5,58.1C40.8,59.0 38.9,59.4 37.0,59.7C35.2,60.1 33.4,60.0 31.5,60.0C29.6,60.0 27.8,60.1 25.9,59.9C24.1,59.7 22.0,59.4 20.3,58.6C18.6,57.8 16.9,56.5 15.6,55.1C14.2,53.6 13.2,51.8 12.2,50.1C11.2,48.5 10.2,46.8 9.4,45.0C8.6,43.2 7.8,41.4 7.3,39.5C6.9,37.5 6.7,35.5 6.7,33.5C6.7,31.5 7.0,29.5 7.3,27.5C7.7,25.6 8.1,23.5 8.8,21.7C9.5,19.8 10.4,17.9 11.5,16.3C12.7,14.7 14.3,13.4 15.8,12.3C17.4,11.2 19.1,10.3 20.8,9.5C22.5,8.6 24.1,7.7 25.9,7.1C27.7,6.5 29.6,6.0 31.5,6.0C33.4,6.0 35.3,6.6 37.0,7.3C38.8,7.9 40.4,9.0 42.0,10.0C43.6,10.9 45.2,11.8 46.8,12.8C48.3,13.9 50.0,15.0 51.3,16.5C52.6,17.9 53.7,19.7 54.5,21.5C55.3,23.4 55.7,25.4 56.1,27.4C56.5,29.4 56.7,31.5 56.7,33.5Z" fill="#181818" filter="url(#b05)" />
<path d="M56.7,33.5C56.7,35.5 56.5,37.6 56.1,39.6C55.6,41.5 54.7,43.4 53.8,45.1C52.9,46.8 51.8,48.4 50.6,50.0C49.5,51.5 48.4,53.2 47.0,54.5C45.7,55.9 44.1,57.2 42.5,58.1C40.8,59.0 38.9,59.4 37.0,59.7C35.2,60.1 33.4,60.0 31.5,60.0C29.6,60.0 27.8,60.1 25.9,59.9C24.1,59.7 22.0,59.4 20.3,58.6C18.6,57.8 16.9,56.5 15.6,55.1C14.2,53.6 13.2,51.8 12.2,50.1C11.2,48.5 10.2,46.8 9.4,45.0C8.6,43.2 7.8,41.4 7.3,39.5C6.9,37.5 6.7,35.5 6.7,33.5C6.7,31.5 7.0,29.5 7.3,27.5C7.7,25.6 8.1,23.5 8.8,21.7C9.5,19.8 10.4,17.9 11.5,16.3C12.7,14.7 14.3,13.4 15.8,12.3C17.4,11.2 19.1,10.3 20.8,9.5C22.5,8.6 24.1,7.7 25.9,7.1C27.7,6.5 29.6,6.0 31.5,6.0C33.4,6.0 35.3,6.6 37.0,7.3C38.8,7.9 40.4,9.0 42.0,10.0C43.6,10.9 45.2,11.8 46.8,12.8C48.3,13.9 50.0,15.0 51.3,16.5C52.6,17.9 53.7,19.7 54.5,21.5C55.3,23.4 55.7,25.4 56.1,27.4C56.5,29.4 56.7,31.5 56.7,33.5Z" fill="#b8b8b8" filter="url(#nef7)" />
<ellipse cx="26.0" cy="40.0" rx="6.0" ry="8.0" transform="rotate(0 26.0 40.0)" fill="#000" opacity="0.85" filter="url(#b1)"/>
<ellipse cx="38.0" cy="24.0" rx="4.0" ry="4.0" transform="rotate(0 38.0 24.0)" fill="#000" opacity="0.85" filter="url(#b1)"/>
<path d="M56.7,33.5C56.7,35.5 56.5,37.6 56.1,39.6C55.6,41.5 54.7,43.4 53.8,45.1C52.9,46.8 51.8,48.4 50.6,50.0C49.5,51.5 48.4,53.2 47.0,54.5C45.7,55.9 44.1,57.2 42.5,58.1C40.8,59.0 38.9,59.4 37.0,59.7C35.2,60.1 33.4,60.0 31.5,60.0C29.6,60.0 27.8,60.1 25.9,59.9C24.1,59.7 22.0,59.4 20.3,58.6C18.6,57.8 16.9,56.5 15.6,55.1C14.2,53.6 13.2,51.8 12.2,50.1C11.2,48.5 10.2,46.8 9.4,45.0C8.6,43.2 7.8,41.4 7.3,39.5C6.9,37.5 6.7,35.5 6.7,33.5C6.7,31.5 7.0,29.5 7.3,27.5C7.7,25.6 8.1,23.5 8.8,21.7C9.5,19.8 10.4,17.9 11.5,16.3C12.7,14.7 14.3,13.4 15.8,12.3C17.4,11.2 19.1,10.3 20.8,9.5C22.5,8.6 24.1,7.7 25.9,7.1C27.7,6.5 29.6,6.0 31.5,6.0C33.4,6.0 35.3,6.6 37.0,7.3C38.8,7.9 40.4,9.0 42.0,10.0C43.6,10.9 45.2,11.8 46.8,12.8C48.3,13.9 50.0,15.0 51.3,16.5C52.6,17.9 53.7,19.7 54.5,21.5C55.3,23.4 55.7,25.4 56.1,27.4C56.5,29.4 56.7,31.5 56.7,33.5Z" fill="none" filter="url(#b05)" stroke="#cfcfcf" stroke-width="1.6" opacity="0.85"/>
<ellipse cx="70.0" cy="72.0" rx="16.0" ry="12.0" transform="rotate(0 70.0 72.0)" fill="#444" opacity="0.6" filter="url(#b2)"/>
</g></g>
<rect x="989.0" y="353.6" width="70.0" height="72.4" fill="#000"/>
<clipPath id="q70"><rect x="0" y="0" width="70.0" height="72.4"/></clipPath>
<g transform="translate(989.0,353.6)"><g clip-path="url(#q70)">
<path d="M56.7,33.5C56.7,35.5 56.5,37.6 56.1,39.6C55.6,41.5 54.7,43.4 53.8,45.1C52.9,46.8 51.8,48.4 50.6,50.0C49.5,51.5 48.4,53.2 47.0,54.5C45.7,55.9 44.1,57.2 42.5,58.1C40.8,59.0 38.9,59.4 37.0,59.7C35.2,60.1 33.4,60.0 31.5,60.0C29.6,60.0 27.8,60.1 25.9,59.9C24.1,59.7 22.0,59.4 20.3,58.6C18.6,57.8 16.9,56.5 15.6,55.1C14.2,53.6 13.2,51.8 12.2,50.1C11.2,48.5 10.2,46.8 9.4,45.0C8.6,43.2 7.8,41.4 7.3,39.5C6.9,37.5 6.7,35.5 6.7,33.5C6.7,31.5 7.0,29.5 7.3,27.5C7.7,25.6 8.1,23.5 8.8,21.7C9.5,19.8 10.4,17.9 11.5,16.3C12.7,14.7 14.3,13.4 15.8,12.3C17.4,11.2 19.1,10.3 20.8,9.5C22.5,8.6 24.1,7.7 25.9,7.1C27.7,6.5 29.6,6.0 31.5,6.0C33.4,6.0 35.3,6.6 37.0,7.3C38.8,7.9 40.4,9.0 42.0,10.0C43.6,10.9 45.2,11.8 46.8,12.8C48.3,13.9 50.0,15.0 51.3,16.5C52.6,17.9 53.7,19.7 54.5,21.5C55.3,23.4 55.7,25.4 56.1,27.4C56.5,29.4 56.7,31.5 56.7,33.5Z" fill="#141010" filter="url(#b05)" />
<path d="M56.7,33.5C56.7,35.5 56.5,37.6 56.1,39.6C55.6,41.5 54.7,43.4 53.8,45.1C52.9,46.8 51.8,48.4 50.6,50.0C49.5,51.5 48.4,53.2 47.0,54.5C45.7,55.9 44.1,57.2 42.5,58.1C40.8,59.0 38.9,59.4 37.0,59.7C35.2,60.1 33.4,60.0 31.5,60.0C29.6,60.0 27.8,60.1 25.9,59.9C24.1,59.7 22.0,59.4 20.3,58.6C18.6,57.8 16.9,56.5 15.6,55.1C14.2,53.6 13.2,51.8 12.2,50.1C11.2,48.5 10.2,46.8 9.4,45.0C8.6,43.2 7.8,41.4 7.3,39.5C6.9,37.5 6.7,35.5 6.7,33.5C6.7,31.5 7.0,29.5 7.3,27.5C7.7,25.6 8.1,23.5 8.8,21.7C9.5,19.8 10.4,17.9 11.5,16.3C12.7,14.7 14.3,13.4 15.8,12.3C17.4,11.2 19.1,10.3 20.8,9.5C22.5,8.6 24.1,7.7 25.9,7.1C27.7,6.5 29.6,6.0 31.5,6.0C33.4,6.0 35.3,6.6 37.0,7.3C38.8,7.9 40.4,9.0 42.0,10.0C43.6,10.9 45.2,11.8 46.8,12.8C48.3,13.9 50.0,15.0 51.3,16.5C52.6,17.9 53.7,19.7 54.5,21.5C55.3,23.4 55.7,25.4 56.1,27.4C56.5,29.4 56.7,31.5 56.7,33.5Z" fill="#ccc0c0" filter="url(#nef7)" />
<ellipse cx="26.0" cy="40.0" rx="6.0" ry="8.0" transform="rotate(0 26.0 40.0)" fill="#000" opacity="0.85" filter="url(#b1)"/>
<ellipse cx="38.0" cy="24.0" rx="4.0" ry="4.0" transform="rotate(0 38.0 24.0)" fill="#000" opacity="0.85" filter="url(#b1)"/>
<path d="M56.7,33.5C56.7,35.5 56.5,37.6 56.1,39.6C55.6,41.5 54.7,43.4 53.8,45.1C52.9,46.8 51.8,48.4 50.6,50.0C49.5,51.5 48.4,53.2 47.0,54.5C45.7,55.9 44.1,57.2 42.5,58.1C40.8,59.0 38.9,59.4 37.0,59.7C35.2,60.1 33.4,60.0 31.5,60.0C29.6,60.0 27.8,60.1 25.9,59.9C24.1,59.7 22.0,59.4 20.3,58.6C18.6,57.8 16.9,56.5 15.6,55.1C14.2,53.6 13.2,51.8 12.2,50.1C11.2,48.5 10.2,46.8 9.4,45.0C8.6,43.2 7.8,41.4 7.3,39.5C6.9,37.5 6.7,35.5 6.7,33.5C6.7,31.5 7.0,29.5 7.3,27.5C7.7,25.6 8.1,23.5 8.8,21.7C9.5,19.8 10.4,17.9 11.5,16.3C12.7,14.7 14.3,13.4 15.8,12.3C17.4,11.2 19.1,10.3 20.8,9.5C22.5,8.6 24.1,7.7 25.9,7.1C27.7,6.5 29.6,6.0 31.5,6.0C33.4,6.0 35.3,6.6 37.0,7.3C38.8,7.9 40.4,9.0 42.0,10.0C43.6,10.9 45.2,11.8 46.8,12.8C48.3,13.9 50.0,15.0 51.3,16.5C52.6,17.9 53.7,19.7 54.5,21.5C55.3,23.4 55.7,25.4 56.1,27.4C56.5,29.4 56.7,31.5 56.7,33.5Z" fill="none" filter="url(#b05)" stroke="#d8cccc" stroke-width="1.6" opacity="0.85"/>
<ellipse cx="70.0" cy="72.0" rx="16.0" ry="12.0" transform="rotate(0 70.0 72.0)" fill="#444" opacity="0.6" filter="url(#b2)"/>
<g style="mix-blend-mode:screen" opacity="0.65">
<path d="M56.0,33.5C56.1,35.6 56.5,37.7 56.3,39.8C56.2,41.9 55.9,44.2 55.1,46.1C54.3,48.0 52.8,49.6 51.3,51.0C49.9,52.4 48.2,53.4 46.6,54.5C45.1,55.6 43.6,56.7 42.0,57.7C40.4,58.7 38.8,59.8 37.0,60.3C35.3,60.9 33.3,61.2 31.5,61.2C29.7,61.2 27.8,60.9 25.9,60.5C24.1,60.1 22.2,59.7 20.5,58.8C18.8,58.0 17.0,56.9 15.6,55.6C14.2,54.2 13.1,52.4 12.1,50.7C11.0,49.0 10.1,47.2 9.2,45.4C8.4,43.6 7.3,41.7 6.8,39.8C6.2,37.8 5.8,35.6 6.0,33.5C6.1,31.4 6.9,29.4 7.6,27.5C8.3,25.5 9.3,23.9 10.0,22.1C10.8,20.2 11.3,18.3 12.2,16.5C13.1,14.7 14.1,12.6 15.4,11.2C16.8,9.7 18.6,8.6 20.3,7.8C22.1,7.0 24.0,6.7 25.9,6.3C27.8,6.0 29.6,5.8 31.5,5.8C33.4,5.8 35.3,6.0 37.1,6.5C38.8,7.0 40.6,8.0 42.2,8.9C43.8,9.9 45.3,11.0 46.8,12.2C48.3,13.4 49.9,14.6 51.1,16.1C52.4,17.7 53.6,19.5 54.3,21.3C55.0,23.2 55.2,25.4 55.5,27.4C55.8,29.5 55.8,31.4 56.0,33.5Z" fill="#c81010" filter="url(#spk5)" />
</g>
</g></g>
<rect x="1067.5" y="353.6" width="71.5" height="72.4" fill="#000"/>
<clipPath id="q71"><rect x="0" y="0" width="71.5" height="72.4"/></clipPath>
<g transform="translate(1067.5,353.6)"><g clip-path="url(#q71)">
<path d="M58.8,35.8C58.7,37.7 58.6,39.5 58.2,41.4C57.9,43.2 57.5,45.1 56.7,46.8C55.9,48.5 54.8,50.1 53.6,51.5C52.5,52.8 51.0,54.0 49.5,55.0C48.1,56.1 46.6,57.0 45.0,57.8C43.4,58.7 41.8,59.5 40.1,60.0C38.4,60.5 36.6,60.8 34.8,60.8C33.0,60.9 31.2,60.7 29.4,60.3C27.7,60.0 25.8,59.5 24.2,58.7C22.5,58.0 20.9,57.0 19.5,55.8C18.1,54.6 17.0,53.0 16.0,51.4C15.0,49.9 14.3,48.1 13.6,46.4C12.9,44.7 12.2,43.1 11.8,41.3C11.3,39.5 10.8,37.6 10.8,35.8C10.7,34.0 11.0,32.0 11.4,30.2C11.9,28.5 12.7,26.7 13.4,25.1C14.2,23.4 15.1,21.8 16.1,20.3C17.1,18.8 18.2,17.2 19.6,15.9C20.9,14.7 22.5,13.6 24.2,12.8C25.8,12.0 27.6,11.5 29.4,11.2C31.2,10.9 33.0,10.8 34.8,10.8C36.6,10.9 38.4,11.1 40.1,11.6C41.8,12.1 43.5,12.9 45.0,13.7C46.6,14.5 48.0,15.6 49.4,16.7C50.8,17.8 52.3,18.9 53.5,20.3C54.8,21.6 56.0,23.1 56.8,24.7C57.7,26.4 58.2,28.3 58.5,30.2C58.9,32.0 58.8,33.9 58.8,35.8Z" fill="#700000" filter="url(#b2)" opacity="0.7" />
<path d="M58.8,35.8C58.7,37.7 58.6,39.5 58.2,41.4C57.9,43.2 57.5,45.1 56.7,46.8C55.9,48.5 54.8,50.1 53.6,51.5C52.5,52.8 51.0,54.0 49.5,55.0C48.1,56.1 46.6,57.0 45.0,57.8C43.4,58.7 41.8,59.5 40.1,60.0C38.4,60.5 36.6,60.8 34.8,60.8C33.0,60.9 31.2,60.7 29.4,60.3C27.7,60.0 25.8,59.5 24.2,58.7C22.5,58.0 20.9,57.0 19.5,55.8C18.1,54.6 17.0,53.0 16.0,51.4C15.0,49.9 14.3,48.1 13.6,46.4C12.9,44.7 12.2,43.1 11.8,41.3C11.3,39.5 10.8,37.6 10.8,35.8C10.7,34.0 11.0,32.0 11.4,30.2C11.9,28.5 12.7,26.7 13.4,25.1C14.2,23.4 15.1,21.8 16.1,20.3C17.1,18.8 18.2,17.2 19.6,15.9C20.9,14.7 22.5,13.6 24.2,12.8C25.8,12.0 27.6,11.5 29.4,11.2C31.2,10.9 33.0,10.8 34.8,10.8C36.6,10.9 38.4,11.1 40.1,11.6C41.8,12.1 43.5,12.9 45.0,13.7C46.6,14.5 48.0,15.6 49.4,16.7C50.8,17.8 52.3,18.9 53.5,20.3C54.8,21.6 56.0,23.1 56.8,24.7C57.7,26.4 58.2,28.3 58.5,30.2C58.9,32.0 58.8,33.9 58.8,35.8Z" fill="#c01010" filter="url(#spf4)" />
</g></g>
<rect x="1142.7" y="353.6" width="70.0" height="72.4" fill="#000"/>
<clipPath id="q72"><rect x="0" y="0" width="70.0" height="72.4"/></clipPath>
<g transform="translate(1142.7,353.6)"><g clip-path="url(#q72)">
<path d="M57.9,35.8C58.0,37.6 58.2,39.5 58.1,41.3C58.0,43.2 57.9,45.3 57.3,47.1C56.7,48.9 55.6,50.6 54.3,52.0C53.1,53.4 51.3,54.4 49.8,55.4C48.2,56.3 46.6,57.1 45.0,57.8C43.4,58.6 41.8,59.4 40.1,59.8C38.4,60.3 36.6,60.6 34.8,60.6C33.0,60.7 31.2,60.4 29.5,60.0C27.8,59.6 26.0,59.0 24.4,58.3C22.8,57.5 21.2,56.6 19.8,55.4C18.4,54.3 17.2,52.8 16.1,51.3C15.0,49.9 14.1,48.3 13.2,46.6C12.4,45.0 11.4,43.3 10.9,41.5C10.3,39.7 9.9,37.7 9.9,35.8C10.0,33.9 10.6,32.0 11.3,30.2C12.0,28.5 13.1,27.0 14.1,25.4C15.0,23.8 15.8,22.3 16.8,20.8C17.7,19.3 18.6,17.6 19.9,16.3C21.1,14.9 22.6,13.7 24.2,12.8C25.8,11.9 27.6,11.5 29.4,11.1C31.2,10.7 33.0,10.6 34.8,10.6C36.6,10.7 38.4,10.8 40.2,11.3C41.9,11.7 43.6,12.4 45.2,13.2C46.8,14.1 48.3,15.2 49.7,16.3C51.1,17.5 52.5,18.7 53.6,20.2C54.7,21.6 55.8,23.2 56.5,24.9C57.1,26.6 57.4,28.5 57.7,30.4C57.9,32.2 57.9,34.0 57.9,35.8Z" fill="#3a3a3a" filter="url(#b05)" />
<path d="M57.9,35.8C58.0,37.6 58.2,39.5 58.1,41.3C58.0,43.2 57.9,45.3 57.3,47.1C56.7,48.9 55.6,50.6 54.3,52.0C53.1,53.4 51.3,54.4 49.8,55.4C48.2,56.3 46.6,57.1 45.0,57.8C43.4,58.6 41.8,59.4 40.1,59.8C38.4,60.3 36.6,60.6 34.8,60.6C33.0,60.7 31.2,60.4 29.5,60.0C27.8,59.6 26.0,59.0 24.4,58.3C22.8,57.5 21.2,56.6 19.8,55.4C18.4,54.3 17.2,52.8 16.1,51.3C15.0,49.9 14.1,48.3 13.2,46.6C12.4,45.0 11.4,43.3 10.9,41.5C10.3,39.7 9.9,37.7 9.9,35.8C10.0,33.9 10.6,32.0 11.3,30.2C12.0,28.5 13.1,27.0 14.1,25.4C15.0,23.8 15.8,22.3 16.8,20.8C17.7,19.3 18.6,17.6 19.9,16.3C21.1,14.9 22.6,13.7 24.2,12.8C25.8,11.9 27.6,11.5 29.4,11.1C31.2,10.7 33.0,10.6 34.8,10.6C36.6,10.7 38.4,10.8 40.2,11.3C41.9,11.7 43.6,12.4 45.2,13.2C46.8,14.1 48.3,15.2 49.7,16.3C51.1,17.5 52.5,18.7 53.6,20.2C54.7,21.6 55.8,23.2 56.5,24.9C57.1,26.6 57.4,28.5 57.7,30.4C57.9,32.2 57.9,34.0 57.9,35.8Z" fill="#aaaaaa" filter="url(#nts3)" />
<ellipse cx="28.0" cy="30.0" rx="6.0" ry="6.0" transform="rotate(0 28.0 30.0)" fill="#000" opacity="0.85" filter="url(#b1)"/>
<ellipse cx="40.0" cy="42.0" rx="5.0" ry="5.0" transform="rotate(0 40.0 42.0)" fill="#000" opacity="0.85" filter="url(#b1)"/>
<ellipse cx="24.0" cy="46.0" rx="4.0" ry="4.0" transform="rotate(0 24.0 46.0)" fill="#000" opacity="0.85" filter="url(#b1)"/>
<ellipse cx="44.0" cy="24.0" rx="4.0" ry="4.0" transform="rotate(0 44.0 24.0)" fill="#000" opacity="0.85" filter="url(#b1)"/>
<path d="M57.9,35.8C58.0,37.6 58.2,39.5 58.1,41.3C58.0,43.2 57.9,45.3 57.3,47.1C56.7,48.9 55.6,50.6 54.3,52.0C53.1,53.4 51.3,54.4 49.8,55.4C48.2,56.3 46.6,57.1 45.0,57.8C43.4,58.6 41.8,59.4 40.1,59.8C38.4,60.3 36.6,60.6 34.8,60.6C33.0,60.7 31.2,60.4 29.5,60.0C27.8,59.6 26.0,59.0 24.4,58.3C22.8,57.5 21.2,56.6 19.8,55.4C18.4,54.3 17.2,52.8 16.1,51.3C15.0,49.9 14.1,48.3 13.2,46.6C12.4,45.0 11.4,43.3 10.9,41.5C10.3,39.7 9.9,37.7 9.9,35.8C10.0,33.9 10.6,32.0 11.3,30.2C12.0,28.5 13.1,27.0 14.1,25.4C15.0,23.8 15.8,22.3 16.8,20.8C17.7,19.3 18.6,17.6 19.9,16.3C21.1,14.9 22.6,13.7 24.2,12.8C25.8,11.9 27.6,11.5 29.4,11.1C31.2,10.7 33.0,10.6 34.8,10.6C36.6,10.7 38.4,10.8 40.2,11.3C41.9,11.7 43.6,12.4 45.2,13.2C46.8,14.1 48.3,15.2 49.7,16.3C51.1,17.5 52.5,18.7 53.6,20.2C54.7,21.6 55.8,23.2 56.5,24.9C57.1,26.6 57.4,28.5 57.7,30.4C57.9,32.2 57.9,34.0 57.9,35.8Z" fill="none" filter="url(#b05)" stroke="#c8c8c8" stroke-width="2.2" opacity="0.85"/>
</g></g>
<rect x="1218.0" y="353.6" width="70.6" height="72.4" fill="#000"/>
<clipPath id="q73"><rect x="0" y="0" width="70.6" height="72.4"/></clipPath>
<g transform="translate(1218.0,353.6)"><g clip-path="url(#q73)">
<path d="M57.9,35.8C58.0,37.6 58.2,39.5 58.1,41.3C58.0,43.2 57.9,45.3 57.3,47.1C56.7,48.9 55.6,50.6 54.3,52.0C53.1,53.4 51.3,54.4 49.8,55.4C48.2,56.3 46.6,57.1 45.0,57.8C43.4,58.6 41.8,59.4 40.1,59.8C38.4,60.3 36.6,60.6 34.8,60.6C33.0,60.7 31.2,60.4 29.5,60.0C27.8,59.6 26.0,59.0 24.4,58.3C22.8,57.5 21.2,56.6 19.8,55.4C18.4,54.3 17.2,52.8 16.1,51.3C15.0,49.9 14.1,48.3 13.2,46.6C12.4,45.0 11.4,43.3 10.9,41.5C10.3,39.7 9.9,37.7 9.9,35.8C10.0,33.9 10.6,32.0 11.3,30.2C12.0,28.5 13.1,27.0 14.1,25.4C15.0,23.8 15.8,22.3 16.8,20.8C17.7,19.3 18.6,17.6 19.9,16.3C21.1,14.9 22.6,13.7 24.2,12.8C25.8,11.9 27.6,11.5 29.4,11.1C31.2,10.7 33.0,10.6 34.8,10.6C36.6,10.7 38.4,10.8 40.2,11.3C41.9,11.7 43.6,12.4 45.2,13.2C46.8,14.1 48.3,15.2 49.7,16.3C51.1,17.5 52.5,18.7 53.6,20.2C54.7,21.6 55.8,23.2 56.5,24.9C57.1,26.6 57.4,28.5 57.7,30.4C57.9,32.2 57.9,34.0 57.9,35.8Z" fill="#502828" filter="url(#b05)" />
<path d="M57.9,35.8C58.0,37.6 58.2,39.5 58.1,41.3C58.0,43.2 57.9,45.3 57.3,47.1C56.7,48.9 55.6,50.6 54.3,52.0C53.1,53.4 51.3,54.4 49.8,55.4C48.2,56.3 46.6,57.1 45.0,57.8C43.4,58.6 41.8,59.4 40.1,59.8C38.4,60.3 36.6,60.6 34.8,60.6C33.0,60.7 31.2,60.4 29.5,60.0C27.8,59.6 26.0,59.0 24.4,58.3C22.8,57.5 21.2,56.6 19.8,55.4C18.4,54.3 17.2,52.8 16.1,51.3C15.0,49.9 14.1,48.3 13.2,46.6C12.4,45.0 11.4,43.3 10.9,41.5C10.3,39.7 9.9,37.7 9.9,35.8C10.0,33.9 10.6,32.0 11.3,30.2C12.0,28.5 13.1,27.0 14.1,25.4C15.0,23.8 15.8,22.3 16.8,20.8C17.7,19.3 18.6,17.6 19.9,16.3C21.1,14.9 22.6,13.7 24.2,12.8C25.8,11.9 27.6,11.5 29.4,11.1C31.2,10.7 33.0,10.6 34.8,10.6C36.6,10.7 38.4,10.8 40.2,11.3C41.9,11.7 43.6,12.4 45.2,13.2C46.8,14.1 48.3,15.2 49.7,16.3C51.1,17.5 52.5,18.7 53.6,20.2C54.7,21.6 55.8,23.2 56.5,24.9C57.1,26.6 57.4,28.5 57.7,30.4C57.9,32.2 57.9,34.0 57.9,35.8Z" fill="#d49aa0" filter="url(#nts3)" />
<ellipse cx="28.0" cy="30.0" rx="6.0" ry="6.0" transform="rotate(0 28.0 30.0)" fill="#000" opacity="0.85" filter="url(#b1)"/>
<ellipse cx="40.0" cy="42.0" rx="5.0" ry="5.0" transform="rotate(0 40.0 42.0)" fill="#000" opacity="0.85" filter="url(#b1)"/>
<ellipse cx="24.0" cy="46.0" rx="4.0" ry="4.0" transform="rotate(0 24.0 46.0)" fill="#000" opacity="0.85" filter="url(#b1)"/>
<ellipse cx="44.0" cy="24.0" rx="4.0" ry="4.0" transform="rotate(0 44.0 24.0)" fill="#000" opacity="0.85" filter="url(#b1)"/>
<path d="M57.9,35.8C58.0,37.6 58.2,39.5 58.1,41.3C58.0,43.2 57.9,45.3 57.3,47.1C56.7,48.9 55.6,50.6 54.3,52.0C53.1,53.4 51.3,54.4 49.8,55.4C48.2,56.3 46.6,57.1 45.0,57.8C43.4,58.6 41.8,59.4 40.1,59.8C38.4,60.3 36.6,60.6 34.8,60.6C33.0,60.7 31.2,60.4 29.5,60.0C27.8,59.6 26.0,59.0 24.4,58.3C22.8,57.5 21.2,56.6 19.8,55.4C18.4,54.3 17.2,52.8 16.1,51.3C15.0,49.9 14.1,48.3 13.2,46.6C12.4,45.0 11.4,43.3 10.9,41.5C10.3,39.7 9.9,37.7 9.9,35.8C10.0,33.9 10.6,32.0 11.3,30.2C12.0,28.5 13.1,27.0 14.1,25.4C15.0,23.8 15.8,22.3 16.8,20.8C17.7,19.3 18.6,17.6 19.9,16.3C21.1,14.9 22.6,13.7 24.2,12.8C25.8,11.9 27.6,11.5 29.4,11.1C31.2,10.7 33.0,10.6 34.8,10.6C36.6,10.7 38.4,10.8 40.2,11.3C41.9,11.7 43.6,12.4 45.2,13.2C46.8,14.1 48.3,15.2 49.7,16.3C51.1,17.5 52.5,18.7 53.6,20.2C54.7,21.6 55.8,23.2 56.5,24.9C57.1,26.6 57.4,28.5 57.7,30.4C57.9,32.2 57.9,34.0 57.9,35.8Z" fill="none" filter="url(#b05)" stroke="#e0b8b8" stroke-width="2.2" opacity="0.85"/>
<g style="mix-blend-mode:screen" opacity="0.65">
<path d="M58.8,35.8C58.7,37.7 58.6,39.5 58.2,41.4C57.9,43.2 57.5,45.1 56.7,46.8C55.9,48.5 54.8,50.1 53.6,51.5C52.5,52.8 51.0,54.0 49.5,55.0C48.1,56.1 46.6,57.0 45.0,57.8C43.4,58.7 41.8,59.5 40.1,60.0C38.4,60.5 36.6,60.8 34.8,60.8C33.0,60.9 31.2,60.7 29.4,60.3C27.7,60.0 25.8,59.5 24.2,58.7C22.5,58.0 20.9,57.0 19.5,55.8C18.1,54.6 17.0,53.0 16.0,51.4C15.0,49.9 14.3,48.1 13.6,46.4C12.9,44.7 12.2,43.1 11.8,41.3C11.3,39.5 10.8,37.6 10.8,35.8C10.7,34.0 11.0,32.0 11.4,30.2C11.9,28.5 12.7,26.7 13.4,25.1C14.2,23.4 15.1,21.8 16.1,20.3C17.1,18.8 18.2,17.2 19.6,15.9C20.9,14.7 22.5,13.6 24.2,12.8C25.8,12.0 27.6,11.5 29.4,11.2C31.2,10.9 33.0,10.8 34.8,10.8C36.6,10.9 38.4,11.1 40.1,11.6C41.8,12.1 43.5,12.9 45.0,13.7C46.6,14.5 48.0,15.6 49.4,16.7C50.8,17.8 52.3,18.9 53.5,20.3C54.8,21.6 56.0,23.1 56.8,24.7C57.7,26.4 58.2,28.3 58.5,30.2C58.9,32.0 58.8,33.9 58.8,35.8Z" fill="#700000" filter="url(#b2)" opacity="0.7" />
<path d="M58.8,35.8C58.7,37.7 58.6,39.5 58.2,41.4C57.9,43.2 57.5,45.1 56.7,46.8C55.9,48.5 54.8,50.1 53.6,51.5C52.5,52.8 51.0,54.0 49.5,55.0C48.1,56.1 46.6,57.0 45.0,57.8C43.4,58.7 41.8,59.5 40.1,60.0C38.4,60.5 36.6,60.8 34.8,60.8C33.0,60.9 31.2,60.7 29.4,60.3C27.7,60.0 25.8,59.5 24.2,58.7C22.5,58.0 20.9,57.0 19.5,55.8C18.1,54.6 17.0,53.0 16.0,51.4C15.0,49.9 14.3,48.1 13.6,46.4C12.9,44.7 12.2,43.1 11.8,41.3C11.3,39.5 10.8,37.6 10.8,35.8C10.7,34.0 11.0,32.0 11.4,30.2C11.9,28.5 12.7,26.7 13.4,25.1C14.2,23.4 15.1,21.8 16.1,20.3C17.1,18.8 18.2,17.2 19.6,15.9C20.9,14.7 22.5,13.6 24.2,12.8C25.8,12.0 27.6,11.5 29.4,11.2C31.2,10.9 33.0,10.8 34.8,10.8C36.6,10.9 38.4,11.1 40.1,11.6C41.8,12.1 43.5,12.9 45.0,13.7C46.6,14.5 48.0,15.6 49.4,16.7C50.8,17.8 52.3,18.9 53.5,20.3C54.8,21.6 56.0,23.1 56.8,24.7C57.7,26.4 58.2,28.3 58.5,30.2C58.9,32.0 58.8,33.9 58.8,35.8Z" fill="#c01010" filter="url(#spf4)" />
</g>
</g></g>
<path d="M9.5,753.4 L11.9,750.4 Q21.8,751.4 29.4,755.5 L27.0,758.6 Q17.1,757.5 9.5,753.4Z" fill="#12a8b8"/>
<path d="M17.8,742.8 L20.2,739.7 Q30.2,740.8 37.8,744.8 L35.4,747.9 Q25.4,746.8 17.8,742.8Z" fill="#12a8b8"/>
<path d="M26.1,732.1 L28.5,729.0 Q38.5,730.1 46.1,734.2 L43.7,737.2 Q33.7,736.2 26.1,732.1Z" fill="#12a8b8"/>
<path d="M34.5,721.4 L36.9,718.4 Q46.8,719.4 54.4,723.5 L52.0,726.6 Q42.1,725.5 34.5,721.4Z" fill="#12a8b8"/>
<path d="M42.8,710.8 L45.2,707.7 Q55.2,708.8 62.8,712.8 L60.4,715.9 Q50.4,714.8 42.8,710.8Z" fill="#12a8b8"/>
<path d="M51.1,700.1 L53.5,697.0 Q63.5,698.1 71.1,702.2 L68.7,705.2 Q58.7,704.2 51.1,700.1Z" fill="#12a8b8"/>
<path d="M59.5,689.4 L61.9,686.4 Q71.8,687.4 79.4,691.5 L77.0,694.6 Q67.1,693.5 59.5,689.4Z" fill="#12a8b8"/>
<path d="M67.8,678.8 L70.2,675.7 Q80.2,676.8 87.8,680.8 L85.4,683.9 Q75.4,682.8 67.8,678.8Z" fill="#12a8b8"/>
<path d="M76.1,668.1 L78.5,665.0 Q88.5,666.1 96.1,670.2 L93.7,673.2 Q83.7,672.2 76.1,668.1Z" fill="#12a8b8"/>
<path d="M84.5,657.4 L86.9,654.4 Q96.8,655.4 104.4,659.5 L102.0,662.6 Q92.1,661.5 84.5,657.4Z" fill="#12a8b8"/>
<path d="M92.8,646.8 L95.2,643.7 Q105.2,644.8 112.8,648.8 L110.4,651.9 Q100.4,650.8 92.8,646.8Z" fill="#12a8b8"/>
<path d="M101.1,636.1 L103.5,633.0 Q113.5,634.1 121.1,638.2 L118.7,641.2 Q108.7,640.2 101.1,636.1Z" fill="#12a8b8"/>
<path d="M18.7,769.2 L22.7,764.1 Q20.4,753.2 13.5,748.3 L9.5,753.4 Q12.8,763.0 18.7,769.2Z" fill="#22d3e0"/>
<path d="M27.0,758.6 L31.0,753.4 Q28.8,742.5 21.8,737.6 L17.8,742.8 Q21.1,752.3 27.0,758.6Z" fill="#22d3e0"/>
<path d="M35.4,747.9 L39.4,742.8 Q37.1,731.9 30.1,727.0 L26.1,732.1 Q29.4,741.7 35.4,747.9Z" fill="#22d3e0"/>
<path d="M43.7,737.2 L47.7,732.1 Q45.4,721.2 38.5,716.3 L34.5,721.4 Q37.8,731.0 43.7,737.2Z" fill="#22d3e0"/>
<path d="M52.0,726.6 L56.0,721.4 Q53.8,710.5 46.8,705.6 L42.8,710.8 Q46.1,720.3 52.0,726.6Z" fill="#22d3e0"/>
<path d="M60.4,715.9 L64.4,710.8 Q62.1,699.9 55.1,695.0 L51.1,700.1 Q54.4,709.7 60.4,715.9Z" fill="#22d3e0"/>
<path d="M68.7,705.2 L72.7,700.1 Q70.4,689.2 63.5,684.3 L59.5,689.4 Q62.8,699.0 68.7,705.2Z" fill="#22d3e0"/>
<path d="M77.0,694.6 L81.0,689.4 Q78.8,678.5 71.8,673.6 L67.8,678.8 Q71.1,688.3 77.0,694.6Z" fill="#22d3e0"/>
<path d="M85.4,683.9 L89.4,678.8 Q87.1,667.9 80.1,663.0 L76.1,668.1 Q79.4,677.7 85.4,683.9Z" fill="#22d3e0"/>
<path d="M93.7,673.2 L97.7,668.1 Q95.4,657.2 88.5,652.3 L84.5,657.4 Q87.8,667.0 93.7,673.2Z" fill="#22d3e0"/>
<path d="M102.0,662.6 L106.0,657.4 Q103.8,646.5 96.8,641.6 L92.8,646.8 Q96.1,656.3 102.0,662.6Z" fill="#22d3e0"/>
<path d="M110.4,651.9 L114.4,646.8 Q112.1,635.9 105.1,631.0 L101.1,636.1 Q104.4,645.7 110.4,651.9Z" fill="#22d3e0"/>
<path d="M121.9,687.6 L119.8,684.0 Q123.6,675.5 129.2,670.3 L131.3,673.8 Q127.6,682.4 121.9,687.6Z" fill="#12a8b8"/>
<path d="M114.7,675.2 L112.6,671.6 Q116.4,663.1 122.0,657.9 L124.1,661.4 Q120.4,670.0 114.7,675.2Z" fill="#12a8b8"/>
<path d="M107.5,662.8 L105.4,659.2 Q109.2,650.7 114.8,645.5 L116.9,649.0 Q113.2,657.6 107.5,662.8Z" fill="#12a8b8"/>
<path d="M100.3,650.4 L98.2,646.8 Q102.0,638.3 107.6,633.1 L109.7,636.6 Q106.0,645.2 100.3,650.4Z" fill="#12a8b8"/>
<path d="M93.1,638.0 L91.0,634.4 Q94.8,625.9 100.4,620.7 L102.5,624.2 Q98.8,632.8 93.1,638.0Z" fill="#12a8b8"/>
<path d="M138.5,686.2 L135.0,680.3 Q125.0,678.0 118.5,681.6 L121.9,687.6 Q131.1,688.5 138.5,686.2Z" fill="#22d3e0"/>
<path d="M131.3,673.8 L127.8,667.9 Q117.8,665.6 111.3,669.2 L114.7,675.2 Q123.9,676.1 131.3,673.8Z" fill="#22d3e0"/>
<path d="M124.1,661.4 L120.6,655.5 Q110.6,653.2 104.1,656.8 L107.5,662.8 Q116.7,663.7 124.1,661.4Z" fill="#22d3e0"/>
<path d="M116.9,649.0 L113.4,643.1 Q103.4,640.8 96.9,644.4 L100.3,650.4 Q109.5,651.3 116.9,649.0Z" fill="#22d3e0"/>
<path d="M109.7,636.6 L106.2,630.7 Q96.2,628.4 89.7,632.0 L93.1,638.0 Q102.3,638.9 109.7,636.6Z" fill="#22d3e0"/>
<path d="M111.3,737.8 L114.0,735.0 Q123.2,736.2 129.7,740.3 L126.9,743.2 Q117.8,741.9 111.3,737.8Z" fill="#12a8b8"/>
<path d="M120.8,727.8 L123.5,725.0 Q132.7,726.2 139.2,730.3 L136.4,733.2 Q127.3,731.9 120.8,727.8Z" fill="#12a8b8"/>
<path d="M130.3,717.8 L133.0,715.0 Q142.2,716.2 148.7,720.3 L145.9,723.2 Q136.8,721.9 130.3,717.8Z" fill="#12a8b8"/>
<path d="M139.8,707.8 L142.5,705.0 Q151.7,706.2 158.2,710.3 L155.4,713.2 Q146.3,711.9 139.8,707.8Z" fill="#12a8b8"/>
<path d="M117.4,753.2 L122.0,748.4 Q121.3,738.3 115.9,733.0 L111.3,737.8 Q113.1,746.9 117.4,753.2Z" fill="#22d3e0"/>
<path d="M126.9,743.2 L131.5,738.4 Q130.8,728.3 125.4,723.0 L120.8,727.8 Q122.6,736.9 126.9,743.2Z" fill="#22d3e0"/>
<path d="M136.4,733.2 L141.0,728.4 Q140.3,718.3 134.9,713.0 L130.3,717.8 Q132.1,726.9 136.4,733.2Z" fill="#22d3e0"/>
<path d="M145.9,723.2 L150.5,718.4 Q149.8,708.3 144.4,703.0 L139.8,707.8 Q141.6,716.9 145.9,723.2Z" fill="#22d3e0"/>
<path d="M104,627 C98,616 110,609 124,609 C136,609 140,620 150,620 C162,620 168,628 172,638 C176,646 184,652 188,658 C196,664 206,662 214,666" stroke="#22d3e0" stroke-width="1.6" fill="none" opacity="1" stroke-linecap="round" stroke-linejoin="round" />
<path d="M10,760 C14,770 26,760 22,752" stroke="#22d3e0" stroke-width="1.6" fill="none" opacity="1" stroke-linecap="round" stroke-linejoin="round" />
<path d="M134,692 C179.0,677 189.0,680 224,683" stroke="#22d3e0" stroke-width="7.5" fill="none" opacity="1" stroke-linecap="round" stroke-linejoin="round" />
<path d="M140,706 C175.0,689 185.0,692 210,695" stroke="#22d3e0" stroke-width="7.5" fill="none" opacity="1" stroke-linecap="round" stroke-linejoin="round" />
<path d="M136,722 C167.0,716 177.0,719 198,722" stroke="#22d3e0" stroke-width="7.5" fill="none" opacity="1" stroke-linecap="round" stroke-linejoin="round" />
<path d="M126,734 C149.0,710 159.0,713 172,716" stroke="#22d3e0" stroke-width="6" fill="none" opacity="1" stroke-linecap="round" stroke-linejoin="round" />
<path d="M120,742 C130,748 140,738 150,742 C160,746 168,752 178,746" stroke="#22d3e0" stroke-width="1.6" fill="none" opacity="1" stroke-linecap="round" stroke-linejoin="round" />
<path d="M132,760 C138,750 146,752 150,746" stroke="#22d3e0" stroke-width="1.6" fill="none" opacity="1" stroke-linecap="round" stroke-linejoin="round" />
<path d="M173,635 C180,630 188,628 196,626 C204,624 210,626 217,624 C222,622 226,620 229,619" stroke="#e8e020" stroke-width="1.4" fill="none" opacity="1" stroke-linecap="round" stroke-linejoin="round" />
<path d="M142,640 C150,630 165,640 170,650 C178,664 160,676 172,690 C184,706 200,700 210,712 C222,724 246,712 254,700 C262,690 276,698 271,699" stroke="#e8e020" stroke-width="1.4" fill="none" opacity="1" stroke-linecap="round" stroke-linejoin="round" />
<path d="M186,682 C176,700 190,712 206,706 C220,700 230,708 246,700" stroke="#e8e020" stroke-width="1.4" fill="none" opacity="1" stroke-linecap="round" stroke-linejoin="round" />
<path d="M199,705 C214,712 236,704 250,702 C258,700 266,702 271,699" stroke="#e8e020" stroke-width="1.4" fill="none" opacity="1" stroke-linecap="round" stroke-linejoin="round" />
<path d="M200,668 C206,676 216,680 226,676 C238,672 250,676 262,690" stroke="#e8e020" stroke-width="1.4" fill="none" opacity="1" stroke-linecap="round" stroke-linejoin="round" />
<path d="M232,668 C226,686 240,696 252,690 C262,684 268,676 264,664" stroke="#e8e020" stroke-width="1.4" fill="none" opacity="1" stroke-linecap="round" stroke-linejoin="round" />
<path d="M176,646 C170,660 176,676 182,690" stroke="#e8e020" stroke-width="1.4" fill="none" opacity="1" stroke-linecap="round" stroke-linejoin="round" />
<path d="M210,690 C200,700 214,710 226,702" stroke="#e8e020" stroke-width="1.4" fill="none" opacity="1" stroke-linecap="round" stroke-linejoin="round" />
<path d="M200.2,654.5 L204.3,651.1 Q214.1,652.8 220.8,657.0 L216.8,660.3 Q206.9,658.7 200.2,654.5Z" fill="#b8b010"/>
<path d="M214.2,643.0 L218.3,639.6 Q228.1,641.3 234.8,645.5 L230.8,648.8 Q220.9,647.2 214.2,643.0Z" fill="#b8b010"/>
<path d="M228.2,631.5 L232.3,628.1 Q242.1,629.8 248.8,634.0 L244.8,637.3 Q234.9,635.7 228.2,631.5Z" fill="#b8b010"/>
<path d="M242.2,620.0 L246.3,616.6 Q256.1,618.3 262.8,622.5 L258.8,625.8 Q248.9,624.2 242.2,620.0Z" fill="#b8b010"/>
<path d="M202.8,671.8 L209.5,666.3 Q210.8,655.5 207.0,648.9 L200.2,654.5 Q200.1,664.3 202.8,671.8Z" fill="#e8e020"/>
<path d="M216.8,660.3 L223.5,654.8 Q224.8,644.0 221.0,637.4 L214.2,643.0 Q214.1,652.8 216.8,660.3Z" fill="#e8e020"/>
<path d="M230.8,648.8 L237.5,643.3 Q238.8,632.5 235.0,625.9 L228.2,631.5 Q228.1,641.3 230.8,648.8Z" fill="#e8e020"/>
<path d="M244.8,637.3 L251.5,631.8 Q252.8,621.0 249.0,614.4 L242.2,620.0 Q242.1,629.8 244.8,637.3Z" fill="#e8e020"/>
<polygon points="186,652 193,649 199,676 203,675 198,688 190,679 194,678" fill="#e2da1c"/>
<polygon points="199,667 205,663 213,676 217,674 215,686 206,682 209,680" fill="#d8d018"/>
<polygon points="234,660 240,656 280,680 283,684 279,689 274,686 233,666" fill="#a8a010"/>
<polygon points="236,659 262,656 270,664 266,668 260,663 238,665" fill="#b0a812"/>
<path d="M74,617 C84,612 96,618 90,636 C84,650 100,664 120,672 C134,678 146,684 154,690 C160,700 154,712 160,722 C166,732 178,736 176,748 C172,758 184,762 196,756 C210,748 222,744 232,742 C238,742 242,746 244,750" stroke="#d622b8" stroke-width="1.8" fill="none" opacity="1" stroke-linecap="round" stroke-linejoin="round" />
<path d="M88,646 C96,652 100,660 104,666" stroke="#d622b8" stroke-width="1.8" fill="none" opacity="1" stroke-linecap="round" stroke-linejoin="round" />
<path d="M150,672 C156,668 162,680 158,690" stroke="#d622b8" stroke-width="1.8" fill="none" opacity="1" stroke-linecap="round" stroke-linejoin="round" />
<ellipse cx="132.1" cy="693.8" rx="13.6" ry="7.4" fill="none" stroke="#d622b8" stroke-width="1.5" opacity="0.9"/>
<ellipse cx="181.5" cy="737.8" rx="11.5" ry="8" fill="none" stroke="#d622b8" stroke-width="1.5" opacity="0.9"/>
<path d="M150,690 L154,700 L150,706" stroke="#e07820" stroke-width="2.2" fill="none" opacity="1" stroke-linecap="round" stroke-linejoin="round" />
<path d="M172,706 L178,714 L174,720" stroke="#e07820" stroke-width="2.2" fill="none" opacity="1" stroke-linecap="round" stroke-linejoin="round" />
<path d="M138,736 L150,740 L160,736 L156,744" stroke="#e07820" stroke-width="2.2" fill="none" opacity="1" stroke-linecap="round" stroke-linejoin="round" />
<path d="M130,754 L136,762 L140,768" stroke="#e07820" stroke-width="2.2" fill="none" opacity="1" stroke-linecap="round" stroke-linejoin="round" />
<path d="M144,740 L152,748" stroke="#e07820" stroke-width="2.2" fill="none" opacity="1" stroke-linecap="round" stroke-linejoin="round" />
<path d="M148,746 L154,742 L160,750" stroke="#3040d0" stroke-width="1.6" fill="none" opacity="1" stroke-linecap="round" stroke-linejoin="round" />
<path d="M178,699 L184,702" stroke="#3040d0" stroke-width="1.6" fill="none" opacity="1" stroke-linecap="round" stroke-linejoin="round" />
<path d="M205,696 L210,700" stroke="#3040d0" stroke-width="1.6" fill="none" opacity="1" stroke-linecap="round" stroke-linejoin="round" />
<path d="M152,672 L156,676" stroke="#3040d0" stroke-width="1.6" fill="none" opacity="1" stroke-linecap="round" stroke-linejoin="round" />
<line x1="132.1" y1="650" x2="151.9" y2="690.8" stroke="#111" stroke-width="1.3"/>
<line x1="166.7" y1="690.8" x2="211.2" y2="720.5" stroke="#111" stroke-width="1.3"/>
<line x1="156.8" y1="747.6" x2="167.9" y2="765" stroke="#111" stroke-width="1.3"/>
<line x1="127" y1="552.5" x2="122" y2="558" stroke="#3a78d0" stroke-width="1.2"/>
<polygon points="116.5,565.5 127.5,560.5 119.5,555.5" fill="#3a72cc"/>
<line x1="194" y1="552.5" x2="198" y2="557" stroke="#3a78d0" stroke-width="1.2"/>
<polygon points="202.6,565.5 193,560 201,554.5" fill="#3a72cc"/>
<clipPath id="bl1"><rect x="526.4" y="612.3" width="310.8" height="34.1"/></clipPath><g clip-path="url(#bl1)">
<path d="M560.0,628.5 C560.0,626.4 566.0,627.2 570.0,627.7 C574.0,627.2 580.0,626.4 580.0,628.5 C580.0,630.6 574.0,629.8 570.0,629.3 C566.0,629.8 560.0,630.6 560.0,628.5Z" fill="#000" opacity="0.6" filter="url(#b05)"/>
<path d="M589.0,628.8 C589.0,626.8 595.0,627.6 598.5,628.1 C602.0,627.6 608.0,626.8 608.0,628.8 C608.0,630.8 602.0,630.0 598.5,629.5 C595.0,630.0 589.0,630.8 589.0,628.8Z" fill="#000" opacity="0.45" filter="url(#b05)"/>
<path d="M617.0,627.8 C617.0,625.2 623.0,626.0 628.5,626.5 C634.0,626.0 640.0,625.2 640.0,627.8 C640.0,630.4 634.0,629.6 628.5,629.1 C623.0,629.6 617.0,630.4 617.0,627.8Z" fill="#000" opacity="0.95" filter="url(#b05)"/>
<path d="M646.0,628.5 C646.0,626.5 652.0,627.3 655.0,627.8 C658.0,627.3 664.0,626.5 664.0,628.5 C664.0,630.5 658.0,629.7 655.0,629.2 C652.0,629.7 646.0,630.5 646.0,628.5Z" fill="#000" opacity="0.45" filter="url(#b05)"/>
<path d="M725.0,628.4 C725.0,624.9 731.0,625.6 736.0,626.1 C741.0,625.6 747.0,624.9 747.0,628.4 C747.0,631.9 741.0,631.1 736.0,630.6 C731.0,631.1 725.0,631.9 725.0,628.4Z" fill="#000" opacity="1" filter="url(#b05)"/>
<path d="M754.0,628.6 C754.0,625.3 760.0,626.1 765.0,626.6 C770.0,626.1 776.0,625.3 776.0,628.6 C776.0,631.9 770.0,631.1 765.0,630.6 C760.0,631.1 754.0,631.9 754.0,628.6Z" fill="#000" opacity="1" filter="url(#b05)"/>
<path d="M784.0,629.0 C784.0,626.7 790.0,627.5 794.5,628.0 C799.0,627.5 805.0,626.7 805.0,629.0 C805.0,631.3 799.0,630.5 794.5,630.0 C790.0,630.5 784.0,631.3 784.0,629.0Z" fill="#000" opacity="0.9" filter="url(#b05)"/>
<path d="M812.0,628.4 C812.0,625.6 818.0,626.4 823.5,626.9 C829.0,626.4 835.0,625.6 835.0,628.4 C835.0,631.2 829.0,630.4 823.5,629.9 C818.0,630.4 812.0,631.2 812.0,628.4Z" fill="#000" opacity="1" filter="url(#b05)"/>
</g>
<clipPath id="bl2"><rect x="845.2" y="611.6" width="309.6" height="34.6"/></clipPath><g clip-path="url(#bl2)">
<path d="M877.0,625.0 C877.0,618.5 883.0,620.0 890.0,620.5 C897.0,620.0 903.0,618.5 903.0,625.0 C903.0,631.5 897.0,630.0 890.0,629.5 C883.0,630.0 877.0,631.5 877.0,625.0Z" fill="#000" opacity="1" filter="url(#b1)"/>
<path d="M880.0,634.0 C880.0,632.5 886.0,632.5 890.0,633.0 C894.0,632.5 900.0,632.5 900.0,634.0 C900.0,635.5 894.0,635.5 890.0,635.0 C886.0,635.5 880.0,635.5 880.0,634.0Z" fill="#111" opacity="0.35" filter="url(#b1)"/>
<path d="M880.0,638.5 C880.0,637.0 886.0,637.0 890.0,637.5 C894.0,637.0 900.0,637.0 900.0,638.5 C900.0,640.0 894.0,640.0 890.0,639.5 C886.0,640.0 880.0,640.0 880.0,638.5Z" fill="#111" opacity="0.45" filter="url(#b1)"/>
<path d="M880.0,644.0 C880.0,642.5 886.0,642.5 890.0,643.0 C894.0,642.5 900.0,642.5 900.0,644.0 C900.0,645.5 894.0,645.5 890.0,645.0 C886.0,645.5 880.0,645.5 880.0,644.0Z" fill="#111" opacity="0.6" filter="url(#b1)"/>
<path d="M931.0,625.0 C931.0,618.5 937.0,620.0 945.5,620.5 C954.0,620.0 960.0,618.5 960.0,625.0 C960.0,631.5 954.0,630.0 945.5,629.5 C937.0,630.0 931.0,631.5 931.0,625.0Z" fill="#000" opacity="1" filter="url(#b1)"/>
<path d="M934.0,634.0 C934.0,632.5 940.0,632.5 945.5,633.0 C951.0,632.5 957.0,632.5 957.0,634.0 C957.0,635.5 951.0,635.5 945.5,635.0 C940.0,635.5 934.0,635.5 934.0,634.0Z" fill="#111" opacity="0.35" filter="url(#b1)"/>
<path d="M934.0,638.5 C934.0,637.0 940.0,637.0 945.5,637.5 C951.0,637.0 957.0,637.0 957.0,638.5 C957.0,640.0 951.0,640.0 945.5,639.5 C940.0,640.0 934.0,640.0 934.0,638.5Z" fill="#111" opacity="0.45" filter="url(#b1)"/>
<path d="M934.0,644.0 C934.0,642.5 940.0,642.5 945.5,643.0 C951.0,642.5 957.0,642.5 957.0,644.0 C957.0,645.5 951.0,645.5 945.5,645.0 C940.0,645.5 934.0,645.5 934.0,644.0Z" fill="#111" opacity="0.6" filter="url(#b1)"/>
<path d="M1045.0,625.0 C1045.0,618.5 1051.0,620.0 1058.5,620.5 C1066.0,620.0 1072.0,618.5 1072.0,625.0 C1072.0,631.5 1066.0,630.0 1058.5,629.5 C1051.0,630.0 1045.0,631.5 1045.0,625.0Z" fill="#000" opacity="1" filter="url(#b1)"/>
<path d="M1048.0,634.0 C1048.0,632.5 1054.0,632.5 1058.5,633.0 C1063.0,632.5 1069.0,632.5 1069.0,634.0 C1069.0,635.5 1063.0,635.5 1058.5,635.0 C1054.0,635.5 1048.0,635.5 1048.0,634.0Z" fill="#111" opacity="0.35" filter="url(#b1)"/>
<path d="M1048.0,638.5 C1048.0,637.0 1054.0,637.0 1058.5,637.5 C1063.0,637.0 1069.0,637.0 1069.0,638.5 C1069.0,640.0 1063.0,640.0 1058.5,639.5 C1054.0,640.0 1048.0,640.0 1048.0,638.5Z" fill="#111" opacity="0.45" filter="url(#b1)"/>
<path d="M1048.0,644.0 C1048.0,642.5 1054.0,642.5 1058.5,643.0 C1063.0,642.5 1069.0,642.5 1069.0,644.0 C1069.0,645.5 1063.0,645.5 1058.5,645.0 C1054.0,645.5 1048.0,645.5 1048.0,644.0Z" fill="#111" opacity="0.6" filter="url(#b1)"/>
<path d="M906.0,625.0 C906.0,623.0 912.0,623.8 916.5,624.2 C921.0,623.8 927.0,623.0 927.0,625.0 C927.0,627.0 921.0,626.2 916.5,625.8 C912.0,626.2 906.0,627.0 906.0,625.0Z" fill="#000" opacity="0.8" filter="url(#b05)"/>
<path d="M962.0,625.5 C962.0,622.7 968.0,623.5 973.0,624.0 C978.0,623.5 984.0,622.7 984.0,625.5 C984.0,628.3 978.0,627.5 973.0,627.0 C968.0,627.5 962.0,628.3 962.0,625.5Z" fill="#000" opacity="1" filter="url(#b05)"/>
<path d="M1077.0,625.5 C1077.0,623.2 1083.0,624.0 1087.0,624.5 C1091.0,624.0 1097.0,623.2 1097.0,625.5 C1097.0,627.8 1091.0,627.0 1087.0,626.5 C1083.0,627.0 1077.0,627.8 1077.0,625.5Z" fill="#000" opacity="0.9" filter="url(#b05)"/>
<path d="M1102.0,625.3 C1102.0,622.5 1108.0,623.3 1113.0,623.8 C1118.0,623.3 1124.0,622.5 1124.0,625.3 C1124.0,628.1 1118.0,627.3 1113.0,626.8 C1108.0,627.3 1102.0,628.1 1102.0,625.3Z" fill="#000" opacity="1" filter="url(#b05)"/>
<path d="M1132.0,625.5 C1132.0,623.2 1138.0,624.0 1142.5,624.5 C1147.0,624.0 1153.0,623.2 1153.0,625.5 C1153.0,627.8 1147.0,627.0 1142.5,626.5 C1138.0,627.0 1132.0,627.8 1132.0,625.5Z" fill="#000" opacity="0.9" filter="url(#b05)"/>
</g>
<clipPath id="bl3"><rect x="526.4" y="671.1" width="310.8" height="51.3"/></clipPath><g clip-path="url(#bl3)">
<path d="M529.0,707.5 C529.0,697.5 535.0,699.5 598.5,700.0 C662.0,699.5 668.0,697.5 668.0,707.5 C668.0,717.5 662.0,715.5 598.5,715.0 C535.0,715.5 529.0,717.5 529.0,707.5Z" fill="#000" opacity="1" filter="url(#b1)"/>
<path d="M692.0,707.0 C692.0,697.5 698.0,699.5 763.5,700.0 C829.0,699.5 835.0,697.5 835.0,707.0 C835.0,716.5 829.0,714.5 763.5,714.0 C698.0,714.5 692.0,716.5 692.0,707.0Z" fill="#000" opacity="1" filter="url(#b1)"/>
</g>
<clipPath id="bl4"><rect x="845.2" y="671.1" width="309.6" height="51.3"/></clipPath><g clip-path="url(#bl4)">
<path d="M848.0,689.5 C848.0,681.5 854.0,683.5 861.0,684.0 C868.0,683.5 874.0,681.5 874.0,689.5 C874.0,697.5 868.0,695.5 861.0,695.0 C854.0,695.5 848.0,697.5 848.0,689.5Z" fill="#000" opacity="1" filter="url(#b05)"/>
<path d="M876.0,689.5 C876.0,681.5 882.0,683.5 889.0,684.0 C896.0,683.5 902.0,681.5 902.0,689.5 C902.0,697.5 896.0,695.5 889.0,695.0 C882.0,695.5 876.0,697.5 876.0,689.5Z" fill="#000" opacity="1" filter="url(#b05)"/>
<path d="M904.0,689.5 C904.0,681.5 910.0,683.5 917.0,684.0 C924.0,683.5 930.0,681.5 930.0,689.5 C930.0,697.5 924.0,695.5 917.0,695.0 C910.0,695.5 904.0,697.5 904.0,689.5Z" fill="#000" opacity="1" filter="url(#b05)"/>
<path d="M932.0,689.5 C932.0,681.5 938.0,683.5 945.0,684.0 C952.0,683.5 958.0,681.5 958.0,689.5 C958.0,697.5 952.0,695.5 945.0,695.0 C938.0,695.5 932.0,697.5 932.0,689.5Z" fill="#000" opacity="1" filter="url(#b05)"/>
<path d="M960.0,687.5 C960.0,679.5 966.0,681.5 973.0,682.0 C980.0,681.5 986.0,679.5 986.0,687.5 C986.0,695.5 980.0,693.5 973.0,693.0 C966.0,693.5 960.0,695.5 960.0,687.5Z" fill="#000" opacity="1" filter="url(#b05)"/>
<path d="M846.0,707.0 C846.0,696.5 852.0,698.5 914.0,699.0 C976.0,698.5 982.0,696.5 982.0,707.0 C982.0,717.5 976.0,715.5 914.0,715.0 C852.0,715.5 846.0,717.5 846.0,707.0Z" fill="#000" opacity="1" filter="url(#b1)"/>
<path d="M1016.0,689.5 C1016.0,681.5 1022.0,683.5 1028.8,684.0 C1035.5,683.5 1041.5,681.5 1041.5,689.5 C1041.5,697.5 1035.5,695.5 1028.8,695.0 C1022.0,695.5 1016.0,697.5 1016.0,689.5Z" fill="#000" opacity="1" filter="url(#b05)"/>
<path d="M1044.0,689.5 C1044.0,681.5 1050.0,683.5 1056.8,684.0 C1063.5,683.5 1069.5,681.5 1069.5,689.5 C1069.5,697.5 1063.5,695.5 1056.8,695.0 C1050.0,695.5 1044.0,697.5 1044.0,689.5Z" fill="#000" opacity="1" filter="url(#b05)"/>
<path d="M1072.0,689.5 C1072.0,681.5 1078.0,683.5 1084.8,684.0 C1091.5,683.5 1097.5,681.5 1097.5,689.5 C1097.5,697.5 1091.5,695.5 1084.8,695.0 C1078.0,695.5 1072.0,697.5 1072.0,689.5Z" fill="#000" opacity="1" filter="url(#b05)"/>
<path d="M1100.0,689.5 C1100.0,681.5 1106.0,683.5 1112.8,684.0 C1119.5,683.5 1125.5,681.5 1125.5,689.5 C1125.5,697.5 1119.5,695.5 1112.8,695.0 C1106.0,695.5 1100.0,697.5 1100.0,689.5Z" fill="#000" opacity="1" filter="url(#b05)"/>
<path d="M1128.0,689.5 C1128.0,681.5 1134.0,683.5 1140.8,684.0 C1147.5,683.5 1153.5,681.5 1153.5,689.5 C1153.5,697.5 1147.5,695.5 1140.8,695.0 C1134.0,695.5 1128.0,697.5 1128.0,689.5Z" fill="#000" opacity="1" filter="url(#b05)"/>
<path d="M1015.0,707.0 C1015.0,696.5 1021.0,698.5 1084.0,699.0 C1147.0,698.5 1153.0,696.5 1153.0,707.0 C1153.0,717.5 1147.0,715.5 1084.0,715.0 C1021.0,715.5 1015.0,717.5 1015.0,707.0Z" fill="#000" opacity="1" filter="url(#b1)"/>
</g>
<clipPath id="bl5"><rect x="526.4" y="730.6" width="310.8" height="52"/></clipPath><g clip-path="url(#bl5)">
<path d="M559.0,747.0 C559.0,744.5 565.0,745.0 572.0,745.5 C579.0,745.0 585.0,744.5 585.0,747.0 C585.0,749.5 579.0,749.0 572.0,748.5 C565.0,749.0 559.0,749.5 559.0,747.0Z" fill="#f06a92" opacity="0.85" filter="url(#b1)"/>
<path d="M587.0,746.0 C587.0,744.0 593.0,744.5 599.0,745.0 C605.0,744.5 611.0,744.0 611.0,746.0 C611.0,748.0 605.0,747.5 599.0,747.0 C593.0,747.5 587.0,748.0 587.0,746.0Z" fill="#f06a92" opacity="0.55" filter="url(#b1)"/>
<path d="M615.0,745.5 C615.0,743.5 621.0,744.0 628.5,744.5 C636.0,744.0 642.0,743.5 642.0,745.5 C642.0,747.5 636.0,747.0 628.5,746.5 C621.0,747.0 615.0,747.5 615.0,745.5Z" fill="#f06a92" opacity="0.6" filter="url(#b1)"/>
<path d="M641.0,745.0 C641.0,742.5 647.0,743.0 654.5,743.5 C662.0,743.0 668.0,742.5 668.0,745.0 C668.0,747.5 662.0,747.0 654.5,746.5 C647.0,747.0 641.0,747.5 641.0,745.0Z" fill="#f06a92" opacity="0.85" filter="url(#b1)"/>
<path d="M728.0,744.5 C728.0,742.0 734.0,742.5 741.5,743.0 C749.0,742.5 755.0,742.0 755.0,744.5 C755.0,747.0 749.0,746.5 741.5,746.0 C734.0,746.5 728.0,747.0 728.0,744.5Z" fill="#f06a92" opacity="0.9" filter="url(#b1)"/>
<path d="M756.0,745.5 C756.0,743.2 762.0,743.8 769.0,744.2 C776.0,743.8 782.0,743.2 782.0,745.5 C782.0,747.8 776.0,747.2 769.0,746.8 C762.0,747.2 756.0,747.8 756.0,745.5Z" fill="#f06a92" opacity="0.5" filter="url(#b1)"/>
<path d="M784.0,745.8 C784.0,743.5 790.0,744.0 797.0,744.5 C804.0,744.0 810.0,743.5 810.0,745.8 C810.0,748.0 804.0,747.5 797.0,747.0 C790.0,747.5 784.0,748.0 784.0,745.8Z" fill="#f06a92" opacity="0.5" filter="url(#b1)"/>
<path d="M812.0,746.0 C812.0,743.5 818.0,744.0 825.0,744.5 C832.0,744.0 838.0,743.5 838.0,746.0 C838.0,748.5 832.0,748.0 825.0,747.5 C818.0,748.0 812.0,748.5 812.0,746.0Z" fill="#f06a92" opacity="0.5" filter="url(#b1)"/>
<path d="M528.0,772.0 C528.0,768.5 534.0,769.0 541.0,769.5 C548.0,769.0 554.0,768.5 554.0,772.0 C554.0,775.5 548.0,775.0 541.0,774.5 C534.0,775.0 528.0,775.5 528.0,772.0Z" fill="#f06a92" opacity="0.7" filter="url(#b1)"/>
<path d="M559.0,770.0 C559.0,768.0 565.0,768.5 569.5,769.0 C574.0,768.5 580.0,768.0 580.0,770.0 C580.0,772.0 574.0,771.5 569.5,771.0 C565.0,771.5 559.0,772.0 559.0,770.0Z" fill="#f06a92" opacity="0.2" filter="url(#b1)"/>
<path d="M698.0,765.5 C698.0,761.5 704.0,762.0 710.0,762.5 C716.0,762.0 722.0,761.5 722.0,765.5 C722.0,769.5 716.0,769.0 710.0,768.5 C704.0,769.0 698.0,769.5 698.0,765.5Z" fill="#f06a92" opacity="0.9" filter="url(#b1)"/>
<path d="M725.0,767.0 C725.0,764.5 731.0,765.0 737.5,765.5 C744.0,765.0 750.0,764.5 750.0,767.0 C750.0,769.5 744.0,769.0 737.5,768.5 C731.0,769.0 725.0,769.5 725.0,767.0Z" fill="#f06a92" opacity="0.15" filter="url(#b1)"/>
<path d="M668.0,731.5 C668.0,730.2 674.0,730.2 681.0,730.8 C688.0,730.2 694.0,730.2 694.0,731.5 C694.0,732.8 688.0,732.8 681.0,732.2 C674.0,732.8 668.0,732.8 668.0,731.5Z" fill="#5a8ad0" opacity="0.7" filter="url(#b1)"/>
<path d="M668.0,746.0 C668.0,744.5 674.0,744.5 681.0,745.0 C688.0,744.5 694.0,744.5 694.0,746.0 C694.0,747.5 688.0,747.5 681.0,747.0 C674.0,747.5 668.0,747.5 668.0,746.0Z" fill="#5a8ad0" opacity="0.8" filter="url(#b1)"/>
<path d="M667.0,774.0 C667.0,770.0 673.0,770.0 680.0,770.5 C687.0,770.0 693.0,770.0 693.0,774.0 C693.0,778.0 687.0,778.0 680.0,777.5 C673.0,778.0 667.0,778.0 667.0,774.0Z" fill="#f07040" opacity="0.8" filter="url(#b2)"/>
<ellipse cx="680.0" cy="774.0" rx="4.0" ry="3.0" fill="#e05010" opacity="0.6" transform="rotate(0 680.0 774.0)" filter="url(#b1)"/>
</g>
<clipPath id="bl6"><rect x="845.2" y="730.6" width="309.6" height="52"/></clipPath><g clip-path="url(#bl6)">
<path d="M877.0,746.0 C877.0,743.8 883.0,744.2 890.0,744.8 C897.0,744.2 903.0,743.8 903.0,746.0 C903.0,748.2 897.0,747.8 890.0,747.2 C883.0,747.8 877.0,748.2 877.0,746.0Z" fill="#f06a92" opacity="0.8" filter="url(#b1)"/>
<path d="M905.0,745.0 C905.0,743.0 911.0,743.5 917.0,744.0 C923.0,743.5 929.0,743.0 929.0,745.0 C929.0,747.0 923.0,746.5 917.0,746.0 C911.0,746.5 905.0,747.0 905.0,745.0Z" fill="#f06a92" opacity="0.7" filter="url(#b1)"/>
<path d="M931.0,744.5 C931.0,742.5 937.0,743.0 944.0,743.5 C951.0,743.0 957.0,742.5 957.0,744.5 C957.0,746.5 951.0,746.0 944.0,745.5 C937.0,746.0 931.0,746.5 931.0,744.5Z" fill="#f06a92" opacity="0.75" filter="url(#b1)"/>
<path d="M960.0,745.5 C960.0,742.5 966.0,743.0 972.0,743.5 C978.0,743.0 984.0,742.5 984.0,745.5 C984.0,748.5 978.0,748.0 972.0,747.5 C966.0,748.0 960.0,748.5 960.0,745.5Z" fill="#f06a92" opacity="0.9" filter="url(#b1)"/>
<path d="M1045.0,744.5 C1045.0,742.2 1051.0,742.8 1058.5,743.2 C1066.0,742.8 1072.0,742.2 1072.0,744.5 C1072.0,746.8 1066.0,746.2 1058.5,745.8 C1051.0,746.2 1045.0,746.8 1045.0,744.5Z" fill="#f06a92" opacity="0.6" filter="url(#b1)"/>
<path d="M1077.0,746.0 C1077.0,744.0 1083.0,744.5 1088.5,745.0 C1094.0,744.5 1100.0,744.0 1100.0,746.0 C1100.0,748.0 1094.0,747.5 1088.5,747.0 C1083.0,747.5 1077.0,748.0 1077.0,746.0Z" fill="#f06a92" opacity="0.4" filter="url(#b1)"/>
<path d="M1102.0,746.5 C1102.0,744.5 1108.0,745.0 1113.5,745.5 C1119.0,745.0 1125.0,744.5 1125.0,746.5 C1125.0,748.5 1119.0,748.0 1113.5,747.5 C1108.0,748.0 1102.0,748.5 1102.0,746.5Z" fill="#f06a92" opacity="0.4" filter="url(#b1)"/>
<path d="M1130.0,748.0 C1130.0,745.5 1136.0,746.0 1142.0,746.5 C1148.0,746.0 1154.0,745.5 1154.0,748.0 C1154.0,750.5 1148.0,750.0 1142.0,749.5 C1136.0,750.0 1130.0,750.5 1130.0,748.0Z" fill="#f06a92" opacity="0.5" filter="url(#b1)"/>
<path d="M848.0,772.6 C848.0,769.1 854.0,769.6 860.5,770.1 C867.0,769.6 873.0,769.1 873.0,772.6 C873.0,776.1 867.0,775.6 860.5,775.1 C854.0,775.6 848.0,776.1 848.0,772.6Z" fill="#f06a92" opacity="0.75" filter="url(#b1)"/>
<path d="M1016.0,766.8 C1016.0,763.3 1022.0,763.8 1028.5,764.3 C1035.0,763.8 1041.0,763.3 1041.0,766.8 C1041.0,770.3 1035.0,769.8 1028.5,769.3 C1022.0,769.8 1016.0,770.3 1016.0,766.8Z" fill="#f06a92" opacity="0.5" filter="url(#b1)"/>
<path d="M985.0,731.8 C985.0,730.5 991.0,730.5 998.5,731.0 C1006.0,730.5 1012.0,730.5 1012.0,731.8 C1012.0,733.0 1006.0,733.0 998.5,732.5 C991.0,733.0 985.0,733.0 985.0,731.8Z" fill="#5a8ad0" opacity="0.7" filter="url(#b1)"/>
<path d="M985.0,746.0 C985.0,744.5 991.0,744.5 998.5,745.0 C1006.0,744.5 1012.0,744.5 1012.0,746.0 C1012.0,747.5 1006.0,747.5 998.5,747.0 C991.0,747.5 985.0,747.5 985.0,746.0Z" fill="#5a8ad0" opacity="0.85" filter="url(#b1)"/>
<path d="M985.0,774.0 C985.0,770.5 991.0,770.5 998.5,771.0 C1006.0,770.5 1012.0,770.5 1012.0,774.0 C1012.0,777.5 1006.0,777.5 998.5,777.0 C991.0,777.5 985.0,777.5 985.0,774.0Z" fill="#f07040" opacity="0.8" filter="url(#b2)"/>
</g>
<rect x="225.0" y="109.0" width="23" height="2" fill="#fff"/>
<rect x="225.0" y="185.0" width="23" height="2" fill="#fff"/>
<rect x="225.0" y="260.0" width="23" height="2" fill="#fff"/>
<rect x="225.0" y="335.0" width="23" height="2" fill="#fff"/>
<rect x="225.0" y="418.0" width="23" height="2" fill="#fff"/>
<rect x="225.0" y="494.0" width="23" height="2" fill="#fff"/>
<rect x="519.0" y="106.5" width="23" height="2" fill="#fff"/>
<rect x="745.0" y="106.5" width="23" height="2" fill="#fff"/>
<rect x="519.0" y="185.0" width="23" height="2" fill="#fff"/>
<rect x="745.0" y="185.0" width="23" height="2" fill="#fff"/>
<rect x="519.0" y="264.0" width="23" height="2" fill="#fff"/>
<rect x="745.0" y="264.0" width="23" height="2" fill="#fff"/>
<rect x="519.0" y="342.5" width="23" height="2" fill="#fff"/>
<rect x="745.0" y="342.5" width="23" height="2" fill="#fff"/>
<rect x="519.0" y="421.0" width="23" height="2" fill="#fff"/>
<rect x="745.0" y="421.0" width="23" height="2" fill="#fff"/>
<rect x="1031.0" y="105.0" width="23" height="2" fill="#fff"/>
<rect x="1260.0" y="105.0" width="23" height="2" fill="#fff"/>
<rect x="1031.0" y="184.5" width="23" height="2" fill="#fff"/>
<rect x="1260.0" y="184.5" width="23" height="2" fill="#fff"/>
<rect x="1031.0" y="262.0" width="23" height="2" fill="#fff"/>
<rect x="1260.0" y="262.0" width="23" height="2" fill="#fff"/>
<rect x="1031.0" y="341.5" width="23" height="2" fill="#fff"/>
<rect x="1260.0" y="341.5" width="23" height="2" fill="#fff"/>
<rect x="1031.0" y="418.5" width="23" height="2" fill="#fff"/>
<rect x="1260.0" y="418.5" width="23" height="2" fill="#fff"/>
</svg>
<div class="t" style="left:17.5px;top:8.9px;font-size:14px;color:#141414;font-weight:bold;transform:translateX(-50%);transform-origin:0 50%;">a</div>
<div class="t" style="left:72.7px;top:27.2px;font-size:13.5px;color:#e3141e;font-weight:bold;transform:translateX(-50%);transform-origin:0 50%;">H3K14ub</div>
<div class="t" style="left:145.3px;top:27.4px;font-size:13.5px;color:#2f86cf;font-weight:bold;transform:translateX(-50%);transform-origin:0 50%;">DAPI</div>
<div class="t" style="left:217.4px;top:26.9px;font-size:14.5px;color:#141414;font-weight:bold;transform:translateX(-50%);transform-origin:0 50%;">Merge</div>
<div class="t" style="left:22.5px;top:83.0px;font-size:14px;color:#141414;font-weight:bold;transform:translate(-50%,-50%) rotate(-90deg);">G2</div>
<div class="t" style="left:22.5px;top:159.7px;font-size:14px;color:#141414;font-weight:bold;transform:translate(-50%,-50%) rotate(-90deg);">Prometa</div>
<div class="t" style="left:22.5px;top:234.0px;font-size:14px;color:#141414;font-weight:bold;transform:translate(-50%,-50%) rotate(-90deg);">Meta</div>
<div class="t" style="left:22.5px;top:309.8px;font-size:14px;color:#141414;font-weight:bold;transform:translate(-50%,-50%) rotate(-90deg);">Ana</div>
<div class="t" style="left:22.5px;top:386.3px;font-size:14px;color:#141414;font-weight:bold;transform:translate(-50%,-50%) rotate(-90deg);">Telo</div>
<div class="t" style="left:22.5px;top:468.0px;font-size:14px;color:#141414;font-weight:bold;transform:translate(-50%,-50%) rotate(-90deg);">G1</div>
<div class="t" style="left:282.0px;top:8.4px;font-size:14px;color:#141414;font-weight:bold;transform:translateX(-50%);transform-origin:0 50%;">b</div>
<div class="t" style="left:363.7px;top:19.3px;font-size:13.7px;color:#e3141e;font-weight:bold;transform:translateX(-50%);transform-origin:0 50%;">SUV39H2</div>
<div class="t" style="left:436.5px;top:19.3px;font-size:13.7px;color:#2f86cf;font-weight:bold;transform:translateX(-50%);transform-origin:0 50%;">DAPI</div>
<div class="t" style="left:512.3px;top:18.9px;font-size:14.5px;color:#141414;font-weight:bold;transform:translateX(-50%);transform-origin:0 50%;">Merge</div>
<div class="t" style="left:587.0px;top:19.3px;font-size:13.7px;color:#e3141e;font-weight:bold;transform:translateX(-50%);transform-origin:0 50%;">HP1α</div>
<div class="t" style="left:662.7px;top:19.3px;font-size:13.7px;color:#2f86cf;font-weight:bold;transform:translateX(-50%);transform-origin:0 50%;">DAPI</div>
<div class="t" style="left:737.7px;top:18.9px;font-size:14.5px;color:#141414;font-weight:bold;transform:translateX(-50%);transform-origin:0 50%;">Merge</div>
<div class="t" style="left:874.6px;top:20.3px;font-size:13.7px;color:#e3141e;font-weight:bold;transform:translateX(-50%);transform-origin:0 50%;">SUV39H2</div>
<div class="t" style="left:950.3px;top:20.3px;font-size:13.7px;color:#2f86cf;font-weight:bold;transform:translateX(-50%);transform-origin:0 50%;">DAPI</div>
<div class="t" style="left:1024.3px;top:19.9px;font-size:14.5px;color:#141414;font-weight:bold;transform:translateX(-50%);transform-origin:0 50%;">Merge</div>
<div class="t" style="left:1102.5px;top:20.3px;font-size:13.7px;color:#e3141e;font-weight:bold;transform:translateX(-50%);transform-origin:0 50%;">HP1α</div>
<div class="t" style="left:1178.3px;top:20.3px;font-size:13.7px;color:#2f86cf;font-weight:bold;transform:translateX(-50%);transform-origin:0 50%;">DAPI</div>
<div class="t" style="left:1252.7px;top:19.9px;font-size:14.5px;color:#141414;font-weight:bold;transform:translateX(-50%);transform-origin:0 50%;">Merge</div>
<div class="t" style="left:288.5px;top:233.5px;font-size:14.8px;color:#141414;font-weight:normal;transform:translate(-50%,-50%) rotate(-90deg);">Parental</div>
<div class="t" style="left:799.0px;top:232.0px;font-size:13.8px;color:#141414;font-weight:normal;transform:translate(-50%,-50%) rotate(-90deg);">G2E3 KO-10</div>
<div class="t" style="left:317.8px;top:76.8px;font-size:14px;color:#141414;font-weight:bold;transform:translate(-50%,-50%) rotate(-90deg);">G2</div>
<div class="t" style="left:317.8px;top:150.5px;font-size:14px;color:#141414;font-weight:bold;transform:translate(-50%,-50%) rotate(-90deg);">Meta</div>
<div class="t" style="left:317.8px;top:229.0px;font-size:14px;color:#141414;font-weight:bold;transform:translate(-50%,-50%) rotate(-90deg);">Ana</div>
<div class="t" style="left:317.8px;top:300.8px;font-size:14px;color:#141414;font-weight:bold;transform:translate(-50%,-50%) rotate(-90deg);">Telo</div>
<div class="t" style="left:317.8px;top:385.0px;font-size:14px;color:#141414;font-weight:bold;transform:translate(-50%,-50%) rotate(-90deg);">G1</div>
<div class="t" style="left:829.5px;top:75.6px;font-size:14px;color:#141414;font-weight:bold;transform:translate(-50%,-50%) rotate(-90deg);">G2</div>
<div class="t" style="left:829.5px;top:156.0px;font-size:14px;color:#141414;font-weight:bold;transform:translate(-50%,-50%) rotate(-90deg);">Meta</div>
<div class="t" style="left:829.5px;top:232.0px;font-size:14px;color:#141414;font-weight:bold;transform:translate(-50%,-50%) rotate(-90deg);">Ana</div>
<div class="t" style="left:829.5px;top:312.0px;font-size:14px;color:#141414;font-weight:bold;transform:translate(-50%,-50%) rotate(-90deg);">Telo</div>
<div class="t" style="left:829.5px;top:388.4px;font-size:14px;color:#141414;font-weight:bold;transform:translate(-50%,-50%) rotate(-90deg);">G1</div>
<div class="t" style="left:543.0px;top:43.6px;font-size:12.2px;color:#f2f2f2;font-weight:bold;letter-spacing:-0.4px;transform:translateX(-100%);transform-origin:100% 50%;">98.0%</div>
<div class="t" style="left:542.5px;top:122.5px;font-size:12.2px;color:#f2f2f2;font-weight:bold;letter-spacing:-0.4px;transform:translateX(-100%);transform-origin:100% 50%;">95.6%</div>
<div class="t" style="left:543.0px;top:199.8px;font-size:12.2px;color:#f2f2f2;font-weight:bold;letter-spacing:-0.4px;transform:translateX(-100%);transform-origin:100% 50%;">97.8%</div>
<div class="t" style="left:543.0px;top:278.3px;font-size:12.2px;color:#f2f2f2;font-weight:bold;letter-spacing:-0.4px;transform:translateX(-100%);transform-origin:100% 50%;">100%</div>
<div class="t" style="left:543.0px;top:358.2px;font-size:12.2px;color:#f2f2f2;font-weight:bold;letter-spacing:-0.4px;transform:translateX(-100%);transform-origin:100% 50%;">97.7%</div>
<div class="t" style="left:769.7px;top:42.6px;font-size:12.2px;color:#f2f2f2;font-weight:bold;letter-spacing:-0.4px;transform:translateX(-100%);transform-origin:100% 50%;">84.0%</div>
<div class="t" style="left:768.5px;top:120.9px;font-size:12.2px;color:#f2f2f2;font-weight:bold;letter-spacing:-0.4px;transform:translateX(-100%);transform-origin:100% 50%;">100%</div>
<div class="t" style="left:768.7px;top:199.8px;font-size:12.2px;color:#f2f2f2;font-weight:bold;letter-spacing:-0.4px;transform:translateX(-100%);transform-origin:100% 50%;">97.5%</div>
<div class="t" style="left:769.5px;top:278.3px;font-size:12.2px;color:#f2f2f2;font-weight:bold;letter-spacing:-0.4px;transform:translateX(-100%);transform-origin:100% 50%;">100%</div>
<div class="t" style="left:769.5px;top:358.2px;font-size:12.2px;color:#f2f2f2;font-weight:bold;letter-spacing:-0.4px;transform:translateX(-100%);transform-origin:100% 50%;">83%</div>
<div class="t" style="left:1056.5px;top:41.9px;font-size:12.2px;color:#f2f2f2;font-weight:bold;letter-spacing:-0.4px;transform:translateX(-100%);transform-origin:100% 50%;">99.3%</div>
<div class="t" style="left:1056.5px;top:121.9px;font-size:12.2px;color:#f2f2f2;font-weight:bold;letter-spacing:-0.4px;transform:translateX(-100%);transform-origin:100% 50%;">100%</div>
<div class="t" style="left:1056.7px;top:199.6px;font-size:12.2px;color:#f2f2f2;font-weight:bold;letter-spacing:-0.4px;transform:translateX(-100%);transform-origin:100% 50%;">97.8%</div>
<div class="t" style="left:1056.7px;top:278.5px;font-size:12.2px;color:#f2f2f2;font-weight:bold;letter-spacing:-0.4px;transform:translateX(-100%);transform-origin:100% 50%;">100%</div>
<div class="t" style="left:1056.7px;top:356.0px;font-size:12.2px;color:#f2f2f2;font-weight:bold;letter-spacing:-0.4px;transform:translateX(-100%);transform-origin:100% 50%;">96.3%</div>
<div class="t" style="left:1284.9px;top:40.9px;font-size:12.2px;color:#f2f2f2;font-weight:bold;letter-spacing:-0.4px;transform:translateX(-100%);transform-origin:100% 50%;">84.2%</div>
<div class="t" style="left:1284.1px;top:118.8px;font-size:12.2px;color:#f2f2f2;font-weight:bold;letter-spacing:-0.4px;transform:translateX(-100%);transform-origin:100% 50%;">100%</div>
<div class="t" style="left:1283.8px;top:199.6px;font-size:12.2px;color:#f2f2f2;font-weight:bold;letter-spacing:-0.4px;transform:translateX(-100%);transform-origin:100% 50%;">100%</div>
<div class="t" style="left:1284.5px;top:278.5px;font-size:12.2px;color:#f2f2f2;font-weight:bold;letter-spacing:-0.4px;transform:translateX(-100%);transform-origin:100% 50%;">100%</div>
<div class="t" style="left:1284.5px;top:356.0px;font-size:12.2px;color:#f2f2f2;font-weight:bold;letter-spacing:-0.4px;transform:translateX(-100%);transform-origin:100% 50%;">85.7%</div>
<div class="t" style="left:18.5px;top:526.4px;font-size:14px;color:#141414;font-weight:bold;transform:translateX(-50%);transform-origin:0 50%;">c</div>
<div class="t" style="left:160.5px;top:535.2px;font-size:15px;color:#e2ee44;font-weight:bold;transform:translateX(-50%);transform-origin:0 50%;">CHROMO</div>
<div class="t" style="left:119.2px;top:568.2px;font-size:15px;color:#e3141e;font-weight:bold;transform:translateX(-50%);transform-origin:0 50%;">H3K14ub</div>
<div class="t" style="left:213.5px;top:568.2px;font-size:15px;color:#e3141e;font-weight:bold;transform:translateX(-50%);transform-origin:0 50%;">H3K9m3</div>
<div class="t" style="left:486.0px;top:464.9px;font-size:15px;color:#141414;font-weight:bold;transform:translateX(-50%);transform-origin:0 50%;">d</div>
<div class="t" style="left:820.7px;top:463.5px;font-size:13.5px;color:#141414;font-weight:bold;transform:translateX(-50%);transform-origin:0 50%;"><i>In vitro</i> pulldown with immobilized H3 peptides</div>
<div class="t" style="left:1001.0px;top:482.5px;font-size:13.5px;color:#141414;font-weight:bold;transform:translateX(-50%);transform-origin:0 50%;"><i>In vitro</i> ubiquitination with G2E3</div>
<div class="t" style="left:599.6px;top:509.0px;font-size:13.5px;color:#141414;font-weight:bold;transform:translateX(-50%);transform-origin:0 50%;">H3(1-21aa)</div>
<div class="t" style="left:769.5px;top:509.0px;font-size:13.5px;color:#141414;font-weight:bold;transform:translateX(-50%);transform-origin:0 50%;">H3K9me3(1-21aa)</div>
<div class="t" style="left:918.5px;top:509.0px;font-size:13.5px;color:#141414;font-weight:bold;transform:translateX(-50%);transform-origin:0 50%;">H3(1-21aa)</div>
<div class="t" style="left:1086.0px;top:509.0px;font-size:13.5px;color:#141414;font-weight:bold;transform:translateX(-50%);transform-origin:0 50%;">H3K9me3(1-21aa)</div>
<div class="t" style="left:614.7px;top:538.5px;font-size:12.2px;color:#1a1a1a;font-weight:normal;transform:translateX(-50%);transform-origin:0 50%;">GST-SUV39H2(1-105aa)</div>
<div class="t" style="left:781.5px;top:538.5px;font-size:12.2px;color:#1a1a1a;font-weight:normal;transform:translateX(-50%);transform-origin:0 50%;">GST-SUV39H2(1-105aa)</div>
<div class="t" style="left:936.4px;top:538.5px;font-size:12.2px;color:#1a1a1a;font-weight:normal;transform:translateX(-50%);transform-origin:0 50%;">GST-SUV39H2(1-105aa)</div>
<div class="t" style="left:1106.3px;top:538.5px;font-size:12.2px;color:#1a1a1a;font-weight:normal;transform:translateX(-50%);transform-origin:0 50%;">GST-SUV39H2(1-105aa)</div>
<div class="t" style="left:543.7px;top:589.9px;font-size:14px;color:#141414;font-weight:bold;transform:translate(-50%,-50%) rotate(-90deg);">GST</div>
<div class="t" style="left:569.2px;top:594.7px;font-size:14px;color:#141414;font-weight:bold;transform:translate(-50%,-50%) rotate(-90deg);">WT</div>
<div class="t" style="left:599.0px;top:587.2px;font-size:14px;color:#141414;font-weight:bold;transform:translate(-50%,-50%) rotate(-90deg);">D54A</div>
<div class="t" style="left:627.2px;top:586.7px;font-size:14px;color:#141414;font-weight:bold;transform:translate(-50%,-50%) rotate(-90deg);">W68A</div>
<div class="t" style="left:655.3px;top:587.0px;font-size:14px;color:#141414;font-weight:bold;transform:translate(-50%,-50%) rotate(-90deg);">W78A</div>
<div class="t" style="left:709.6px;top:589.9px;font-size:14px;color:#141414;font-weight:bold;transform:translate(-50%,-50%) rotate(-90deg);">GST</div>
<div class="t" style="left:736.5px;top:594.7px;font-size:14px;color:#141414;font-weight:bold;transform:translate(-50%,-50%) rotate(-90deg);">WT</div>
<div class="t" style="left:766.0px;top:587.2px;font-size:14px;color:#141414;font-weight:bold;transform:translate(-50%,-50%) rotate(-90deg);">D54A</div>
<div class="t" style="left:793.5px;top:586.7px;font-size:14px;color:#141414;font-weight:bold;transform:translate(-50%,-50%) rotate(-90deg);">W68A</div>
<div class="t" style="left:821.5px;top:587.0px;font-size:14px;color:#141414;font-weight:bold;transform:translate(-50%,-50%) rotate(-90deg);">W78A</div>
<div class="t" style="left:863.0px;top:589.9px;font-size:14px;color:#141414;font-weight:bold;transform:translate(-50%,-50%) rotate(-90deg);">GST</div>
<div class="t" style="left:889.5px;top:594.7px;font-size:14px;color:#141414;font-weight:bold;transform:translate(-50%,-50%) rotate(-90deg);">WT</div>
<div class="t" style="left:918.5px;top:587.2px;font-size:14px;color:#141414;font-weight:bold;transform:translate(-50%,-50%) rotate(-90deg);">D54A</div>
<div class="t" style="left:946.5px;top:586.7px;font-size:14px;color:#141414;font-weight:bold;transform:translate(-50%,-50%) rotate(-90deg);">W68A</div>
<div class="t" style="left:974.0px;top:587.0px;font-size:14px;color:#141414;font-weight:bold;transform:translate(-50%,-50%) rotate(-90deg);">W78A</div>
<div class="t" style="left:1030.0px;top:589.9px;font-size:14px;color:#141414;font-weight:bold;transform:translate(-50%,-50%) rotate(-90deg);">GST</div>
<div class="t" style="left:1055.5px;top:594.7px;font-size:14px;color:#141414;font-weight:bold;transform:translate(-50%,-50%) rotate(-90deg);">WT</div>
<div class="t" style="left:1086.5px;top:587.2px;font-size:14px;color:#141414;font-weight:bold;transform:translate(-50%,-50%) rotate(-90deg);">D54A</div>
<div class="t" style="left:1114.5px;top:586.7px;font-size:14px;color:#141414;font-weight:bold;transform:translate(-50%,-50%) rotate(-90deg);">W68A</div>
<div class="t" style="left:1142.0px;top:587.0px;font-size:14px;color:#141414;font-weight:bold;transform:translate(-50%,-50%) rotate(-90deg);">W78A</div>
<div class="t" style="left:514.2px;top:601.1px;font-size:12.2px;color:#141414;font-weight:bold;transform:translateX(-50%);transform-origin:0 50%;">kDa</div>
<div class="t" style="left:520.5px;top:622.2px;font-size:12.5px;color:#222;font-weight:bold;letter-spacing:-0.6px;transform:translateX(-100%);transform-origin:100% 50%;">35</div>
<div class="t" style="left:520.5px;top:676.5px;font-size:12.5px;color:#222;font-weight:bold;letter-spacing:-0.6px;transform:translateX(-100%);transform-origin:100% 50%;">15</div>
<div class="t" style="left:520.5px;top:692.0px;font-size:12.5px;color:#222;font-weight:bold;letter-spacing:-0.6px;transform:translateX(-100%);transform-origin:100% 50%;">10</div>
<div class="t" style="left:520.5px;top:742.7px;font-size:12.5px;color:#222;font-weight:bold;letter-spacing:-0.6px;transform:translateX(-100%);transform-origin:100% 50%;">35</div>
<div class="t" style="left:520.5px;top:770.5px;font-size:12.5px;color:#222;font-weight:bold;letter-spacing:-0.6px;transform:translateX(-100%);transform-origin:100% 50%;">25</div>
<div class="t" style="left:490.0px;top:657.8px;font-size:13.7px;color:#141414;font-weight:bold;transform:translate(-50%,-50%) rotate(-90deg);">pulldown</div>
<div class="t" style="left:488.3px;top:756.8px;font-size:13.7px;color:#141414;font-weight:bold;transform:translate(-50%,-50%) rotate(-90deg);">Input</div>
<div class="t" style="left:569.0px;top:654.3px;font-size:10.2px;color:#3a3a3a;font-weight:bold;letter-spacing:0.4px;transform:translateX(-50%);transform-origin:0 50%;">1.00</div>
<div class="t" style="left:598.2px;top:654.3px;font-size:10.2px;color:#3a3a3a;font-weight:bold;letter-spacing:0.4px;transform:translateX(-50%);transform-origin:0 50%;">0.92</div>
<div class="t" style="left:627.5px;top:654.3px;font-size:10.2px;color:#3a3a3a;font-weight:bold;letter-spacing:0.4px;transform:translateX(-50%);transform-origin:0 50%;">1.76</div>
<div class="t" style="left:654.2px;top:654.3px;font-size:10.2px;color:#3a3a3a;font-weight:bold;letter-spacing:0.4px;transform:translateX(-50%);transform-origin:0 50%;">0.82</div>
<div class="t" style="left:735.2px;top:654.3px;font-size:10.2px;color:#3a3a3a;font-weight:bold;letter-spacing:0.4px;transform:translateX(-50%);transform-origin:0 50%;">6.25</div>
<div class="t" style="left:764.6px;top:654.3px;font-size:10.2px;color:#3a3a3a;font-weight:bold;letter-spacing:0.4px;transform:translateX(-50%);transform-origin:0 50%;">5.40</div>
<div class="t" style="left:793.7px;top:654.3px;font-size:10.2px;color:#3a3a3a;font-weight:bold;letter-spacing:0.4px;transform:translateX(-50%);transform-origin:0 50%;">2.00</div>
<div class="t" style="left:822.2px;top:654.3px;font-size:10.2px;color:#3a3a3a;font-weight:bold;letter-spacing:0.4px;transform:translateX(-50%);transform-origin:0 50%;">3.11</div>
<div class="t" style="left:886.8px;top:654.3px;font-size:10.2px;color:#3a3a3a;font-weight:bold;letter-spacing:0.4px;transform:translateX(-50%);transform-origin:0 50%;">16.91</div>
<div class="t" style="left:916.1px;top:654.3px;font-size:10.2px;color:#3a3a3a;font-weight:bold;letter-spacing:0.4px;transform:translateX(-50%);transform-origin:0 50%;">1.13</div>
<div class="t" style="left:945.0px;top:654.3px;font-size:10.2px;color:#3a3a3a;font-weight:bold;letter-spacing:0.4px;transform:translateX(-50%);transform-origin:0 50%;">10.83</div>
<div class="t" style="left:973.8px;top:654.3px;font-size:10.2px;color:#3a3a3a;font-weight:bold;letter-spacing:0.4px;transform:translateX(-50%);transform-origin:0 50%;">2.27</div>
<div class="t" style="left:1056.0px;top:654.3px;font-size:10.2px;color:#3a3a3a;font-weight:bold;letter-spacing:0.4px;transform:translateX(-50%);transform-origin:0 50%;">27.74</div>
<div class="t" style="left:1087.1px;top:654.3px;font-size:10.2px;color:#3a3a3a;font-weight:bold;letter-spacing:0.4px;transform:translateX(-50%);transform-origin:0 50%;">2.58</div>
<div class="t" style="left:1112.8px;top:654.3px;font-size:10.2px;color:#3a3a3a;font-weight:bold;letter-spacing:0.4px;transform:translateX(-50%);transform-origin:0 50%;">6.24</div>
<div class="t" style="left:1142.2px;top:654.3px;font-size:10.2px;color:#3a3a3a;font-weight:bold;letter-spacing:0.4px;transform:translateX(-50%);transform-origin:0 50%;">2.62</div>
<div class="t" style="left:1161.0px;top:619.1px;font-size:15px;color:#141414;font-weight:bold;">GST</div>
<div class="t" style="left:1159.3px;top:660.2px;font-size:13.6px;color:#141414;font-weight:bold;">WB: αBiotin</div>
<div class="t" style="left:1156.0px;top:677.6px;font-size:13.7px;color:#141414;font-weight:bold;">-H3K14ub peptides</div>
<div class="t" style="left:1156.0px;top:694.4px;font-size:14px;color:#141414;font-weight:bold;">-peptides</div>
<div class="t" style="left:1161.0px;top:739.9px;font-size:13.8px;color:#141414;font-weight:bold;">Ponceau S</div>
<div class="t" style="left:1161.0px;top:755.5px;font-size:13.8px;color:#141414;font-weight:bold;">staining</div>
<div class="t" style="left:209.4px;top:602.2px;font-size:13.5px;color:#c8c232;font-weight:bold;transform:translateX(-50%);transform-origin:0 50%;">ubiquitin</div>
<div class="t" style="left:131.5px;top:637.0px;font-size:11.5px;color:#c0282c;font-weight:bold;transform:translateX(-50%);transform-origin:0 50%;">D54</div>
<div class="t" style="left:160.5px;top:655.6px;font-size:11.5px;color:#333;font-weight:bold;transform:translateX(-50%);transform-origin:0 50%;">G76</div>
<div class="t" style="left:135.2px;top:688.4px;font-size:11.5px;color:#4a5ab0;font-weight:bold;transform:translateX(-50%);transform-origin:0 50%;">K14</div>
<div class="t" style="left:222.5px;top:719.7px;font-size:11.5px;color:#c0282c;font-weight:bold;transform:translateX(-50%);transform-origin:0 50%;">W78</div>
<div class="t" style="left:157.3px;top:722.4px;font-size:11.5px;color:#c0282c;font-weight:bold;transform:translateX(-50%);transform-origin:0 50%;">W68</div>
<div class="t" style="left:181.5px;top:732.2px;font-size:11.5px;color:#8a3ab0;font-weight:bold;transform:translateX(-50%);transform-origin:0 50%;">K9</div>
<div class="t" style="left:123.6px;top:754.5px;font-size:11.5px;color:#b8282c;font-weight:bold;transform:translateX(-50%);transform-origin:0 50%;">W71</div>
<div class="t" style="left:170.7px;top:763.6px;font-size:11.5px;color:#d030a8;font-weight:bold;transform:translateX(-50%);transform-origin:0 50%;">K9me3</div>
<div class="t" style="left:234.2px;top:759.6px;font-size:11.5px;color:#d030c0;font-weight:bold;transform:translateX(-50%);transform-origin:0 50%;">H3(1-25AA)</div>
<div class="t" style="left:76.9px;top:771.7px;font-size:11.5px;color:#30c8d8;font-weight:bold;transform:translateX(-50%);transform-origin:0 50%;">SUV39H2(44-138AA)</div>
</div></body></html>
